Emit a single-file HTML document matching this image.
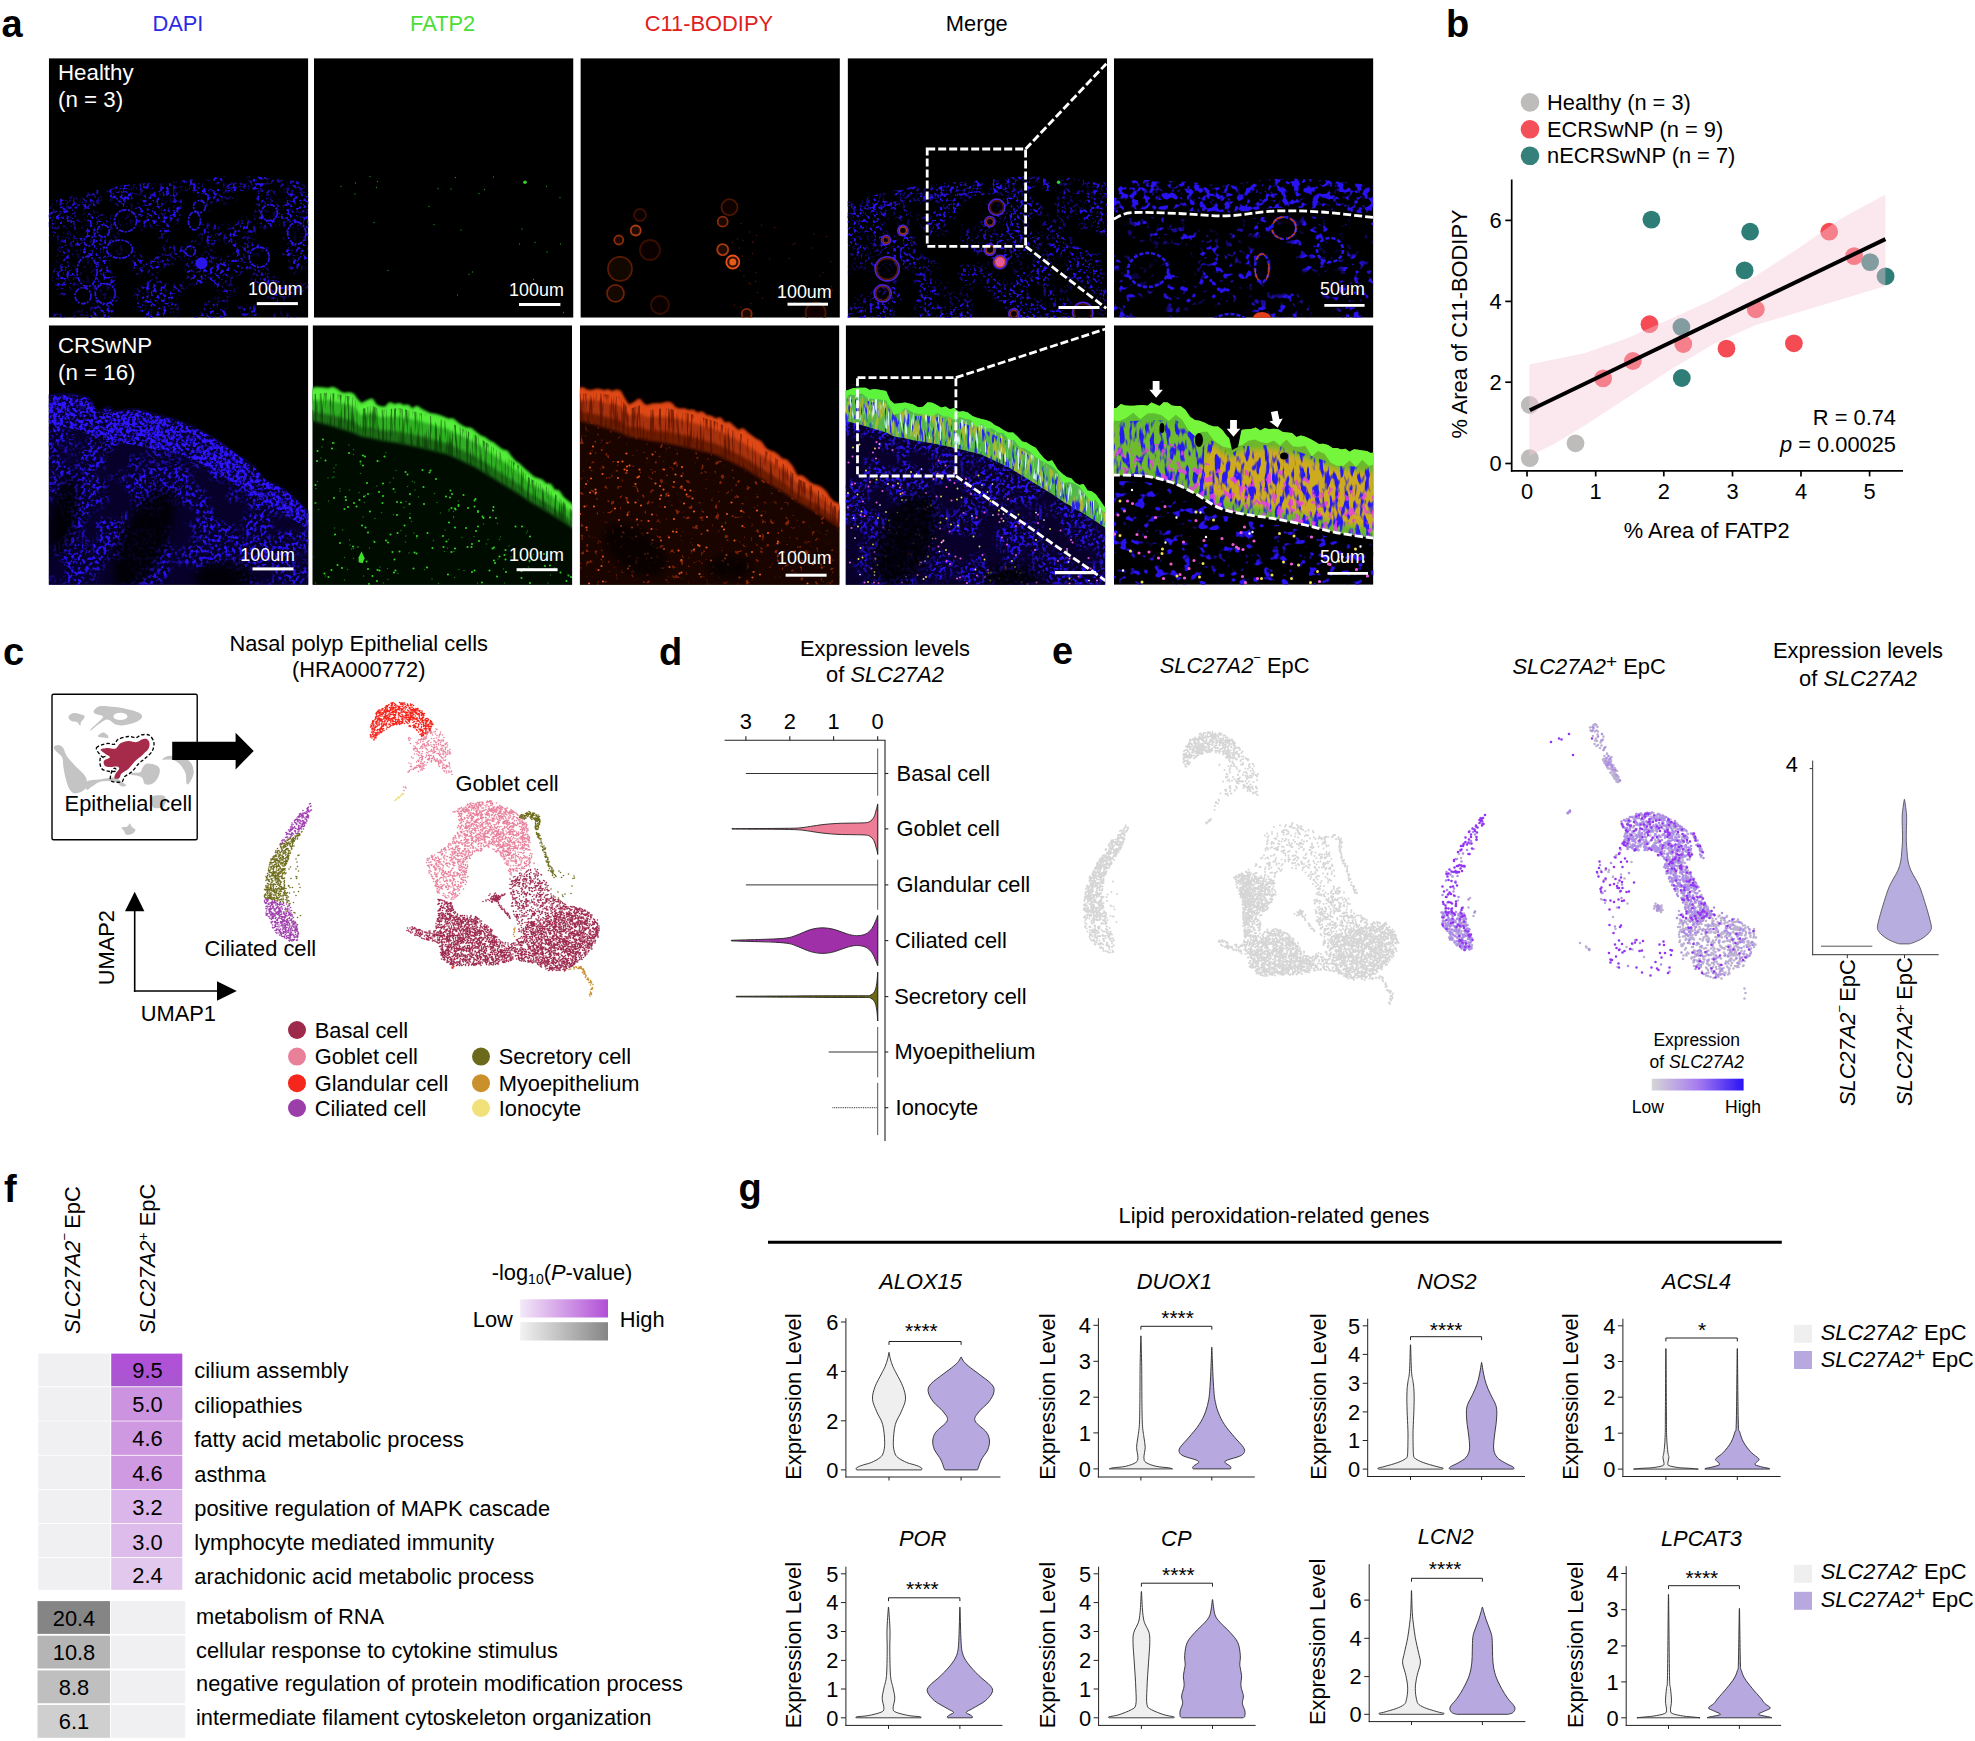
<!DOCTYPE html>
<html><head><meta charset="utf-8"><title>Figure</title>
<style>html,body{margin:0;padding:0;background:#fff}svg{display:block}text{font-family:"Liberation Sans",sans-serif}</style>
</head><body>
<svg width="1975" height="1741" viewBox="0 0 1975 1741">
<rect width="1975" height="1741" fill="#fff"/>
<text x="1446.0" y="36.5" font-size="38" font-weight="bold">b</text>
<circle cx="1530" cy="102.4" r="9.3" fill="#bdbcbb"/>
<text x="1547.0" y="110.0" font-size="21.85">Healthy (n = 3)</text>
<circle cx="1530" cy="129.3" r="9.3" fill="#f4505a"/>
<text x="1547.0" y="136.9" font-size="21.85">ECRSwNP (n = 9)</text>
<circle cx="1530" cy="155.8" r="9.3" fill="#35807a"/>
<text x="1547.0" y="163.4" font-size="21.85">nECRSwNP (n = 7)</text>
<circle cx="1529.8" cy="405.0" r="8.9" fill="#bdbcbb"/>
<circle cx="1529.8" cy="458.2" r="8.9" fill="#bdbcbb"/>
<circle cx="1575.5" cy="443.3" r="8.9" fill="#bdbcbb"/>
<circle cx="1603.1" cy="378.4" r="8.9" fill="#f54b55"/>
<circle cx="1632.9" cy="361.0" r="8.9" fill="#f54b55"/>
<circle cx="1649.5" cy="324.2" r="8.9" fill="#f54b55"/>
<circle cx="1683.3" cy="344.0" r="8.9" fill="#f54b55"/>
<circle cx="1726.5" cy="348.6" r="8.9" fill="#f54b55"/>
<circle cx="1755.8" cy="309.3" r="8.9" fill="#f54b55"/>
<circle cx="1793.9" cy="343.3" r="8.9" fill="#f54b55"/>
<circle cx="1829.2" cy="231.7" r="8.9" fill="#f54b55"/>
<circle cx="1854.1" cy="256.1" r="8.9" fill="#f54b55"/>
<circle cx="1651.4" cy="219.6" r="8.9" fill="#2f7d77"/>
<circle cx="1750.1" cy="231.7" r="8.9" fill="#2f7d77"/>
<circle cx="1744.6" cy="270.4" r="8.9" fill="#2f7d77"/>
<circle cx="1681.4" cy="327.0" r="8.9" fill="#2f7d77"/>
<circle cx="1681.8" cy="378.0" r="8.9" fill="#2f7d77"/>
<circle cx="1870.1" cy="262.1" r="8.9" fill="#2f7d77"/>
<circle cx="1885.6" cy="276.3" r="8.9" fill="#2f7d77"/>
<path d="M1529.3 364.6L1585.1 352.9L1627.6 338.0L1670.1 318.9L1712.7 299.7L1755.2 276.3L1797.7 248.7L1840.3 218.9L1885.4 194.5L1885.4 285.9L1840.3 299.7L1797.7 312.5L1755.2 325.3L1712.7 344.4L1670.1 369.9L1627.6 397.6L1585.1 425.2L1553.2 444.4L1529.3 456.0Z" fill="#f6c9d6" fill-opacity="0.42"/>
<line x1="1529.8" y1="410.3" x2="1885.4" y2="239.1" stroke="#000" stroke-width="4"/>
<line x1="1511.7" y1="179.6" x2="1511.7" y2="471.8" stroke="#000" stroke-width="1.7"/>
<line x1="1510.9" y1="470.9" x2="1903.0" y2="470.9" stroke="#000" stroke-width="1.7"/>
<line x1="1505.3" y1="220.4" x2="1511.7" y2="220.4" stroke="#000" stroke-width="1.7"/>
<text x="1501.7" y="228.1" font-size="21.85" text-anchor="end">6</text>
<line x1="1505.3" y1="301.4" x2="1511.7" y2="301.4" stroke="#000" stroke-width="1.7"/>
<text x="1501.7" y="309.1" font-size="21.85" text-anchor="end">4</text>
<line x1="1505.3" y1="382.2" x2="1511.7" y2="382.2" stroke="#000" stroke-width="1.7"/>
<text x="1501.7" y="389.9" font-size="21.85" text-anchor="end">2</text>
<line x1="1505.3" y1="463.5" x2="1511.7" y2="463.5" stroke="#000" stroke-width="1.7"/>
<text x="1501.7" y="471.2" font-size="21.85" text-anchor="end">0</text>
<line x1="1527.0" y1="470.9" x2="1527.0" y2="476.4" stroke="#000" stroke-width="1.7"/>
<text x="1527.0" y="498.9" font-size="21.85" text-anchor="middle">0</text>
<line x1="1595.7" y1="470.9" x2="1595.7" y2="476.4" stroke="#000" stroke-width="1.7"/>
<text x="1595.7" y="498.9" font-size="21.85" text-anchor="middle">1</text>
<line x1="1663.8" y1="470.9" x2="1663.8" y2="476.4" stroke="#000" stroke-width="1.7"/>
<text x="1663.8" y="498.9" font-size="21.85" text-anchor="middle">2</text>
<line x1="1732.5" y1="470.9" x2="1732.5" y2="476.4" stroke="#000" stroke-width="1.7"/>
<text x="1732.5" y="498.9" font-size="21.85" text-anchor="middle">3</text>
<line x1="1801.0" y1="470.9" x2="1801.0" y2="476.4" stroke="#000" stroke-width="1.7"/>
<text x="1801.0" y="498.9" font-size="21.85" text-anchor="middle">4</text>
<line x1="1869.6" y1="470.9" x2="1869.6" y2="476.4" stroke="#000" stroke-width="1.7"/>
<text x="1869.6" y="498.9" font-size="21.85" text-anchor="middle">5</text>
<text x="1896.0" y="424.6" font-size="21.85" text-anchor="end">R = 0.74</text>
<text x="1896.0" y="451.8" font-size="21.85" text-anchor="end"><tspan font-style="italic">p</tspan> = 0.00025</text>
<text x="1706.8" y="537.7" font-size="21.85" text-anchor="middle">% Area of FATP2</text>
<text x="1466.5" y="324.0" font-size="21.85" text-anchor="middle" transform="rotate(-90 1466.5 324.0)">% Area of C11-BODIPY</text>
<text x="3.0" y="665.0" font-size="38" font-weight="bold">c</text>
<text x="358.7" y="650.8" font-size="21.85" text-anchor="middle">Nasal polyp Epithelial cells</text>
<text x="358.7" y="677.3" font-size="21.85" text-anchor="middle">(HRA000772)</text>
<path d="M94.7 709.5C95.9 708.5 97.1 706.4 100.6 706.0C104.1 705.6 110.6 706.4 115.7 707.1C120.7 707.8 126.8 709.0 130.8 710.0C134.9 711.1 138.3 712.3 140.2 713.5C142.0 714.8 142.7 716.2 141.9 717.6C141.1 719.1 138.5 721.0 135.5 722.3C132.5 723.5 127.1 724.8 123.8 725.2C120.5 725.6 118.0 725.4 115.7 724.6C113.4 723.8 111.6 721.3 109.9 720.5C108.1 719.7 107.2 719.3 105.2 719.9C103.3 720.6 100.6 722.9 98.2 724.6C95.9 726.3 92.4 729.4 91.2 730.2C90.0 730.9 89.6 730.5 91.0 729.0C92.4 727.5 97.4 723.2 99.4 721.1C101.4 719.0 103.5 717.6 102.9 716.4C102.3 715.3 97.5 714.9 95.9 714.1C94.3 713.3 93.8 712.6 93.6 711.8C93.4 711.0 93.6 710.4 94.7 709.5Z" fill="#c4c4c4"/>
<path d="M68.5 716.4C68.9 715.1 71.3 713.2 73.8 712.9C76.2 712.7 81.3 714.3 83.1 715.0C84.9 715.8 84.8 716.4 84.5 717.6C84.1 718.8 81.7 720.9 81.0 722.3C80.3 723.7 80.8 726.0 80.2 726.0C79.6 726.0 78.7 723.1 77.3 722.3C75.8 721.5 72.9 722.1 71.4 721.1C70.0 720.1 68.1 717.8 68.5 716.4Z" fill="#c4c4c4"/>
<path d="M97.9 736.2C97.9 735.4 101.3 732.7 102.9 732.5C104.5 732.3 106.7 734.2 107.5 735.1C108.4 736.0 108.9 737.6 108.1 738.0C107.3 738.4 104.6 737.9 102.9 737.6C101.2 737.3 97.9 737.1 97.9 736.2Z" fill="#c4c4c4"/>
<path d="M54.0 746.7C54.6 745.8 57.1 744.8 58.6 745.0C60.2 745.2 61.9 746.0 63.3 747.9C64.6 749.7 64.8 753.1 66.8 756.0C68.7 758.9 72.2 762.4 74.9 765.4C77.7 768.3 81.1 771.2 83.1 773.5C85.0 775.8 86.1 777.0 86.6 779.3C87.1 781.7 87.0 785.3 86.0 787.5C85.0 789.6 82.8 791.2 80.8 792.1C78.7 793.1 75.7 793.9 73.8 793.3C71.8 792.7 70.5 791.2 69.1 788.6C67.8 786.1 66.6 781.9 65.6 778.2C64.6 774.5 63.9 770.0 63.3 766.5C62.7 763.0 63.5 759.9 62.1 757.2C60.8 754.5 56.5 752.0 55.1 750.2C53.8 748.5 53.4 747.6 54.0 746.7Z" fill="#c4c4c4"/>
<path d="M142.5 767.7C143.6 766.2 144.8 764.0 147.1 763.6C149.5 763.2 154.3 764.3 156.5 765.4C158.6 766.4 159.8 767.9 159.9 770.0C160.1 772.1 159.0 775.8 157.6 778.2C156.3 780.5 153.9 783.0 151.8 784.0C149.7 785.0 146.4 785.0 144.8 784.0C143.3 783.0 143.6 779.5 142.5 778.2C141.3 776.8 139.8 776.4 137.8 775.8C135.9 775.3 131.8 775.2 130.8 774.7C129.9 774.2 130.4 773.3 132.0 772.9C133.6 772.5 138.4 773.2 140.2 772.3C141.9 771.5 141.3 769.1 142.5 767.7Z" fill="#c4c4c4"/>
<path d="M162.3 759.5C162.3 758.9 165.2 756.6 168.1 756.0C171.0 755.5 176.1 755.1 179.7 756.0C183.4 757.0 187.9 759.1 190.2 761.9C192.6 764.6 193.7 769.0 193.7 772.3C193.7 775.6 191.4 779.7 190.2 781.7C189.1 783.6 187.5 785.3 186.7 784.0C186.0 782.6 186.5 776.6 185.6 773.5C184.6 770.4 182.7 767.5 180.9 765.4C179.2 763.2 177.2 761.7 175.1 760.7C173.0 759.7 170.2 759.7 168.1 759.5C166.0 759.3 162.3 760.1 162.3 759.5Z" fill="#c4c4c4"/>
<path d="M121.5 827.7C122.1 827.0 126.0 827.2 127.3 826.5C128.7 825.8 128.9 823.5 129.7 823.6C130.4 823.7 131.0 826.0 132.0 827.1C133.0 828.1 135.5 828.8 135.5 830.0C135.5 831.2 133.6 833.3 132.0 834.1C130.4 834.8 127.5 835.2 126.2 834.6C124.8 834.1 124.6 831.7 123.8 830.6C123.1 829.4 120.9 828.3 121.5 827.7Z" fill="#c4c4c4"/>
<path d="M151.8 796.8C153.5 794.9 161.1 794.9 163.4 795.6C165.8 796.4 166.0 799.5 165.8 801.5C165.6 803.4 164.4 806.3 162.3 807.3C160.1 808.2 154.7 809.0 153.0 807.3C151.2 805.5 150.1 798.7 151.8 796.8Z" fill="#c4c4c4"/>
<path d="M86.6 781.7C88.9 779.9 95.9 780.0 100.6 779.3C105.2 778.6 111.0 777.2 114.5 777.6C118.0 778.0 119.6 780.4 121.5 781.7C123.5 782.9 126.2 784.4 126.2 785.2C126.2 785.9 123.5 786.9 121.5 786.3C119.6 785.7 118.0 782.4 114.5 781.7C111.0 780.9 104.2 780.9 100.6 781.7C96.9 782.4 94.7 785.0 92.4 786.3C90.1 787.7 87.6 790.6 86.6 789.8C85.6 789.0 84.3 783.4 86.6 781.7Z" fill="#c4c4c4"/>
<ellipse cx="120.4" cy="716.4" rx="7" ry="3.6" fill="#fff"/>
<path d="M100.6 749.6C100.9 748.7 105.0 748.1 107.5 747.9C110.1 747.7 113.6 749.2 115.7 748.5C117.8 747.7 118.2 744.5 120.4 743.2C122.5 742.0 125.8 741.1 128.5 740.9C131.2 740.7 134.3 742.4 136.7 742.1C139.0 741.8 140.7 739.6 142.5 739.2C144.2 738.7 146.0 738.5 147.1 739.2C148.3 739.8 149.3 741.6 149.5 743.2C149.7 744.9 149.5 747.1 148.3 749.1C147.1 751.0 144.6 752.9 142.5 754.9C140.3 756.8 137.8 758.4 135.5 760.7C133.2 763.0 130.8 766.7 128.5 768.8C126.2 771.0 123.1 772.0 121.5 773.5C120.0 775.1 120.4 777.4 119.2 778.2C118.0 778.9 115.1 778.9 114.5 778.2C113.9 777.4 114.9 775.1 115.7 773.5C116.5 772.0 119.0 770.0 119.2 768.8C119.4 767.7 118.4 766.8 116.9 766.5C115.3 766.2 111.9 767.3 109.9 767.1C107.8 766.9 105.6 766.4 104.6 765.4C103.7 764.3 103.2 762.1 104.1 760.7C104.9 759.3 109.7 758.4 109.9 757.2C110.1 756.0 106.8 755.0 105.2 753.7C103.7 752.4 100.2 750.6 100.6 749.6Z" fill="#a62a4a"/>
<path d="M96.4 748.0C97.2 745.7 104.2 744.1 107.2 743.5C110.2 742.9 112.4 745.0 114.2 744.3C116.0 743.6 115.8 740.7 118.1 739.4C120.4 738.1 125.2 736.8 128.2 736.5C131.2 736.2 133.9 737.9 136.1 737.7C138.3 737.4 139.1 735.3 141.3 734.9C143.5 734.5 147.3 734.0 149.4 735.3C151.5 736.6 153.4 740.0 153.9 742.7C154.3 745.4 153.5 748.8 152.1 751.3C150.7 753.9 147.7 756.1 145.5 758.1C143.2 760.2 140.9 761.5 138.6 763.8C136.3 766.2 133.8 770.0 131.5 772.1C129.2 774.2 126.3 775.0 124.6 776.6C123.0 778.3 123.9 781.1 121.6 781.8C119.4 782.5 112.6 782.5 111.0 780.8C109.3 779.1 111.1 773.6 111.7 771.5C112.4 769.4 114.1 768.2 114.8 768.1C115.5 768.0 116.9 770.3 116.0 770.9C115.1 771.4 111.9 771.9 109.5 771.5C107.0 771.1 102.9 770.5 101.4 768.3C99.8 766.1 99.6 760.3 100.3 758.3C101.0 756.3 105.2 756.7 105.5 756.5C105.9 756.3 103.9 758.6 102.4 757.1C100.9 755.7 95.7 750.3 96.4 748.0Z" fill="none" stroke="#000" stroke-width="1.3" stroke-dasharray="3.5 2"/>
<rect x="52" y="694.2" width="145.2" height="145.6" rx="1.5" fill="none" stroke="#000" stroke-width="1.4"/>
<text x="64.6" y="810.8" font-size="21.85">Epithelial cell</text>
<path d="M172.2 741.8H235.6V732.7L253.7 751L235.6 769.4V760.1H172.2Z" fill="#000"/>
<line x1="134.7" y1="991.8" x2="134.7" y2="905.0" stroke="#000" stroke-width="1.6"/>
<line x1="133.9" y1="991.0" x2="222.0" y2="991.0" stroke="#000" stroke-width="1.6"/>
<path d="M134.7 891.8L144.4 911.3H125Z" fill="#000"/>
<path d="M236.8 991L217 981.3V1000.7Z" fill="#000"/>
<text x="113.8" y="947.6" font-size="21.85" text-anchor="middle" transform="rotate(-90 113.8 947.6)">UMAP2</text>
<text x="140.7" y="1021.0" font-size="21.85">UMAP1</text>
<text x="455.4" y="790.8" font-size="21.85">Goblet cell</text>
<text x="204.5" y="955.6" font-size="21.85">Ciliated cell</text>
<circle cx="297" cy="1030" r="9" fill="#9e2a4a"/>
<text x="314.7" y="1037.5" font-size="21.85">Basal cell</text>
<circle cx="297" cy="1056.6" r="9" fill="#e8809a"/>
<text x="314.7" y="1064.1" font-size="21.85">Goblet cell</text>
<circle cx="297" cy="1083.2" r="9" fill="#f5261c"/>
<text x="314.7" y="1090.7" font-size="21.85">Glandular cell</text>
<circle cx="297" cy="1108" r="9" fill="#9b3eaa"/>
<text x="314.7" y="1115.5" font-size="21.85">Ciliated cell</text>
<circle cx="481" cy="1056.6" r="9" fill="#6b6a1a"/>
<text x="498.7" y="1064.1" font-size="21.85">Secretory cell</text>
<circle cx="481" cy="1083.2" r="9" fill="#c9902b"/>
<text x="498.7" y="1090.7" font-size="21.85">Myoepithelium</text>
<circle cx="481" cy="1108" r="9" fill="#f2e07a"/>
<text x="498.7" y="1115.5" font-size="21.85">Ionocyte</text>
<text x="659.0" y="664.8" font-size="38" font-weight="bold">d</text>
<text x="885.0" y="655.7" font-size="21.85" text-anchor="middle">Expression levels</text>
<text x="885.0" y="682.1" font-size="21.85" text-anchor="middle">of <tspan font-style="italic">SLC27A2</tspan></text>
<line x1="724.6" y1="740.3" x2="885.5" y2="740.3" stroke="#222" stroke-width="1.1"/>
<line x1="885.0" y1="740.3" x2="885.0" y2="1141.0" stroke="#222" stroke-width="1.1"/>
<line x1="745.9" y1="736.3" x2="745.9" y2="740.3" stroke="#222" stroke-width="1.1"/>
<text x="745.9" y="729.3" font-size="21.85" text-anchor="middle">3</text>
<line x1="789.8" y1="736.3" x2="789.8" y2="740.3" stroke="#222" stroke-width="1.1"/>
<text x="789.8" y="729.3" font-size="21.85" text-anchor="middle">2</text>
<line x1="833.6" y1="736.3" x2="833.6" y2="740.3" stroke="#222" stroke-width="1.1"/>
<text x="833.6" y="729.3" font-size="21.85" text-anchor="middle">1</text>
<line x1="877.7" y1="736.3" x2="877.7" y2="740.3" stroke="#222" stroke-width="1.1"/>
<text x="877.7" y="729.3" font-size="21.85" text-anchor="middle">0</text>
<line x1="877.7" y1="748.5" x2="877.7" y2="795.7" stroke="#555" stroke-width="1"/>
<line x1="877.7" y1="804.8" x2="877.7" y2="855.1" stroke="#555" stroke-width="1"/>
<line x1="877.7" y1="859.6" x2="877.7" y2="909.8" stroke="#555" stroke-width="1"/>
<line x1="877.7" y1="915.3" x2="877.7" y2="965.6" stroke="#555" stroke-width="1"/>
<line x1="877.7" y1="972.3" x2="877.7" y2="1021.0" stroke="#555" stroke-width="1"/>
<line x1="877.7" y1="1027.0" x2="877.7" y2="1077.3" stroke="#555" stroke-width="1"/>
<line x1="877.7" y1="1082.8" x2="877.7" y2="1135.1" stroke="#555" stroke-width="1"/>
<line x1="885.0" y1="773.5" x2="888.3" y2="773.5" stroke="#222" stroke-width="1.1"/>
<text x="896.6" y="780.8" font-size="21.85">Basal cell</text>
<line x1="885.0" y1="828.9" x2="888.3" y2="828.9" stroke="#222" stroke-width="1.1"/>
<text x="896.6" y="836.2" font-size="21.85">Goblet cell</text>
<line x1="885.0" y1="884.9" x2="888.3" y2="884.9" stroke="#222" stroke-width="1.1"/>
<text x="896.6" y="892.2" font-size="21.85">Glandular cell</text>
<line x1="885.0" y1="940.6" x2="888.3" y2="940.6" stroke="#222" stroke-width="1.1"/>
<text x="895.1" y="947.9" font-size="21.85">Ciliated cell</text>
<line x1="885.0" y1="996.6" x2="888.3" y2="996.6" stroke="#222" stroke-width="1.1"/>
<text x="894.2" y="1003.9" font-size="21.85">Secretory cell</text>
<line x1="885.0" y1="1052.0" x2="888.3" y2="1052.0" stroke="#222" stroke-width="1.1"/>
<text x="894.5" y="1059.3" font-size="21.85">Myoepithelium</text>
<line x1="885.0" y1="1107.7" x2="888.3" y2="1107.7" stroke="#222" stroke-width="1.1"/>
<text x="895.6" y="1115.0" font-size="21.85">Ionocyte</text>
<line x1="745.9" y1="773.5" x2="877.7" y2="773.5" stroke="#333" stroke-width="1"/>
<line x1="745.9" y1="884.9" x2="877.7" y2="884.9" stroke="#333" stroke-width="1"/>
<line x1="828.7" y1="1052.0" x2="877.7" y2="1052.0" stroke="#333" stroke-width="1"/>
<line x1="832.4" y1="1107.7" x2="877.7" y2="1107.7" stroke="#333" stroke-width="1" stroke-dasharray="1 0.8"/>
<path d="M877.7 803.9C877.5 804.9 876.9 807.8 876.2 810.0C875.6 812.2 874.9 815.4 873.8 817.3C872.7 819.2 871.4 820.7 869.8 821.6C868.3 822.5 867.4 822.5 864.7 822.8C861.9 823.0 857.6 823.0 853.1 823.1C848.6 823.2 842.9 823.1 837.9 823.4C832.8 823.6 827.2 824.1 822.6 824.6C818.1 825.1 814.5 825.9 810.5 826.4C806.4 827.0 803.9 827.6 798.3 828.0C792.7 828.3 788.0 828.3 777.0 828.4C765.9 828.5 739.4 828.7 731.9 828.7L731.9 829.0C739.4 829.1 765.9 829.2 777.0 829.3C788.0 829.5 792.7 829.5 798.3 829.8C803.9 830.1 806.4 830.8 810.5 831.3C814.5 831.9 818.1 832.6 822.6 833.1C827.2 833.6 832.8 834.1 837.9 834.4C842.9 834.6 848.6 834.6 853.1 834.7C857.6 834.8 861.9 834.7 864.7 835.0C867.4 835.2 868.3 835.3 869.8 836.2C871.4 837.1 872.7 838.5 873.8 840.4C874.9 842.4 875.6 845.5 876.2 847.7C876.9 850.0 877.5 852.8 877.7 853.8Z" fill="#ee7d98" stroke="#222" stroke-width="0.9" stroke-linejoin="round"/>
<path d="M877.7 915.6C877.3 916.6 876.3 919.6 875.3 921.7C874.3 923.9 873.5 926.4 872.0 928.4C870.4 930.4 868.4 932.7 865.9 933.9C863.3 935.1 859.9 935.7 856.7 935.7C853.6 935.7 850.7 934.9 847.0 933.9C843.3 932.9 838.9 930.6 834.8 929.6C830.8 928.6 826.7 927.8 822.6 927.8C818.6 927.8 814.5 928.5 810.5 929.6C806.4 930.8 801.8 933.2 798.3 934.5C794.7 935.8 792.7 936.8 789.2 937.5C785.6 938.3 781.6 938.5 777.0 938.8C772.4 939.1 769.4 939.1 761.8 939.4C754.2 939.6 736.4 940.1 731.3 940.3L731.3 940.9C736.4 941.1 754.2 941.6 761.8 941.8C769.4 942.1 772.4 942.1 777.0 942.4C781.6 942.7 785.6 942.9 789.2 943.6C792.7 944.3 794.7 945.4 798.3 946.7C801.8 948.0 806.4 950.4 810.5 951.6C814.5 952.7 818.6 953.4 822.6 953.4C826.7 953.4 830.8 952.6 834.8 951.6C838.9 950.5 843.3 948.3 847.0 947.3C850.7 946.3 853.6 945.5 856.7 945.5C859.9 945.5 863.3 946.1 865.9 947.3C868.4 948.5 870.4 950.7 872.0 952.8C873.5 954.8 874.3 957.3 875.3 959.5C876.3 961.6 877.3 964.5 877.7 965.6Z" fill="#a030a8" stroke="#222" stroke-width="0.9" stroke-linejoin="round"/>
<path d="M877.7 972.3C877.6 973.8 877.3 978.6 877.0 981.4C876.6 984.2 876.2 987.1 875.6 989.0C875.0 990.9 874.3 991.9 873.5 993.0C872.6 994.0 871.8 994.6 870.4 995.1C869.1 995.5 873.2 995.6 865.3 995.7C857.3 995.8 844.2 995.7 822.6 995.8C801.1 995.9 750.6 996.2 736.2 996.3L736.2 996.9C750.6 997.0 801.1 997.3 822.6 997.4C844.2 997.5 857.3 997.4 865.3 997.5C873.2 997.6 869.1 997.7 870.4 998.1C871.8 998.6 872.6 999.2 873.5 1000.3C874.3 1001.3 875.0 1002.3 875.6 1004.2C876.2 1006.1 876.6 1009.0 877.0 1011.8C877.3 1014.6 877.6 1019.4 877.7 1021.0Z" fill="#6b6a10" stroke="#222" stroke-width="0.9" stroke-linejoin="round"/>
<text x="1052.0" y="663.5" font-size="38" font-weight="bold">e</text>
<text x="1159.8" y="673.0" font-size="21.85"><tspan font-style="italic">SLC27A2</tspan><tspan dy="-11" font-size="13">−</tspan><tspan dy="11"> EpC</tspan></text>
<text x="1512.5" y="674.0" font-size="21.85"><tspan font-style="italic">SLC27A2</tspan><tspan dy="-6.5" font-size="19">+</tspan><tspan dy="6.5"> EpC</tspan></text>
<text x="1858.0" y="658.3" font-size="21.85" text-anchor="middle">Expression levels</text>
<text x="1858.0" y="685.8" font-size="21.85" text-anchor="middle">of <tspan font-style="italic">SLC27A2</tspan></text>
<line x1="1812.7" y1="760.6" x2="1812.7" y2="955.2" stroke="#333" stroke-width="1"/>
<line x1="1812.2" y1="954.7" x2="1938.7" y2="954.7" stroke="#333" stroke-width="1"/>
<line x1="1809.7" y1="768.6" x2="1812.7" y2="768.6" stroke="#333" stroke-width="1"/>
<text x="1798.0" y="771.5" font-size="21.85" text-anchor="end">4</text>
<line x1="1847.3" y1="954.7" x2="1847.3" y2="958.2" stroke="#333" stroke-width="1"/>
<line x1="1904.5" y1="954.7" x2="1904.5" y2="958.2" stroke="#333" stroke-width="1"/>
<line x1="1821.0" y1="946.2" x2="1872.3" y2="946.2" stroke="#555" stroke-width="1"/>
<path d="M1908.9 943.9C1909.6 943.8 1911.0 943.6 1912.9 942.8C1914.9 942.1 1918.2 940.8 1920.5 939.5C1922.9 938.2 1925.1 936.5 1926.8 935.0C1928.5 933.5 1929.9 932.0 1930.6 930.5C1931.4 929.0 1931.6 928.6 1931.3 926.0C1931.0 923.4 1929.7 918.9 1928.6 914.8C1927.5 910.7 1926.0 905.8 1924.6 901.4C1923.2 896.9 1921.6 891.7 1920.1 887.9C1918.6 884.2 1917.2 881.9 1915.6 879.0C1914.0 876.0 1911.9 873.0 1910.7 870.0C1909.4 867.0 1908.6 864.0 1908.0 861.0C1907.4 858.0 1907.4 855.4 1907.1 852.1C1906.8 848.7 1906.4 844.6 1906.3 840.9C1906.2 837.1 1906.4 833.8 1906.4 829.6C1906.5 825.5 1906.8 819.9 1906.6 816.2C1906.5 812.5 1906.1 810.0 1905.7 807.2C1905.4 804.4 1904.7 800.7 1904.5 799.4L1904.3 799.4C1904.1 800.7 1903.4 804.4 1903.1 807.2C1902.7 810.0 1902.3 812.5 1902.2 816.2C1902.0 819.9 1902.3 825.5 1902.4 829.6C1902.4 833.8 1902.6 837.1 1902.5 840.9C1902.4 844.6 1902.0 848.7 1901.7 852.1C1901.4 855.4 1901.4 858.0 1900.8 861.0C1900.2 864.0 1899.4 867.0 1898.1 870.0C1896.9 873.0 1894.8 876.0 1893.2 879.0C1891.6 881.9 1890.2 884.2 1888.7 887.9C1887.2 891.7 1885.6 896.9 1884.2 901.4C1882.8 905.8 1881.3 910.7 1880.2 914.8C1879.1 918.9 1877.8 923.4 1877.5 926.0C1877.2 928.6 1877.4 929.0 1878.2 930.5C1878.9 932.0 1880.3 933.5 1882.0 935.0C1883.7 936.5 1885.9 938.2 1888.3 939.5C1890.6 940.8 1893.9 942.1 1895.9 942.8C1897.8 943.6 1899.2 943.8 1899.9 943.9Z" fill="#b8addf" stroke="#444" stroke-width="0.8" stroke-linejoin="round"/>
<text x="1854.8" y="1106.0" font-size="21.85" transform="rotate(-90 1854.8 1106.0)"><tspan font-style="italic">SLC27A2</tspan><tspan dy="-11" font-size="13">−</tspan><tspan dy="11" dx="-3"> EpC</tspan></text>
<text x="1912.0" y="1106.0" font-size="21.85" transform="rotate(-90 1912.0 1106.0)"><tspan font-style="italic">SLC27A2</tspan><tspan dy="-7.5" font-size="14">+</tspan><tspan dy="7.5" dx="-1.5"> EpC</tspan></text>
<defs><linearGradient id="ge"><stop offset="0" stop-color="#d6d6d6"/><stop offset="0.5" stop-color="#a77cf0"/><stop offset="1" stop-color="#2a12f5"/></linearGradient></defs>
<text x="1696.7" y="1045.6" font-size="17.5" text-anchor="middle">Expression</text>
<text x="1696.7" y="1068.3" font-size="17.5" text-anchor="middle">of <tspan font-style="italic">SLC27A2</tspan></text>
<rect x="1651.7" y="1078.7" width="91.9" height="11.8" fill="url(#ge)"/>
<text x="1631.8" y="1112.8" font-size="17.5">Low</text>
<text x="1725.0" y="1112.8" font-size="17.5">High</text>
<defs><linearGradient id="gp"><stop offset="0" stop-color="#f3e9f8"/><stop offset="1" stop-color="#b14fd6"/></linearGradient><linearGradient id="gg"><stop offset="0" stop-color="#f2f2f2"/><stop offset="1" stop-color="#858585"/></linearGradient><linearGradient id="g95" x1="0" y1="0" x2="0" y2="1"><stop offset="0" stop-color="#b24fd8"/><stop offset="1" stop-color="#a857d0"/></linearGradient></defs>
<text x="4.0" y="1202.0" font-size="38" font-weight="bold">f</text>
<text x="80.3" y="1334.0" font-size="21.85" transform="rotate(-90 80.3 1334.0)"><tspan font-style="italic">SLC27A2</tspan><tspan dy="-11" font-size="13">−</tspan><tspan dy="11" dx="-2"> EpC</tspan></text>
<text x="155.0" y="1334.0" font-size="21.85" transform="rotate(-90 155.0 1334.0)"><tspan font-style="italic">SLC27A2</tspan><tspan dy="-7.5" font-size="14">+</tspan><tspan dy="7.5"> EpC</tspan></text>
<rect x="38.3" y="1353.6" width="71.8" height="32.7" fill="#f0eff2"/>
<rect x="111.2" y="1353.6" width="71.1" height="32.7" fill="url(#g95)"/>
<text x="147.5" y="1377.6" font-size="21.85" text-anchor="middle">9.5</text>
<text x="194.3" y="1378.3" font-size="21.85">cilium assembly</text>
<rect x="38.3" y="1387.2" width="71.8" height="33.5" fill="#f0eff2"/>
<rect x="111.2" y="1387.2" width="71.1" height="33.5" fill="#cc93e0"/>
<text x="147.5" y="1411.8" font-size="21.85" text-anchor="middle">5.0</text>
<text x="194.3" y="1412.5" font-size="21.85">ciliopathies</text>
<rect x="38.3" y="1421.4" width="71.8" height="33.5" fill="#f0eff2"/>
<rect x="111.2" y="1421.4" width="71.1" height="33.5" fill="#cf99e2"/>
<text x="147.5" y="1446.4" font-size="21.85" text-anchor="middle">4.6</text>
<text x="194.3" y="1447.1" font-size="21.85">fatty acid metabolic process</text>
<rect x="38.3" y="1455.7" width="71.8" height="33.5" fill="#f0eff2"/>
<rect x="111.2" y="1455.7" width="71.1" height="33.5" fill="#cf9ae2"/>
<text x="147.5" y="1480.9" font-size="21.85" text-anchor="middle">4.6</text>
<text x="194.3" y="1481.6" font-size="21.85">asthma</text>
<rect x="38.3" y="1490.0" width="71.8" height="33.1" fill="#f0eff2"/>
<rect x="111.2" y="1490.0" width="71.1" height="33.1" fill="#dbb6ea"/>
<text x="147.5" y="1515.3" font-size="21.85" text-anchor="middle">3.2</text>
<text x="194.3" y="1516.0" font-size="21.85">positive regulation of MAPK cascade</text>
<rect x="38.3" y="1523.9" width="71.8" height="33.1" fill="#f0eff2"/>
<rect x="111.2" y="1523.9" width="71.1" height="33.1" fill="#ddbbeb"/>
<text x="147.5" y="1549.5" font-size="21.85" text-anchor="middle">3.0</text>
<text x="194.3" y="1550.2" font-size="21.85">lymphocyte mediated immunity</text>
<rect x="38.3" y="1557.8" width="71.8" height="32.0" fill="#f0eff2"/>
<rect x="111.2" y="1557.8" width="71.1" height="32.0" fill="#e3c8ee"/>
<text x="147.5" y="1583.2" font-size="21.85" text-anchor="middle">2.4</text>
<text x="194.3" y="1583.9" font-size="21.85">arachidonic acid metabolic process</text>
<rect x="37.5" y="1601.1" width="72.5" height="32.8" fill="#858585"/>
<rect x="111.0" y="1601.1" width="74.2" height="32.8" fill="#f0eff2"/>
<text x="74.0" y="1625.5" font-size="21.85" text-anchor="middle">20.4</text>
<text x="196.0" y="1623.5" font-size="21.85">metabolism of RNA</text>
<rect x="37.5" y="1635.7" width="72.5" height="32.8" fill="#b5b5b5"/>
<rect x="111.0" y="1635.7" width="74.2" height="32.8" fill="#f0eff2"/>
<text x="74.0" y="1660.1" font-size="21.85" text-anchor="middle">10.8</text>
<text x="196.0" y="1658.1" font-size="21.85">cellular response to cytokine stimulus</text>
<rect x="37.5" y="1670.4" width="72.5" height="32.8" fill="#bfbfbf"/>
<rect x="111.0" y="1670.4" width="74.2" height="32.8" fill="#f0eff2"/>
<text x="74.0" y="1694.8" font-size="21.85" text-anchor="middle">8.8</text>
<text x="196.0" y="1691.3" font-size="21.85">negative regulation of protein modification process</text>
<rect x="37.5" y="1705.0" width="72.5" height="32.8" fill="#cfcfcf"/>
<rect x="111.0" y="1705.0" width="74.2" height="32.8" fill="#f0eff2"/>
<text x="74.0" y="1729.4" font-size="21.85" text-anchor="middle">6.1</text>
<text x="196.0" y="1724.8" font-size="21.85">intermediate filament cytoskeleton organization</text>
<text x="562.0" y="1279.6" font-size="21.85" text-anchor="middle">-log<tspan dy="4" font-size="14">10</tspan><tspan dy="-4">(</tspan><tspan font-style="italic">P</tspan>-value)</text>
<rect x="520.2" y="1299.3" width="87.8" height="18.2" fill="url(#gp)"/>
<rect x="520.2" y="1322.2" width="87.8" height="18.3" fill="url(#gg)"/>
<text x="472.8" y="1326.5" font-size="21.85">Low</text>
<text x="619.7" y="1326.5" font-size="21.85">High</text>
<text x="738.5" y="1200.5" font-size="38" font-weight="bold">g</text>
<text x="1274.0" y="1223.0" font-size="21.85" text-anchor="middle">Lipid peroxidation-related genes</text>
<line x1="768.0" y1="1242.2" x2="1781.8" y2="1242.2" stroke="#000" stroke-width="3"/>
<text x="920.5" y="1288.5" font-size="21.85" text-anchor="middle" font-style="italic">ALOX15</text>
<line x1="845.9" y1="1318.2" x2="845.9" y2="1477.5" stroke="#222" stroke-width="1"/>
<line x1="845.4" y1="1477.0" x2="1000.4" y2="1477.0" stroke="#222" stroke-width="1"/>
<line x1="840.9" y1="1322.0" x2="845.9" y2="1322.0" stroke="#222" stroke-width="1"/>
<text x="838.4" y="1329.7" font-size="21.85" text-anchor="end">6</text>
<line x1="840.9" y1="1371.4" x2="845.9" y2="1371.4" stroke="#222" stroke-width="1"/>
<text x="838.4" y="1379.1" font-size="21.85" text-anchor="end">4</text>
<line x1="840.9" y1="1420.8" x2="845.9" y2="1420.8" stroke="#222" stroke-width="1"/>
<text x="838.4" y="1428.5" font-size="21.85" text-anchor="end">2</text>
<line x1="840.9" y1="1469.9" x2="845.9" y2="1469.9" stroke="#222" stroke-width="1"/>
<text x="838.4" y="1477.6" font-size="21.85" text-anchor="end">0</text>
<line x1="889.0" y1="1477.0" x2="889.0" y2="1480.5" stroke="#222" stroke-width="1"/>
<line x1="961.1" y1="1477.0" x2="961.1" y2="1480.5" stroke="#222" stroke-width="1"/>
<path d="M921.4 1469.9C921.4 1469.6 922.4 1468.8 921.7 1468.1C920.9 1467.4 919.3 1466.5 916.8 1465.6C914.4 1464.6 909.9 1463.9 906.7 1462.5C903.6 1461.2 899.9 1459.2 897.9 1457.5C895.8 1455.8 895.3 1454.9 894.6 1452.4C893.8 1449.9 893.2 1446.9 893.3 1442.3C893.4 1437.6 894.0 1429.6 895.3 1424.6C896.6 1419.5 899.5 1416.1 901.2 1411.9C902.8 1407.7 905.2 1403.5 905.5 1399.2C905.8 1395.0 904.4 1390.8 902.9 1386.6C901.4 1382.4 898.3 1377.3 896.6 1373.9C894.9 1370.5 893.9 1368.9 892.8 1366.3C891.7 1363.8 890.9 1361.1 890.3 1358.7C889.7 1356.4 889.3 1353.5 889.1 1352.4L888.9 1352.4C888.7 1353.5 888.3 1356.4 887.7 1358.7C887.1 1361.1 886.3 1363.8 885.2 1366.3C884.1 1368.9 883.1 1370.5 881.4 1373.9C879.7 1377.3 876.6 1382.4 875.1 1386.6C873.6 1390.8 872.2 1395.0 872.5 1399.2C872.8 1403.5 875.2 1407.7 876.8 1411.9C878.5 1416.1 881.4 1419.5 882.7 1424.6C884.0 1429.6 884.6 1437.6 884.7 1442.3C884.8 1446.9 884.2 1449.9 883.4 1452.4C882.7 1454.9 882.2 1455.8 880.1 1457.5C878.1 1459.2 874.4 1461.2 871.3 1462.5C868.1 1463.9 863.6 1464.6 861.2 1465.6C858.7 1466.5 857.1 1467.4 856.3 1468.1C855.6 1468.8 856.6 1469.6 856.6 1469.9Z" fill="#eeefee" stroke="#2a2a2a" stroke-width="0.9" stroke-linejoin="round"/>
<path d="M976.8 1469.9C977.0 1469.7 977.3 1470.3 977.8 1469.1C978.4 1467.9 979.3 1464.5 980.1 1462.5C980.9 1460.6 981.4 1459.6 982.6 1457.5C983.9 1455.4 986.5 1452.6 987.7 1449.9C988.8 1447.1 989.7 1444.0 989.5 1441.0C989.2 1438.1 988.8 1435.5 986.4 1432.2C984.0 1428.8 976.3 1424.1 975.0 1420.8C973.8 1417.4 976.5 1415.1 978.8 1411.9C981.1 1408.7 986.4 1405.1 988.9 1401.8C991.5 1398.4 993.6 1394.6 994.0 1391.6C994.4 1388.7 994.0 1387.0 991.5 1384.1C988.9 1381.1 982.6 1376.9 978.8 1373.9C975.0 1371.0 971.2 1368.4 968.7 1366.3C966.2 1364.2 964.9 1362.8 963.6 1361.3C962.4 1359.7 961.6 1357.7 961.2 1357.0L961.0 1357.0C960.6 1357.7 959.8 1359.7 958.6 1361.3C957.3 1362.8 956.0 1364.2 953.5 1366.3C951.0 1368.4 947.2 1371.0 943.4 1373.9C939.6 1376.9 933.3 1381.1 930.7 1384.1C928.2 1387.0 927.8 1388.7 928.2 1391.6C928.6 1394.6 930.7 1398.4 933.3 1401.8C935.8 1405.1 941.1 1408.7 943.4 1411.9C945.7 1415.1 948.4 1417.4 947.2 1420.8C945.9 1424.1 938.2 1428.8 935.8 1432.2C933.4 1435.5 933.0 1438.1 932.7 1441.0C932.5 1444.0 933.4 1447.1 934.5 1449.9C935.7 1452.6 938.3 1455.4 939.6 1457.5C940.8 1459.6 941.3 1460.6 942.1 1462.5C942.9 1464.5 943.8 1467.9 944.4 1469.1C944.9 1470.3 945.2 1469.7 945.4 1469.9Z" fill="#b7a8e0" stroke="#2a2a2a" stroke-width="0.9" stroke-linejoin="round"/>
<path d="M889.0 1344.9V1341.5H961.1V1344.9" fill="none" stroke="#222" stroke-width="1"/>
<text x="921.4" y="1338.0" font-size="21" text-anchor="middle">****</text>
<text x="801.3" y="1396.6" font-size="21.85" text-anchor="middle" transform="rotate(-90 801.3 1396.6)">Expression Level</text>
<text x="1174.4" y="1288.5" font-size="21.85" text-anchor="middle" font-style="italic">DUOX1</text>
<line x1="1098.4" y1="1318.2" x2="1098.4" y2="1477.5" stroke="#222" stroke-width="1"/>
<line x1="1097.9" y1="1477.0" x2="1254.8" y2="1477.0" stroke="#222" stroke-width="1"/>
<line x1="1093.4" y1="1325.3" x2="1098.4" y2="1325.3" stroke="#222" stroke-width="1"/>
<text x="1090.9" y="1333.0" font-size="21.85" text-anchor="end">4</text>
<line x1="1093.4" y1="1361.3" x2="1098.4" y2="1361.3" stroke="#222" stroke-width="1"/>
<text x="1090.9" y="1369.0" font-size="21.85" text-anchor="end">3</text>
<line x1="1093.4" y1="1397.2" x2="1098.4" y2="1397.2" stroke="#222" stroke-width="1"/>
<text x="1090.9" y="1404.9" font-size="21.85" text-anchor="end">2</text>
<line x1="1093.4" y1="1432.9" x2="1098.4" y2="1432.9" stroke="#222" stroke-width="1"/>
<text x="1090.9" y="1440.6" font-size="21.85" text-anchor="end">1</text>
<line x1="1093.4" y1="1468.9" x2="1098.4" y2="1468.9" stroke="#222" stroke-width="1"/>
<text x="1090.9" y="1476.6" font-size="21.85" text-anchor="end">0</text>
<line x1="1140.9" y1="1477.0" x2="1140.9" y2="1480.5" stroke="#222" stroke-width="1"/>
<line x1="1211.8" y1="1477.0" x2="1211.8" y2="1480.5" stroke="#222" stroke-width="1"/>
<path d="M1172.5 1468.9C1171.9 1468.7 1171.5 1468.3 1168.7 1467.8C1166.0 1467.4 1159.9 1467.2 1156.1 1466.3C1152.3 1465.4 1148.0 1464.0 1146.0 1462.5C1143.9 1461.1 1144.1 1460.0 1143.9 1457.5C1143.8 1454.9 1145.2 1450.7 1145.2 1447.3C1145.2 1444.0 1144.4 1441.0 1143.9 1437.2C1143.5 1433.4 1142.8 1430.9 1142.4 1424.6C1142.1 1418.2 1142.0 1408.9 1141.9 1399.2C1141.8 1389.5 1141.8 1376.9 1141.7 1366.3C1141.5 1355.8 1141.1 1341.0 1141.0 1335.9L1140.8 1335.9C1140.7 1341.0 1140.3 1355.8 1140.1 1366.3C1140.0 1376.9 1140.0 1389.5 1139.9 1399.2C1139.8 1408.9 1139.7 1418.2 1139.4 1424.6C1139.0 1430.9 1138.3 1433.4 1137.9 1437.2C1137.4 1441.0 1136.6 1444.0 1136.6 1447.3C1136.6 1450.7 1138.0 1454.9 1137.9 1457.5C1137.7 1460.0 1137.9 1461.1 1135.8 1462.5C1133.8 1464.0 1129.5 1465.4 1125.7 1466.3C1121.9 1467.2 1115.8 1467.4 1113.1 1467.8C1110.3 1468.3 1109.9 1468.7 1109.3 1468.9Z" fill="#eeefee" stroke="#2a2a2a" stroke-width="0.9" stroke-linejoin="round"/>
<path d="M1230.3 1468.9C1230.4 1468.7 1231.2 1468.4 1231.0 1467.8C1230.9 1467.3 1230.5 1466.5 1229.5 1465.6C1228.5 1464.7 1225.3 1463.5 1225.0 1462.5C1224.6 1461.6 1225.0 1461.1 1227.5 1460.0C1229.9 1458.9 1236.9 1457.5 1239.6 1456.2C1242.4 1454.9 1243.6 1453.9 1244.2 1452.4C1244.8 1450.9 1245.0 1449.9 1243.4 1447.3C1241.8 1444.8 1237.7 1441.0 1234.6 1437.2C1231.4 1433.4 1227.2 1428.8 1224.5 1424.6C1221.7 1420.3 1219.7 1416.1 1218.1 1411.9C1216.5 1407.7 1215.6 1403.5 1214.8 1399.2C1214.1 1395.0 1214.0 1392.1 1213.6 1386.6C1213.2 1381.1 1212.8 1372.9 1212.6 1366.3C1212.3 1359.8 1212.0 1350.5 1211.9 1347.3L1211.7 1347.3C1211.6 1350.5 1211.3 1359.8 1211.0 1366.3C1210.8 1372.9 1210.4 1381.1 1210.0 1386.6C1209.6 1392.1 1209.5 1395.0 1208.8 1399.2C1208.0 1403.5 1207.1 1407.7 1205.5 1411.9C1203.9 1416.1 1201.9 1420.3 1199.1 1424.6C1196.4 1428.8 1192.2 1433.4 1189.0 1437.2C1185.9 1441.0 1181.8 1444.8 1180.2 1447.3C1178.6 1449.9 1178.8 1450.9 1179.4 1452.4C1180.0 1453.9 1181.2 1454.9 1184.0 1456.2C1186.7 1457.5 1193.7 1458.9 1196.1 1460.0C1198.6 1461.1 1199.0 1461.6 1198.6 1462.5C1198.3 1463.5 1195.1 1464.7 1194.1 1465.6C1193.1 1466.5 1192.7 1467.3 1192.6 1467.8C1192.4 1468.4 1193.2 1468.7 1193.3 1468.9Z" fill="#b7a8e0" stroke="#2a2a2a" stroke-width="0.9" stroke-linejoin="round"/>
<path d="M1140.9 1329.7V1326.3H1211.8V1329.7" fill="none" stroke="#222" stroke-width="1"/>
<text x="1177.6" y="1324.6" font-size="21" text-anchor="middle">****</text>
<text x="1054.7" y="1396.6" font-size="21.85" text-anchor="middle" transform="rotate(-90 1054.7 1396.6)">Expression Level</text>
<text x="1446.8" y="1288.8" font-size="21.85" text-anchor="middle" font-style="italic">NOS2</text>
<line x1="1367.7" y1="1318.7" x2="1367.7" y2="1477.0" stroke="#222" stroke-width="1"/>
<line x1="1367.2" y1="1476.5" x2="1525.0" y2="1476.5" stroke="#222" stroke-width="1"/>
<line x1="1362.7" y1="1325.8" x2="1367.7" y2="1325.8" stroke="#222" stroke-width="1"/>
<text x="1360.2" y="1333.5" font-size="21.85" text-anchor="end">5</text>
<line x1="1362.7" y1="1354.4" x2="1367.7" y2="1354.4" stroke="#222" stroke-width="1"/>
<text x="1360.2" y="1362.1" font-size="21.85" text-anchor="end">4</text>
<line x1="1362.7" y1="1383.3" x2="1367.7" y2="1383.3" stroke="#222" stroke-width="1"/>
<text x="1360.2" y="1391.0" font-size="21.85" text-anchor="end">3</text>
<line x1="1362.7" y1="1411.9" x2="1367.7" y2="1411.9" stroke="#222" stroke-width="1"/>
<text x="1360.2" y="1419.6" font-size="21.85" text-anchor="end">2</text>
<line x1="1362.7" y1="1440.5" x2="1367.7" y2="1440.5" stroke="#222" stroke-width="1"/>
<text x="1360.2" y="1448.2" font-size="21.85" text-anchor="end">1</text>
<line x1="1362.7" y1="1469.1" x2="1367.7" y2="1469.1" stroke="#222" stroke-width="1"/>
<text x="1360.2" y="1476.8" font-size="21.85" text-anchor="end">0</text>
<line x1="1410.5" y1="1476.5" x2="1410.5" y2="1480.0" stroke="#222" stroke-width="1"/>
<line x1="1481.6" y1="1476.5" x2="1481.6" y2="1480.0" stroke="#222" stroke-width="1"/>
<path d="M1442.4 1469.1C1442.5 1468.9 1444.0 1468.6 1442.9 1468.1C1441.8 1467.6 1439.1 1467.3 1435.8 1466.3C1432.5 1465.4 1426.5 1463.8 1423.2 1462.5C1419.8 1461.3 1417.2 1460.0 1415.6 1458.7C1414.0 1457.5 1414.0 1458.5 1413.5 1454.9C1413.1 1451.4 1413.1 1442.3 1413.0 1437.2C1413.0 1432.2 1413.1 1429.6 1413.3 1424.6C1413.5 1419.5 1413.9 1412.3 1414.0 1406.8C1414.2 1401.4 1414.2 1395.9 1414.0 1391.6C1413.9 1387.4 1413.5 1384.9 1413.0 1381.5C1412.6 1378.1 1411.9 1377.5 1411.5 1371.4C1411.1 1365.3 1410.8 1349.2 1410.6 1344.8L1410.4 1344.8C1410.2 1349.2 1409.9 1365.3 1409.5 1371.4C1409.1 1377.5 1408.4 1378.1 1408.0 1381.5C1407.5 1384.9 1407.1 1387.4 1407.0 1391.6C1406.8 1395.9 1406.8 1401.4 1407.0 1406.8C1407.1 1412.3 1407.5 1419.5 1407.7 1424.6C1407.9 1429.6 1408.0 1432.2 1408.0 1437.2C1407.9 1442.3 1407.9 1451.4 1407.5 1454.9C1407.0 1458.5 1407.0 1457.5 1405.4 1458.7C1403.8 1460.0 1401.2 1461.3 1397.8 1462.5C1394.5 1463.8 1388.5 1465.4 1385.2 1466.3C1381.9 1467.3 1379.2 1467.6 1378.1 1468.1C1377.0 1468.6 1378.5 1468.9 1378.6 1469.1Z" fill="#eeefee" stroke="#2a2a2a" stroke-width="0.9" stroke-linejoin="round"/>
<path d="M1513.5 1469.1C1513.6 1468.9 1514.3 1468.6 1514.0 1468.1C1513.8 1467.6 1513.6 1467.3 1512.0 1466.3C1510.4 1465.4 1506.8 1464.0 1504.4 1462.5C1501.9 1461.1 1499.1 1459.6 1497.3 1457.5C1495.5 1455.4 1494.3 1453.2 1493.8 1449.9C1493.2 1446.5 1493.9 1441.4 1494.3 1437.2C1494.6 1433.0 1495.6 1428.8 1496.0 1424.6C1496.5 1420.3 1496.9 1415.3 1496.8 1411.9C1496.7 1408.5 1496.6 1407.3 1495.5 1404.3C1494.5 1401.4 1492.0 1397.6 1490.5 1394.2C1488.9 1390.8 1487.3 1387.4 1486.2 1384.1C1485.0 1380.7 1484.4 1377.5 1483.6 1373.9C1482.9 1370.3 1482.0 1364.4 1481.7 1362.5L1481.5 1362.5C1481.2 1364.4 1480.3 1370.3 1479.6 1373.9C1478.8 1377.5 1478.2 1380.7 1477.0 1384.1C1475.9 1387.4 1474.3 1390.8 1472.7 1394.2C1471.2 1397.6 1468.7 1401.4 1467.7 1404.3C1466.6 1407.3 1466.5 1408.5 1466.4 1411.9C1466.3 1415.3 1466.7 1420.3 1467.2 1424.6C1467.6 1428.8 1468.6 1433.0 1468.9 1437.2C1469.3 1441.4 1470.0 1446.5 1469.4 1449.9C1468.9 1453.2 1467.7 1455.4 1465.9 1457.5C1464.1 1459.6 1461.3 1461.1 1458.8 1462.5C1456.4 1464.0 1452.8 1465.4 1451.2 1466.3C1449.6 1467.3 1449.4 1467.6 1449.2 1468.1C1448.9 1468.6 1449.6 1468.9 1449.7 1469.1Z" fill="#b7a8e0" stroke="#2a2a2a" stroke-width="0.9" stroke-linejoin="round"/>
<path d="M1410.5 1340.1V1336.7H1481.6V1340.1" fill="none" stroke="#222" stroke-width="1"/>
<text x="1446.2" y="1336.5" font-size="21" text-anchor="middle">****</text>
<text x="1326.0" y="1396.6" font-size="21.85" text-anchor="middle" transform="rotate(-90 1326.0 1396.6)">Expression Level</text>
<text x="1696.5" y="1288.8" font-size="21.85" text-anchor="middle" font-style="italic">ACSL4</text>
<line x1="1622.9" y1="1318.7" x2="1622.9" y2="1477.0" stroke="#222" stroke-width="1"/>
<line x1="1622.4" y1="1476.5" x2="1780.6" y2="1476.5" stroke="#222" stroke-width="1"/>
<line x1="1617.9" y1="1325.8" x2="1622.9" y2="1325.8" stroke="#222" stroke-width="1"/>
<text x="1615.4" y="1333.5" font-size="21.85" text-anchor="end">4</text>
<line x1="1617.9" y1="1361.5" x2="1622.9" y2="1361.5" stroke="#222" stroke-width="1"/>
<text x="1615.4" y="1369.2" font-size="21.85" text-anchor="end">3</text>
<line x1="1617.9" y1="1397.2" x2="1622.9" y2="1397.2" stroke="#222" stroke-width="1"/>
<text x="1615.4" y="1404.9" font-size="21.85" text-anchor="end">2</text>
<line x1="1617.9" y1="1433.2" x2="1622.9" y2="1433.2" stroke="#222" stroke-width="1"/>
<text x="1615.4" y="1440.9" font-size="21.85" text-anchor="end">1</text>
<line x1="1617.9" y1="1469.1" x2="1622.9" y2="1469.1" stroke="#222" stroke-width="1"/>
<text x="1615.4" y="1476.8" font-size="21.85" text-anchor="end">0</text>
<line x1="1665.9" y1="1476.5" x2="1665.9" y2="1480.0" stroke="#222" stroke-width="1"/>
<line x1="1737.3" y1="1476.5" x2="1737.3" y2="1480.0" stroke="#222" stroke-width="1"/>
<path d="M1698.3 1469.1C1697.1 1469.0 1694.5 1468.6 1691.2 1468.4C1687.9 1468.1 1682.3 1468.1 1678.6 1467.6C1674.8 1467.1 1670.7 1466.4 1668.9 1465.6C1667.2 1464.7 1667.9 1463.9 1667.9 1462.5C1667.9 1461.2 1668.9 1459.2 1668.9 1457.5C1668.9 1455.8 1668.3 1455.8 1667.9 1452.4C1667.5 1449.0 1666.9 1444.0 1666.7 1437.2C1666.4 1430.5 1666.5 1426.7 1666.4 1411.9C1666.3 1397.1 1666.1 1359.2 1666.0 1348.6L1665.8 1348.6C1665.7 1359.2 1665.5 1397.1 1665.4 1411.9C1665.3 1426.7 1665.4 1430.5 1665.1 1437.2C1664.9 1444.0 1664.3 1449.0 1663.9 1452.4C1663.5 1455.8 1662.9 1455.8 1662.9 1457.5C1662.9 1459.2 1663.9 1461.2 1663.9 1462.5C1663.9 1463.9 1664.6 1464.7 1662.9 1465.6C1661.1 1466.4 1657.0 1467.1 1653.2 1467.6C1649.5 1468.1 1643.9 1468.1 1640.6 1468.4C1637.3 1468.6 1634.7 1469.0 1633.5 1469.1Z" fill="#eeefee" stroke="#2a2a2a" stroke-width="0.9" stroke-linejoin="round"/>
<path d="M1769.7 1469.1C1769.6 1469.0 1770.1 1468.7 1768.9 1468.4C1767.8 1468.0 1764.9 1467.7 1762.6 1467.1C1760.3 1466.5 1755.9 1465.5 1755.0 1464.6C1754.2 1463.6 1756.9 1462.2 1757.6 1461.3C1758.2 1460.3 1759.9 1460.2 1758.8 1458.7C1757.8 1457.3 1753.8 1455.1 1751.2 1452.4C1748.7 1449.7 1745.5 1445.7 1743.6 1442.3C1741.7 1438.9 1740.7 1435.5 1739.8 1432.2C1738.9 1428.8 1738.7 1435.9 1738.3 1422.0C1737.9 1408.1 1737.6 1360.8 1737.4 1348.6L1737.2 1348.6C1737.0 1360.8 1736.7 1408.1 1736.3 1422.0C1735.9 1435.9 1735.7 1428.8 1734.8 1432.2C1733.9 1435.5 1732.9 1438.9 1731.0 1442.3C1729.1 1445.7 1725.9 1449.7 1723.4 1452.4C1720.8 1455.1 1716.8 1457.3 1715.8 1458.7C1714.7 1460.2 1716.4 1460.3 1717.0 1461.3C1717.7 1462.2 1720.4 1463.6 1719.6 1464.6C1718.7 1465.5 1714.3 1466.5 1712.0 1467.1C1709.7 1467.7 1706.8 1468.0 1705.7 1468.4C1704.5 1468.7 1705.0 1469.0 1704.9 1469.1Z" fill="#b7a8e0" stroke="#2a2a2a" stroke-width="0.9" stroke-linejoin="round"/>
<path d="M1665.9 1341.4V1338.0H1737.3V1341.4" fill="none" stroke="#222" stroke-width="1"/>
<text x="1702.2" y="1336.5" font-size="21" text-anchor="middle">*</text>
<text x="1578.5" y="1396.6" font-size="21.85" text-anchor="middle" transform="rotate(-90 1578.5 1396.6)">Expression Level</text>
<text x="922.7" y="1546.4" font-size="21.85" text-anchor="middle" font-style="italic">POR</text>
<line x1="845.9" y1="1566.7" x2="845.9" y2="1725.9" stroke="#222" stroke-width="1"/>
<line x1="845.4" y1="1725.4" x2="1002.4" y2="1725.4" stroke="#222" stroke-width="1"/>
<line x1="840.9" y1="1573.8" x2="845.9" y2="1573.8" stroke="#222" stroke-width="1"/>
<text x="838.4" y="1581.5" font-size="21.85" text-anchor="end">5</text>
<line x1="840.9" y1="1602.6" x2="845.9" y2="1602.6" stroke="#222" stroke-width="1"/>
<text x="838.4" y="1610.3" font-size="21.85" text-anchor="end">4</text>
<line x1="840.9" y1="1631.5" x2="845.9" y2="1631.5" stroke="#222" stroke-width="1"/>
<text x="838.4" y="1639.2" font-size="21.85" text-anchor="end">3</text>
<line x1="840.9" y1="1660.4" x2="845.9" y2="1660.4" stroke="#222" stroke-width="1"/>
<text x="838.4" y="1668.1" font-size="21.85" text-anchor="end">2</text>
<line x1="840.9" y1="1689.0" x2="845.9" y2="1689.0" stroke="#222" stroke-width="1"/>
<text x="838.4" y="1696.7" font-size="21.85" text-anchor="end">1</text>
<line x1="840.9" y1="1717.8" x2="845.9" y2="1717.8" stroke="#222" stroke-width="1"/>
<text x="838.4" y="1725.5" font-size="21.85" text-anchor="end">0</text>
<line x1="888.5" y1="1725.4" x2="888.5" y2="1728.9" stroke="#222" stroke-width="1"/>
<line x1="959.9" y1="1725.4" x2="959.9" y2="1728.9" stroke="#222" stroke-width="1"/>
<path d="M920.9 1717.8C920.8 1717.7 922.2 1717.2 920.1 1716.8C918.1 1716.4 912.8 1716.3 908.8 1715.6C904.7 1714.8 898.7 1713.4 896.1 1712.3C893.5 1711.1 893.3 1710.8 893.1 1708.5C892.8 1706.1 894.8 1701.7 894.8 1698.3C894.8 1695.0 893.8 1692.0 893.1 1688.2C892.3 1684.4 891.1 1681.9 890.5 1675.6C890.0 1669.2 889.9 1657.8 889.8 1650.2C889.7 1642.6 890.2 1637.2 890.0 1630.0C889.8 1622.8 888.9 1611.0 888.6 1607.2L888.4 1607.2C888.1 1611.0 887.2 1622.8 887.0 1630.0C886.8 1637.2 887.3 1642.6 887.2 1650.2C887.1 1657.8 887.0 1669.2 886.5 1675.6C885.9 1681.9 884.7 1684.4 883.9 1688.2C883.2 1692.0 882.2 1695.0 882.2 1698.3C882.2 1701.7 884.2 1706.1 883.9 1708.5C883.7 1710.8 883.5 1711.1 880.9 1712.3C878.3 1713.4 872.3 1714.8 868.2 1715.6C864.2 1716.3 858.9 1716.4 856.9 1716.8C854.8 1717.2 856.2 1717.7 856.1 1717.8Z" fill="#eeefee" stroke="#2a2a2a" stroke-width="0.9" stroke-linejoin="round"/>
<path d="M972.1 1717.8C972.1 1717.7 972.9 1717.3 972.6 1716.8C972.2 1716.3 971.1 1715.6 970.0 1714.8C969.0 1714.0 965.8 1713.3 966.2 1712.3C966.7 1711.2 969.4 1710.4 972.6 1708.5C975.7 1706.6 981.9 1703.6 985.2 1700.9C988.5 1698.1 991.5 1694.5 992.3 1692.0C993.1 1689.5 992.5 1688.4 990.3 1685.7C988.0 1682.9 982.7 1679.4 978.9 1675.6C975.1 1671.8 970.2 1666.7 967.5 1662.9C964.8 1659.1 963.5 1657.0 962.4 1652.8C961.3 1648.6 961.3 1645.2 960.9 1637.6C960.5 1630.0 960.2 1612.3 960.0 1607.2L959.8 1607.2C959.6 1612.3 959.3 1630.0 958.9 1637.6C958.5 1645.2 958.5 1648.6 957.4 1652.8C956.3 1657.0 955.0 1659.1 952.3 1662.9C949.6 1666.7 944.7 1671.8 940.9 1675.6C937.1 1679.4 931.8 1682.9 929.5 1685.7C927.3 1688.4 926.7 1689.5 927.5 1692.0C928.3 1694.5 931.3 1698.1 934.6 1700.9C937.9 1703.6 944.1 1706.6 947.2 1708.5C950.4 1710.4 953.1 1711.2 953.6 1712.3C954.0 1713.3 950.8 1714.0 949.8 1714.8C948.7 1715.6 947.6 1716.3 947.2 1716.8C946.9 1717.3 947.7 1717.7 947.7 1717.8Z" fill="#b7a8e0" stroke="#2a2a2a" stroke-width="0.9" stroke-linejoin="round"/>
<path d="M888.5 1601.2V1597.8H959.9V1601.2" fill="none" stroke="#222" stroke-width="1"/>
<text x="922.4" y="1595.9" font-size="21" text-anchor="middle">****</text>
<text x="801.3" y="1645.1" font-size="21.85" text-anchor="middle" transform="rotate(-90 801.3 1645.1)">Expression Level</text>
<text x="1176.3" y="1546.4" font-size="21.85" text-anchor="middle" font-style="italic">CP</text>
<line x1="1098.6" y1="1566.7" x2="1098.6" y2="1725.9" stroke="#222" stroke-width="1"/>
<line x1="1098.1" y1="1725.4" x2="1255.6" y2="1725.4" stroke="#222" stroke-width="1"/>
<line x1="1093.6" y1="1573.8" x2="1098.6" y2="1573.8" stroke="#222" stroke-width="1"/>
<text x="1091.1" y="1581.5" font-size="21.85" text-anchor="end">5</text>
<line x1="1093.6" y1="1602.6" x2="1098.6" y2="1602.6" stroke="#222" stroke-width="1"/>
<text x="1091.1" y="1610.3" font-size="21.85" text-anchor="end">4</text>
<line x1="1093.6" y1="1631.5" x2="1098.6" y2="1631.5" stroke="#222" stroke-width="1"/>
<text x="1091.1" y="1639.2" font-size="21.85" text-anchor="end">3</text>
<line x1="1093.6" y1="1660.4" x2="1098.6" y2="1660.4" stroke="#222" stroke-width="1"/>
<text x="1091.1" y="1668.1" font-size="21.85" text-anchor="end">2</text>
<line x1="1093.6" y1="1689.0" x2="1098.6" y2="1689.0" stroke="#222" stroke-width="1"/>
<text x="1091.1" y="1696.7" font-size="21.85" text-anchor="end">1</text>
<line x1="1093.6" y1="1717.8" x2="1098.6" y2="1717.8" stroke="#222" stroke-width="1"/>
<text x="1091.1" y="1725.5" font-size="21.85" text-anchor="end">0</text>
<line x1="1141.4" y1="1725.4" x2="1141.4" y2="1728.9" stroke="#222" stroke-width="1"/>
<line x1="1212.5" y1="1725.4" x2="1212.5" y2="1728.9" stroke="#222" stroke-width="1"/>
<path d="M1173.3 1717.8C1173.4 1717.7 1175.3 1717.3 1173.8 1716.8C1172.3 1716.3 1167.9 1716.0 1164.2 1714.8C1160.5 1713.6 1154.4 1711.4 1151.5 1709.7C1148.7 1708.0 1147.7 1708.3 1147.0 1704.7C1146.2 1701.1 1146.7 1695.2 1147.0 1688.2C1147.2 1681.3 1148.0 1670.5 1148.5 1662.9C1149.0 1655.3 1149.7 1647.7 1149.8 1642.6C1149.8 1637.6 1149.9 1635.9 1149.0 1632.5C1148.1 1629.1 1145.5 1625.8 1144.4 1622.4C1143.4 1619.0 1143.2 1617.4 1142.7 1612.3C1142.2 1607.1 1141.7 1595.0 1141.5 1591.5L1141.3 1591.5C1141.1 1595.0 1140.6 1607.1 1140.1 1612.3C1139.6 1617.4 1139.4 1619.0 1138.4 1622.4C1137.3 1625.8 1134.7 1629.1 1133.8 1632.5C1132.9 1635.9 1133.0 1637.6 1133.0 1642.6C1133.1 1647.7 1133.8 1655.3 1134.3 1662.9C1134.8 1670.5 1135.6 1681.3 1135.8 1688.2C1136.1 1695.2 1136.6 1701.1 1135.8 1704.7C1135.1 1708.3 1134.1 1708.0 1131.3 1709.7C1128.4 1711.4 1122.3 1713.6 1118.6 1714.8C1114.9 1716.0 1110.5 1716.3 1109.0 1716.8C1107.5 1717.3 1109.4 1717.7 1109.5 1717.8Z" fill="#eeefee" stroke="#2a2a2a" stroke-width="0.9" stroke-linejoin="round"/>
<path d="M1242.9 1717.8C1243.2 1717.6 1244.3 1717.7 1244.7 1716.6C1245.0 1715.4 1245.3 1713.2 1244.9 1711.0C1244.5 1708.8 1242.6 1705.9 1242.4 1703.4C1242.1 1700.9 1243.6 1698.8 1243.4 1695.8C1243.1 1692.9 1241.1 1689.1 1240.9 1685.7C1240.6 1682.3 1241.8 1678.9 1241.6 1675.6C1241.4 1672.2 1240.1 1668.8 1239.8 1665.4C1239.6 1662.1 1240.7 1659.1 1240.3 1655.3C1240.0 1651.5 1239.5 1646.4 1237.8 1642.6C1236.1 1638.8 1233.2 1635.9 1230.2 1632.5C1227.3 1629.1 1222.6 1625.3 1220.1 1622.4C1217.6 1619.4 1216.3 1618.6 1215.0 1614.8C1213.8 1611.0 1213.0 1602.1 1212.6 1599.6L1212.4 1599.6C1212.0 1602.1 1211.2 1611.0 1210.0 1614.8C1208.7 1618.6 1207.4 1619.4 1204.9 1622.4C1202.4 1625.3 1197.7 1629.1 1194.8 1632.5C1191.8 1635.9 1188.9 1638.8 1187.2 1642.6C1185.5 1646.4 1185.0 1651.5 1184.7 1655.3C1184.3 1659.1 1185.4 1662.1 1185.2 1665.4C1184.9 1668.8 1183.6 1672.2 1183.4 1675.6C1183.2 1678.9 1184.4 1682.3 1184.1 1685.7C1183.9 1689.1 1181.9 1692.9 1181.6 1695.8C1181.4 1698.8 1182.9 1700.9 1182.6 1703.4C1182.4 1705.9 1180.5 1708.8 1180.1 1711.0C1179.7 1713.2 1180.0 1715.4 1180.3 1716.6C1180.7 1717.7 1181.8 1717.6 1182.1 1717.8Z" fill="#b7a8e0" stroke="#2a2a2a" stroke-width="0.9" stroke-linejoin="round"/>
<path d="M1141.4 1586.6V1583.2H1212.5V1586.6" fill="none" stroke="#222" stroke-width="1"/>
<text x="1178.4" y="1581.5" font-size="21" text-anchor="middle">****</text>
<text x="1054.7" y="1645.1" font-size="21.85" text-anchor="middle" transform="rotate(-90 1054.7 1645.1)">Expression Level</text>
<text x="1445.7" y="1544.4" font-size="21.85" text-anchor="middle" font-style="italic">LCN2</text>
<line x1="1369.2" y1="1564.2" x2="1369.2" y2="1722.1" stroke="#222" stroke-width="1"/>
<line x1="1368.7" y1="1721.6" x2="1525.4" y2="1721.6" stroke="#222" stroke-width="1"/>
<line x1="1364.2" y1="1600.1" x2="1369.2" y2="1600.1" stroke="#222" stroke-width="1"/>
<text x="1361.7" y="1607.8" font-size="21.85" text-anchor="end">6</text>
<line x1="1364.2" y1="1638.3" x2="1369.2" y2="1638.3" stroke="#222" stroke-width="1"/>
<text x="1361.7" y="1646.0" font-size="21.85" text-anchor="end">4</text>
<line x1="1364.2" y1="1676.6" x2="1369.2" y2="1676.6" stroke="#222" stroke-width="1"/>
<text x="1361.7" y="1684.3" font-size="21.85" text-anchor="end">2</text>
<line x1="1364.2" y1="1714.3" x2="1369.2" y2="1714.3" stroke="#222" stroke-width="1"/>
<text x="1361.7" y="1722.0" font-size="21.85" text-anchor="end">0</text>
<line x1="1411.5" y1="1721.6" x2="1411.5" y2="1725.1" stroke="#222" stroke-width="1"/>
<line x1="1482.4" y1="1721.6" x2="1482.4" y2="1725.1" stroke="#222" stroke-width="1"/>
<path d="M1443.4 1714.3C1443.5 1714.1 1444.6 1713.6 1443.9 1713.3C1443.2 1712.9 1442.2 1713.1 1439.3 1712.3C1436.5 1711.5 1430.1 1709.7 1426.7 1708.5C1423.3 1707.2 1420.8 1706.1 1419.1 1704.7C1417.4 1703.2 1417.2 1702.4 1416.6 1699.6C1415.9 1696.9 1415.2 1692.2 1415.3 1688.2C1415.4 1684.2 1416.2 1679.8 1417.1 1675.6C1417.9 1671.3 1420.1 1666.7 1420.4 1662.9C1420.6 1659.1 1419.4 1657.0 1418.6 1652.8C1417.7 1648.6 1416.1 1642.2 1415.3 1637.6C1414.5 1632.9 1414.0 1629.1 1413.5 1624.9C1413.0 1620.7 1412.6 1618.0 1412.3 1612.3C1411.9 1606.6 1411.7 1594.3 1411.6 1590.7L1411.4 1590.7C1411.3 1594.3 1411.1 1606.6 1410.7 1612.3C1410.4 1618.0 1410.0 1620.7 1409.5 1624.9C1409.0 1629.1 1408.5 1632.9 1407.7 1637.6C1406.9 1642.2 1405.3 1648.6 1404.4 1652.8C1403.6 1657.0 1402.4 1659.1 1402.6 1662.9C1402.9 1666.7 1405.1 1671.3 1405.9 1675.6C1406.8 1679.8 1407.6 1684.2 1407.7 1688.2C1407.8 1692.2 1407.1 1696.9 1406.4 1699.6C1405.8 1702.4 1405.6 1703.2 1403.9 1704.7C1402.2 1706.1 1399.7 1707.2 1396.3 1708.5C1392.9 1709.7 1386.5 1711.5 1383.7 1712.3C1380.8 1713.1 1379.8 1712.9 1379.1 1713.3C1378.4 1713.6 1379.5 1714.1 1379.6 1714.3Z" fill="#eeefee" stroke="#2a2a2a" stroke-width="0.9" stroke-linejoin="round"/>
<path d="M1507.7 1714.3C1508.5 1714.1 1511.1 1713.8 1512.3 1713.0C1513.5 1712.3 1514.5 1710.9 1514.8 1709.7C1515.1 1708.6 1515.2 1707.8 1514.0 1705.9C1512.9 1704.0 1509.8 1701.3 1507.7 1698.3C1505.6 1695.4 1503.4 1692.0 1501.4 1688.2C1499.4 1684.4 1497.0 1679.8 1495.6 1675.6C1494.2 1671.3 1493.5 1667.1 1493.0 1662.9C1492.5 1658.7 1492.7 1654.5 1492.5 1650.2C1492.4 1646.0 1492.4 1641.0 1492.0 1637.6C1491.6 1634.2 1491.0 1632.9 1490.0 1630.0C1489.0 1627.0 1487.2 1622.8 1486.2 1619.9C1485.2 1616.9 1484.5 1614.4 1483.9 1612.3C1483.3 1610.2 1482.8 1608.0 1482.5 1607.2L1482.3 1607.2C1482.0 1608.0 1481.5 1610.2 1480.9 1612.3C1480.3 1614.4 1479.6 1616.9 1478.6 1619.9C1477.6 1622.8 1475.8 1627.0 1474.8 1630.0C1473.8 1632.9 1473.2 1634.2 1472.8 1637.6C1472.4 1641.0 1472.4 1646.0 1472.3 1650.2C1472.1 1654.5 1472.3 1658.7 1471.8 1662.9C1471.3 1667.1 1470.6 1671.3 1469.2 1675.6C1467.8 1679.8 1465.4 1684.4 1463.4 1688.2C1461.4 1692.0 1459.2 1695.4 1457.1 1698.3C1455.0 1701.3 1451.9 1704.0 1450.8 1705.9C1449.6 1707.8 1449.7 1708.6 1450.0 1709.7C1450.3 1710.9 1451.3 1712.3 1452.5 1713.0C1453.7 1713.8 1456.3 1714.1 1457.1 1714.3Z" fill="#b7a8e0" stroke="#2a2a2a" stroke-width="0.9" stroke-linejoin="round"/>
<path d="M1411.5 1581.7V1578.3H1482.4V1581.7" fill="none" stroke="#222" stroke-width="1"/>
<text x="1445.2" y="1576.4" font-size="21" text-anchor="middle">****</text>
<text x="1325.3" y="1641.9" font-size="21.85" text-anchor="middle" transform="rotate(-90 1325.3 1641.9)">Expression Level</text>
<text x="1701.4" y="1546.4" font-size="21.85" text-anchor="middle" font-style="italic">LPCAT3</text>
<line x1="1626.2" y1="1566.2" x2="1626.2" y2="1725.9" stroke="#222" stroke-width="1"/>
<line x1="1625.7" y1="1725.4" x2="1781.1" y2="1725.4" stroke="#222" stroke-width="1"/>
<line x1="1621.2" y1="1573.5" x2="1626.2" y2="1573.5" stroke="#222" stroke-width="1"/>
<text x="1618.7" y="1581.2" font-size="21.85" text-anchor="end">4</text>
<line x1="1621.2" y1="1609.7" x2="1626.2" y2="1609.7" stroke="#222" stroke-width="1"/>
<text x="1618.7" y="1617.4" font-size="21.85" text-anchor="end">3</text>
<line x1="1621.2" y1="1645.9" x2="1626.2" y2="1645.9" stroke="#222" stroke-width="1"/>
<text x="1618.7" y="1653.6" font-size="21.85" text-anchor="end">2</text>
<line x1="1621.2" y1="1681.9" x2="1626.2" y2="1681.9" stroke="#222" stroke-width="1"/>
<text x="1618.7" y="1689.6" font-size="21.85" text-anchor="end">1</text>
<line x1="1621.2" y1="1717.8" x2="1626.2" y2="1717.8" stroke="#222" stroke-width="1"/>
<text x="1618.7" y="1725.5" font-size="21.85" text-anchor="end">0</text>
<line x1="1668.5" y1="1725.4" x2="1668.5" y2="1728.9" stroke="#222" stroke-width="1"/>
<line x1="1739.4" y1="1725.4" x2="1739.4" y2="1728.9" stroke="#222" stroke-width="1"/>
<path d="M1700.1 1717.8C1699.1 1717.7 1696.6 1717.4 1693.8 1717.1C1691.1 1716.8 1687.3 1716.7 1683.7 1716.1C1680.1 1715.5 1674.5 1714.6 1672.3 1713.5C1670.1 1712.5 1670.7 1711.8 1670.5 1709.7C1670.4 1707.6 1671.5 1704.5 1671.5 1700.9C1671.5 1697.3 1670.9 1692.4 1670.5 1688.2C1670.2 1684.0 1669.8 1691.2 1669.5 1675.6C1669.2 1659.9 1668.8 1608.0 1668.6 1594.5L1668.4 1594.5C1668.2 1608.0 1667.8 1659.9 1667.5 1675.6C1667.2 1691.2 1666.8 1684.0 1666.5 1688.2C1666.1 1692.4 1665.5 1697.3 1665.5 1700.9C1665.5 1704.5 1666.6 1707.6 1666.5 1709.7C1666.3 1711.8 1666.9 1712.5 1664.7 1713.5C1662.5 1714.6 1656.9 1715.5 1653.3 1716.1C1649.7 1716.7 1645.9 1716.8 1643.2 1717.1C1640.4 1717.4 1637.9 1717.7 1636.9 1717.8Z" fill="#eeefee" stroke="#2a2a2a" stroke-width="0.9" stroke-linejoin="round"/>
<path d="M1771.8 1717.8C1771.5 1717.7 1771.0 1717.4 1769.8 1717.1C1768.6 1716.8 1766.6 1716.5 1764.7 1716.1C1762.8 1715.6 1758.4 1715.1 1758.4 1714.3C1758.4 1713.4 1762.7 1712.1 1764.7 1711.0C1766.7 1709.9 1770.3 1709.2 1770.3 1708.0C1770.3 1706.7 1766.3 1705.0 1764.7 1703.4C1763.2 1701.8 1763.0 1700.9 1760.9 1698.3C1758.8 1695.8 1754.8 1691.6 1752.1 1688.2C1749.3 1684.8 1746.2 1681.0 1744.5 1678.1C1742.7 1675.1 1742.1 1673.0 1741.4 1670.5C1740.8 1668.0 1740.7 1673.2 1740.4 1662.9C1740.1 1652.6 1739.7 1617.5 1739.5 1608.5L1739.3 1608.5C1739.1 1617.5 1738.7 1652.6 1738.4 1662.9C1738.1 1673.2 1738.0 1668.0 1737.4 1670.5C1736.7 1673.0 1736.1 1675.1 1734.3 1678.1C1732.6 1681.0 1729.5 1684.8 1726.7 1688.2C1724.0 1691.6 1720.0 1695.8 1717.9 1698.3C1715.8 1700.9 1715.6 1701.8 1714.1 1703.4C1712.5 1705.0 1708.5 1706.7 1708.5 1708.0C1708.5 1709.2 1712.1 1709.9 1714.1 1711.0C1716.1 1712.1 1720.4 1713.4 1720.4 1714.3C1720.4 1715.1 1716.0 1715.6 1714.1 1716.1C1712.2 1716.5 1710.2 1716.8 1709.0 1717.1C1707.8 1717.4 1707.3 1717.7 1707.0 1717.8Z" fill="#b7a8e0" stroke="#2a2a2a" stroke-width="0.9" stroke-linejoin="round"/>
<path d="M1668.5 1589.1V1585.7H1739.4V1589.1" fill="none" stroke="#222" stroke-width="1"/>
<text x="1701.9" y="1585.0" font-size="21" text-anchor="middle">****</text>
<text x="1583.5" y="1644.8" font-size="21.85" text-anchor="middle" transform="rotate(-90 1583.5 1644.8)">Expression Level</text>
<rect x="1794.0" y="1324.8" width="18.0" height="18.0" fill="#eeefee"/>
<rect x="1794.0" y="1351.0" width="18.0" height="18.0" fill="#b7a8e0"/>
<text x="1820.7" y="1339.7" font-size="21.85"><tspan font-style="italic">SLC27A2</tspan><tspan dy="-7" dx="-2.5" font-size="19">-</tspan><tspan dy="7"> EpC</tspan></text>
<text x="1820.7" y="1367.4" font-size="21.85"><tspan font-style="italic">SLC27A2</tspan><tspan dy="-6.5" font-size="19">+</tspan><tspan dy="6.5"> EpC</tspan></text>
<rect x="1794.0" y="1564.8" width="18.0" height="18.0" fill="#eeefee"/>
<rect x="1794.0" y="1591.8" width="18.0" height="18.0" fill="#b7a8e0"/>
<text x="1820.7" y="1579.0" font-size="21.85"><tspan font-style="italic">SLC27A2</tspan><tspan dy="-7" dx="-2.5" font-size="19">-</tspan><tspan dy="7"> EpC</tspan></text>
<text x="1820.7" y="1606.7" font-size="21.85"><tspan font-style="italic">SLC27A2</tspan><tspan dy="-6.5" font-size="19">+</tspan><tspan dy="6.5"> EpC</tspan></text>
<path d="M1052 1745h0m1-2h0m0 0h0m2-1h0m2-2h0m4-1h0m0 2h0m1 4h0m8-7h0m2 4h0m2 2h0m1-5h0m-55 19h0m7-4h0m0 0h0m3-1h0m2 5h0m3-3h0m1-1h0m0 0h0m3-7h0m1-1h0m0 5h0m1 5h0m1-4h0m0 0h0m1-4h0m3 4h0m2 5h0m1-4h0m0-5h0m1 10h0m1-1h0m2-6h0m1 7h0m0-5h0m0-4h0m5 0h0m0-2h0m0 9h0m0-3h0m1 2h0m1-1h0m1 3h0m6-9h0m0-1h0m2 6h0m0-1h0m1 4h0m1-8h0m0 2h0m3 2h0m1-4h0m0 3h0m1-5h0m5 3h0m1 1h0m-63 19h0m3-6h0m0 6h0m1-8h0m1 1h0m0 4h0m1 2h0m1-6h0m2-1h0m1 4h0m0 4h0m1-6h0m0-1h0m0-2h0m1-1h0m1 3h0m0 5h0m1-8h0m1-1h0m0 7h0m1 0h0m0-5h0m2 6h0m0 3h0m0 0h0m0-8h0m1-2h0m0 9h0m0-8h0m1 5h0m5 3h0m0-8h0m1 10h0m0-3h0m1-4h0m0-5h0m1 9h0m0-5h0m2-3h0m1 9h0m1-4h0m0-5h0m1 2h0m3 5h0m0 0h0m4 3h0m0-8h0m0 6h0m1-4h0m0 3h0m1-6h0m1 4h0m2-3h0m0 0h0m1 1h0m0 2h0m2-6h0m1 9h0m2-3h0m4-5h0m0 7h0m1-8h0m0 9h0m1 3h0m1-5h0m0 1h0m1-5h0m0 6h0m1-4h0m1 4h0m2-1h0m0 1h0m1 0h0m1-2h0m2-4h0m2 1h0m1 7h0m2 1h0m0-4h0m1-1h0m-73 12h0m2 0h0m3-3h0m1 6h0m1-8h0m2-1h0m2 0h0m0 0h0m2 10h0m3-9h0m3 1h0m3 4h0m2 3h0m0-4h0m1 3h0m1-8h0m1 2h0m3 3h0m1 0h0m1-4h0m0 2h0m1-2h0m1 0h0m4 6h0m0-3h0m1 6h0m1-5h0m3-1h0m2 2h0m3-2h0m1 6h0m1-10h0m1 3h0m0 2h0m1 4h0m1-8h0m0-1h0m2 1h0m2 8h0m1-3h0m2-3h0m0 3h0m0 4h0m1-9h0m1 0h0m0 4h0m0 5h0m2-3h0m1 2h0m1-3h0m3 3h0m1 0h0m1-4h0m3-2h0m0 5h0m1 0h0m1-8h0m0 10h0m2 0h0m-120 10h0m2-3h0m4 5h0m3 0h0m0-1h0m1-1h0m1-3h0m1 4h0m0 0h0m1 0h0m0-6h0m1 5h0m0 0h0m0 3h0m1-2h0m0-2h0m1 2h0m0 0h0m3 2h0m0-3h0m2 2h0m1 0h0m2-1h0m2-1h0m0-2h0m2 2h0m2-1h0m1-2h0m1 0h0m12-3h0m0 3h0m1-2h0m2 4h0m1-7h0m1 2h0m1-2h0m0 6h0m1 0h0m6-3h0m1-3h0m2 4h0m1 5h0m4-9h0m0 6h0m2-3h0m2 8h0m1-9h0m0-2h0m1 5h0m0-2h0m1 1h0m0 1h0m2-1h0m0 1h0m0 4h0m1-2h0m0-1h0m2-3h0m0-1h0m4 3h0m0 1h0m2 0h0m2-7h0m2 11h0m0-10h0m0 10h0m3-3h0m5 4h0m0-3h0m0-1h0m1 1h0m1-5h0m2 2h0m2 1h0m1-4h0m0 7h0m0 1h0m1-2h0m0-1h0m1 2h0m0-10h0m1 7h0m2 0h0m2-3h0m2 8h0m2-3h0m2-1h0m0 0h0m1 0h0m0 0h0m2-1h0m0-7h0m6 6h0m1 6h0m4-2h0m-231 7h0m1 0h0m1 1h0m0 2h0m0-2h0m2 1h0m0-2h0m3 1h0m1 6h0m1-5h0m3 1h0m0 0h0m1 0h0m1 2h0m2 1h0m2 0h0m0-1h0m7 1h0m65-2h0m6-3h0m0 2h0m4-3h0m3 2h0m2-3h0m1-2h0m1 8h0m0-8h0m0 7h0m1-4h0m0 4h0m1 1h0m0-4h0m1-3h0m1 1h0m0-4h0m0 0h0m1 3h0m0 3h0m0 0h0m1-1h0m0-2h0m0 2h0m0 1h0m1-3h0m0 5h0m0 0h0m0-4h0m1-3h0m0 3h0m0-4h0m0 4h0m0-2h0m0 1h0m1 1h0m0-3h0m0 0h0m0 5h0m0-6h0m1 9h0m0-8h0m0 7h0m0-3h0m0-4h0m1 2h0m0 6h0m0-4h0m1-3h0m0 3h0m0-5h0m0 5h0m1 3h0m0-1h0m0-6h0m0 4h0m0-4h0m0 4h0m1-4h0m0 10h0m0-7h0m0-1h0m2-2h0m0 4h0m1-4h0m1 1h0m24 9h0m0-11h0m1 2h0m0 3h0m2-3h0m2 3h0m0-2h0m1 9h0m0-4h0m1-6h0m1 10h0m0-3h0m1-8h0m0 11h0m2-1h0m3-7h0m2 4h0m2 2h0m1-3h0m5 2h0m2 1h0m1-3h0m0-2h0m0-1h0m1 0h0m0 7h0m1-4h0m1 2h0m1-1h0m2 0h0m5-2h0m1 5h0m0 0h0m0-2h0m2 1h0m2-5h0m0-1h0m1 7h0m3-11h0m3 6h0m1 1h0m0 2h0m1-3h0m1 5h0m0-11h0m2 6h0m1 0h0m0-1h0m1-3h0m0 5h0m3 4h0m1-6h0m3-5h0m0 1h0m1 10h0m2-4h0m0 3h0m0-6h0m0 2h0m1 4h0m1-5h0m0 1h0m0-3h0m0 6h0m1-5h0m3 3h0m0-1h0m0-2h0m3-1h0m0 6h0m1 0h0m1-8h0m0 1h0m3 6h0m0-2h0m0-4h0m1 2h0m0 2h0m0-3h0m1 2h0m0 6h0m1-4h0m1-7h0m1 5h0m1 4h0m2 0h0m1 0h0m1-4h0m1 5h0m0-2h0m0 2h0m1-4h0m2 4h0m1-2h0m4 3h0m-249 4h0m1-1h0m0-1h0m2 11h0m0-11h0m2 6h0m0 5h0m0-1h0m1-3h0m1-3h0m1-4h0m0 8h0m1 0h0m0 1h0m2-2h0m0 1h0m1-5h0m0 6h0m2-10h0m0 11h0m0 0h0m0-9h0m3-1h0m0 6h0m1-6h0m1 6h0m0-4h0m0 1h0m0 5h0m2-8h0m0 9h0m0-9h0m1 5h0m0-5h0m1 0h0m1 10h0m1-10h0m0 1h0m0 4h0m1-4h0m0 5h0m0-3h0m1-4h0m0 10h0m1-1h0m1 2h0m0-5h0m0 4h0m0-1h0m92-8h0m1 4h0m1-1h0m0 1h0m1 1h0m0 0h0m1 3h0m2-3h0m0 6h0m1-2h0m4 2h0m15-6h0m1-5h0m1 5h0m1 0h0m5-1h0m3-1h0m1-4h0m1 7h0m2 3h0m0-2h0m1-4h0m0-3h0m1 9h0m3-5h0m1 6h0m1-5h0m1-2h0m0 5h0m1-3h0m0-5h0m1 6h0m1 3h0m3-3h0m0-6h0m0 1h0m1 2h0m0 3h0m3-3h0m0 2h0m4-6h0m3 8h0m3 3h0m2-9h0m2 2h0m3-2h0m1 4h0m2 6h0m0-8h0m4 5h0m1-3h0m0-1h0m2 1h0m1-2h0m1-3h0m0 6h0m2-7h0m0 4h0m0 0h0m2 6h0m1-9h0m0 10h0m2 0h0m1-3h0m1-1h0m4-7h0m1 8h0m3-4h0m0 5h0m0-5h0m1 6h0m1-2h0m0-7h0m1 3h0m0 8h0m0-4h0m2-7h0m2 10h0m3-3h0m2-3h0m1 2h0m1-3h0m1 7h0m1 0h0m1-9h0m1 4h0m1 3h0m0-9h0m0 12h0m2-3h0m1 2h0m0-1h0m2 0h0m0-3h0m0-6h0m0 9h0m1-5h0m1 1h0m1-4h0m0 5h0m0 0h0m1 1h0m1-1h0m0-4h0m1 7h0m0-1h0m1-2h0m3 1h0m0 3h0m0-1h0m0 1h0m3 0h0m2-4h0m0 0h0m1 0h0m2 1h0m2 0h0m2-1h0m2 2h0m2 1h0m1 0h0m4 2h0m2-1h0m1-1h0m0 0h0m0 2h0m3 0h0m-287 4h0m1-1h0m0 6h0m1-6h0m0 7h0m0 0h0m1 0h0m1-8h0m0 7h0m0-6h0m2 7h0m1-3h0m2-4h0m0 7h0m1 1h0m0-3h0m1 2h0m1 1h0m3-2h0m1-5h0m1-2h0m1 4h0m0 0h0m0-3h0m1 6h0m0-7h0m0 9h0m1-11h0m0 11h0m0-1h0m1-5h0m0 5h0m0-9h0m0 9h0m2-1h0m0-7h0m0 10h0m1-3h0m0-6h0m1 2h0m1-3h0m0 3h0m0-4h0m0 10h0m1-8h0m2-3h0m1 3h0m1 4h0m0-6h0m2 8h0m1-4h0m1 2h0m4 4h0m0 0h0m0-1h0m90-9h0m0 0h0m4 3h0m0-2h0m0 2h0m1 1h0m0 2h0m1 1h0m0 0h0m1 0h0m0 1h0m2 0h0m0 1h0m1-2h0m1 3h0m1-1h0m10-5h0m0-1h0m0 0h0m1 7h0m4-6h0m1 6h0m2 0h0m1-11h0m3 11h0m1-7h0m3-1h0m1 4h0m0 5h0m4-12h0m0 10h0m1-1h0m3-3h0m1 1h0m2-4h0m1 8h0m3-7h0m1-3h0m0 0h0m2 1h0m2 2h0m0 1h0m1 4h0m0 2h0m1 0h0m1-2h0m1-4h0m0 5h0m1-3h0m0 5h0m0-2h0m2-1h0m0-7h0m3 3h0m3-1h0m2 1h0m0-1h0m0 3h0m2 4h0m2-3h0m0 0h0m1 1h0m0-4h0m0 2h0m1-2h0m1-5h0m4 7h0m1 4h0m1-3h0m1-6h0m1-2h0m1 9h0m1-1h0m0-6h0m5-2h0m1 4h0m0 5h0m1-5h0m1 4h0m1-1h0m1-6h0m3 4h0m1-3h0m0 7h0m0 1h0m0-5h0m1 7h0m1-5h0m0-5h0m0 7h0m2-1h0m1 3h0m2 0h0m0 0h0m1-4h0m1-2h0m0 0h0m1-5h0m0 4h0m0 6h0m1-4h0m0 2h0m1-1h0m0 5h0m1-4h0m0 3h0m0-3h0m1-6h0m0 3h0m0-3h0m2 10h0m0-5h0m2 2h0m0-8h0m1 0h0m0-1h0m1 1h0m3 6h0m0 4h0m0-1h0m1-1h0m0-9h0m2 11h0m0-3h0m2-3h0m0 4h0m1-1h0m0 4h0m0-1h0m1-1h0m0-8h0m0-2h0m0 7h0m0 3h0m2-7h0m0 9h0m0-10h0m1 7h0m1-8h0m3 5h0m1 1h0m1 3h0m0-7h0m0 2h0m1-5h0m0 9h0m1 0h0m0 0h0m0-9h0m1 7h0m0 2h0m1-8h0m1 5h0m0-4h0m0 5h0m0-3h0m1-4h0m1 2h0m0 5h0m1-2h0m2 4h0m0-7h0m3 9h0m0-7h0m1 5h0m0-3h0m1-2h0m0 4h0m1-7h0m1 4h0m0 5h0m1 1h0m0 0h0m1-8h0m1 8h0m0-9h0m1 2h0m0-1h0m0 9h0m0-2h0m1-7h0m0 1h0m1 7h0m1-1h0m1 0h0m0 1h0m1-5h0m1 6h0m0-4h0m2 1h0m0-2h0m-304 17h0m1-5h0m0 2h0m1 0h0m1-1h0m0-7h0m1 11h0m0-1h0m0-6h0m1-4h0m1 3h0m0 2h0m1 4h0m2-3h0m0-6h0m1 9h0m0-5h0m1-1h0m0-3h0m0 2h0m1 4h0m0-5h0m1 4h0m2-3h0m1-1h0m0 1h0m0-2h0m0 6h0m0 2h0m0 0h0m1-8h0m0 10h0m1-3h0m0-4h0m1 1h0m1 4h0m0-3h0m2 2h0m0 0h0m1 2h0m1 1h0m0-4h0m1 1h0m0-4h0m1-2h0m0 4h0m1 2h0m0 0h0m0-4h0m0 3h0m1-3h0m0-3h0m0 11h0m1-11h0m1 1h0m1 8h0m0 1h0m1-10h0m0 4h0m2 5h0m0-2h0m0-1h0m0-3h0m2 5h0m0-4h0m1 6h0m1-9h0m0 2h0m1 5h0m1-3h0m0-3h0m1-3h0m0 9h0m1-1h0m0 2h0m1-1h0m0-3h0m1 1h0m1-2h0m1 7h0m0-3h0m1 2h0m0-10h0m0 1h0m0 6h0m1 4h0m0-1h0m1-9h0m1 9h0m1-10h0m1 8h0m0-1h0m0-3h0m1 0h0m0 3h0m1-1h0m0 1h0m1-7h0m0 8h0m0-4h0m1 7h0m1-1h0m1-3h0m1 0h0m1-6h0m0 8h0m1-3h0m0 2h0m0-3h0m2 5h0m1-1h0m0 0h0m2-5h0m0 3h0m1-4h0m1 7h0m0-8h0m0-2h0m1 7h0m0 1h0m3 0h0m0 1h0m3-2h0m0 4h0m1-6h0m1-3h0m0 7h0m0-4h0m1 5h0m0-7h0m1 2h0m1 3h0m0-4h0m1 2h0m2 1h0m1 0h0m5 4h0m52-11h0m1-1h0m2 4h0m0 0h0m1-1h0m0-1h0m1 4h0m0 1h0m10-5h0m2 2h0m1-1h0m0 1h0m1-3h0m0 9h0m0-4h0m1 4h0m0-8h0m0 8h0m1-7h0m1 3h0m5-2h0m2 6h0m0-10h0m1 2h0m0 7h0m2-7h0m2 0h0m1 0h0m3 0h0m3 6h0m2-1h0m4 0h0m1-5h0m0 2h0m1-2h0m3-2h0m1 1h0m4 7h0m2 2h0m2-9h0m0 9h0m0 1h0m1-5h0m1-2h0m0 0h0m3 6h0m1-2h0m3 2h0m1-5h0m2 2h0m3 3h0m1 0h0m0-7h0m0 4h0m1-4h0m1 5h0m1-2h0m0 0h0m0-5h0m0 5h0m1 5h0m1-11h0m0 7h0m0-6h0m0 5h0m1-3h0m1 9h0m1-8h0m2 0h0m0 5h0m1 1h0m2-10h0m2 3h0m1-1h0m0 0h0m0 6h0m1-4h0m0-2h0m0 5h0m1 4h0m0-3h0m1-1h0m0-4h0m0-2h0m0 9h0m0-9h0m2 6h0m0-4h0m0 1h0m0 0h0m0 4h0m0-1h0m1-6h0m0 8h0m1-5h0m0 0h0m2 4h0m0 3h0m0-7h0m1 8h0m0-1h0m1-8h0m0 2h0m0 0h0m1 3h0m0 0h0m1-7h0m0 4h0m0-1h0m1 6h0m0-5h0m2 3h0m0 3h0m1-3h0m1-3h0m1 6h0m1-7h0m0 3h0m0 5h0m0-1h0m1-10h0m1 6h0m0-1h0m1 4h0m2-6h0m1-2h0m1 1h0m0 6h0m1-1h0m0 3h0m1-9h0m0 6h0m2-4h0m0 4h0m1-8h0m0 11h0m1-2h0m0 3h0m0-4h0m1-3h0m1-4h0m0 10h0m0-1h0m1-6h0m0-1h0m0 4h0m1 4h0m0 0h0m0-10h0m0 7h0m1 0h0m0-7h0m0 3h0m0-1h0m2-1h0m1 6h0m0-6h0m1 6h0m1-7h0m0 6h0m0-3h0m0 3h0m1-7h0m1 6h0m2-5h0m1 5h0m0-2h0m0 5h0m0-2h0m1 1h0m0-1h0m1-1h0m0-2h0m1-2h0m0 9h0m2-5h0m1-2h0m0 3h0m1-3h0m1 3h0m0-1h0m0 0h0m2-2h0m1 2h0m1 2h0m0 0h0m1-8h0m1 12h0m1-11h0m0 9h0m1-9h0m1 5h0m0 5h0m1-4h0m0 3h0m1 1h0m0-4h0m0 2h0m1-2h0m0-4h0m1-1h0m0-1h0m3 8h0m1-9h0m0 3h0m1 2h0m0-5h0m0 6h0m0 0h0m1-2h0m0-4h0m1 0h0m3 8h0m2 1h0m0 3h0m6-2h0m-370 14h0m47-2h0m0-5h0m0 7h0m1 0h0m2-4h0m1-7h0m0 11h0m1 0h0m0-5h0m2-3h0m0 4h0m0-6h0m1-1h0m0 7h0m3-1h0m0-6h0m1 11h0m2-2h0m1 1h0m2-3h0m1 3h0m0-9h0m2 0h0m0 4h0m0-4h0m1 4h0m0-1h0m1 0h0m0 5h0m1-9h0m0 3h0m1 2h0m2 4h0m0 1h0m0-7h0m1-1h0m2 3h0m2 4h0m1-7h0m2 2h0m0 2h0m1-2h0m0 4h0m1 3h0m1-10h0m0 3h0m1 2h0m2 1h0m0-7h0m1 3h0m0 0h0m1 1h0m1 0h0m0-4h0m1 1h0m0 3h0m0 2h0m0 2h0m0-4h0m0-4h0m1 4h0m1 5h0m1-3h0m0-3h0m2-3h0m0 11h0m1-12h0m0 10h0m0 2h0m0-6h0m0-5h0m0 2h0m0 6h0m0-9h0m1 2h0m0 6h0m0 0h0m1-8h0m0 3h0m0-1h0m0 3h0m0 6h0m0-6h0m0-1h0m1-2h0m2-1h0m0 3h0m0-2h0m2 10h0m0-3h0m1 1h0m1-9h0m0 0h0m0 7h0m0-1h0m0-6h0m1 5h0m1 0h0m0 6h0m1-5h0m0-4h0m1 3h0m1-5h0m0 1h0m1 0h0m0 4h0m0 0h0m0-3h0m0 3h0m1 5h0m0-4h0m0 1h0m0 1h0m0-8h0m1 7h0m2-8h0m1 1h0m0 6h0m0 0h0m1-6h0m0 1h0m1 4h0m1 4h0m0 1h0m1-10h0m0 11h0m0-9h0m2-3h0m0 6h0m1 5h0m0-7h0m1 2h0m1 2h0m0-3h0m0-3h0m0-2h0m1 1h0m0 4h0m0-5h0m0 12h0m1-4h0m1-5h0m1-2h0m0 2h0m0-2h0m0 11h0m1-8h0m4-4h0m0 2h0m1 7h0m1 2h0m0-5h0m1 0h0m0-1h0m1 7h0m4-1h0m0-1h0m0 0h0m1 0h0m1-3h0m0 0h0m3 4h0m0 0h0m1 1h0m0-3h0m3 3h0m59-6h0m2-5h0m1 3h0m3 5h0m1-9h0m1 5h0m1 0h0m5-2h0m3 5h0m1-5h0m0 6h0m1 2h0m0 0h0m0-4h0m1 5h0m0-4h0m1-7h0m0 3h0m3-1h0m0 6h0m1-5h0m1 4h0m0-6h0m0 3h0m1-4h0m0 5h0m1 4h0m0-5h0m0-2h0m1 4h0m0 4h0m0-9h0m1 2h0m0 5h0m0 2h0m1-6h0m0 3h0m0-6h0m0 7h0m1-5h0m1 4h0m0 1h0m0-8h0m0 5h0m1 4h0m0-4h0m3 5h0m0-5h0m2 4h0m0 0h0m1 2h0m0-10h0m1 6h0m1 4h0m1-12h0m1 4h0m0-1h0m0 7h0m0-2h0m0-3h0m2 1h0m0 6h0m1-2h0m2-2h0m1 3h0m0 0h0m1-8h0m0 2h0m1-4h0m0 10h0m1-8h0m0 1h0m1 8h0m2-1h0m0-3h0m0-7h0m1 10h0m1-10h0m0 5h0m1 3h0m0 1h0m1-2h0m0-5h0m1-1h0m1 0h0m0 4h0m1-3h0m0 4h0m1 4h0m0-6h0m1-3h0m1 4h0m0 2h0m0-8h0m1 8h0m1 2h0m0 0h0m0-2h0m0 1h0m1-6h0m0 3h0m0 0h0m2 5h0m0-11h0m0 0h0m1 6h0m1-5h0m0 3h0m0-2h0m0 9h0m1-6h0m0 4h0m1-2h0m0-6h0m0 1h0m0 8h0m1-10h0m0 0h0m1 8h0m0-4h0m1-1h0m0 8h0m3-5h0m0-5h0m0 5h0m1 4h0m0-5h0m1 2h0m1-4h0m0 4h0m1-3h0m0 4h0m1 4h0m0-9h0m1 8h0m1-10h0m0 1h0m1 4h0m2 3h0m0 1h0m0-5h0m0-1h0m1-2h0m0 1h0m1-2h0m1 3h0m0 4h0m0 1h0m0 1h0m1 2h0m0-3h0m1-5h0m0 3h0m1-6h0m2 10h0m0-7h0m1 5h0m0-2h0m0 4h0m3-9h0m0 1h0m0 7h0m0 1h0m1-7h0m0-3h0m1 6h0m0 0h0m0-1h0m2-5h0m1 5h0m1-5h0m1 3h0m0 4h0m1-4h0m1 1h0m1 2h0m0-1h0m0 4h0m1 1h0m0-3h0m0-2h0m0 2h0m0 0h0m0-4h0m1 5h0m1 1h0m0-4h0m1-3h0m0-1h0m0 9h0m1-8h0m1 3h0m0 2h0m1-8h0m0 6h0m0-5h0m0 3h0m1-2h0m0-2h0m0 5h0m1 5h0m1 0h0m0-3h0m1 4h0m0-9h0m0 0h0m1-2h0m0 6h0m0-1h0m1 0h0m0-3h0m1-2h0m0 2h0m1 6h0m0-1h0m1-3h0m0 7h0m0-11h0m2 3h0m1 3h0m0 6h0m0-10h0m1 1h0m1 1h0m0 2h0m0 1h0m1-6h0m0 3h0m1 3h0m0-1h0m1 0h0m1-2h0m0 5h0m0-8h0m1 3h0m0 5h0m3-3h0m1-5h0m0 8h0m2-3h0m2 3h0m2-2h0m0-6h0m1 3h0m0 3h0m0-4h0m1 1h0m1 3h0m1-4h0m0 3h0m2-5h0m1 2h0m2 8h0m0-6h0m0-1h0m1 3h0m0 3h0m0-5h0m3 5h0m-384 9h0m1-5h0m2 4h0m1 3h0m2-7h0m1 8h0m2-5h0m0 1h0m1-1h0m0-5h0m1 4h0m0 6h0m1-7h0m2 1h0m1-3h0m1 1h0m2 2h0m0 4h0m1 3h0m0-2h0m1-3h0m1 1h0m0-1h0m2-1h0m0 6h0m1-3h0m1-3h0m0 1h0m2 5h0m0-5h0m3 2h0m1 2h0m0 0h0m4 0h0m2 1h0m1 0h0m0-1h0m4 2h0m2-4h0m2 3h0m0-3h0m8 0h0m0 3h0m0-2h0m1 0h0m2-2h0m2-4h0m1-2h0m0 10h0m1-1h0m2 2h0m0-11h0m1 9h0m2-9h0m0 6h0m0 1h0m1 1h0m0 2h0m0-5h0m1-6h0m0 1h0m1 9h0m0 1h0m0-1h0m0 0h0m0-7h0m1-2h0m1-1h0m2 11h0m1-7h0m0-2h0m1 7h0m0-8h0m1 9h0m1-4h0m1 4h0m0-3h0m1 0h0m0-2h0m1 1h0m0 1h0m1-3h0m2 4h0m0 0h0m1-7h0m1 8h0m0-6h0m0 9h0m1-2h0m0-7h0m0 4h0m0 5h0m1-1h0m0-6h0m0 4h0m2-7h0m0-1h0m2 8h0m0 3h0m0-7h0m0 0h0m1 3h0m0-3h0m1 0h0m1-3h0m1 4h0m0 0h0m1-1h0m0-3h0m1 3h0m0 1h0m1 3h0m1-3h0m0 3h0m1-7h0m0 6h0m1-4h0m2-4h0m0 2h0m1 2h0m1 0h0m0 3h0m2 2h0m0-8h0m0 11h0m1-5h0m1-1h0m1-2h0m1-1h0m0 1h0m1-1h0m0 7h0m1-5h0m0 2h0m0 1h0m0-2h0m1-6h0m1 6h0m1-1h0m0 3h0m1 4h0m0-4h0m1-4h0m0-1h0m1 7h0m0-2h0m0 0h0m1 2h0m0-7h0m0 2h0m0 5h0m1-10h0m0 6h0m0-3h0m0 6h0m1-8h0m0 7h0m1-7h0m1 10h0m0-7h0m1 3h0m0 4h0m0-7h0m0-1h0m0 6h0m0 2h0m0 0h0m2-3h0m0 3h0m0-3h0m1-7h0m0 3h0m2 5h0m1-5h0m0 7h0m1-9h0m1 9h0m0-6h0m2-2h0m0 1h0m0 3h0m0 4h0m0-7h0m2 3h0m0 3h0m0 0h0m1-7h0m0 0h0m0 9h0m1-2h0m1 0h0m0-5h0m1 4h0m0 0h0m0-8h0m1 6h0m0 3h0m1-1h0m1-3h0m1 4h0m0-3h0m1-6h0m0 7h0m0-4h0m0 7h0m0-3h0m1 0h0m1 1h0m1-2h0m0 5h0m1-5h0m0-7h0m0 8h0m1-6h0m1 6h0m1 1h0m1 2h0m0-7h0m1 1h0m0-1h0m0-2h0m0 0h0m1-1h0m0 5h0m1-6h0m0 0h0m0 5h0m1 4h0m0-8h0m2 3h0m0 7h0m0-7h0m0-2h0m1 9h0m0-4h0m1-1h0m1 0h0m1 4h0m1 0h0m2-6h0m0 5h0m0-3h0m2 0h0m0 3h0m1-3h0m0 1h0m54-3h0m0 1h0m0 4h0m2-1h0m3 2h0m0-9h0m1 5h0m2 0h0m1 4h0m0-4h0m0-3h0m1 5h0m1 1h0m2-3h0m0-4h0m0-2h0m0 6h0m2-2h0m0-2h0m0 8h0m0-1h0m1-4h0m1-4h0m1 9h0m1-6h0m0-4h0m1 0h0m1 1h0m1 6h0m1 2h0m1-5h0m0-3h0m1 8h0m0 0h0m0 2h0m2-5h0m0-2h0m0 7h0m1-5h0m0 4h0m1 0h0m0-7h0m0 7h0m2 2h0m1-3h0m1 1h0m0-4h0m2 4h0m0-8h0m1 8h0m0-4h0m1-2h0m1 4h0m0 2h0m1 1h0m0-4h0m0 1h0m1 3h0m0-4h0m1-4h0m1 2h0m1-2h0m0 0h0m0 5h0m1 2h0m0 1h0m1-4h0m1-4h0m0 5h0m1-7h0m0 5h0m0-4h0m1 1h0m1 6h0m0 2h0m1-8h0m1 1h0m0-1h0m0 3h0m0 5h0m0-6h0m2 5h0m0 1h0m1-1h0m0-6h0m3-1h0m0 3h0m1-2h0m0 1h0m1 2h0m0 1h0m1-2h0m0 5h0m1-8h0m0 4h0m0-5h0m1 1h0m0 0h0m1 7h0m1-3h0m2 0h0m0 0h0m2-2h0m0-4h0m1 8h0m0-1h0m1 1h0m0-9h0m0 9h0m0-6h0m1 1h0m0 6h0m0-7h0m1-2h0m0 1h0m0 2h0m1 1h0m0 2h0m1-7h0m1 5h0m0 5h0m0 0h0m1-4h0m1 3h0m0-2h0m1 4h0m0-1h0m1-9h0m1 3h0m0-3h0m1 3h0m0 0h0m0 1h0m0 4h0m1-9h0m1 5h0m0 4h0m1 3h0m0-7h0m0-3h0m1 1h0m0 5h0m0 0h0m0 0h0m1 1h0m2 0h0m0-4h0m0 3h0m1-6h0m0 7h0m0-9h0m0 8h0m0-7h0m1 8h0m0-4h0m0 2h0m1 0h0m2-3h0m0 8h0m0-5h0m0-1h0m1-2h0m0 8h0m0-1h0m1-8h0m1 6h0m2-5h0m1 4h0m1-3h0m1 7h0m0-11h0m0 11h0m1-4h0m1-4h0m0 8h0m0-7h0m1-5h0m0 11h0m1-10h0m0 10h0m0-8h0m1-1h0m1 0h0m0 1h0m0 6h0m1 1h0m1 2h0m2-3h0m0-9h0m0 6h0m2 1h0m0-6h0m2 7h0m1 3h0m1 0h0m1-3h0m3-3h0m0-3h0m0 7h0m0-2h0m1-5h0m0 9h0m0-10h0m2 8h0m0-1h0m1 3h0m0 0h0m1-5h0m1 5h0m0-10h0m0 2h0m1 1h0m0-2h0m1 10h0m0-3h0m1 1h0m0-3h0m0 0h0m1-4h0m0 3h0m0-3h0m2-1h0m0 0h0m0 4h0m0-2h0m2-2h0m0 2h0m3-3h0m0 2h0m1 0h0m1 7h0m0-10h0m0 1h0m1 7h0m1-3h0m0 0h0m1 2h0m1 3h0m3-7h0m0 6h0m0 0h0m0-6h0m1-2h0m1 9h0m0-8h0m0 1h0m1 1h0m0 1h0m1 1h0m0-2h0m2-1h0m0 7h0m1-5h0m0 3h0m0-7h0m0 10h0m1-3h0m0 3h0m0-9h0m0 0h0m0 2h0m1 2h0m0-6h0m0 8h0m0-3h0m1 2h0m0-1h0m0 6h0m1-10h0m0 8h0m2-3h0m0-5h0m0 2h0m-376 8h0m8 5h0m0-3h0m2-2h0m1 4h0m1 0h0m2 1h0m0 0h0m0-4h0m3 6h0m0-5h0m0 1h0m1 3h0m0 1h0m1-7h0m1 4h0m0-2h0m1 8h0m0-7h0m1-1h0m0 0h0m1 0h0m1 9h0m3-5h0m3-2h0m1 0h0m0 6h0m1-5h0m0-5h0m1 5h0m0 7h0m0-5h0m1-1h0m0 1h0m1 1h0m0 2h0m2-10h0m0 5h0m0-1h0m1-3h0m0 8h0m1 0h0m0 2h0m1 0h0m2-10h0m0 7h0m1 4h0m1-8h0m0 1h0m2-3h0m0 3h0m0 3h0m2-2h0m0-3h0m2-1h0m1 3h0m0-3h0m2 8h0m0-7h0m1 3h0m0-1h0m1-1h0m2 6h0m0-5h0m0 4h0m1-8h0m0 1h0m1 3h0m0 2h0m1-2h0m1 1h0m0 1h0m0-6h0m0 4h0m2 4h0m0-3h0m1-1h0m0 7h0m0-10h0m0-2h0m1 3h0m0 2h0m0 7h0m1-8h0m0-1h0m0 3h0m0-3h0m1 4h0m0-2h0m1 6h0m3-4h0m0 2h0m0 2h0m1-9h0m0 8h0m1-6h0m0 3h0m0 4h0m1-2h0m0-2h0m0-6h0m2 4h0m1 6h0m0-9h0m0 6h0m1-6h0m0 4h0m0 1h0m1-2h0m1 2h0m0-1h0m1-1h0m1-5h0m1 4h0m0-1h0m0 6h0m1-2h0m0 3h0m0-9h0m0 5h0m0-1h0m1 6h0m0-5h0m0 0h0m0 1h0m0 4h0m1-9h0m1 2h0m0 1h0m2 7h0m0-3h0m0-4h0m2 0h0m2-1h0m0 1h0m0 3h0m1 3h0m0-6h0m1-5h0m0 9h0m1-5h0m0-1h0m0 6h0m0 0h0m0-7h0m1 8h0m1 0h0m0-3h0m0-2h0m1 7h0m0 0h0m1-3h0m1-6h0m1 1h0m0 6h0m0-9h0m0 10h0m1-8h0m1 5h0m0-3h0m0-1h0m1 7h0m0-3h0m1-7h0m1 10h0m2-2h0m0-5h0m0-4h0m1 7h0m0-5h0m0-1h0m1 1h0m1 6h0m1-4h0m0-3h0m1 2h0m0 5h0m0-4h0m0 1h0m1 5h0m0-7h0m0 3h0m1 4h0m1-3h0m1-6h0m0 2h0m0 7h0m1-6h0m0 7h0m0 0h0m1 0h0m1-5h0m1-2h0m2 2h0m1-1h0m1 1h0m1-3h0m0-1h0m0 5h0m1 4h0m0 1h0m0-12h0m1 3h0m0 2h0m1 0h0m0 4h0m0 1h0m0-1h0m1-7h0m1 10h0m1-8h0m1-3h0m1 10h0m0 0h0m0 0h0m2-6h0m0 6h0m0-10h0m0 8h0m1-7h0m1 8h0m0 0h0m1-2h0m0-7h0m0 2h0m1 6h0m0 1h0m3 0h0m1 0h0m2-7h0m0-2h0m0 2h0m1-2h0m0 4h0m0 5h0m0-1h0m0-8h0m0 1h0m0 6h0m1 1h0m2-3h0m1 5h0m1 1h0m0-5h0m0-3h0m1 5h0m1-6h0m0 0h0m1 7h0m0-9h0m0 4h0m1 0h0m1-1h0m1 0h0m1 6h0m0-9h0m0-1h0m0 4h0m0-1h0m0 6h0m1-3h0m1-2h0m2 7h0m0-4h0m1-2h0m0 4h0m1-3h0m0-1h0m1 6h0m0-4h0m1 2h0m1-2h0m1 1h0m2 0h0m44 3h0m3-1h0m2-3h0m2 3h0m2-3h0m0-6h0m1 6h0m0 0h0m1 5h0m0-4h0m0-5h0m1-2h0m0 1h0m1 4h0m1 4h0m0-1h0m1 0h0m0-5h0m1 3h0m0-4h0m2 8h0m1-8h0m2 4h0m1 4h0m0-2h0m0 0h0m2-2h0m0-7h0m1 0h0m0 12h0m0-9h0m0-2h0m1 2h0m1 4h0m0 2h0m1-5h0m0-4h0m1 2h0m2 5h0m0-2h0m1-4h0m0 4h0m1-3h0m1 9h0m0-6h0m0 4h0m0-6h0m1 7h0m2-8h0m0 0h0m1 7h0m1-3h0m0 3h0m0 2h0m0-3h0m2 3h0m0-8h0m2-1h0m0-1h0m1 6h0m0 3h0m1-6h0m0-3h0m1 7h0m1-7h0m0 2h0m1 7h0m2-6h0m0 3h0m1 3h0m0-6h0m2 3h0m1-7h0m1 6h0m0-4h0m2 5h0m0 2h0m1 3h0m3-10h0m1 6h0m0-8h0m1 2h0m1-1h0m1 9h0m1 0h0m1 1h0m0-1h0m0-1h0m0-2h0m1 1h0m0-3h0m0 6h0m0-4h0m1-2h0m0 3h0m1-8h0m0 0h0m0 7h0m1-3h0m0-3h0m0 3h0m1 7h0m0 0h0m1-7h0m2 6h0m0-5h0m0 2h0m0-5h0m2 6h0m0-1h0m1 2h0m0 1h0m0-2h0m2 2h0m0 1h0m1-11h0m1 1h0m0 6h0m0-2h0m0 6h0m1-9h0m1 9h0m0-5h0m1 0h0m1 2h0m0-5h0m2 9h0m2-1h0m2-4h0m1 0h0m1-7h0m0 8h0m1 3h0m0-2h0m0-1h0m0 3h0m2-3h0m1 3h0m1-3h0m0-4h0m1-3h0m0 3h0m1 1h0m0 1h0m0 1h0m0-6h0m1-1h0m0 10h0m0-9h0m1 9h0m0-2h0m1-4h0m1-2h0m2 8h0m0-10h0m1 2h0m0 8h0m0-5h0m0 5h0m1-1h0m0-3h0m0 3h0m0 1h0m0-2h0m1-2h0m1-5h0m0 2h0m1-1h0m0 1h0m0 4h0m0-2h0m1-2h0m1 1h0m0-2h0m1 0h0m1 2h0m1-3h0m1 1h0m0-1h0m0 5h0m1-6h0m0 3h0m0 0h0m0 0h0m0-3h0m1 5h0m0 7h0m1-3h0m0 0h0m0-5h0m0 0h0m1 8h0m0-9h0m1 3h0m1 4h0m0-9h0m1 0h0m1 5h0m0 0h0m0 4h0m0-8h0m1 2h0m1 4h0m1 2h0m1-4h0m0-4h0m1 7h0m1-7h0m1-1h0m0 6h0m3-4h0m0 3h0m1 5h0m0-2h0m1 2h0m1-5h0m1 4h0m0-10h0m1 10h0m0-8h0m0 5h0m1 2h0m0-6h0m0 6h0m1-8h0m0 2h0m0 8h0m1-7h0m1 5h0m0 0h0m1-5h0m1 7h0m0-4h0m0 0h0m1-1h0m1 5h0m0-1h0m0-1h0m0-6h0m2 4h0m0 2h0m0-2h0m0 3h0m1-7h0m0-1h0m0 0h0m0 2h0m1 3h0m0-4h0m1 3h0m0-1h0m1-4h0m1 3h0m1-1h0m1-3h0m0 7h0m0 2h0m0-3h0m-347 6h0m4 1h0m1 0h0m2-1h0m0 2h0m0-1h0m1 1h0m1 0h0m7 2h0m2-1h0m3 2h0m0-3h0m3 4h0m2-4h0m0 4h0m1 2h0m1-7h0m1 2h0m0 5h0m1-6h0m0-1h0m0 6h0m1-1h0m3-4h0m0 5h0m0-2h0m1 5h0m0-3h0m0 1h0m1-7h0m0 5h0m1 5h0m2-5h0m1 1h0m0-1h0m1-5h0m1 10h0m1 0h0m1-5h0m0-4h0m1 2h0m0 0h0m1-4h0m0 4h0m1-2h0m1 3h0m1-4h0m0 7h0m0-5h0m2 1h0m0 7h0m0-9h0m1 1h0m1 0h0m1 6h0m0 0h0m1-2h0m3-5h0m0 6h0m0 3h0m1-6h0m0 2h0m0 5h0m0-5h0m2 3h0m0 2h0m0-7h0m1 5h0m1-2h0m0-5h0m1 7h0m0 1h0m1-8h0m0 1h0m0-1h0m1 1h0m0 3h0m0 3h0m0 2h0m1-9h0m0-2h0m0 6h0m1-3h0m0 4h0m1-3h0m1-4h0m0 0h0m0-1h0m1 5h0m0 0h0m1-2h0m0 6h0m1-4h0m1-2h0m0 4h0m0 1h0m1-7h0m1 2h0m0 2h0m0-3h0m1-1h0m0 7h0m1-3h0m1 1h0m1-5h0m0 1h0m2 1h0m1 6h0m1-2h0m1-7h0m1 2h0m0 3h0m1 3h0m0-6h0m0 0h0m0 1h0m1 0h0m0 5h0m1 0h0m1-1h0m2-3h0m0 3h0m0-7h0m1 3h0m0 0h0m1-3h0m0 8h0m1 0h0m0 2h0m1-2h0m0 1h0m1-3h0m0-5h0m0 5h0m0-4h0m0 1h0m1-1h0m0 0h0m0 0h0m1-1h0m0 2h0m1 5h0m1 0h0m0 4h0m0-12h0m2 5h0m1 0h0m0 2h0m1-2h0m0 4h0m1 1h0m0-6h0m0 5h0m0-8h0m1 7h0m1-6h0m0 7h0m0 0h0m0 2h0m2-8h0m0 4h0m0-3h0m0-2h0m1 8h0m0-3h0m1 3h0m1-5h0m0 3h0m1-2h0m1-3h0m1 7h0m0-8h0m0 9h0m0-10h0m2 9h0m0-9h0m1 10h0m1-1h0m0-1h0m2-4h0m0 0h0m0 0h0m0 5h0m2-6h0m1-3h0m3 5h0m0-2h0m1 0h0m1-3h0m0 11h0m0-6h0m1 1h0m0-1h0m1 2h0m0 2h0m1 0h0m0-6h0m1 2h0m1-4h0m0 0h0m1 6h0m0-4h0m1 7h0m0-4h0m0-5h0m0 4h0m0 6h0m2-10h0m0 8h0m0-4h0m1 1h0m0 3h0m0-1h0m0-7h0m0 3h0m1-2h0m1 4h0m1-2h0m1 2h0m0 4h0m0-1h0m0-9h0m0 3h0m2 7h0m1-5h0m2-5h0m0 0h0m1 11h0m1-8h0m0 4h0m1-2h0m0 3h0m0-1h0m3 4h0m0-6h0m2 2h0m4 2h0m1-3h0m5 5h0m0-4h0m6 3h0m2-2h0m3 1h0m0-2h0m3 4h0m0-4h0m3-6h0m1 9h0m0 0h0m1-10h0m0 3h0m2 4h0m0-2h0m0-1h0m1 5h0m0 2h0m1-5h0m1 0h0m1 4h0m1-6h0m0 2h0m0-2h0m1 0h0m1 3h0m1-2h0m2-1h0m0-1h0m0 4h0m2-7h0m1 3h0m1 3h0m2-2h0m0-2h0m0-2h0m1 9h0m0 0h0m1 0h0m0 1h0m0-7h0m2 3h0m1 5h0m2-7h0m0-2h0m2-3h0m1 9h0m0-2h0m0 1h0m1-6h0m0-2h0m0 1h0m1 1h0m1 7h0m0-3h0m1-1h0m1 2h0m0 4h0m1 0h0m0-9h0m0 6h0m2 0h0m1 4h0m0-6h0m1-5h0m1 4h0m0-2h0m1 1h0m1 4h0m0-6h0m1 7h0m1 3h0m0-3h0m1-8h0m0 7h0m1 4h0m1-7h0m1-4h0m0 3h0m0 7h0m1-3h0m0-4h0m0 0h0m1-3h0m0 1h0m0 7h0m0-8h0m0 0h0m0 0h0m1 6h0m0 1h0m3 1h0m2-6h0m0-2h0m1 2h0m0 8h0m0-5h0m1 3h0m0-8h0m1 7h0m0-2h0m1-5h0m0 2h0m1 7h0m0 1h0m1-1h0m1-2h0m0-1h0m0-5h0m0 1h0m1-2h0m0-1h0m0 4h0m0-1h0m1 5h0m0-4h0m0 7h0m2-8h0m0 6h0m0-8h0m0 5h0m1-1h0m0 1h0m1 6h0m0-2h0m1-5h0m0 1h0m2-4h0m1 8h0m0-8h0m0 9h0m1-3h0m0-5h0m0-2h0m0 7h0m1 3h0m0 1h0m0-1h0m1 0h0m0-1h0m2-6h0m0-4h0m0 12h0m1-1h0m1-10h0m0 7h0m0 2h0m0 2h0m0 0h0m0-1h0m1-2h0m0 2h0m0-4h0m0 4h0m0-3h0m1-1h0m1 0h0m0 0h0m0 0h0m1-3h0m0-1h0m0 8h0m1-10h0m0 6h0m1-6h0m0 3h0m0-3h0m1 7h0m0-2h0m2 6h0m1-7h0m0-4h0m1 3h0m1 4h0m0-2h0m0-5h0m1 4h0m0 3h0m0 2h0m1-7h0m1 8h0m0-5h0m0-5h0m1-1h0m0 0h0m0 3h0m0-3h0m1 6h0m0-3h0m0 5h0m1-2h0m0-1h0m0 6h0m0-2h0m1-4h0m0 5h0m0-2h0m0-3h0m0 7h0m0-2h0m0-7h0m0 6h0m0-2h0m1 1h0m0-3h0m0 0h0m1-1h0m1-4h0m0 11h0m1 0h0m0-3h0m0-3h0m1 2h0m2-4h0m0 4h0m0 2h0m0-2h0m3 1h0m1 3h0m0-5h0m1 6h0m1-5h0m2-7h0m0 11h0m1-9h0m0 4h0m1-6h0m0 12h0m1 0h0m0-2h0m0-4h0m0-1h0m1-5h0m0 3h0m0 6h0m1-2h0m0-5h0m0-1h0m1 2h0m1 8h0m0-1h0m2-9h0m0 9h0m0-2h0m2 2h0m0 0h0m0-8h0m0 9h0m1-8h0m0 1h0m0 7h0m0-2h0m0 2h0m1-1h0m0-7h0m0 2h0m1 0h0m1-3h0m1 3h0m0 4h0m0-4h0m1 4h0m0-3h0m1-4h0m0 9h0m0-6h0m2 2h0m0-2h0m1 0h0m0-3h0m0 4h0m0-4h0m0 6h0m1-5h0m2 9h0m0-12h0m0 6h0m1 0h0m1 1h0m0 1h0m0-4h0m1-2h0m0 1h0m1 9h0m0-3h0m2-1h0m0 3h0m0-8h0m1 5h0m0-2h0m0 1h0m1 2h0m0-1h0m0 0h0m0 4h0m2-9h0m0-3h0m0 4h0m0 8h0m1-3h0m0-5h0m0-1h0m0 6h0m1 1h0m0 0h0m0 1h0m1-4h0m0 2h0m1-3h0m1-2h0m3 1h0m0 3h0m0-6h0m0 0h0m1 1h0m-312 12h0m1 0h0m2-1h0m0 6h0m0-5h0m1 7h0m0-3h0m1 2h0m0-8h0m1 7h0m0-3h0m0-3h0m1 7h0m0 2h0m4-9h0m1 9h0m1-1h0m0 0h0m1 1h0m0 0h0m0-8h0m1 5h0m0 4h0m0-4h0m1 3h0m0-8h0m0 2h0m0 3h0m1-8h0m0 11h0m1-8h0m0 6h0m0 2h0m1-6h0m0 6h0m0-5h0m0 0h0m0-6h0m1 5h0m0-1h0m2-2h0m0 0h0m1 8h0m0-6h0m0-4h0m1 0h0m0 7h0m0-2h0m0 0h0m1 0h0m0 3h0m1-4h0m2-1h0m1 9h0m0-6h0m1 0h0m0 3h0m0-3h0m0 1h0m1 4h0m0-9h0m1 10h0m1-5h0m1-2h0m0 7h0m0-8h0m0 1h0m1 1h0m0-6h0m0 7h0m0 2h0m1-2h0m1 4h0m1-4h0m0 1h0m1 2h0m0-10h0m1 2h0m0 1h0m0 3h0m0 4h0m1-2h0m0-5h0m1 4h0m1 2h0m1 3h0m1-6h0m0 4h0m1-2h0m1-4h0m0 0h0m1 7h0m0-1h0m0-5h0m1-1h0m0 7h0m0-3h0m0 1h0m1-6h0m0 7h0m1-8h0m1 4h0m1 5h0m1-1h0m0-3h0m1-1h0m1 1h0m0-3h0m0 1h0m0-2h0m0 3h0m0-5h0m1 6h0m2-1h0m0-5h0m0 7h0m0 0h0m1 0h0m0-3h0m0 6h0m0-10h0m0 1h0m1 5h0m1 3h0m0-3h0m0 3h0m2-5h0m1 3h0m0-5h0m1-3h0m0 4h0m0 6h0m0 1h0m0 1h0m0-9h0m2 4h0m1-6h0m0 5h0m2-2h0m1 2h0m0 0h0m1-3h0m1 3h0m0 0h0m2-3h0m0 3h0m2 0h0m0-2h0m1 8h0m0-9h0m0 3h0m0-5h0m0 9h0m1-8h0m1-1h0m0 9h0m1 1h0m2-6h0m0 4h0m0-2h0m0-5h0m0 10h0m1-4h0m0 4h0m2-4h0m1-4h0m0 2h0m1-2h0m1 8h0m0-1h0m0 1h0m0-2h0m0-9h0m2 3h0m0 2h0m0-3h0m1 7h0m0-1h0m1 2h0m0-4h0m1-4h0m0 0h0m1 0h0m0-1h0m3 2h0m3 4h0m0 1h0m0-6h0m1 2h0m0-2h0m0 5h0m2-2h0m0 0h0m0-3h0m2 5h0m0-4h0m0 7h0m0-5h0m1-1h0m0-3h0m1 10h0m1-11h0m1 9h0m0-1h0m0-1h0m1 3h0m1-9h0m3 8h0m0-2h0m0-5h0m1 4h0m1-5h0m1 3h0m1-3h0m0 1h0m1 7h0m2-1h0m0 2h0m1-1h0m1-9h0m0 3h0m1 6h0m2 1h0m0-10h0m1 1h0m1 6h0m0-5h0m1 8h0m1 0h0m1-5h0m1 4h0m1-3h0m2 4h0m1-4h0m0-4h0m0 4h0m0 2h0m2-2h0m0-2h0m1 6h0m1-6h0m1 0h0m1 4h0m1-5h0m0-1h0m0-2h0m0 3h0m0-1h0m0 8h0m0-9h0m0 6h0m2-1h0m1-2h0m0 2h0m0 0h0m1 5h0m1-2h0m1-9h0m0 4h0m1 3h0m0-2h0m0 2h0m3 0h0m0 1h0m0-9h0m1 8h0m2 4h0m3-1h0m0-3h0m0 4h0m0-3h0m1-8h0m0 9h0m1-5h0m0-4h0m1 0h0m0 9h0m1-4h0m0-6h0m0 6h0m0-5h0m1 7h0m1 1h0m1 1h0m0 0h0m1-2h0m3 1h0m1 3h0m4-10h0m0 7h0m1-3h0m0-2h0m2-1h0m0 3h0m1 2h0m1-5h0m0 3h0m1 4h0m2-8h0m1 0h0m0 8h0m1-4h0m1-2h0m0-3h0m1 8h0m1-2h0m0 2h0m1 0h0m1 1h0m0 0h0m1-9h0m1 4h0m0 1h0m0-4h0m1 3h0m0 0h0m0 5h0m1 1h0m0-5h0m0-4h0m0 3h0m0-1h0m1 6h0m1 0h0m0-7h0m1 2h0m0 5h0m2-3h0m1-4h0m0 7h0m0-10h0m1 1h0m0 4h0m0-2h0m0 5h0m1-4h0m0-4h0m1 12h0m0-6h0m0 4h0m0-3h0m1 1h0m0-4h0m1 4h0m1-2h0m1-2h0m2 4h0m0 0h0m0 0h0m1 2h0m0-4h0m1 3h0m0-1h0m2 1h0m1 0h0m2 3h0m0-1h0m0-1h0m0-10h0m1 1h0m0 6h0m1-2h0m1 6h0m0-5h0m1 0h0m1-4h0m0 7h0m0 1h0m0-6h0m0 2h0m0-5h0m1-1h0m0 6h0m0-5h0m2 4h0m0-3h0m2 0h0m0 4h0m1-3h0m0-1h0m0 9h0m1-7h0m0 3h0m1-6h0m0 5h0m0-1h0m0 3h0m1 3h0m0 0h0m2-5h0m2 3h0m0-8h0m0 0h0m1 5h0m0 3h0m1 0h0m0-2h0m1-4h0m2-1h0m0 3h0m1 3h0m0 1h0m1-3h0m1 4h0m0-3h0m1-6h0m0 0h0m1 7h0m0-4h0m1-1h0m1 6h0m0-4h0m0 1h0m1-4h0m1 1h0m1 7h0m1-1h0m0-6h0m0-1h0m1 8h0m0 1h0m0 1h0m1-2h0m0 2h0m0-5h0m1-1h0m1-4h0m1 4h0m0 2h0m1-5h0m1 6h0m1 2h0m0-3h0m0-5h0m1 5h0m0 2h0m1-6h0m0 6h0m2-4h0m0-4h0m1 7h0m1 2h0m0-7h0m0 7h0m0-11h0m1 3h0m0 0h0m1 7h0m1-2h0m0-5h0m0 2h0m1-3h0m1 5h0m1 2h0m0-7h0m0 2h0m1 3h0m0-3h0m1 4h0m1 0h0m1-1h0m0-4h0m0-3h0m1 12h0m0-5h0m2-2h0m1-1h0m0 5h0m0 1h0m0-8h0m1 1h0m1 2h0m0 1h0m0-6h0m0 6h0m1-2h0m1-3h0m0 2h0m2 7h0m0-5h0m1 6h0m1-7h0m1 3h0m1 0h0m0 4h0m0-2h0m1-8h0m2 4h0m0 5h0m0-6h0m0 6h0m2-5h0m1-5h0m0 3h0m1 4h0m1 4h0m0-9h0m0 10h0m1-7h0m0 6h0m1-5h0m0-2h0m1-4h0m0 6h0m1-6h0m1 1h0m1 7h0m0-4h0m0 0h0m1-3h0m0 7h0m-303 7h0m1 5h0m1-3h0m0 1h0m0 2h0m1-6h0m0 6h0m1 2h0m0-8h0m0 1h0m0-2h0m0 5h0m1 2h0m1-5h0m0 4h0m0 0h0m0-5h0m1-1h0m0 4h0m1 4h0m0-6h0m1 1h0m0 8h0m0-4h0m1-6h0m0 4h0m1 5h0m0-5h0m0-2h0m2 4h0m1-4h0m0 5h0m1-5h0m1 1h0m0 3h0m0-6h0m0 1h0m1 2h0m1 2h0m0 5h0m1-11h0m2 2h0m2 8h0m1-7h0m1 7h0m1-2h0m0-1h0m2-7h0m0 7h0m0-2h0m1 2h0m0-1h0m1-3h0m0 6h0m0-8h0m0 4h0m1 5h0m1-10h0m1 5h0m0 3h0m1 3h0m0-3h0m1-3h0m0-1h0m1 1h0m1 6h0m1-4h0m0 1h0m0 1h0m2 0h0m1 1h0m0-7h0m0-1h0m1 3h0m0 2h0m2-2h0m1 4h0m0 1h0m1-11h0m0 8h0m0 0h0m2 1h0m1-1h0m0 3h0m1-1h0m0 0h0m0 0h0m1-1h0m0 3h0m1-11h0m1-1h0m1 10h0m1-3h0m1-7h0m0 0h0m1 7h0m1-6h0m1 1h0m0 7h0m0-7h0m0 9h0m0-7h0m0-3h0m2 5h0m0 5h0m1-7h0m0 7h0m0 0h0m1-7h0m0 3h0m1 2h0m1-1h0m1 0h0m0 0h0m1-2h0m2-4h0m0-2h0m1 9h0m0-8h0m2 10h0m0-4h0m0-3h0m1-1h0m1 6h0m0 3h0m1-9h0m0 7h0m1-9h0m2 8h0m0-6h0m0-1h0m0 3h0m1 2h0m0 3h0m0-3h0m0 3h0m1 1h0m2-5h0m1-1h0m2 1h0m0 2h0m1 2h0m0-9h0m0 7h0m0 2h0m1-7h0m0 6h0m0-7h0m1 2h0m1 0h0m0 0h0m0 7h0m0-7h0m0 6h0m1-5h0m0-2h0m1 6h0m1-9h0m0 11h0m0-2h0m2 3h0m1-6h0m2 2h0m1 0h0m0-1h0m1 2h0m1-2h0m0-4h0m1 0h0m1-3h0m0 11h0m1-8h0m1 4h0m0-3h0m2-3h0m1 0h0m1 6h0m0-3h0m2 8h0m0-4h0m0 3h0m1-8h0m1 4h0m1 3h0m0 0h0m1-5h0m0 3h0m0-8h0m0 8h0m0-2h0m1-1h0m1-2h0m0 7h0m0-9h0m1 1h0m2-1h0m0 7h0m1 0h0m0-7h0m0 2h0m0 4h0m1-1h0m0-3h0m1 7h0m0 1h0m0-1h0m0-1h0m1-6h0m0 1h0m0 0h0m0-3h0m1 8h0m0-6h0m1 6h0m0-7h0m0 8h0m0-8h0m0 0h0m1 6h0m1-2h0m0-2h0m0 5h0m0 3h0m1-9h0m0 7h0m0-3h0m1 3h0m0-8h0m1 5h0m1 1h0m1-5h0m0 3h0m2 3h0m0 0h0m0-9h0m0 0h0m1 3h0m0 9h0m1-2h0m1-3h0m1 3h0m0-7h0m0 6h0m1-7h0m0 6h0m0-5h0m1 2h0m2 3h0m1 4h0m2 0h0m0-6h0m4-4h0m1 8h0m0-1h0m0-6h0m0-3h0m2 1h0m1 8h0m1-5h0m0 1h0m2-4h0m0 4h0m0 5h0m0-1h0m3-3h0m1-1h0m1 1h0m0 3h0m0-4h0m1-3h0m0 3h0m1-1h0m0 5h0m0-1h0m1-5h0m0-2h0m1 6h0m3-2h0m0 3h0m0-1h0m0-6h0m1 6h0m1-3h0m0 7h0m1-10h0m0 2h0m0 8h0m1-10h0m0 6h0m1 5h0m3-9h0m0 4h0m1 3h0m0-8h0m1 1h0m0 6h0m1-5h0m0 1h0m1 4h0m2 0h0m0-9h0m1 8h0m1-3h0m0-5h0m0 11h0m1-6h0m1 0h0m0 5h0m0-10h0m1 7h0m0-3h0m0 5h0m1-8h0m0 5h0m1-5h0m0-1h0m0 8h0m0-6h0m1 3h0m1 0h0m0 7h0m0-7h0m0-2h0m0 5h0m1-3h0m1 0h0m0-2h0m1 9h0m0-10h0m1 3h0m0 1h0m1-5h0m1 9h0m0-4h0m3 0h0m0 6h0m1-9h0m0 1h0m1 3h0m0 0h0m1 0h0m0-5h0m1-2h0m0 5h0m1 0h0m0 2h0m0 2h0m0-4h0m0-3h0m1 3h0m0 5h0m1 0h0m3-5h0m1 5h0m1-7h0m2-1h0m2-1h0m1 0h0m0 6h0m1-3h0m0 7h0m0-10h0m1 4h0m0 3h0m0 4h0m1-1h0m1-5h0m0-3h0m0 0h0m1 6h0m0-8h0m3-1h0m0 3h0m1 2h0m1 2h0m1-3h0m0 5h0m1-7h0m0 2h0m1 1h0m1 1h0m1 2h0m1-3h0m0 0h0m1 1h0m1 1h0m0 1h0m1-3h0m0-1h0m0 5h0m1-3h0m4 0h0m1 3h0m1 0h0m0-6h0m1-1h0m0 8h0m0-8h0m2-2h0m2 2h0m0 2h0m0-3h0m0 10h0m2-2h0m0-7h0m3 1h0m0 0h0m1 2h0m0-5h0m0 7h0m1-1h0m0 2h0m1-7h0m0 8h0m0 2h0m1-6h0m0 3h0m0-2h0m2 1h0m0-2h0m0-4h0m1 1h0m0 6h0m0-7h0m0 2h0m1 5h0m1-5h0m0-1h0m0 0h0m1 8h0m0 1h0m1-7h0m1 0h0m0-4h0m0 11h0m0-9h0m0 3h0m1 5h0m0-9h0m0 3h0m1 6h0m0-9h0m1 5h0m1 4h0m0-4h0m0 4h0m1-7h0m0 1h0m0 7h0m1-7h0m0 4h0m0-3h0m0-4h0m0 0h0m1 2h0m0 4h0m0-4h0m1-1h0m1 2h0m0-3h0m2 9h0m0-8h0m1 4h0m0-1h0m1-1h0m0 3h0m1-1h0m0-1h0m1 5h0m0-7h0m1 6h0m0 1h0m3-2h0m3-4h0m1 1h0m0-1h0m1 3h0m0 3h0m0-5h0m1 3h0m0-6h0m0 5h0m1-6h0m0 2h0m0-1h0m2 4h0m2-4h0m-293 14h0m0 0h0m3-3h0m1 4h0m0-5h0m2 2h0m0 4h0m0-2h0m1 1h0m4 3h0m0 3h0m0-10h0m1 6h0m0-3h0m0 6h0m0-8h0m1 1h0m1-2h0m0 9h0m1-1h0m0 0h0m0-9h0m2 5h0m1-4h0m0 10h0m0-5h0m1 0h0m0-3h0m1 9h0m0-3h0m1-5h0m0 5h0m0-3h0m3 4h0m0-2h0m1-4h0m0 7h0m0-6h0m1 5h0m0-8h0m1 3h0m1 7h0m2-9h0m1 6h0m0 2h0m1-9h0m0 1h0m2 7h0m1 1h0m1-1h0m0-1h0m1 0h0m0-3h0m0 2h0m0 0h0m0 3h0m0-5h0m1-3h0m3 2h0m1 3h0m0-3h0m2-2h0m0 7h0m1-5h0m0 2h0m2-5h0m1 3h0m0 4h0m0-2h0m0 2h0m2 3h0m0-6h0m1 2h0m0-8h0m0 8h0m0-6h0m1 9h0m1-6h0m0 7h0m2-4h0m0-2h0m0 0h0m1 2h0m0-5h0m1 2h0m1-1h0m0 6h0m0-6h0m2-4h0m0 1h0m3 0h0m1 11h0m0-2h0m0 2h0m1-6h0m0 2h0m0 0h0m0-6h0m0 2h0m1 1h0m2 0h0m2 2h0m1 0h0m0-5h0m1 2h0m1 0h0m0 8h0m0-10h0m1 7h0m0-6h0m2-3h0m0 8h0m1 4h0m1-1h0m0-9h0m0 3h0m1-4h0m0 9h0m0-6h0m1-4h0m0 1h0m3 4h0m0 3h0m2-3h0m1 3h0m1-2h0m0-5h0m0 7h0m1-5h0m0 8h0m0-3h0m1 4h0m0-8h0m0 7h0m0-11h0m1 12h0m0-6h0m1 5h0m0-6h0m0 5h0m1-4h0m0 3h0m0-6h0m0 5h0m0-4h0m1 0h0m0-2h0m1 2h0m0-1h0m1 5h0m1-8h0m1 11h0m0 1h0m2-11h0m1 3h0m1-2h0m0 9h0m0-6h0m1 2h0m0 0h0m0-7h0m1 4h0m1 1h0m0-1h0m0 2h0m0 4h0m0 1h0m1 1h0m0-3h0m3-7h0m0 7h0m0-2h0m0 0h0m1-1h0m1-2h0m0 1h0m1 2h0m0-4h0m1 1h0m1 7h0m0-7h0m0 7h0m1-9h0m0 7h0m1-4h0m1 3h0m0-8h0m1 0h0m2 6h0m2-6h0m0 5h0m1 5h0m0-8h0m0 8h0m1-2h0m1 3h0m1-6h0m0 4h0m1-1h0m0-6h0m0-2h0m1 11h0m0-9h0m2 5h0m0-5h0m0 1h0m0-1h0m1 2h0m0 5h0m0-7h0m1 5h0m0-6h0m3 8h0m1-3h0m2-4h0m1 0h0m0 3h0m0-5h0m0 7h0m1-3h0m1 2h0m1-4h0m0 0h0m2 2h0m0-4h0m7 4h0m4-4h0m0 2h0m0 2h0m0-3h0m1 3h0m1-2h0m0 4h0m0-4h0m0 0h0m1 0h0m0 5h0m2-5h0m1 6h0m0-5h0m1 3h0m0-6h0m0 3h0m0 2h0m2-2h0m0 1h0m1 0h0m0 4h0m1-4h0m1-3h0m0 6h0m1-6h0m1 8h0m4-7h0m1 5h0m0 3h0m0-1h0m1 1h0m0-3h0m0-4h0m1 7h0m0-1h0m0-7h0m1-1h0m0 8h0m2 0h0m0-2h0m1-3h0m0 3h0m1 3h0m1 0h0m1 2h0m1-5h0m1 3h0m0-5h0m0-3h0m3 8h0m0-2h0m1-6h0m1 4h0m1 4h0m0-9h0m1 0h0m0 5h0m0-2h0m2 7h0m1-7h0m0 2h0m0 2h0m1-1h0m1-5h0m1 8h0m1 1h0m1-1h0m0-10h0m0 5h0m1 3h0m1-1h0m1 4h0m0-7h0m0-3h0m1 7h0m0-7h0m0 1h0m1 9h0m0-8h0m0 0h0m0 8h0m0-9h0m0 10h0m2-3h0m0-3h0m0 3h0m0-2h0m0-2h0m0-2h0m2 5h0m0-7h0m1 9h0m1-9h0m0 9h0m0 2h0m1-11h0m0 2h0m0 4h0m1-1h0m0-5h0m0 4h0m0 4h0m1-8h0m0 8h0m0-2h0m0 4h0m1-4h0m0 4h0m1-6h0m1 4h0m0-8h0m1 0h0m2 11h0m0-9h0m1 0h0m1 4h0m0 5h0m0-4h0m0 3h0m0 1h0m2-7h0m0 5h0m0-9h0m1 7h0m0 2h0m0-9h0m0 2h0m0 7h0m1 0h0m0-9h0m0 2h0m0 6h0m0 2h0m0-6h0m2-4h0m1 10h0m0-7h0m0 2h0m0 5h0m0-5h0m1 0h0m1 5h0m0-4h0m1 2h0m1-2h0m1 2h0m1-5h0m1-1h0m0 1h0m0-1h0m1-3h0m0 8h0m1-8h0m0 8h0m1-1h0m0-1h0m2 4h0m0 0h0m0-5h0m1 4h0m1-6h0m1 3h0m0 6h0m0 0h0m0-3h0m1-9h0m0 9h0m0-7h0m1 1h0m1 7h0m0 1h0m0-3h0m0 2h0m1 0h0m0-7h0m1 2h0m0-3h0m1 1h0m0 9h0m1-6h0m0 3h0m2 1h0m0-3h0m0-3h0m1 8h0m1-9h0m0 4h0m2 4h0m0 1h0m2-9h0m1 3h0m1 0h0m1 3h0m0 1h0m1-6h0m0 1h0m1 2h0m0-6h0m1 11h0m1-10h0m1 7h0m0 2h0m0-1h0m1-1h0m0-4h0m0 7h0m1-6h0m0 0h0m0 2h0m0-6h0m0-2h0m1 6h0m0 2h0m0-4h0m0 5h0m1-8h0m0 4h0m1 5h0m1 0h0m1-3h0m3-6h0m0 4h0m1-1h0m3-3h0m0 3h0m1 1h0m3-4h0m-267 13h0m1 1h0m0-2h0m1 1h0m1-2h0m1 3h0m0-1h0m1-1h0m0 3h0m2-2h0m0 2h0m1-2h0m0 0h0m4-2h0m1 5h0m2-3h0m0 1h0m0 1h0m0 0h0m1-1h0m3-2h0m0 0h0m0 4h0m1-3h0m2 0h0m0 0h0m1 3h0m1 0h0m3-2h0m4 2h0m0-2h0m6 2h0m1-5h0m0 3h0m0 0h0m5 1h0m1-2h0m1 0h0m0 0h0m1-2h0m0 3h0m2 2h0m0-3h0m1 0h0m2-1h0m0 3h0m1-1h0m1 0h0m0-1h0m0-1h0m1-1h0m4 2h0m0-2h0m0 1h0m1 0h0m0 0h0m2 1h0m1 3h0m3-5h0m8 3h0m5 1h0m1-3h0m2 1h0m1-2h0m1 3h0m3 1h0m1-2h0m1-2h0m3 3h0m1-3h0m2 1h0m2 1h0m1 0h0m78-1h0m1 2h0m2 1h0m1-4h0m2 7h0m0-4h0m1-2h0m0 4h0m1-4h0m0 7h0m1-6h0m3-2h0m2 2h0m1 4h0m0-6h0m1 5h0m0-1h0m0 1h0m0 3h0m1-4h0m0 8h0m1-7h0m1 1h0m0 0h0m1-5h0m0 2h0m0 8h0m1-8h0m2-1h0m1 8h0m0-8h0m0 9h0m0-3h0m2 1h0m0 3h0m0-7h0m1 0h0m1 5h0m0 2h0m1-4h0m1-7h0m0 8h0m0 2h0m0-2h0m1 1h0m1-8h0m0-1h0m1 9h0m0-6h0m2 5h0m1-4h0m0 3h0m0-7h0m1 8h0m0-3h0m0 3h0m1-2h0m1 2h0m0 2h0m1-5h0m0-1h0m1 5h0m0-1h0m2-9h0m0 3h0m0 9h0m0-10h0m1 3h0m0 7h0m1-3h0m0 2h0m0-7h0m1 4h0m1 1h0m0 0h0m0-3h0m0-1h0m0-1h0m1 4h0m1-4h0m0-3h0m2 4h0m0 2h0m1-6h0m1 11h0m0-2h0m0 2h0m0-4h0m1-6h0m0 0h0m1 5h0m1-3h0m0 2h0m1 1h0m0 4h0m0-2h0m1-2h0m0-4h0m0 4h0m0 3h0m1 1h0m0-10h0m1 3h0m3-3h0m0 5h0m0 2h0m1-7h0m0 8h0m1-7h0m0 1h0m0-1h0m1 5h0m0-1h0m1-4h0m0 1h0m1 2h0m0-4h0m0 6h0m2-3h0m1 2h0m0-6h0m1 2h0m1 1h0m1-1h0m-52 13h0m2-1h0m5-1h0m1 2h0m3-2h0m4 1h0m2 1h0m3-1h0m3 1h0m0-1h0m6-1h0m3 3h0m0-3h0m1 2h0m1-1h0m0 0h0" stroke="#9e2a4f" stroke-width="3.2" stroke-linecap="round" fill="none" transform="scale(0.5)"/>
<path d="M872 1458h0m-21 10h0m3-1h0m0 2h0m1-4h0m0 2h0m4-5h0m0 0h0m2 2h0m0 1h0m0 2h0m0-7h0m1 2h0m1 3h0m1 1h0m4-2h0m3-1h0m0 5h0m3-9h0m5 10h0m2-1h0m0-4h0m0 4h0m-64 9h0m1-2h0m0 5h0m1 1h0m2-4h0m16 3h0m1-1h0m3 1h0m1-1h0m1-2h0m0 2h0m0-1h0m3 1h0m1-2h0m1-3h0m0 5h0m2-3h0m0-2h0m1 4h0m1-1h0m1-3h0m0-2h0m5 9h0m5-4h0m2-7h0m3 7h0m1 5h0m1 0h0m3-6h0m1-5h0m3 8h0m1 2h0m0-7h0m1-3h0m1 10h0m4-1h0m1-10h0m2 10h0m0 0h0m0 2h0m1-7h0m-67 12h0m7 5h0m4-7h0m2 3h0m1-4h0m2 3h0m4-3h0m1 9h0m2-1h0m2-4h0m0 1h0m0-6h0m1 5h0m2 3h0m0-3h0m1 3h0m0 3h0m3-2h0m1-7h0m0 5h0m2-7h0m0 4h0m1 2h0m1 2h0m4-1h0m0-5h0m2 8h0m3-4h0m1-7h0m1 12h0m0-4h0m2-5h0m2 0h0m0 4h0m0 4h0m3-11h0m1 5h0m0 3h0m4-5h0m0 4h0m2 3h0m0-10h0m2 9h0m1 0h0m1 0h0m1 1h0m2-4h0m1 1h0m0-1h0m0 0h0m1-1h0m2-2h0m1 5h0m-68 8h0m1 2h0m1-3h0m2-1h0m0 1h0m0-3h0m1 9h0m2-4h0m0-2h0m1 5h0m0-2h0m2 4h0m2 0h0m1-7h0m2-2h0m3 2h0m0 6h0m1-9h0m6 3h0m1 1h0m0 7h0m2-5h0m3 3h0m3-1h0m2-3h0m0 3h0m2 0h0m2-7h0m1 2h0m0 1h0m0 2h0m0 5h0m0-3h0m1 3h0m1-10h0m1 8h0m3-7h0m0 3h0m1-1h0m3 2h0m1 4h0m3-7h0m0 3h0m0-2h0m0-1h0m1 1h0m0 3h0m2-5h0m1 6h0m1 1h0m0-3h0m3 6h0m0-3h0m1 2h0m0-7h0m0 1h0m0-4h0m3-1h0m1 10h0m0 0h0m1-3h0m3 2h0m1-4h0m1 7h0m-78 8h0m3 2h0m3-8h0m5 0h0m3 2h0m1 1h0m1 5h0m0-10h0m3 9h0m0-5h0m1 1h0m1 3h0m0-7h0m0 5h0m1 4h0m0 2h0m1-5h0m5 2h0m2-5h0m0 2h0m3-6h0m1 11h0m0-6h0m1-1h0m1 4h0m0 3h0m1-6h0m3 0h0m0 6h0m2 0h0m1-11h0m0 9h0m1-3h0m1 2h0m1 4h0m5-11h0m1 11h0m2-11h0m1 1h0m1 2h0m0 1h0m1-1h0m1-2h0m0 0h0m1 5h0m1 1h0m1 2h0m2-10h0m0 3h0m0 7h0m1-7h0m3 5h0m1-2h0m0-6h0m2 3h0m2-1h0m3-2h0m2 2h0m-82 18h0m4 2h0m11-4h0m3-3h0m1 2h0m1-3h0m3 7h0m1-1h0m0-3h0m1-4h0m1 1h0m0 8h0m2-2h0m0 1h0m2 2h0m1-5h0m3 6h0m3-11h0m0 6h0m1-6h0m2 1h0m1-2h0m3 5h0m1-2h0m0 3h0m5-4h0m3 0h0m0 3h0m1-2h0m2-3h0m0 4h0m2 0h0m1 3h0m0 2h0m0-5h0m0 1h0m3 4h0m0-3h0m0-4h0m1 4h0m0-2h0m2 0h0m1 3h0m2 3h0m1-8h0m1 10h0m2-9h0m1-1h0m7 5h0m1 3h0m0-1h0m-80 14h0m2-8h0m1 6h0m1-6h0m3 5h0m1 1h0m0-1h0m2-3h0m0 0h0m0 1h0m2 0h0m1-2h0m2 1h0m0-4h0m3 0h0m1 2h0m0-3h0m2 5h0m0-4h0m1 9h0m0-7h0m2 3h0m1-4h0m0 7h0m1 1h0m1-8h0m0 4h0m2-4h0m0 5h0m29-7h0m2 3h0m6 4h0m0-5h0m1 3h0m2 6h0m1-6h0m0 1h0m2 1h0m1-6h0m1 11h0m0-8h0m0-3h0m0 2h0m0-1h0m1-1h0m1 2h0m1 0h0m3-1h0m1 4h0m3 6h0m-87 2h0m1 0h0m2-2h0m18 1h0m52 0h0m4 3h0m4-2h0m1 0h0m0-2h0m4 2h0m2 5h0m-97 25h0m4 0h0m1 2h0m-4 5h0m172 20h0m3 1h0m-52 12h0m3-3h0m1-3h0m1 1h0m3 3h0m1-5h0m0 1h0m1 0h0m1 2h0m0-4h0m1 5h0m1 3h0m1-3h0m1-4h0m1 0h0m1 5h0m1 2h0m1-4h0m1-2h0m0 2h0m1-3h0m1 2h0m0 4h0m1-1h0m1-7h0m1 0h0m1 7h0m0-4h0m0 4h0m0-4h0m1-2h0m0 5h0m1-2h0m0-1h0m0-3h0m1-1h0m0 5h0m0 1h0m0-1h0m1 4h0m0-1h0m2-2h0m1-6h0m0 1h0m1 2h0m1-1h0m0 3h0m0-4h0m4 6h0m2 3h0m1-9h0m1 5h0m0-1h0m0-6h0m1 1h0m0-2h0m2 2h0m0 9h0m2-10h0m1 0h0m0-1h0m1 9h0m0-4h0m1-4h0m0 4h0m0-3h0m1-2h0m1 6h0m0 2h0m1-3h0m0-1h0m0 3h0m4 5h0m4-8h0m2 7h0m4-2h0m0 1h0m3 0h0m3 2h0m-99 10h0m3-1h0m1 1h0m0-1h0m4-1h0m0 0h0m1 1h0m1-5h0m1 4h0m2-5h0m0 1h0m0-1h0m2 6h0m1-7h0m1 6h0m0 0h0m0 1h0m0-8h0m2 3h0m0 2h0m2 1h0m0-2h0m0 4h0m0 0h0m0 0h0m1-7h0m0 3h0m0-2h0m1 6h0m0 0h0m1 2h0m1-6h0m0 3h0m1-7h0m0 8h0m1-2h0m0-4h0m1 3h0m1 2h0m0-4h0m1 5h0m0-4h0m1-4h0m0 0h0m0-1h0m0 6h0m1 0h0m1 2h0m1-8h0m0 12h0m0-11h0m2 10h0m1-7h0m0 2h0m1-5h0m2 1h0m0 10h0m0-9h0m1-2h0m0 2h0m0 9h0m1-6h0m2-4h0m2 1h0m0 3h0m0 3h0m1 2h0m0-4h0m1 2h0m1-8h0m1 4h0m0 1h0m0-3h0m1-2h0m0 3h0m2 4h0m0 3h0m2 0h0m1 0h0m0 0h0m0-3h0m2-6h0m1 6h0m0-6h0m0 7h0m2-7h0m0 5h0m2 0h0m2-2h0m1 0h0m1 6h0m2-3h0m0 0h0m1 2h0m1-1h0m0-5h0m1 4h0m0-3h0m0-5h0m1 3h0m0 0h0m1 3h0m1 1h0m1-2h0m0 4h0m1-6h0m0 4h0m0 2h0m1-3h0m0-1h0m1-1h0m0 3h0m0 1h0m0 0h0m1-8h0m0 11h0m1 0h0m0-8h0m0-2h0m1 9h0m0-4h0m0 1h0m0-3h0m2 1h0m0 2h0m1 2h0m1-5h0m0 1h0m0 6h0m0 0h0m0-1h0m1-4h0m0 3h0m0-6h0m0 7h0m0-8h0m1-1h0m1 5h0m1 0h0m0-4h0m1-1h0m1 1h0m0 9h0m1 1h0m0-3h0m1-5h0m0-2h0m0 6h0m0 2h0m1-5h0m0 4h0m0-2h0m0 3h0m1-2h0m0 1h0m0-5h0m0-4h0m1 1h0m1 4h0m0-4h0m1 0h0m1 1h0m1 8h0m1 0h0m0 0h0m2-5h0m0 7h0m0-9h0m0 2h0m1 4h0m0-5h0m0 3h0m1-3h0m0 6h0m1-3h0m1 2h0m0-7h0m1 0h0m1 9h0m2 0h0m1 0h0m0-1h0m1-1h0m0-1h0m0 2h0m2-5h0m0 4h0m1 3h0m1-1h0m0-4h0m1 1h0m0 2h0m1-1h0m1 1h0m0-1h0m2 2h0m3 1h0m-115 7h0m0-7h0m1 0h0m0 2h0m1 2h0m1-3h0m1 5h0m0 6h0m0-5h0m1-2h0m1 3h0m0-7h0m0 2h0m0 8h0m1-10h0m5 8h0m1 2h0m4-2h0m0-4h0m1 0h0m1 6h0m1-11h0m0 8h0m0 0h0m0-7h0m2 5h0m1-4h0m0 3h0m1-1h0m0-1h0m1 2h0m0-2h0m0 8h0m1-2h0m1-2h0m0-1h0m1 1h0m0-6h0m0 10h0m2-2h0m0-2h0m1-5h0m1 2h0m1 0h0m0-2h0m2 2h0m1-2h0m0 2h0m1 0h0m1 2h0m0-5h0m1 11h0m0-9h0m0 8h0m1-7h0m1-3h0m3 3h0m0 1h0m0 4h0m0 2h0m1-5h0m1 5h0m0-8h0m0-1h0m0 7h0m0-8h0m1 3h0m0 7h0m0-5h0m0 0h0m1-3h0m0 7h0m2-1h0m3-7h0m1 7h0m0 0h0m1 0h0m0-5h0m0 6h0m0-7h0m1-1h0m1 1h0m1-2h0m1 4h0m0 7h0m1-10h0m0 0h0m1-1h0m1 7h0m0-4h0m4 1h0m1-2h0m0 7h0m1-7h0m1 8h0m1-11h0m1 6h0m0 4h0m1-4h0m0-1h0m1 7h0m1-9h0m2 5h0m1 3h0m1-8h0m1 0h0m0-2h0m0 3h0m1 1h0m1 3h0m0-1h0m1 4h0m0-10h0m0 5h0m1 2h0m1 0h0m0 0h0m0-2h0m1 6h0m0-11h0m0 4h0m1 2h0m1-5h0m0 7h0m0 1h0m0 0h0m1-3h0m1-5h0m0 8h0m1-4h0m0 6h0m1-10h0m1 4h0m2-5h0m0 7h0m0-6h0m1 0h0m0 0h0m0 9h0m2-7h0m3 4h0m1-7h0m0 10h0m0-9h0m2 7h0m0-4h0m1 1h0m0-5h0m1 0h0m4 1h0m0 10h0m0-2h0m1-7h0m0 4h0m2 0h0m4 2h0m1-7h0m1 8h0m0-7h0m0 8h0m1-6h0m5 1h0m2 2h0m0 0h0m1 2h0m2 0h0m-128 3h0m1 2h0m1 6h0m1-1h0m1-8h0m0 4h0m1 3h0m1-6h0m0 0h0m0 2h0m0-2h0m2 0h0m0 0h0m1 4h0m2-5h0m2 10h0m1-1h0m0 3h0m2-5h0m0-4h0m0 1h0m1 3h0m2-1h0m1 3h0m2-2h0m0 0h0m2 4h0m0-7h0m1-2h0m1 9h0m0-2h0m0-7h0m1 7h0m0-7h0m2 8h0m1-5h0m1 0h0m0 6h0m0-4h0m1-3h0m0 0h0m1-1h0m0 4h0m1 0h0m0-2h0m1 6h0m0-8h0m0-2h0m0 4h0m0-2h0m1 3h0m1 1h0m0 0h0m1-6h0m0 1h0m1-1h0m1 8h0m0-8h0m3 6h0m2 4h0m1-7h0m0-4h0m0 9h0m1 1h0m0 1h0m1-3h0m1-1h0m3-1h0m1-1h0m0 5h0m1-8h0m1 0h0m0 3h0m0 1h0m1 3h0m0-3h0m1 4h0m0-2h0m0 1h0m0-7h0m0 1h0m0 5h0m2 3h0m0-10h0m0 10h0m1-3h0m1-5h0m1 5h0m1 2h0m0-8h0m3 2h0m1-2h0m0-1h0m1 4h0m1-4h0m1 10h0m0-7h0m1 8h0m3-1h0m1-3h0m2-7h0m0 0h0m1 4h0m0 1h0m0 2h0m0-3h0m1 3h0m0 2h0m0-5h0m0 5h0m1-8h0m1 5h0m1-4h0m6 5h0m0-2h0m0 3h0m1 0h0m0-4h0m1 2h0m0-1h0m1-1h0m0 1h0m0-1h0m0 4h0m1-6h0m0 6h0m1-4h0m1 1h0m0-3h0m1 6h0m0-2h0m0 3h0m1-1h0m0-7h0m0 7h0m1-4h0m1-2h0m0 4h0m1 4h0m0-8h0m1 5h0m1-1h0m0 3h0m3-1h0m2-9h0m0 0h0m1 9h0m0-9h0m0 7h0m1 0h0m0 0h0m0 2h0m1 1h0m1-1h0m0 1h0m1-6h0m0-1h0m1 8h0m1 1h0m2-9h0m1 9h0m1-4h0m1 2h0m1-9h0m1 0h0m0 2h0m1 1h0m0 5h0m1-2h0m1-7h0m1 4h0m0 5h0m2-3h0m1 1h0m0-7h0m0 11h0m0-7h0m1 4h0m1-1h0m0 3h0m1-9h0m1 9h0m0 0h0m1-2h0m2 4h0m0-4h0m1 3h0m-138 6h0m2-3h0m0-1h0m3 3h0m0 0h0m0 4h0m1-2h0m1-3h0m0 2h0m1-4h0m0 0h0m1-1h0m1 9h0m2-7h0m3 3h0m0 2h0m1-4h0m1 3h0m0-1h0m0 6h0m1-5h0m0-2h0m0 3h0m0-5h0m1 5h0m1 5h0m0-7h0m1-1h0m0 1h0m0-2h0m1-2h0m1 9h0m1-3h0m0-6h0m1 2h0m0 3h0m2-6h0m1 2h0m0-2h0m1 11h0m0-4h0m1 1h0m2-6h0m0 6h0m2 3h0m0-5h0m0 4h0m2 0h0m0-1h0m0 1h0m0-3h0m1-1h0m0-5h0m0 10h0m2-8h0m1 3h0m0-4h0m1 0h0m0 5h0m1-5h0m0 9h0m3-7h0m0-4h0m1 10h0m0 0h0m0-6h0m1-2h0m0 7h0m1 0h0m1 3h0m0-12h0m1 11h0m0 1h0m0-10h0m1 2h0m0 3h0m0 0h0m0 1h0m1-1h0m1 0h0m0-1h0m2 1h0m0-2h0m2 6h0m0-8h0m2 4h0m2-5h0m2 10h0m0-3h0m1 1h0m0-6h0m1-1h0m0 9h0m1-7h0m0 3h0m1 1h0m0-6h0m0 3h0m1-5h0m1 9h0m1-5h0m0 7h0m2-4h0m1 1h0m1-6h0m1 3h0m0 6h0m1-7h0m1 6h0m0 1h0m1-5h0m1-2h0m1-1h0m1-1h0m0 9h0m1-3h0m0 1h0m1-1h0m1-5h0m3-1h0m2 6h0m1-1h0m0 2h0m0-1h0m1-1h0m2-1h0m1-1h0m0-3h0m0 2h0m3 7h0m0-7h0m2-2h0m1 4h0m0-7h0m1 0h0m1 9h0m0-2h0m2-2h0m1-2h0m0 7h0m1 0h0m1-8h0m0 2h0m0-2h0m1 7h0m1-7h0m0 6h0m0 1h0m0-1h0m1-4h0m2 1h0m0-2h0m0 7h0m0-9h0m1 1h0m4-1h0m1 0h0m6 2h0m1 0h0m1 6h0m2-4h0m0 4h0m1-7h0m1 9h0m0-11h0m0 8h0m1-2h0m1 2h0m0-1h0m0-1h0m1-2h0m0 3h0m0-7h0m0 7h0m1 2h0m0 2h0m0 0h0m1-3h0m1-4h0m2 2h0m0-4h0m0 10h0m1-12h0m0 7h0m0 1h0m2 0h0m0 3h0m-146 10h0m1 1h0m0 2h0m4-9h0m0 2h0m1 0h0m1 3h0m1 3h0m2-1h0m0-2h0m1-6h0m0-1h0m2 0h0m0 2h0m1 1h0m0 6h0m0-8h0m4 5h0m0-6h0m0 4h0m1 0h0m0 3h0m1-2h0m1 3h0m0 1h0m1-2h0m1 2h0m1-2h0m0-1h0m1 2h0m0-8h0m0 1h0m0 5h0m3 4h0m1-9h0m1 8h0m1-5h0m1-3h0m0 7h0m0-8h0m0 9h0m1-3h0m1 4h0m0-8h0m3 2h0m1-1h0m2 7h0m1-9h0m1 7h0m2-3h0m0 0h0m0 4h0m1-3h0m2 0h0m1-2h0m1 2h0m1 1h0m0-6h0m1 1h0m1 8h0m0-6h0m0 5h0m4-2h0m0-3h0m1 6h0m0-1h0m1-3h0m0 4h0m1-8h0m1-1h0m0 8h0m0 0h0m0-2h0m0-3h0m1-4h0m0 4h0m1 6h0m2-6h0m0 6h0m1-8h0m0 2h0m0-5h0m1 12h0m1-11h0m0 3h0m4 4h0m2-2h0m1-1h0m0-2h0m1 9h0m0-12h0m2 5h0m0 6h0m0-8h0m1-1h0m0 4h0m2 2h0m0 3h0m1-2h0m1-8h0m1 5h0m0 5h0m0-2h0m1-5h0m0-3h0m1 6h0m0 1h0m0-8h0m0 4h0m2 4h0m0-4h0m0-3h0m0 5h0m2 1h0m0-1h0m0 5h0m1-6h0m1-3h0m0 5h0m1 3h0m1-5h0m1-3h0m2 1h0m0 3h0m1 3h0m0 1h0m0-1h0m0 1h0m0-10h0m0 4h0m1 2h0m2 2h0m0 0h0m1 4h0m2-6h0m1-2h0m2-1h0m1-1h0m1-1h0m0 6h0m1-4h0m0 3h0m1-3h0m0-3h0m0 5h0m0 2h0m1-5h0m0-1h0m1 5h0m1 5h0m0-10h0m1 1h0m1 5h0m0-6h0m1 6h0m0-3h0m1 5h0m1-1h0m0-7h0m2-1h0m0 9h0m2-2h0m1-5h0m0 8h0m1-5h0m0 1h0m2 3h0m1-7h0m0 2h0m0 2h0m0-2h0m1 3h0m3-3h0m1 7h0m0-6h0m2 6h0m0-7h0m0-3h0m1 3h0m0 5h0m0-5h0m0 7h0m0 0h0m1-6h0m0 6h0m0-5h0m1 2h0m0-5h0m1 0h0m1 5h0m1 0h0m2-2h0m2-4h0m1 5h0m0 5h0m1-2h0m0-2h0m2 4h0m-153 10h0m1-6h0m1 4h0m0-7h0m1 0h0m0 3h0m1 6h0m3 1h0m0-8h0m1 5h0m2 1h0m2 2h0m1-9h0m1 10h0m1-2h0m0 1h0m2-4h0m1 0h0m0 0h0m0 5h0m3 0h0m2-6h0m0 0h0m1-5h0m1 4h0m1 6h0m0-9h0m0 8h0m0 1h0m1-6h0m1 4h0m0-1h0m1-3h0m0 4h0m1 3h0m0-7h0m1 2h0m1-2h0m1 6h0m4-8h0m1-1h0m0 5h0m1-3h0m0 2h0m1 6h0m0-8h0m0-1h0m1 4h0m0-6h0m0 1h0m0-1h0m1 8h0m3-1h0m1 2h0m0-2h0m1-7h0m0 9h0m0-5h0m1 2h0m1-5h0m1 2h0m1-2h0m1 3h0m0 2h0m0 2h0m1-9h0m1 2h0m1 10h0m0-5h0m1-4h0m2 2h0m1-5h0m1 4h0m1 2h0m0 0h0m2-5h0m0 2h0m1 2h0m0 1h0m0-4h0m0 3h0m0 6h0m1-6h0m0 3h0m0 0h0m0 1h0m1 0h0m0-9h0m1 0h0m4 1h0m2 7h0m1-7h0m1 8h0m3 2h0m0-6h0m1-1h0m1 5h0m0-3h0m1 1h0m0-6h0m0 9h0m1-4h0m0-4h0m2 7h0m0-6h0m1 8h0m2-3h0m1-1h0m0 0h0m0-3h0m1 5h0m1-7h0m1 8h0m1-8h0m0-1h0m1 9h0m0-2h0m0-3h0m0-4h0m0 1h0m1 5h0m2-1h0m1-1h0m0-4h0m0 8h0m0-2h0m0 0h0m0 2h0m3-4h0m0-5h0m0 3h0m1 8h0m2-7h0m1 5h0m2-7h0m0 10h0m0-8h0m1-4h0m2 2h0m1 4h0m0 0h0m1 3h0m0-1h0m1-7h0m1 10h0m1-3h0m0-4h0m0 6h0m0-7h0m2 3h0m0-4h0m0 7h0m2 2h0m0-4h0m2-3h0m1 7h0m1-10h0m1 11h0m0-3h0m2 3h0m0-1h0m0-8h0m2 4h0m2-3h0m1 6h0m1-6h0m1 4h0m1 3h0m0-1h0m2-9h0m0 2h0m0-2h0m1 10h0m1-7h0m2-2h0m0-1h0m1 5h0m0 1h0m0-2h0m0-4h0m0 9h0m1-7h0m0 3h0m0-5h0m1-1h0m0 10h0m0-10h0m2 5h0m0 4h0m0-6h0m1-2h0m1 8h0m0 0h0m1-6h0m0 5h0m0 2h0m2-8h0m0 1h0m1 2h0m0 0h0m1 1h0m1 4h0m1-7h0m0 4h0m0-3h0m1-4h0m0 7h0m0-5h0m1 9h0m-172 12h0m1 1h0m1-3h0m0 3h0m0-1h0m1 1h0m5-5h0m1-3h0m0 5h0m1-5h0m0-3h0m3 1h0m1 2h0m0 7h0m3 0h0m0-1h0m1-9h0m0 11h0m3-12h0m2 9h0m0 1h0m0-9h0m1 8h0m0-3h0m2 0h0m1 2h0m1 3h0m1-11h0m0 6h0m1 5h0m1 1h0m1-1h0m3-11h0m1 3h0m1 0h0m4-3h0m0 11h0m0-5h0m1-3h0m0 0h0m1 2h0m0 1h0m0 5h0m3-5h0m0-5h0m2 5h0m0 1h0m0 5h0m2-12h0m1 6h0m2 4h0m1-7h0m1-3h0m0 3h0m0 2h0m2 1h0m0 4h0m1-10h0m1 8h0m0 2h0m4 0h0m3 2h0m2-9h0m1-2h0m0 6h0m4 4h0m1-4h0m0-3h0m0 7h0m1-10h0m1-1h0m3 4h0m1 3h0m2 0h0m2-7h0m0 5h0m2-1h0m2 2h0m0-1h0m1 3h0m0-8h0m0 8h0m0-2h0m1-4h0m0 6h0m1-8h0m0 2h0m3-1h0m1 0h0m2 2h0m1 9h0m1-12h0m1 4h0m1-4h0m2 4h0m2 3h0m1-3h0m1-1h0m1 8h0m0-5h0m0-1h0m0-2h0m1 1h0m1-3h0m0 2h0m1 7h0m1-4h0m0 2h0m0-4h0m1 3h0m0-4h0m0 5h0m1-1h0m0 2h0m1 0h0m0-2h0m2-2h0m0 3h0m1-5h0m0 3h0m0 4h0m0-2h0m1-3h0m0-4h0m1 3h0m0 8h0m1-6h0m1 0h0m1-4h0m1 4h0m1 0h0m1-4h0m0 4h0m0-5h0m1 2h0m0 2h0m0 6h0m1 0h0m0-1h0m1-7h0m0 8h0m0-7h0m1 6h0m0 1h0m0-9h0m1 6h0m0-4h0m0 5h0m1-4h0m1-1h0m1 3h0m1 4h0m2-9h0m1 9h0m0-4h0m2 4h0m0-1h0m1-3h0m0-4h0m1 7h0m1-5h0m0 4h0m1-3h0m0 5h0m1 0h0m0-1h0m2 0h0m0 2h0m1-4h0m1-4h0m0 1h0m4-1h0m0-4h0m1 10h0m0-10h0m2 11h0m0-2h0m0-1h0m1-2h0m0-3h0m0 9h0m1-2h0m0 0h0m2-2h0m0 2h0m0-5h0m1 0h0m0-4h0m0 1h0m2 9h0m0-8h0m0 8h0m1-7h0m1 0h0m0 8h0m1-1h0m2-8h0m0 3h0m0 0h0m1-1h0m1 3h0m-182 11h0m3 0h0m2 0h0m0-1h0m2-3h0m0 7h0m0-9h0m1 4h0m1 6h0m0-2h0m2-8h0m2-1h0m1 4h0m2-2h0m0 6h0m6-7h0m1 0h0m2 10h0m3-4h0m0-2h0m1 1h0m0-6h0m0 10h0m1 0h0m2 0h0m0-8h0m0 0h0m0 4h0m2 3h0m0-4h0m0 3h0m0-7h0m2 6h0m0-1h0m3 3h0m0-7h0m1 7h0m0-6h0m2 0h0m0 2h0m1 3h0m2 1h0m2 0h0m0-2h0m2-3h0m1 7h0m0-2h0m0-6h0m1 2h0m2-3h0m0 0h0m1 8h0m1-10h0m0 6h0m1 4h0m1-6h0m0 2h0m3-6h0m0 4h0m1 0h0m0 7h0m0-3h0m1-5h0m1 3h0m2 1h0m4-3h0m0 3h0m0 3h0m4-5h0m0-1h0m3-1h0m2-2h0m0 2h0m3 1h0m0-2h0m4 2h0m0-1h0m2-2h0m0 2h0m1-3h0m25 1h0m2 4h0m2-1h0m0 2h0m0-2h0m2-1h0m1-2h0m0 2h0m1 0h0m1 1h0m2 2h0m1 2h0m0 3h0m0-5h0m3 2h0m0-1h0m0 2h0m1-5h0m0-1h0m0 0h0m1-1h0m1 8h0m0-8h0m0 10h0m0-9h0m0-1h0m1 1h0m0 2h0m0 1h0m0 0h0m2-1h0m1 6h0m1-8h0m0 2h0m1-2h0m1 2h0m0 2h0m1-2h0m0 6h0m1-10h0m1-1h0m0 7h0m0-6h0m0 9h0m1-6h0m0 7h0m1-1h0m0-2h0m1 2h0m0-10h0m1 7h0m0 1h0m0-5h0m1 4h0m4-4h0m1 8h0m0-11h0m0 10h0m3-6h0m0 7h0m1-3h0m5-2h0m1 5h0m3-4h0m0-7h0m3 7h0m1-7h0m2 9h0m2-2h0m0-4h0m4-2h0m4 1h0m2-1h0m2 1h0m1 7h0m3 1h0m-210 12h0m1-3h0m1 4h0m2-3h0m1-2h0m4-2h0m0-1h0m0-2h0m1 0h0m1 8h0m0-3h0m1-3h0m0 6h0m3-9h0m0 10h0m1-2h0m1-3h0m0 0h0m2 1h0m1 5h0m0 1h0m2-1h0m0-7h0m1 3h0m1 5h0m1-3h0m3-1h0m1-8h0m4 4h0m1 2h0m1 2h0m0-7h0m1 1h0m3 8h0m1-7h0m1 0h0m4 2h0m1 7h0m1-7h0m1 5h0m0 0h0m0-5h0m1-1h0m0 4h0m1-7h0m1 9h0m1-3h0m2-4h0m0 2h0m2 0h0m1 3h0m1-7h0m1 7h0m0 0h0m2-7h0m0-1h0m0 10h0m1-7h0m1 6h0m1-8h0m2 11h0m0-2h0m2-9h0m0 7h0m1-6h0m1 1h0m1 0h0m1 9h0m0-2h0m1-3h0m2-7h0m1 9h0m0-8h0m0 9h0m0-9h0m0 4h0m2 3h0m0-3h0m1-2h0m1 0h0m0 4h0m0-3h0m2-2h0m3 4h0m0-2h0m1-3h0m0 6h0m2-7h0m1 0h0m59 2h0m1-1h0m2 3h0m2-2h0m0 0h0m1 7h0m0-3h0m1-3h0m1 5h0m1-1h0m0 0h0m1-5h0m1 10h0m1-11h0m3 0h0m1 5h0m0 1h0m1-7h0m0 7h0m2 3h0m2-3h0m0 5h0m0-11h0m0 3h0m0 1h0m1-3h0m1-1h0m1 11h0m0-6h0m1 6h0m0-8h0m3 6h0m1-4h0m0-4h0m1 9h0m1-10h0m0 9h0m2-7h0m2 1h0m2 3h0m1 3h0m1-6h0m1 1h0m2 3h0m1-1h0m2-2h0m1-4h0m2 2h0m0 3h0m1-1h0m3 1h0m0-2h0m0 7h0m3-3h0m1-2h0m1-5h0m0 5h0m0 5h0m1-2h0m0-2h0m0 1h0m3-6h0m0 3h0m-210 10h0m2 6h0m2 1h0m1-2h0m0-5h0m0 8h0m3-9h0m1 0h0m0 5h0m1 2h0m1-2h0m3 5h0m0-1h0m1-1h0m1 0h0m1-10h0m1 6h0m2-1h0m0 3h0m0-4h0m1 8h0m0-12h0m2 8h0m1-5h0m0 0h0m0 8h0m1 0h0m0-8h0m2-2h0m0 5h0m1-4h0m2 4h0m2 2h0m1 1h0m1 1h0m0-9h0m1 1h0m3 4h0m0 0h0m1-1h0m0 1h0m1-2h0m1 5h0m1 1h0m0-5h0m1-1h0m3 1h0m1 2h0m4-5h0m2 5h0m0-4h0m1 6h0m1-7h0m0 3h0m1 4h0m1-5h0m5-2h0m1 2h0m1-3h0m0 6h0m1-7h0m0 11h0m2-9h0m0 7h0m2-3h0m1 4h0m0-4h0m0 5h0m1 0h0m0-9h0m2 2h0m1-2h0m0 5h0m1-6h0m3 6h0m0 2h0m3-7h0m1 6h0m0 3h0m75-7h0m3 0h0m0 3h0m1-2h0m1 3h0m0-8h0m2 4h0m0-4h0m0 8h0m4 2h0m0 0h0m4-10h0m2 9h0m3-8h0m1 3h0m1 5h0m0 0h0m1-8h0m0 3h0m3 6h0m1-3h0m0 2h0m2-1h0m1 0h0m1-1h0m1-3h0m0 0h0m1-4h0m0 1h0m1 11h0m5-7h0m0-2h0m0 8h0m0-9h0m1 3h0m2 5h0m0-1h0m0-4h0m1-4h0m0 9h0m1-2h0m3-1h0m1-5h0m1 8h0m0-5h0m0-1h0m2-2h0m7 2h0m0 1h0m-210 15h0m0 4h0m1-10h0m1 5h0m2 2h0m7-7h0m1-1h0m0 5h0m0 5h0m1-8h0m1 3h0m1-2h0m1-4h0m4 3h0m1 5h0m1-3h0m1-3h0m3 5h0m0-2h0m1 5h0m1-8h0m1 6h0m0-1h0m0 3h0m3 1h0m1-1h0m0 0h0m0-1h0m6 0h0m0 2h0m1-11h0m0 10h0m2 0h0m1 0h0m1-3h0m1 0h0m1-3h0m2-2h0m1 9h0m3-1h0m4 1h0m1 1h0m3-7h0m0-3h0m1 4h0m1 1h0m1-6h0m0 6h0m1-2h0m1 0h0m0 6h0m2-9h0m0 6h0m2 2h0m0-10h0m1 6h0m0 2h0m1-7h0m1 10h0m0-2h0m1 0h0m0-6h0m1 0h0m1 0h0m0 8h0m0-4h0m1-5h0m83 5h0m2 2h0m0-5h0m1-1h0m1 5h0m0-3h0m1 6h0m0-6h0m0 0h0m3-1h0m1 2h0m1-1h0m0 2h0m0 1h0m1-4h0m3 3h0m1 0h0m0-4h0m1-1h0m1 1h0m0 5h0m1-5h0m0 5h0m4-5h0m3 3h0m1-4h0m2 1h0m2-1h0m2 1h0m-190 9h0m3 3h0m1 3h0m1 1h0m1 0h0m0 4h0m1 0h0m2 1h0m1-10h0m2 1h0m1 4h0m0-1h0m1 0h0m0-4h0m1 6h0m0-5h0m0 4h0m2-7h0m3 12h0m2-3h0m1 1h0m1-10h0m0 2h0m0 7h0m1 0h0m1-5h0m2 2h0m0-3h0m0 7h0m2-9h0m0 6h0m3 3h0m0-2h0m0-7h0m1 1h0m1-1h0m2 6h0m0-4h0m2 3h0m1 0h0m1-4h0m1 1h0m1 2h0m3 1h0m0 4h0m1-5h0m0 2h0m1 4h0m1-10h0m0 3h0m1 2h0m2 0h0m3-1h0m0-4h0m1 2h0m1 0h0m1-1h0m1-1h0m1 7h0m0 0h0m0-3h0m1 0h0m1-2h0m2 7h0m2-6h0m0-1h0m1 6h0m0-5h0m2 4h0m1-6h0m0-1h0m1 3h0m1 5h0m0-6h0m4 5h0m1-1h0m84-5h0m2-1h0m1 3h0m-156 13h0m4 0h0m1 5h0m0-2h0m1-1h0m0-4h0m1 6h0m1 2h0m0-6h0m0-4h0m1 2h0m4 3h0m2 5h0m5-9h0m1 9h0m1-6h0m0 0h0m3 0h0m0-2h0m2 6h0m0-7h0m1 2h0m0 6h0m5-9h0m0 2h0m0 2h0m0-3h0m2 1h0m2 5h0m1 3h0m0-1h0m0-4h0m0 3h0m0-1h0m2-5h0m0-2h0m0 2h0m1-3h0m1 1h0m1 10h0m1-5h0m0 6h0m0-1h0m5-6h0m1 7h0m0-1h0m4-4h0m1 2h0m0-9h0m1 9h0m0-8h0m2 0h0m0 5h0m2 1h0m0-4h0m1-1h0m3 1h0m0 8h0m2-5h0m-63 7h0m1 0h0m1 2h0m0-2h0m1 1h0m0 1h0m1 5h0m0 4h0m0-9h0m1 4h0m1-4h0m2-1h0m0 8h0m0 0h0m0-5h0m1 5h0m1-4h0m1 0h0m1 0h0m0-3h0m1 4h0m0-3h0m0 1h0m1-2h0m1-2h0m0 7h0m1-7h0m5 2h0m1-1h0m0 3h0m1-1h0m0 1h0m2 4h0m1 0h0m0-8h0m1 5h0m1-3h0m1-1h0m3 2h0m4-2h0m1 4h0m1 3h0m0 2h0m0-1h0m1-9h0m0 9h0m0-2h0m3 1h0m2-6h0m1 3h0m1 6h0m1-9h0m0 0h0m0 0h0m0 5h0m2 2h0m1-5h0m1-3h0m0 1h0m3-1h0m3 6h0m-52 6h0m1 2h0m1-3h0m2 3h0m7 5h0m1-4h0m3 3h0m0 3h0m6-2h0m1-5h0m2-1h0m1-1h0m2 3h0m1 1h0m1 1h0m0 0h0m1 1h0m1-8h0m0 3h0m1 3h0m0-1h0m3 3h0m0-3h0m0 0h0m0 4h0m0 3h0m1-6h0m0-1h0m0-1h0m2 7h0m1-3h0m2 1h0m3-4h0m-28 8h0m1 0h0m2 1h0m4-2h0m4 4h0m2-3h0m0 4h0m2-5h0m2 4h0m2-3h0" stroke="#e8809c" stroke-width="3.2" stroke-linecap="round" fill="none" transform="scale(0.5)"/>
<path d="M778 1409h0m4-3h0m1 2h0m1-2h0m1 3h0m0-2h0m1-2h0m3 2h0m2 2h0m1 1h0m7-5h0m2 3h0m1-2h0m0 3h0m1-3h0m0 3h0m2-2h0m0 2h0m1-3h0m0 0h0m1 4h0m1-4h0m1 0h0m1 3h0m5-1h0m6 0h0m2 2h0m1-1h0m-68 13h0m1 0h0m1-2h0m2 0h0m4-2h0m0 1h0m1 1h0m0-2h0m1-1h0m2 5h0m1-2h0m1-5h0m0 0h0m1 3h0m0-2h0m0-1h0m1-3h0m0 5h0m1-3h0m0 6h0m1-9h0m0 3h0m0 0h0m1 4h0m0 2h0m0-6h0m1-3h0m0 10h0m3-6h0m0 7h0m1-2h0m1-4h0m0 3h0m1 0h0m0-7h0m0 9h0m1-6h0m0-4h0m0 5h0m1-1h0m0 1h0m0-5h0m0 4h0m1 4h0m1 1h0m0-3h0m0 3h0m0-6h0m1 3h0m1-2h0m1 7h0m0-11h0m1 7h0m0 3h0m1-1h0m0-5h0m1 0h0m0 5h0m0-8h0m1 10h0m1-3h0m1-7h0m0 7h0m1 0h0m0-1h0m0 0h0m1-5h0m0 4h0m0-2h0m0-1h0m1 4h0m1-1h0m0 3h0m0-7h0m0 2h0m1-2h0m0 4h0m1 0h0m2 2h0m0 2h0m0-3h0m1-5h0m0 9h0m0-2h0m1-1h0m0-6h0m1 4h0m1-1h0m1 0h0m0 5h0m2-7h0m1 4h0m0-5h0m2 2h0m1-4h0m0 0h0m1 0h0m0 9h0m1-10h0m1 2h0m0 9h0m1-5h0m2-1h0m0 3h0m1-7h0m0 7h0m0-7h0m1-1h0m0 11h0m0-2h0m1 1h0m1-5h0m0-1h0m1 5h0m0 2h0m1-2h0m1 2h0m0-1h0m0-9h0m0 6h0m2 2h0m1 2h0m0-2h0m1 0h0m0 2h0m1-4h0m1 3h0m0 0h0m0-1h0m1 1h0m1-3h0m1 0h0m0 3h0m4 1h0m-88 6h0m0 6h0m1-1h0m0 2h0m0-9h0m0 4h0m0 3h0m1-5h0m1 6h0m0-10h0m1 1h0m0-1h0m1 3h0m0 6h0m1-1h0m0-5h0m1-2h0m0 6h0m1-5h0m0 2h0m0 0h0m1-2h0m0 0h0m0 7h0m1-3h0m0-7h0m1 6h0m1-2h0m0 2h0m0 4h0m1-3h0m1-4h0m0 0h0m1 2h0m1 6h0m0-9h0m2-1h0m0 10h0m0-10h0m0 1h0m0 6h0m1-8h0m0 1h0m0 6h0m0-3h0m1-1h0m0 2h0m0 4h0m0 0h0m1-9h0m0 11h0m1-10h0m1 8h0m1-8h0m0 0h0m0 7h0m1-7h0m1 5h0m0 6h0m1-12h0m0 5h0m0 5h0m0-9h0m1 5h0m0-2h0m0 6h0m2-3h0m1-4h0m0 0h0m1 4h0m1-6h0m0 2h0m1 1h0m1-3h0m0 6h0m0 1h0m1-6h0m0 6h0m0-7h0m1 6h0m0-5h0m0 10h0m0-2h0m0-3h0m2 0h0m0-4h0m0 6h0m1-8h0m0 3h0m1-2h0m4 1h0m0 9h0m0-6h0m0 2h0m1-4h0m0 1h0m0 3h0m1-3h0m1 4h0m1-5h0m0 7h0m1-11h0m1 12h0m1-9h0m0 8h0m0-11h0m0 7h0m0-7h0m1 8h0m1 4h0m1-11h0m0 1h0m1 10h0m0-2h0m1-8h0m1 1h0m1-1h0m0 7h0m1 0h0m0-4h0m0 6h0m0-9h0m0 4h0m0 0h0m0 0h0m1-3h0m0 4h0m1 2h0m1-6h0m1 6h0m0-7h0m0 4h0m0 2h0m1 0h0m0 4h0m2-10h0m1 4h0m0 4h0m0-8h0m0 2h0m0 6h0m1-1h0m0 0h0m0 1h0m0 1h0m1-8h0m0 3h0m0-1h0m1-3h0m0 9h0m0-9h0m0 3h0m1 5h0m0-1h0m0 0h0m0 2h0m1-8h0m1-1h0m0 3h0m0 0h0m0-2h0m0 5h0m2-1h0m1-6h0m1 1h0m0 1h0m1 7h0m0-8h0m0-1h0m1 4h0m0 0h0m1-1h0m1-2h0m0 0h0m0 4h0m1 1h0m2-2h0m1 2h0m0-7h0m0 10h0m1-4h0m0 2h0m0-7h0m2 2h0m2 6h0m0-5h0m0 4h0m1-2h0m0-4h0m0 0h0m0-2h0m0 4h0m1 3h0m0-2h0m1 5h0m1-2h0m0-3h0m0 0h0m1 4h0m1-4h0m-104 16h0m0 2h0m1-4h0m1 3h0m0-1h0m0 0h0m1-1h0m2-3h0m1-4h0m0 3h0m1 5h0m0-6h0m2 5h0m0 0h0m0 2h0m0 1h0m1-3h0m0-4h0m1 2h0m0-3h0m1 0h0m1 8h0m0-6h0m0 6h0m0-10h0m1 7h0m1-3h0m0-2h0m1 5h0m0-4h0m1 3h0m1 1h0m0-4h0m1 8h0m0-5h0m0-2h0m1 4h0m2-5h0m1-3h0m0 9h0m0-8h0m1 8h0m1-2h0m0-2h0m0 1h0m0-5h0m1-2h0m1 3h0m1 0h0m0 1h0m1-2h0m0 4h0m1 3h0m0-8h0m0 1h0m1-1h0m1 5h0m0-4h0m0 2h0m1 2h0m0 1h0m0-4h0m2 0h0m0 0h0m1 3h0m0 0h0m0 4h0m1-2h0m1-5h0m0 1h0m2 4h0m0-2h0m0-4h0m1 1h0m0 6h0m0-2h0m1 2h0m0-8h0m1 2h0m1 0h0m1-2h0m0 8h0m1-1h0m0-3h0m0-4h0m0 9h0m2 1h0m0 0h0m1-6h0m0 5h0m1-2h0m0 1h0m2 1h0m0-6h0m0 2h0m0 5h0m1-6h0m1 3h0m1 1h0m2 0h0m1 0h0m0 0h0m0-5h0m1 7h0m0 0h0m1-3h0m0 1h0m0 2h0m0-8h0m0 2h0m1 1h0m0 4h0m0-6h0m4-2h0m0 2h0m0 0h0m1 4h0m0-7h0m1 0h0m0 8h0m1-7h0m0 0h0m0 9h0m0-10h0m1 4h0m0 6h0m2-6h0m0-4h0m0 5h0m1 2h0m1 1h0m0-3h0m0-2h0m1-2h0m0 8h0m0-3h0m1-2h0m0-3h0m0-1h0m0 5h0m2-1h0m0-1h0m0-3h0m3 5h0m0-5h0m1 10h0m0-6h0m0-4h0m0 2h0m1-3h0m0 3h0m1 6h0m0-8h0m1 8h0m1-6h0m0 2h0m3 0h0m0-3h0m0 2h0m1 5h0m0-4h0m1 1h0m0-4h0m0 5h0m2 0h0m1 2h0m1-9h0m0 3h0m1 0h0m0 8h0m1-5h0m1 0h0m1-3h0m1 1h0m0 5h0m0 1h0m1-6h0m0 3h0m0-6h0m0 9h0m1 1h0m1 0h0m0-4h0m0-6h0m3 7h0m0-3h0m1-1h0m0 8h0m1-5h0m1 3h0m0-7h0m1 4h0m1 2h0m0-6h0m1 4h0m0-3h0m1 1h0m3 6h0m0-1h0m1-3h0m0 1h0m1 2h0m1-1h0m-122 11h0m1 0h0m0-4h0m0 0h0m1 2h0m0-1h0m1 6h0m0-10h0m1-1h0m0 10h0m0-8h0m1 4h0m1 6h0m0-10h0m0 0h0m1 6h0m0-4h0m1 6h0m2-1h0m0 0h0m0-9h0m0 6h0m1 1h0m1-5h0m0 5h0m0-6h0m0 6h0m1-5h0m0 5h0m1-3h0m3 1h0m0-3h0m0 1h0m1-1h0m1 9h0m1 1h0m0-2h0m2 1h0m0-8h0m0 6h0m0-8h0m0 6h0m2 0h0m0 5h0m0-7h0m2 6h0m0-8h0m0 3h0m0-4h0m1 1h0m1-1h0m1 1h0m1-1h0m1 3h0m0-1h0m1-2h0m0 10h0m0-12h0m0 2h0m1 6h0m0 0h0m2 1h0m2-7h0m0 1h0m1 5h0m1-6h0m0 5h0m0-4h0m2 2h0m2-5h0m1 4h0m1-2h0m1 1h0m0-2h0m0 1h0m0 2h0m0-1h0m2 0h0m1-2h0m0 0h0m1 0h0m1 0h0m1 2h0m1-2h0m0 2h0m4-2h0m1-1h0m0 3h0m0-1h0m1 0h0m2-1h0m1 0h0m2-1h0m4 1h0m7 0h0m2 5h0m2-1h0m0 2h0m1 0h0m5-2h0m1 4h0m1-2h0m0-3h0m1 0h0m1 3h0m0 3h0m1-9h0m0 5h0m1 2h0m0-7h0m0 0h0m1 0h0m2 8h0m1-1h0m0 0h0m0 0h0m1-6h0m0 1h0m0 3h0m1-3h0m3-3h0m2 9h0m0-2h0m0-4h0m0 0h0m4 0h0m0-1h0m0 3h0m0-2h0m0 4h0m1-1h0m0 5h0m1-6h0m1 7h0m1-2h0m0-8h0m0-1h0m0 4h0m0 3h0m2-8h0m0 6h0m0-6h0m0 7h0m1 4h0m0-8h0m1 3h0m1-1h0m1 2h0m0 1h0m0-5h0m0 2h0m1-3h0m0 9h0m1-4h0m0 4h0m1-10h0m0 6h0m1 4h0m1-5h0m0 2h0m0-6h0m0 4h0m1 1h0m1-7h0m0 3h0m1-1h0m1 1h0m-125 20h0m0 0h0m2-5h0m1-5h0m1 5h0m0 0h0m0-4h0m0 8h0m0 1h0m1-5h0m1 4h0m0-4h0m0-1h0m1-5h0m1 3h0m1 4h0m0-6h0m1 10h0m0-3h0m2 2h0m0 0h0m0 1h0m1-8h0m0 5h0m0-1h0m1-6h0m0 9h0m1-9h0m0 5h0m2 4h0m0-2h0m0 2h0m1-7h0m0 0h0m0-2h0m1 0h0m0 5h0m1 0h0m0-2h0m0 3h0m0 0h0m2 0h0m0-1h0m0-6h0m2 0h0m0 4h0m0 0h0m0-3h0m3 2h0m65-2h0m1 2h0m3 3h0m1-6h0m1 1h0m1 0h0m0 0h0m0 0h0m0 10h0m1-11h0m0 3h0m0 1h0m1-1h0m0 7h0m2 1h0m0-8h0m0 6h0m0-8h0m1 6h0m0-1h0m1-3h0m0 3h0m1 1h0m0 4h0m1-2h0m0-1h0m0 0h0m3-7h0m0 5h0m0 0h0m0-5h0m0 7h0m1-5h0m0 6h0m1-9h0m1 6h0m2 0h0m2-5h0m1 2h0m1-1h0m-119 14h0m0-3h0m0 3h0m2-2h0m1 4h0m2-3h0m1 0h0m0 0h0m1 6h0m0-8h0m0 9h0m0-9h0m0 0h0m1 5h0m1-2h0m0-4h0m1 1h0m1 5h0m0-2h0m2-3h0m89 1h0m0-1h0m1 2h0m0-2h0m0 0h0m0 2h0m1-3h0m2 0h0m0 1h0" stroke="#f5241a" stroke-width="3.2" stroke-linecap="round" fill="none" transform="scale(0.5)"/>
<path d="M1054 1625h0m4-2h0m1 1h0m2 1h0m7 1h0m-29 9h0m1-1h0m0-2h0m0 2h0m0-1h0m2-3h0m0 5h0m1 1h0m0-3h0m0-4h0m2 2h0m0-1h0m0 2h0m0 1h0m0-2h0m1 5h0m0-2h0m1-4h0m0 6h0m0-6h0m2 1h0m0 2h0m0 5h0m1-6h0m0 0h0m0 2h0m0 0h0m0 2h0m1-9h0m0 9h0m1 0h0m0-5h0m1 0h0m0-1h0m0-3h0m1 0h0m1 0h0m0 6h0m0-5h0m1 1h0m0 3h0m1-2h0m0-1h0m0-2h0m0 0h0m1 2h0m2 5h0m0-7h0m1 1h0m1 8h0m0-6h0m0 7h0m0-5h0m1-2h0m0 4h0m1-2h0m0-3h0m1-1h0m0-1h0m0 5h0m0-2h0m0 5h0m0-7h0m1-2h0m0 1h0m0 4h0m0-1h0m0-3h0m1 1h0m0 9h0m0-10h0m0 0h0m1 4h0m1-4h0m0 9h0m0 0h0m0 2h0m1-1h0m1-1h0m0 0h0m1-7h0m0 2h0m0 5h0m0-4h0m0 0h0m1 5h0m0-6h0m0 1h0m2 2h0m0 3h0m0-1h0m1 2h0m0-8h0m1 6h0m0-3h0m0 4h0m1-4h0m1 0h0m-15 6h0m5 0h0m2 0h0m0 5h0m0-3h0m0-2h0m0 8h0m1 2h0m0-7h0m1-3h0m1 3h0m0-1h0m0 1h0m0-2h0m0 2h0m1 5h0m0-6h0m0 2h0m1-2h0m1-1h0m1-1h0m0 6h0m0 2h0m1-1h0m0 2h0m0 1h0m0-11h0m0 4h0m1-2h0m0 4h0m0-2h0m-10 12h0m1 0h0m0 3h0m0-1h0m0-6h0m0 2h0m1 0h0m0 7h0m0-3h0m0 2h0m1-1h0m0 0h0m0 1h0m1-6h0m0 0h0m0 7h0m0-6h0m1 5h0m0-7h0m0 0h0m0 2h0m1 5h0m0-8h0m1 0h0m0 5h0m0-3h0m-487 20h0m3 0h0m1-2h0m1 2h0m1 0h0m0-2h0m1-3h0m1 4h0m1-4h0m0 1h0m1 2h0m3-6h0m1-1h0m469 5h0m0-3h0m1 2h0m0 0h0m0 2h0m1 1h0m1 0h0m0-2h0m0-1h0m1 6h0m0 0h0m1-2h0m0-3h0m2 3h0m-509 12h0m0-1h0m1 2h0m1 1h0m1-5h0m1 6h0m0-5h0m2-2h0m1 5h0m1-6h0m2-1h0m0-1h0m1 7h0m1-3h0m1 5h0m0-6h0m1 1h0m0 0h0m0 2h0m0-3h0m0 6h0m0-8h0m0 8h0m1-2h0m0-5h0m1 3h0m0-5h0m0-1h0m1 5h0m0 2h0m0-5h0m0 6h0m0-6h0m1 4h0m2-7h0m0 2h0m0 2h0m4-2h0m0 2h0m480-4h0m1 0h0m2 1h0m0 2h0m2 1h0m2 4h0m0-4h0m0-1h0m1 8h0m-528 12h0m5-8h0m1 5h0m0 0h0m0-2h0m1-5h0m1 2h0m0 5h0m0 3h0m0-3h0m2-7h0m1 7h0m0-7h0m1 9h0m0-4h0m0 0h0m0 0h0m1 2h0m0-7h0m0 0h0m0 1h0m1 3h0m0-4h0m0 4h0m1 3h0m1-1h0m0-3h0m1 3h0m0-5h0m1 9h0m1-9h0m1 3h0m0 6h0m0 0h0m0-9h0m1 9h0m1-11h0m1 2h0m2 0h0m0-1h0m0 4h0m1-4h0m0 6h0m1 0h0m1 0h0m0 3h0m0 2h0m1-5h0m1-4h0m0 2h0m0 1h0m0-6h0m1 0h0m0 0h0m2 6h0m492-6h0m2 6h0m2-4h0m1 7h0m0-2h0m0 2h0m3 1h0m0-4h0m3 4h0m-540 9h0m0-1h0m1-3h0m0 8h0m2-4h0m1 0h0m0-2h0m1-2h0m0 6h0m0-6h0m0 7h0m2-7h0m1 3h0m1 4h0m1-3h0m0 5h0m0-5h0m2-7h0m0 5h0m1-5h0m0 3h0m1 0h0m1 4h0m0 3h0m1-2h0m0-4h0m0 5h0m1 0h0m1-5h0m1-1h0m0 4h0m1-3h0m0-3h0m0 3h0m0 4h0m0 4h0m1-1h0m0-4h0m1-6h0m3 8h0m0-7h0m0 9h0m1-2h0m0-3h0m1-3h0m2 1h0m0 5h0m0-1h0m1 0h0m3-8h0m501 2h0m1 1h0m0-2h0m2 5h0m0-6h0m2 7h0m0 4h0m0-10h0m0-1h0m1 7h0m1 3h0m-550 12h0m0-2h0m1 1h0m0 1h0m2-3h0m0 0h0m0 0h0m1-3h0m0 5h0m2-2h0m0-2h0m0-3h0m0 6h0m1-6h0m0 8h0m1 2h0m0-10h0m0 9h0m1-10h0m0 7h0m0-5h0m1-1h0m0 1h0m0 8h0m1-9h0m0 8h0m0-2h0m1-1h0m1 4h0m0 1h0m0-2h0m2 1h0m0-7h0m0 0h0m0-2h0m0 9h0m1-8h0m1 4h0m0-7h0m0 2h0m1 8h0m1-5h0m1 2h0m1 3h0m1-6h0m0 6h0m0-9h0m1 2h0m0 2h0m0 4h0m0 1h0m1-2h0m0 2h0m1-6h0m0-1h0m0 4h0m3 0h0m1 3h0m1 0h0m0-5h0m1 6h0m1-5h0m0-3h0m1-2h0m0 5h0m1-1h0m0 4h0m1-3h0m0-2h0m0 4h0m0-5h0m1-2h0m14 7h0m4-7h0m2-1h0m492 3h0m1 2h0m0-3h0m1 10h0m1-8h0m0-2h0m2 8h0m0-1h0m0-4h0m1 1h0m0 3h0m0 0h0m-557 11h0m1-5h0m0 4h0m0-1h0m1-4h0m0 2h0m2-1h0m0 8h0m0 0h0m1-5h0m1 4h0m1-7h0m0 7h0m1 0h0m1-1h0m0 3h0m0-10h0m1 5h0m0 5h0m2-5h0m0-5h0m1 5h0m0-3h0m0 7h0m1 0h0m1-2h0m0-5h0m0 7h0m1 0h0m2-2h0m0-9h0m0 4h0m0-4h0m0 7h0m1 4h0m0-2h0m1 2h0m0-9h0m1-2h0m0 12h0m1-6h0m0-2h0m2-1h0m1 2h0m0 3h0m1-4h0m0 1h0m1 5h0m0-7h0m2 3h0m0-5h0m0 9h0m1-4h0m0-5h0m1 7h0m0 1h0m1-1h0m0-4h0m0-3h0m0 7h0m1-6h0m0 4h0m0-1h0m1 0h0m1-4h0m0-1h0m1 0h0m0 1h0m19 1h0m1 9h0m499-10h0m0 2h0m1-1h0m1 6h0m1 2h0m0-3h0m0-2h0m0-2h0m0 3h0m1-4h0m0-1h0m0 10h0m0-1h0m0 1h0m2-1h0m2 2h0m-565 7h0m0-3h0m1-4h0m0 7h0m0 3h0m2 1h0m0-1h0m0-3h0m1-3h0m0-4h0m0 11h0m2 0h0m0-10h0m0 0h0m1 3h0m2 6h0m0-1h0m1-1h0m0-7h0m0 4h0m0 6h0m0-1h0m0-6h0m0-2h0m0 1h0m1 6h0m0-8h0m1 9h0m0 1h0m2-1h0m1-1h0m0 2h0m1-5h0m0-4h0m0-1h0m0 1h0m3 5h0m1 5h0m0-8h0m0 3h0m1 4h0m0 1h0m1-8h0m0 7h0m1-2h0m1 0h0m0 0h0m0-7h0m1 2h0m0 6h0m1-3h0m1 3h0m0-3h0m0-2h0m1-1h0m1 1h0m0-2h0m0 4h0m2-2h0m0-1h0m1 6h0m0 0h0m0 1h0m0-6h0m1-2h0m0 3h0m2 6h0m6-8h0m3-4h0m11 4h0m5 4h0m500-1h0m2-4h0m2 5h0m2 2h0m0-4h0m0 4h0m1-1h0m0-7h0m0 1h0m1 9h0m1-4h0m0 3h0m0-5h0m1 2h0m11 0h0m3 3h0m-589 8h0m1 2h0m2-4h0m0 7h0m0-4h0m0-7h0m3 2h0m1 3h0m1 2h0m2-2h0m2 5h0m0-9h0m0 2h0m0-2h0m1-1h0m0 5h0m1-4h0m1 2h0m1 6h0m0-4h0m0-5h0m2 8h0m0-2h0m0-2h0m1-3h0m0 5h0m0 4h0m1-6h0m0 5h0m1 1h0m0-5h0m1 0h0m0-6h0m1 9h0m0-6h0m0 1h0m1 7h0m0-9h0m1 4h0m1 1h0m0-4h0m0 9h0m0-4h0m0-6h0m2 5h0m1-6h0m2 6h0m0-1h0m0 4h0m1-3h0m0 4h0m1-1h0m0-9h0m0 3h0m1-3h0m0 10h0m1-11h0m0 11h0m1 0h0m1-1h0m1-8h0m0 0h0m12 9h0m10-4h0m1 4h0m1-3h0m511-4h0m0 1h0m1-4h0m0-1h0m2 9h0m1-6h0m2 2h0m1 2h0m11 2h0m4-4h0m10-3h0m9 9h0m2-5h0m1 4h0m-617 5h0m1-3h0m2 9h0m0 0h0m1-8h0m0 1h0m1 0h0m0 8h0m0-6h0m1-2h0m0-1h0m1 4h0m1 6h0m1 0h0m1-11h0m0 8h0m1-7h0m1 1h0m0 5h0m0-5h0m0 2h0m0 7h0m2-7h0m1 6h0m0 1h0m2-1h0m1-8h0m0 9h0m1-9h0m0 0h0m0 9h0m1-5h0m1 1h0m1 1h0m0-6h0m1 9h0m0-6h0m1 0h0m0-4h0m1 7h0m0-4h0m1-2h0m0 8h0m0-9h0m1 11h0m1-9h0m0 2h0m1 1h0m0 2h0m0 3h0m2-5h0m5-1h0m0 5h0m1-3h0m0-4h0m29 7h0m-69 11h0m1 0h0m1 0h0m0 1h0m1-1h0m0-6h0m0 1h0m0-3h0m1 8h0m1-1h0m0-4h0m0 6h0m0-4h0m2 4h0m0 2h0m0-11h0m0 3h0m0-1h0m1 3h0m0 3h0m2 0h0m0 3h0m1-6h0m1-2h0m0 3h0m0-5h0m0 4h0m1 3h0m0-2h0m0 4h0m1-5h0m0 4h0m0-3h0m1-5h0m0 9h0m2-3h0m1-7h0m0 8h0m0 2h0m0-5h0m0-2h0m0-2h0m1 9h0m1 0h0m0-1h0m1 0h0m1-3h0m2-4h0m0 8h0m0-2h0m1 0h0m0 2h0m0 0h0m0-3h0m2-1h0m1-1h0m1 0h0m0 2h0m0-7h0m2 7h0m0 0h0m0-5h0m1 6h0m0-6h0m1 1h0m1 3h0m0-4h0m0 6h0m0-5h0m1 4h0m1-2h0m1 3h0m0-2h0m0-1h0m2-2h0m0 4h0m1-2h0m0-3h0m0 4h0m0-6h0m0-1h0m1 11h0m2-4h0m5-6h0m0 1h0m1 0h0m2 3h0m5 0h0m15 0h0m502 3h0m42-6h0m-615 21h0m0-1h0m0-2h0m0 3h0m1-3h0m0 0h0m1-2h0m0 2h0m0-2h0m0 1h0m3-4h0m0 5h0m0-8h0m1 12h0m0-10h0m0 3h0m0-4h0m0 1h0m2 7h0m1-5h0m1 6h0m0-2h0m0-8h0m1 8h0m0-3h0m0 6h0m1-4h0m0 4h0m0-5h0m1 3h0m0-1h0m0-5h0m1 9h0m1-6h0m1-6h0m2 8h0m0-7h0m0 0h0m0 7h0m1 1h0m1-6h0m1-2h0m0 5h0m0-3h0m0 3h0m0 0h0m2 2h0m0-5h0m0 6h0m1 2h0m0-10h0m0 3h0m0 7h0m0-8h0m1-3h0m2 5h0m1 4h0m1-2h0m0-7h0m0 4h0m1 8h0m1-4h0m0-7h0m1-1h0m0 5h0m1 5h0m1 0h0m0-9h0m3 9h0m0-2h0m1-4h0m1-1h0m0 5h0m1-7h0m0 7h0m0-3h0m2-2h0m0 6h0m1-3h0m0 0h0m1-1h0m1 4h0m1-6h0m4 1h0m9-2h0m4 7h0m5-8h0m506 9h0m13-8h0m9 6h0m1 3h0m4-5h0m12-1h0m-612 8h0m2 1h0m0 0h0m2 1h0m1 0h0m1-2h0m2 0h0m0 2h0m1-1h0m0 1h0m1-1h0m2 1h0m0-2h0m0 3h0m1 0h0m0 0h0m0 0h0m0-1h0m1 2h0m1-1h0m1-3h0m0 0h0m1 3h0m1-2h0m1 2h0m0-3h0m0 4h0m0 2h0m1 0h0m2-4h0m2 0h0m0 4h0m0-6h0m1 0h0m0 2h0m0 1h0m0 4h0m2-6h0m1 4h0m1 0h0m2 3h0m0-4h0m2-1h0m1 2h0m2-4h0m0 7h0m1 2h0m0-6h0m5 0h0m1-4h0m1 5h0m0-4h0m0 6h0m0 3h0m0-11h0m1 10h0m2-3h0m0-7h0m1 8h0m9 3h0m530-9h0m5 7h0m-544 5h0m2-1h0m-8 13h0m2 3h0m8 7h0m6-5h0m2 1h0m-16 13h0m5-2h0m16-2h0m6-4h0m-22 19h0m11-6h0m5 5h0" stroke="#6f6d1c" stroke-width="3.2" stroke-linecap="round" fill="none" transform="scale(0.5)"/>
<path d="M617 1614h0m2-6h0m2 5h0m0-6h0m1 5h0m-16 9h0m4 4h0m3-2h0m1-6h0m0 8h0m1-9h0m0 5h0m0-2h0m1-1h0m0 4h0m0-7h0m1 8h0m0-3h0m0 3h0m1 1h0m2-2h0m2-2h0m1 0h0m-29 16h0m2-3h0m1 0h0m0 0h0m1 0h0m0 2h0m0-2h0m1-2h0m0-2h0m0-1h0m1 5h0m0 0h0m1-6h0m1 3h0m1 2h0m1 0h0m0-2h0m0 6h0m0-8h0m0 4h0m0-4h0m1 6h0m1-3h0m0-1h0m0-4h0m1 6h0m1 3h0m0-8h0m2 11h0m1-11h0m1 7h0m1-7h0m0 6h0m0 0h0m0 2h0m1-2h0m0 0h0m1-2h0m0-2h0m1 7h0m0-1h0m0-5h0m1 3h0m0 1h0m0-3h0m-33 15h0m2 3h0m3-8h0m0 3h0m1 1h0m1-6h0m0 1h0m1 7h0m0-1h0m0 0h0m1 3h0m0-10h0m0 9h0m1 0h0m1-9h0m0 3h0m0 1h0m0-3h0m1 1h0m0 0h0m2-2h0m0 5h0m1 2h0m1-5h0m0 5h0m1-5h0m1 2h0m0 5h0m3-7h0m0 7h0m0 1h0m0-1h0m0 2h0m1-6h0m0-3h0m0 5h0m1 2h0m0-2h0m1-3h0m1 4h0m0-2h0m0 3h0m2-10h0m0 7h0m1 1h0m1-7h0m0 3h0m0-3h0m1 3h0m-37 18h0m0 0h0m3 0h0m1-1h0m0-5h0m0 4h0m1 3h0m0-1h0m1-10h0m0 8h0m0 1h0m1-6h0m0 2h0m1 4h0m0-2h0m1-1h0m1 0h0m2-3h0m0 2h0m1 6h0m0-5h0m1 6h0m1-5h0m3 2h0m1 0h0m1-2h0m0-6h0m0 6h0m0-3h0m1-1h0m0 9h0m0-3h0m0-4h0m0-4h0m2 6h0m2 0h0m0-2h0m0-3h0m1 6h0m0-5h0m2-1h0m0 1h0m2 0h0m0 5h0m2-7h0m0 1h0m-37 13h0m1 0h0m0 4h0m1 4h0m0-6h0m0 6h0m2-5h0m0-1h0m3-4h0m0 5h0m1 1h0m1-7h0m1 7h0m0 4h0m0 0h0m1-7h0m1 2h0m0 3h0m1-5h0m2 2h0m2-6h0m2 2h0m1 3h0m3 0h0m1-3h0m-32 18h0m0-1h0m1 4h0m0-5h0m3 1h0m0-2h0m1 3h0m2-7h0m3 0h0m2 1h0m4-1h0m-19 12h0m-32 114h0m0 2h0m1 2h0m1-7h0m1 7h0m1-6h0m0 7h0m1-5h0m0 2h0m1-4h0m0 3h0m1-1h0m0-2h0m5 7h0m2-1h0m1-2h0m1-1h0m0 3h0m1-1h0m3 1h0m0-3h0m1 2h0m1 2h0m1-2h0m7 2h0m1-1h0m-29 2h0m1 10h0m0-4h0m2-1h0m0 0h0m1 2h0m0 0h0m1-6h0m2 5h0m0 5h0m0-9h0m0-3h0m2 11h0m1-3h0m0-2h0m1-1h0m0 7h0m1-12h0m0 3h0m0-1h0m1-1h0m0 10h0m1-3h0m0-5h0m1 3h0m1 1h0m0 3h0m0-10h0m2 12h0m1-12h0m1 12h0m0-8h0m2 6h0m0-1h0m0 2h0m1-7h0m0-3h0m1 0h0m0 6h0m1 2h0m0-2h0m0-4h0m1 9h0m1-1h0m1-8h0m0 1h0m1 7h0m0-2h0m1-6h0m1-3h0m1 7h0m0 0h0m1-4h0m0 7h0m1-7h0m2-2h0m1 4h0m3 7h0m0-2h0m2-8h0m1 10h0m1-5h0m0 4h0m2-5h0m0 0h0m1 0h0m1-2h0m2 5h0m-49 15h0m0-4h0m1 1h0m0 3h0m0-8h0m1-4h0m0 11h0m2-2h0m2-5h0m0-3h0m1 6h0m0-2h0m0 2h0m1 2h0m0-5h0m0-2h0m2-1h0m0 5h0m1 0h0m0 4h0m1-2h0m0 3h0m1 0h0m1-2h0m0-1h0m0 3h0m1-1h0m1-8h0m2-1h0m0 3h0m0-1h0m0 6h0m2-3h0m1 3h0m0-1h0m2-2h0m0 5h0m1-3h0m0-1h0m0 3h0m0-5h0m1 1h0m0 5h0m0-7h0m1 0h0m0-4h0m0 9h0m1-4h0m0-2h0m1 4h0m0-2h0m0-4h0m0 1h0m1 0h0m1 9h0m0-7h0m1 7h0m0-1h0m0-4h0m2-6h0m2 9h0m0-3h0m1 3h0m0 1h0m2 0h0m0-9h0m0 10h0m0 0h0m0-5h0m1 6h0m2-4h0m0 1h0m2-7h0m1 2h0m0 0h0m1 3h0m1 3h0m0 2h0m0-12h0m1 8h0m0 2h0m1-1h0m0-5h0m2 4h0m1-5h0m1 8h0m0 0h0m-52 1h0m2 1h0m3 2h0m2 1h0m1 3h0m1-7h0m1 1h0m0 0h0m1 8h0m0-1h0m1-4h0m0 1h0m0 0h0m1 1h0m0-2h0m0-1h0m1 0h0m0-2h0m0 1h0m0 5h0m1-4h0m0 3h0m2-6h0m0 2h0m1 0h0m1-2h0m0 7h0m0-1h0m1-1h0m1 5h0m1 1h0m1 0h0m0-2h0m1-2h0m2-2h0m0-5h0m1 3h0m0-2h0m0 5h0m1-6h0m2 3h0m0 4h0m1 1h0m1-3h0m0-2h0m1 9h0m0-3h0m1 1h0m0-5h0m0 0h0m0-2h0m1 7h0m0 0h0m1-1h0m1-6h0m0 3h0m1-4h0m0 9h0m1-6h0m0-3h0m2 10h0m0-11h0m1 9h0m0 0h0m0-8h0m1 6h0m1 4h0m1-12h0m1 7h0m1-2h0m1 6h0m1-11h0m0 1h0m1 8h0m0-7h0m1 7h0m0 2h0m1-4h0m1-5h0m0 0h0m2 3h0m0 0h0m0 7h0m-45 2h0m1 2h0m1-2h0m1 6h0m0-7h0m4 1h0m0-1h0m1 2h0m0 0h0m0 5h0m0 0h0m0 3h0m0-2h0m1 0h0m0-8h0m0 1h0m1 1h0m0 8h0m0-5h0m0-2h0m3 2h0m0 5h0m0-8h0m2 0h0m1 5h0m3-4h0m0 0h0m0-3h0m1 9h0m0-6h0m1 4h0m0-4h0m0-1h0m0 6h0m1-8h0m0 1h0m1 4h0m1 5h0m0-9h0m0 7h0m2-3h0m0-6h0m0 1h0m1-1h0m0 9h0m1 2h0m0-6h0m1 4h0m1 0h0m0-2h0m0-6h0m1 2h0m0-3h0m1 4h0m1 3h0m0-3h0m0-2h0m1 7h0m0-6h0m1 0h0m0-1h0m1 2h0m0 0h0m1 1h0m0 7h0m0-5h0m3 3h0m0 0h0m2-7h0m0-1h0m0 2h0m1-3h0m0 9h0m1-3h0m1-3h0m0 2h0m0-6h0m0 0h0m0 11h0m0-5h0m0 0h0m0-1h0m1 2h0m0-6h0m0 0h0m1 3h0m0 1h0m0 0h0m1 5h0m1-7h0m1 7h0m0-4h0m1 5h0m0-1h0m1 0h0m-49 3h0m1 0h0m0 1h0m3-1h0m1 6h0m2 4h0m1-4h0m0-1h0m0-2h0m0 3h0m0-2h0m0 7h0m3-7h0m0-1h0m2-4h0m0 7h0m1 3h0m0-3h0m1-2h0m1 4h0m0 1h0m0-6h0m1 7h0m2 1h0m1-6h0m1-5h0m0 11h0m0-7h0m0-2h0m1 6h0m0 0h0m1 1h0m0-8h0m1-1h0m1-1h0m0 9h0m0-4h0m1 3h0m0-5h0m0 8h0m0-11h0m0 11h0m0-1h0m1-1h0m0-8h0m0 7h0m0-3h0m0 1h0m1 6h0m1-11h0m1 7h0m1 3h0m1-7h0m0 2h0m0 1h0m0 0h0m1-5h0m0 8h0m1-10h0m1 6h0m1 6h0m0-8h0m1 6h0m0-7h0m0 5h0m1 3h0m0-10h0m1 3h0m1 3h0m1 0h0m2-6h0m1 7h0m1-3h0m0-1h0m1 1h0m0 6h0m0-5h0m0-4h0m1 3h0m0 3h0m0-7h0m2 1h0m0 5h0m0-4h0m0 1h0m1 5h0m0-4h0m1 5h0m-40 2h0m3 4h0m2-3h0m1 3h0m1 2h0m0-3h0m2 4h0m2 0h0m0-6h0m1-1h0m1 8h0m0-1h0m1 3h0m0-6h0m1-1h0m0 0h0m2 4h0m0-1h0m0 5h0m2-2h0m1 0h0m0-4h0m1 4h0m0 1h0m2-8h0m0 9h0m0-6h0m0 5h0m0-4h0m1 4h0m0-4h0m0-2h0m0 8h0m0-9h0m1 3h0m0 3h0m1-5h0m0-2h0m1 2h0m2-1h0m1-1h0m1 3h0m1 3h0m0-3h0m1 3h0m0 1h0m2-6h0m1 5h0m0-1h0m2-2h0m1 3h0m0-6h0m0 7h0m0-3h0m1 0h0m1-4h0m0-2h0m-19 15h0m1 0h0m0 1h0m1-2h0m2 0h0m0 0h0m2 2h0m0-2h0m0 0h0m1-1h0m2 2h0m0-2h0m2 0h0m4 2h0m1-2h0m1 1h0" stroke="#a040ae" stroke-width="3.2" stroke-linecap="round" fill="none" transform="scale(0.5)"/>
<path d="M1028 1859h0m0 6h0m0 0h0m0 0h0m0-7h0m1 4h0m0-2h0m1-4h0m-3 13h0m2 4h0m119 62h0m1 0h0m3-2h0m1 2h0m3 2h0m2 0h0m0-3h0m0 2h0m1-1h0m1 1h0m0-2h0m1 0h0m1-1h0m0 4h0m1-1h0m1 2h0m3 0h0m-29 1h0m3-1h0m7 0h0m17 7h0m1-5h0m0 4h0m0-6h0m1 0h0m0 2h0m1 2h0m0 6h0m0-1h0m0 1h0m1-5h0m0 1h0m0-2h0m0 3h0m0 2h0m0 0h0m1-2h0m1 4h0m0 6h0m0-1h0m1-3h0m0 1h0m2 7h0m1-1h0m1-2h0m0 3h0m1-1h0m0 2h0m4 2h0m0-1h0m-3 4h0m1 0h0m0 0h0m2 5h0m0-5h0m2 1h0m0-2h0m3 5h0m-5 15h0m1-5h0m1 7h0m0-9h0m1 0h0m0 1h0m1-3h0m0 3h0m-6 11h0m1 3h0m1-5h0m2 2h0" stroke="#c9902b" stroke-width="3.2" stroke-linecap="round" fill="none" transform="scale(0.5)"/>
<path d="M804 1588h0m0 0h0m2-1h0m1 1h0m-17 13h0m2-2h0m1-1h0m2-2h0m1 0h0m1-2h0m1 1h0m1 0h0m2-3h0m2-2h0" stroke="#eedc6a" stroke-width="3.2" stroke-linecap="round" fill="none" transform="scale(0.5)"/>
<path d="M904 1934h0m0 2h0m1-1h0m1 1h0m1-3h0m1 0h0" stroke="#f5241a" stroke-width="3.2" stroke-linecap="round" fill="none" transform="scale(0.5)"/>
<path d="M2399 1468h0m2-1h0m1 2h0m5 0h0m0-2h0m0-1h0m0 1h0m0 3h0m4-4h0m4 2h0m1-4h0m1 2h0m3-1h0m1 3h0m4-1h0m0 2h0m0-1h0m0-4h0m5 4h0m1-1h0m6 2h0m2-2h0m0-1h0m2 4h0m0-1h0m1-1h0m1 0h0m-63 11h0m2 1h0m4-2h0m0 1h0m1 2h0m1 0h0m1-1h0m0-2h0m0 4h0m1-1h0m0-6h0m1 2h0m0 0h0m2 2h0m2 0h0m1 3h0m0 0h0m1-6h0m0 6h0m0-3h0m2-4h0m0 3h0m0-5h0m1 0h0m2 5h0m1 1h0m0-1h0m0-2h0m1-5h0m0 7h0m0-2h0m1 5h0m1-7h0m0 5h0m1 3h0m1-7h0m1 1h0m2 6h0m0-8h0m1-2h0m1 9h0m0-3h0m1-6h0m1 2h0m2 0h0m1 0h0m2 6h0m1-8h0m0 0h0m0-1h0m1 8h0m2-4h0m0-5h0m0 6h0m0-3h0m0 7h0m1 1h0m1-9h0m1 3h0m1 0h0m0 3h0m0-8h0m1 2h0m0-1h0m1 5h0m1-3h0m0-3h0m0 4h0m1 3h0m0-6h0m0 10h0m1-2h0m0 2h0m2-9h0m1 1h0m0-3h0m1 6h0m1 5h0m3-3h0m0-1h0m0 4h0m1-2h0m3 1h0m1 0h0m0-2h0m0-2h0m1-5h0m3 0h0m0 10h0m1-6h0m1 0h0m0 5h0m0 1h0m1 0h0m2-2h0m0-4h0m2 7h0m2-3h0m4 1h0m1-1h0m2 3h0m-94 11h0m3-1h0m2-3h0m0 4h0m0-1h0m1 0h0m0-6h0m2 2h0m0-6h0m1 4h0m2 2h0m1 4h0m0-3h0m0 0h0m4-3h0m0 6h0m1 1h0m0 0h0m1-7h0m0-3h0m0 5h0m1-2h0m1 2h0m0 4h0m1-5h0m0 6h0m2-6h0m1 6h0m0-2h0m1-7h0m0 8h0m0-7h0m1 0h0m1 6h0m0-1h0m0-1h0m3-1h0m0 4h0m3-5h0m0 4h0m1-3h0m0 3h0m0 2h0m1-2h0m1-8h0m2 3h0m0 1h0m3-1h0m2 3h0m1-3h0m0 7h0m1-8h0m0 3h0m0 2h0m1-2h0m2-5h0m0 0h0m0 6h0m2-6h0m2 0h0m0 7h0m1-2h0m0 2h0m0-3h0m0 0h0m1-4h0m2 11h0m0-10h0m0 0h0m2 7h0m2-5h0m1 1h0m0 0h0m0 4h0m1-9h0m1 2h0m4 6h0m0 1h0m0-6h0m1 3h0m1-5h0m1 2h0m1-1h0m2 3h0m0 4h0m1 0h0m0-5h0m0-1h0m1 0h0m0 1h0m0 5h0m2-1h0m1 1h0m0-6h0m2-2h0m0 6h0m0-4h0m2-2h0m1 10h0m1-11h0m0 4h0m1-3h0m0 3h0m1 5h0m0-4h0m0-3h0m1 3h0m0 1h0m2-6h0m1 11h0m1-5h0m2-1h0m1-3h0m1 7h0m0-6h0m0 0h0m0 0h0m0 6h0m2-6h0m0 3h0m1 4h0m0-5h0m-102 15h0m3-2h0m1 6h0m2-6h0m1-5h0m1 7h0m0 1h0m1-9h0m1 11h0m2-6h0m0-1h0m0-3h0m0 0h0m1-1h0m3 11h0m0-7h0m1 0h0m0 3h0m1 4h0m0-6h0m1-3h0m0 5h0m1-3h0m1-4h0m1 2h0m0 6h0m0-6h0m0 0h0m1 10h0m1-11h0m0 8h0m1 1h0m1-5h0m0-1h0m1 4h0m0 4h0m0-11h0m1 4h0m1 1h0m0 5h0m0-6h0m1 5h0m0-9h0m0 9h0m1-8h0m0 7h0m1-7h0m0 1h0m0 7h0m0-7h0m0 9h0m0-5h0m2 5h0m0-6h0m1-5h0m1 7h0m0-2h0m0-3h0m0 7h0m0-2h0m1-8h0m0 3h0m0 8h0m1-6h0m1-1h0m2-3h0m0 6h0m1-7h0m0 6h0m1-6h0m0 8h0m1-8h0m1 3h0m0 7h0m1 1h0m0-1h0m0 0h0m1-3h0m3 0h0m0-3h0m0-3h0m0 9h0m1-10h0m1 6h0m0 4h0m3-2h0m0-4h0m1-1h0m1 3h0m6-3h0m0 5h0m0-7h0m1 7h0m0 3h0m0-1h0m3-3h0m0 0h0m0-5h0m1 0h0m2 7h0m1-2h0m1 1h0m1-4h0m3-1h0m1 6h0m1-1h0m0 0h0m1 2h0m0-9h0m1 8h0m1-5h0m1-3h0m0 5h0m2 4h0m0 0h0m0-10h0m2 8h0m1-3h0m0 5h0m1-9h0m0 8h0m0-2h0m0-3h0m0 6h0m1-4h0m1 2h0m3-1h0m2-6h0m3 11h0m1-7h0m0 6h0m1-3h0m0-5h0m1-1h0m0 1h0m0-1h0m1 1h0m1 0h0m0 0h0m0 8h0m1-9h0m2 7h0m1-8h0m1 0h0m3 1h0m0 2h0m1 2h0m3 6h0m0 0h0m2-3h0m-118 5h0m0 3h0m0 5h0m2-8h0m0 4h0m0 4h0m3-7h0m0 4h0m1 2h0m0-4h0m1 0h0m1 4h0m0-2h0m1-1h0m0 1h0m0-1h0m1-2h0m1 1h0m1 4h0m0-5h0m0 4h0m1 0h0m0 0h0m0 2h0m0-8h0m2 2h0m1 3h0m0 1h0m1-3h0m4 0h0m0 6h0m2-2h0m2-3h0m1 1h0m2-2h0m0-3h0m1 1h0m1 0h0m4-2h0m2-1h0m0 2h0m3-1h0m33-1h0m7 3h0m1-1h0m1-1h0m3 0h0m1 1h0m0 7h0m1-1h0m0-7h0m1 8h0m0-3h0m0 4h0m0-2h0m1-6h0m0 5h0m0-6h0m1 8h0m0-2h0m1-3h0m0-2h0m0 1h0m1-3h0m1 7h0m0 1h0m0 0h0m1-2h0m0-2h0m0 4h0m0 3h0m2-11h0m1 9h0m2-5h0m1-3h0m0 10h0m1-4h0m0 1h0m0 2h0m1-5h0m1 4h0m1-7h0m1-1h0m0 10h0m1 1h0m2-11h0m3 4h0m0-3h0m0 5h0m1 1h0m0-3h0m0 2h0m0-4h0m5 4h0m4 0h0m4 3h0m-124 3h0m0 6h0m1-2h0m1-2h0m1 8h0m1-7h0m3 0h0m0 5h0m1 1h0m1-8h0m0 4h0m0 2h0m2 3h0m0-3h0m0 0h0m0 0h0m1-1h0m1 0h0m59 5h0m0-1h0m19-9h0m2 3h0m5 1h0m0 2h0m0-3h0m3 5h0m5-9h0m1 0h0m7 3h0m1-2h0m0 9h0m2 0h0m2-11h0m0 8h0m0 3h0m7-11h0m2 0h0m0 1h0m1 2h0m1-2h0m1 11h0m1-2h0m6 0h0m1 0h0m-135 5h0m2 0h0m76 7h0m8-8h0m2 9h0m1-4h0m0-1h0m2-5h0m1 1h0m5 0h0m1 0h0m4 2h0m0 0h0m1 4h0m6 3h0m0 0h0m11-4h0m5 1h0m2-5h0m2 2h0m1 7h0m4-5h0m1 4h0m2-9h0m-56 22h0m1-6h0m2 6h0m0-5h0m5-4h0m6 9h0m10-5h0m0 1h0m2-7h0m8 7h0m2-5h0m3 6h0m1-7h0m2 3h0m1 5h0m5-1h0m4 1h0m0-5h0m3 2h0m0 0h0m1-4h0m3 5h0m3 1h0m0 2h0m2-5h0m-70 15h0m0 0h0m6-8h0m3 6h0m3-2h0m1 4h0m5-2h0m5-3h0m3 4h0m1 1h0m1 1h0m1-6h0m0 5h0m3-3h0m0-3h0m1 6h0m1-8h0m2 8h0m1 0h0m1-1h0m2 1h0m5-1h0m2-7h0m1 3h0m3-3h0m1 8h0m2-8h0m3 0h0m4 9h0m7-4h0m-55 15h0m1-1h0m0-2h0m1 5h0m11-4h0m2-7h0m0 10h0m3-9h0m10 3h0m0 6h0m1-6h0m0 3h0m2-1h0m3-5h0m0 7h0m1-7h0m1 10h0m1-2h0m0 2h0m1-5h0m2 2h0m2-5h0m0 0h0m2 6h0m2-2h0m7 0h0m0 2h0m2 2h0m-73 10h0m9-7h0m1 8h0m1-6h0m0-3h0m1 9h0m2-1h0m5-5h0m2 5h0m1 0h0m7-6h0m0-1h0m25 2h0m1-3h0m4-1h0m0 4h0m0 0h0m0-2h0m1 2h0m5 5h0m0-2h0m0-7h0m4 8h0m1-2h0m3 5h0m0-6h0m-77 16h0m1 2h0m18-10h0m59-1h0m-85 22h0m2-8h0m0 2h0m4 1h0m-7 13h0m-17 25h0m1 2h0m1-1h0m2-2h0m1-3h0m3 1h0m0-2h0m1-2h0m0 1h0m1 0h0m150 11h0m11 0h0m1-2h0m1-2h0m9 4h0m-354 12h0m3-1h0m3 1h0m0-1h0m2-2h0m1-3h0m2-5h0m0 0h0m1 3h0m2 7h0m0-1h0m2-5h0m0 3h0m292-4h0m0 0h0m12-3h0m5 11h0m3-2h0m2-7h0m2 7h0m2 1h0m5-8h0m2 1h0m2-1h0m3 3h0m3 0h0m4 3h0m3-3h0m0 5h0m1-8h0m4 0h0m0 4h0m2 1h0m0-5h0m3 7h0m11 1h0m0-1h0m9 2h0m-390 12h0m0-4h0m3 0h0m2 2h0m0-2h0m2-3h0m1 1h0m1-2h0m1 0h0m2 4h0m1 1h0m0-3h0m1-4h0m1-1h0m2 0h0m277 8h0m4-4h0m3 5h0m7-8h0m0 4h0m11 4h0m0-5h0m9-3h0m1 0h0m2 5h0m1-4h0m5 4h0m3-2h0m1 0h0m0-4h0m5 8h0m8 2h0m1-6h0m5-3h0m2 4h0m0-3h0m2 3h0m10 4h0m1-9h0m2 7h0m3 1h0m11-6h0m12 8h0m13 1h0m0-1h0m14 0h0m1-3h0m2 0h0m1 0h0m-448 13h0m1 2h0m0 0h0m0-2h0m0-2h0m1 4h0m0-3h0m2 3h0m0-5h0m0 3h0m2 1h0m0 0h0m3 0h0m0-5h0m0 6h0m4 0h0m0-7h0m0 2h0m0 3h0m1-7h0m0 3h0m1-4h0m0 1h0m0 4h0m0 3h0m2-7h0m1 8h0m1-9h0m1 10h0m0 0h0m1-9h0m0 9h0m1-10h0m1 1h0m1 9h0m0-1h0m0-5h0m1-4h0m0 4h0m0 3h0m2-4h0m285 5h0m1-8h0m1 5h0m7 5h0m1-1h0m1 1h0m4-8h0m2 0h0m1 1h0m1-1h0m5 5h0m5 1h0m2-5h0m4 4h0m2-2h0m1-2h0m5 2h0m1 5h0m9-5h0m3 4h0m0 0h0m6-9h0m6 10h0m2-5h0m4 3h0m6-1h0m6-5h0m8-2h0m3 3h0m6-1h0m3-1h0m3 3h0m1-3h0m0 0h0m3 8h0m1-7h0m2 5h0m0-8h0m0 4h0m1 7h0m5-11h0m8 0h0m8 4h0m4 0h0m0 0h0m1-1h0m0-3h0m2 8h0m1 4h0m0-6h0m1 5h0m0-5h0m0 2h0m1-5h0m2 7h0m-472 14h0m5-7h0m2-4h0m0 11h0m0-5h0m0-3h0m1 4h0m0 3h0m1 0h0m0-1h0m2 2h0m0-10h0m1-1h0m0 3h0m0 3h0m1-7h0m1 7h0m0 2h0m0 3h0m2-7h0m3-3h0m1-1h0m1-1h0m0 3h0m2-1h0m0 2h0m0 8h0m3-3h0m0-5h0m1 5h0m1-2h0m0-4h0m0-2h0m0 7h0m1 1h0m0 3h0m0-3h0m1-6h0m1 5h0m0 0h0m1-5h0m1 0h0m286 8h0m3-9h0m0 7h0m1-8h0m0 10h0m6-1h0m2-8h0m1 6h0m4-7h0m0 10h0m3 0h0m2-1h0m2 1h0m0-1h0m1-9h0m1 6h0m2-5h0m5 5h0m3 1h0m7-4h0m5-2h0m0 3h0m3 0h0m1 3h0m1-7h0m1 7h0m0 0h0m9-6h0m4 3h0m0 6h0m0-7h0m1-4h0m3 2h0m0 6h0m2 0h0m2-6h0m15 6h0m2 1h0m1-8h0m0 3h0m1 6h0m0-1h0m2-1h0m8-8h0m2 7h0m8-5h0m1-1h0m1 10h0m3-10h0m3 4h0m0 2h0m4-2h0m21 2h0m1 3h0m0-9h0m1 4h0m1 0h0m2-5h0m0 8h0m-472 6h0m1-1h0m1 9h0m1-2h0m1 0h0m1-2h0m0 0h0m0 0h0m1 4h0m1-7h0m0 0h0m0 5h0m1-2h0m1 4h0m2-6h0m0 4h0m1 0h0m4 0h0m0-1h0m1 0h0m0-4h0m1-1h0m0 2h0m0 2h0m1 5h0m1-3h0m1-4h0m0 6h0m0-10h0m0 2h0m0 1h0m1 4h0m1 3h0m1-6h0m2-1h0m0-3h0m0 2h0m0-2h0m0 6h0m1-6h0m290 12h0m3-9h0m5-2h0m13 10h0m4-9h0m3 0h0m7 3h0m2-1h0m1 0h0m1 1h0m0 3h0m2-6h0m2 7h0m5-3h0m3-2h0m13 1h0m1 2h0m14-5h0m1-2h0m5 9h0m6-7h0m2 0h0m1 6h0m1 3h0m1-5h0m7 1h0m7 5h0m2-2h0m4 1h0m0 0h0m5 0h0m4-1h0m0-4h0m4 4h0m1 1h0m1-4h0m20-4h0m1-1h0m1 4h0m0-5h0m0 6h0m1 1h0m1 2h0m-484 12h0m1-1h0m1-1h0m0 2h0m0-1h0m1-3h0m0 6h0m1-2h0m1-1h0m0-3h0m1-4h0m0 4h0m0 4h0m2 1h0m1-11h0m0 5h0m0 4h0m1 3h0m0-10h0m0 2h0m2-2h0m1 9h0m0-9h0m0 4h0m1 1h0m1 3h0m0-6h0m0 2h0m3 3h0m0 1h0m0-6h0m0-4h0m1 3h0m0 0h0m0 6h0m0-5h0m1 3h0m1-3h0m1 6h0m0-4h0m1 2h0m0-2h0m2 1h0m1 0h0m1-2h0m0 0h0m1-3h0m1-1h0m0 9h0m2-8h0m1 0h0m0-1h0m1 1h0m290 5h0m3-2h0m6 2h0m4-2h0m2 2h0m5-5h0m5-1h0m3 11h0m1-2h0m1-4h0m11 3h0m7 1h0m1-9h0m6 0h0m0 4h0m0 6h0m0-2h0m3 0h0m5-7h0m2 8h0m1-9h0m1 8h0m1-2h0m1-6h0m3 10h0m0-7h0m2 1h0m1 2h0m10-2h0m2 2h0m2-7h0m1 6h0m6 5h0m9 1h0m2-10h0m0 0h0m4 4h0m8 1h0m1-4h0m1 3h0m1-1h0m5 0h0m1 2h0m2-2h0m2-3h0m5 0h0m4 6h0m19-3h0m1-3h0m1 8h0m0-5h0m1 6h0m3 0h0m0-1h0m-495 14h0m0-1h0m1-1h0m0-5h0m0 2h0m2 3h0m0-6h0m0-1h0m1 3h0m0-2h0m1 7h0m1-11h0m1 9h0m0-1h0m1-5h0m1 2h0m0 6h0m1-4h0m1-7h0m0 2h0m1 9h0m1-9h0m0 8h0m1-4h0m1 3h0m0-1h0m1 0h0m1-8h0m0 11h0m1-11h0m1 11h0m0-6h0m0 1h0m0-5h0m1 10h0m2-8h0m0 4h0m1 0h0m2-1h0m0 1h0m0-1h0m1 4h0m1-5h0m0 4h0m1-8h0m0 2h0m2 0h0m0 3h0m0-1h0m288 5h0m1-4h0m1 2h0m21-3h0m3 1h0m1 4h0m0-7h0m0 7h0m2-2h0m0-4h0m7-2h0m0-1h0m6 7h0m0-4h0m5 1h0m5 4h0m2-3h0m5-5h0m7 0h0m7 3h0m2 1h0m4-1h0m2 5h0m4-3h0m2 2h0m4-5h0m1-2h0m1 5h0m0-2h0m4 2h0m4 4h0m4-8h0m0 10h0m2-5h0m2 1h0m9-4h0m4 3h0m3-5h0m5-1h0m5 5h0m1 4h0m1-6h0m0 3h0m2 0h0m2-3h0m3-3h0m1 4h0m3-4h0m5 6h0m0 3h0m1 0h0m21-9h0m0 4h0m3 0h0m1 0h0m0 3h0m0 3h0m4-1h0m-507 10h0m0 3h0m2-2h0m1-5h0m0 6h0m0-8h0m1 2h0m0 6h0m1-9h0m1 11h0m1-8h0m1 4h0m0 2h0m0-8h0m0-1h0m1 0h0m1 10h0m0-8h0m2 8h0m0-5h0m0-4h0m1-1h0m0 8h0m0-4h0m0 1h0m1-3h0m1 0h0m0-2h0m5 10h0m0-1h0m1-8h0m0 9h0m0-5h0m1 6h0m1-10h0m0 2h0m0 0h0m0 6h0m0-7h0m1-3h0m1 11h0m0-10h0m0 8h0m0-6h0m1 0h0m0 6h0m0-7h0m2 0h0m3 0h0m274 8h0m0-1h0m1 1h0m3 2h0m1-7h0m2 5h0m12 2h0m8-12h0m2 0h0m9 5h0m0 5h0m1-9h0m7 3h0m1-1h0m0 0h0m4-2h0m1 10h0m7 1h0m3-3h0m0 0h0m3-7h0m0 0h0m2 2h0m2 4h0m3-3h0m20-3h0m8 1h0m13 3h0m1-4h0m2-2h0m3 11h0m7-9h0m4 8h0m7-10h0m1 1h0m1 9h0m0-9h0m2 4h0m2 2h0m3-6h0m6 0h0m4-1h0m3 3h0m0 2h0m2-3h0m5 1h0m2-2h0m1 3h0m3 6h0m4-3h0m25 2h0m1-3h0m0-2h0m0 2h0m1-6h0m0 9h0m-516 13h0m1-3h0m1 2h0m0 3h0m1-1h0m0-1h0m2-1h0m1 1h0m0-6h0m0-3h0m1 1h0m0 2h0m0-2h0m1-1h0m0 7h0m0-5h0m1 2h0m1 5h0m0-5h0m1-1h0m0 2h0m1-4h0m1 7h0m0 1h0m2-4h0m1-1h0m3 1h0m0 2h0m0 0h0m0-6h0m1 0h0m0 5h0m1 1h0m0-7h0m1 11h0m0-10h0m1 5h0m0-2h0m1-2h0m0 6h0m0-2h0m1-4h0m0-3h0m1 6h0m2 5h0m0-6h0m1 1h0m0-5h0m0 2h0m2 0h0m1-2h0m0-1h0m1 2h0m256 7h0m3-1h0m0 4h0m0-1h0m1-4h0m0 1h0m1-1h0m0-1h0m3 3h0m1-5h0m1 4h0m1-1h0m0-4h0m2 2h0m0 7h0m2-11h0m0 0h0m0 9h0m0 1h0m1 0h0m0-8h0m0 1h0m0 2h0m0 0h0m0 2h0m0-7h0m1 8h0m0-6h0m1 9h0m0-9h0m1 8h0m0-6h0m1 4h0m0 1h0m0-3h0m0 0h0m1-1h0m1 0h0m0 2h0m2 4h0m0-1h0m1-5h0m2 5h0m0-8h0m0-2h0m0 5h0m1 5h0m0-2h0m0-1h0m0-5h0m0 6h0m0-1h0m1 3h0m0-3h0m0-2h0m1-2h0m1 4h0m0 0h0m1-2h0m1-4h0m0 0h0m0-1h0m1 0h0m2 8h0m0 2h0m1 1h0m1-8h0m2-2h0m1 6h0m1-2h0m0 6h0m0-2h0m3-10h0m0 8h0m0 4h0m5-3h0m1 2h0m1-1h0m0 0h0m0 0h0m1 0h0m1-4h0m0 4h0m2 0h0m5-1h0m1-4h0m1-2h0m5 4h0m1 0h0m1 5h0m3-12h0m8 8h0m0-8h0m1 5h0m67 1h0m2-3h0m2 9h0m1-4h0m1-5h0m1 0h0m2-1h0m4-1h0m2 8h0m2-3h0m4 0h0m8-5h0m5 7h0m4 3h0m0-10h0m0 2h0m8-1h0m6 4h0m27-4h0m1 9h0m0-4h0m0-3h0m2-1h0m-520 13h0m0-1h0m1 0h0m1 0h0m0-1h0m0 6h0m1-5h0m1 0h0m1 6h0m0 1h0m0 0h0m1-4h0m0-2h0m0 4h0m1 3h0m0-7h0m1 2h0m0 1h0m1 3h0m0-9h0m1 3h0m0 2h0m1-1h0m1-1h0m1 7h0m0-3h0m2-8h0m0 9h0m1-8h0m0 9h0m1-2h0m1 1h0m2-2h0m0-6h0m1 11h0m1-11h0m0 6h0m1-5h0m1 7h0m0-5h0m0 5h0m0-1h0m1-5h0m0 4h0m0-3h0m1-1h0m2 5h0m0-4h0m0-3h0m19 4h0m245-4h0m1 0h0m0 5h0m1 5h0m2-8h0m1 5h0m0-4h0m0 4h0m1-5h0m2 3h0m0-3h0m1 8h0m1-10h0m0 6h0m0-3h0m2 0h0m0-3h0m1 1h0m0 7h0m1-6h0m0-3h0m1 9h0m0-1h0m0 1h0m0 1h0m0-3h0m1-3h0m0 2h0m0 1h0m0-5h0m1 0h0m0-2h0m0 1h0m1 10h0m1 0h0m0-1h0m0-2h0m2-2h0m0 5h0m0-6h0m1 3h0m0 2h0m0 0h0m1-3h0m0 3h0m1-10h0m0 4h0m0-2h0m1 8h0m0-4h0m0 4h0m0-2h0m1 2h0m0-4h0m0 6h0m0-2h0m0-2h0m1-3h0m0 2h0m0 2h0m0-6h0m0-3h0m1 1h0m0 2h0m0 0h0m0-2h0m0 7h0m1 2h0m1-6h0m0 3h0m0 1h0m0-5h0m0 5h0m1 2h0m0 1h0m0-6h0m1 1h0m0-3h0m0 9h0m1-10h0m1 9h0m1-8h0m2-1h0m0 3h0m1 6h0m1-11h0m0 7h0m2 0h0m1 1h0m0-5h0m1 1h0m0 5h0m0-4h0m2-5h0m0 1h0m0 4h0m0-1h0m1 4h0m0-5h0m2 5h0m2 2h0m0-6h0m1 6h0m1-1h0m2-3h0m0 5h0m1-8h0m1-2h0m0 9h0m0-1h0m1-5h0m0-4h0m3 12h0m0-7h0m2-4h0m0 11h0m0-2h0m1 2h0m0-3h0m0-1h0m1-1h0m1 3h0m3-4h0m0 2h0m1-3h0m0-4h0m1 7h0m1-7h0m1 2h0m0 7h0m0 1h0m2-7h0m0 4h0m1-3h0m1 5h0m0 0h0m0-1h0m0 0h0m0-6h0m2 5h0m77 2h0m1-8h0m1-1h0m2 4h0m3 3h0m2-7h0m1 11h0m5-4h0m2-4h0m13 3h0m1-4h0m2-2h0m3 2h0m36 0h0m0-3h0m3 0h0m1 12h0m1-5h0m-531 13h0m2-3h0m0-4h0m2 3h0m0 6h0m1-2h0m0-3h0m0 6h0m1-7h0m0 8h0m1-10h0m2 7h0m0 1h0m0-10h0m1 9h0m1-8h0m0 4h0m0-1h0m1-2h0m1 1h0m0 2h0m0 0h0m0 3h0m0-4h0m1 8h0m0-11h0m0 10h0m0 0h0m2-9h0m0 0h0m0 1h0m3 0h0m1-1h0m0-2h0m2 1h0m0 6h0m0 4h0m1-7h0m2 1h0m1-1h0m1 7h0m0-3h0m0-3h0m1-5h0m2 3h0m1 7h0m1 1h0m1-8h0m0 5h0m269-4h0m1 2h0m3 5h0m2-5h0m0 1h0m0 4h0m1-6h0m1 7h0m1-6h0m0 4h0m1 2h0m1-10h0m1 7h0m0-1h0m0-1h0m0-3h0m0-2h0m2 2h0m0 4h0m0 2h0m1 0h0m1-9h0m0 9h0m0-7h0m1-2h0m0 11h0m1-9h0m0-2h0m0 2h0m0 7h0m0-7h0m1 0h0m0 2h0m0 3h0m0-7h0m0 3h0m1 6h0m0-9h0m1 0h0m0 10h0m0-3h0m0 3h0m0 1h0m1-1h0m0 0h0m0-1h0m1-9h0m0 11h0m0-6h0m1 1h0m0-6h0m1 4h0m0-3h0m1 2h0m1 0h0m0 4h0m0-4h0m1 2h0m1 3h0m1-9h0m1 9h0m1-7h0m0 10h0m1-6h0m1 2h0m1-2h0m0 1h0m2 2h0m0-4h0m1 3h0m0-2h0m2 1h0m1 1h0m0 0h0m0 0h0m1 1h0m0-5h0m0 2h0m1 2h0m1 0h0m0-6h0m0 0h0m2 9h0m0-7h0m1-2h0m0 7h0m0 1h0m1-6h0m1 6h0m0-4h0m0 0h0m1 1h0m0 4h0m0-9h0m0 4h0m0-4h0m0 10h0m2-11h0m0 5h0m2 0h0m1-1h0m0-1h0m0 2h0m1 4h0m0 2h0m0-4h0m1-6h0m2 4h0m0 2h0m1 1h0m3-5h0m0 5h0m0-4h0m1-2h0m0 6h0m2 2h0m0-7h0m4 4h0m1-1h0m0 1h0m2-5h0m2 7h0m83-7h0m3 5h0m3 0h0m1-2h0m1 2h0m1-6h0m5 9h0m2-9h0m0 0h0m16 9h0m3-8h0m1 5h0m0-4h0m6 4h0m2 4h0m1-6h0m1 6h0m1-7h0m27-3h0m1 4h0m0 3h0m1-7h0m0 2h0m1 6h0m2 1h0m1-1h0m-541 5h0m0 2h0m0 2h0m1 4h0m0-9h0m0 9h0m2-2h0m1 1h0m0-9h0m1 11h0m1-7h0m0 3h0m0 3h0m0-9h0m0-1h0m1 1h0m0 1h0m0 4h0m1 3h0m0-6h0m1 1h0m0 6h0m1 0h0m0-11h0m0 10h0m0-8h0m1 10h0m1-5h0m0-6h0m1 2h0m2 5h0m1 0h0m1 1h0m0 1h0m1-2h0m1 0h0m2-6h0m0 6h0m1-4h0m0 5h0m1-4h0m1 2h0m0-3h0m0 5h0m1 1h0m0-1h0m1 0h0m1 1h0m0-5h0m0 3h0m0 1h0m3-4h0m0 1h0m1-2h0m2 8h0m0-1h0m3 1h0m6 0h0m2-5h0m8-5h0m11 4h0m245 0h0m1 0h0m1-3h0m1 2h0m0 7h0m0-3h0m0-1h0m1-8h0m0 11h0m1-8h0m0 3h0m0-6h0m1 6h0m0 4h0m1-5h0m0 1h0m0 0h0m0 6h0m1-4h0m1 0h0m0-3h0m1 7h0m0-2h0m0-9h0m0 4h0m1-5h0m0 1h0m0-1h0m0 6h0m0 2h0m1-1h0m1-4h0m0 6h0m0-6h0m0-1h0m0 4h0m1 4h0m0-4h0m0 2h0m0 3h0m0-9h0m1 7h0m1-2h0m0-2h0m0-3h0m2 7h0m0 0h0m1-5h0m0 4h0m0 2h0m1-4h0m0 2h0m0-4h0m1 7h0m0-11h0m0 8h0m1-5h0m0 8h0m1-3h0m0-3h0m0 0h0m0 6h0m1-1h0m0-5h0m2 4h0m0-7h0m2 0h0m0 5h0m1-6h0m1 5h0m0-5h0m1 8h0m0-3h0m1-5h0m2 5h0m2 3h0m1-7h0m0 9h0m0-4h0m1 1h0m0-1h0m0-5h0m0 4h0m2 3h0m1-4h0m0 0h0m1-3h0m0 1h0m1 5h0m1 0h0m0-1h0m2-2h0m0 0h0m1 6h0m1-11h0m1 8h0m1-2h0m1-5h0m0 3h0m1 3h0m1-1h0m0 2h0m0-1h0m1 0h0m1 1h0m0-2h0m2-5h0m1 5h0m2-3h0m0 5h0m2-1h0m2 1h0m0 3h0m1-2h0m0-8h0m0 8h0m1 1h0m0-3h0m1 1h0m0-2h0m1 1h0m1 1h0m2-1h0m1-5h0m0 5h0m82-1h0m2-2h0m2 4h0m1-6h0m1 5h0m1 0h0m3 2h0m0-2h0m5 3h0m0-3h0m2 4h0m1-8h0m5 3h0m6-4h0m0 2h0m1 6h0m3 1h0m0-5h0m1 0h0m4-2h0m0-3h0m1 2h0m0-3h0m3 6h0m2-2h0m1 0h0m2-3h0m8 2h0m21-2h0m1 3h0m3 0h0m1 0h0m-545 13h0m0 0h0m0 3h0m1-4h0m0-4h0m1 0h0m2 1h0m1 0h0m1 3h0m0 7h0m1-8h0m0 1h0m0 4h0m0 0h0m1-7h0m0 2h0m0 5h0m1-2h0m1-4h0m2 3h0m0 0h0m0 1h0m0 3h0m0-6h0m1 4h0m0-1h0m2-3h0m1 7h0m0 0h0m1-9h0m0 9h0m1-10h0m0 6h0m1-6h0m0 1h0m1 10h0m1-3h0m0-3h0m1 2h0m0 3h0m2-9h0m0 10h0m0-11h0m3 12h0m0-1h0m2-1h0m2-3h0m2-2h0m0 6h0m0-11h0m0 10h0m0 1h0m1-4h0m1-5h0m3 10h0m7-4h0m267-8h0m1 1h0m3 5h0m0 3h0m1 1h0m0-7h0m1 8h0m1-1h0m1 0h0m0-4h0m0-1h0m1-2h0m0 4h0m1 0h0m0 4h0m0-2h0m1-7h0m0 6h0m0-7h0m1 1h0m1 5h0m0 0h0m0-4h0m1 7h0m0-1h0m0 2h0m0-10h0m0 3h0m1 6h0m0 1h0m0-8h0m1 3h0m0 4h0m0-1h0m1-3h0m1-1h0m0 6h0m0-2h0m1 0h0m0-7h0m0 0h0m1 1h0m0 6h0m1 2h0m1-4h0m0 0h0m0-2h0m1 3h0m0-5h0m1-1h0m0 1h0m0 5h0m1 3h0m1-11h0m0 4h0m1 8h0m0-3h0m0-5h0m1 4h0m1-3h0m1 4h0m0-2h0m0-1h0m0-1h0m0 0h0m2-1h0m0-1h0m0-1h0m1-2h0m0 0h0m0 1h0m1 10h0m0-9h0m1 4h0m1 4h0m0-6h0m2-1h0m0 7h0m2-9h0m0 3h0m0 2h0m1-6h0m1 3h0m0 8h0m0-8h0m1 6h0m0-2h0m1 0h0m1-2h0m3-3h0m0-2h0m1 7h0m1-4h0m1 3h0m1 2h0m1 4h0m0-5h0m3 3h0m0 1h0m2 1h0m1-7h0m1-2h0m1 7h0m1 0h0m0-6h0m1 2h0m1-2h0m84 2h0m0 1h0m2 2h0m2-4h0m2 2h0m0 2h0m0 0h0m4-1h0m2 1h0m11-4h0m1 0h0m2 1h0m1 2h0m1-6h0m0 3h0m1 5h0m2 1h0m1-2h0m1-9h0m2 4h0m0 6h0m1-4h0m1-5h0m0 10h0m2-4h0m2-3h0m2 2h0m1 0h0m2 1h0m1-4h0m2 8h0m2-9h0m0 0h0m4-1h0m2 4h0m2 6h0m2-8h0m2 3h0m0 2h0m1-1h0m4-4h0m-529 13h0m1-1h0m0 0h0m0 7h0m1-5h0m1 1h0m0-4h0m1 9h0m2 0h0m0-6h0m2 4h0m3-7h0m3 0h0m0 3h0m0 5h0m1-8h0m0 4h0m0 6h0m1-12h0m0 2h0m0-2h0m1 7h0m0 2h0m1 1h0m1-6h0m0 3h0m1-2h0m0 5h0m1-1h0m2 1h0m0 0h0m2-1h0m2 1h0m1 1h0m1-9h0m1 3h0m0-4h0m1 6h0m0 1h0m1-4h0m0 8h0m1 0h0m1-11h0m1 4h0m0 2h0m0-6h0m1 3h0m0 0h0m0 7h0m1-4h0m1-2h0m0 3h0m1 1h0m14-4h0m1 1h0m5 1h0m258-4h0m1 1h0m0 6h0m0-8h0m1 8h0m1 0h0m1-6h0m1 2h0m0-6h0m0 2h0m0 1h0m1 7h0m1-5h0m0 1h0m0-6h0m0 4h0m1-1h0m0 2h0m0 1h0m0 3h0m0-2h0m0-3h0m1 3h0m0 0h0m1-6h0m0 7h0m1-6h0m1-1h0m0 2h0m1 0h0m0-2h0m0 4h0m0 1h0m0 5h0m1-4h0m0 5h0m1-8h0m0 0h0m0 3h0m0 4h0m0-8h0m1 3h0m0-5h0m0 10h0m1 0h0m0-9h0m1 2h0m0-2h0m1 9h0m0-6h0m1-1h0m0 7h0m2-4h0m1-5h0m1 5h0m0 2h0m0-4h0m2 0h0m0 3h0m2-1h0m1 2h0m0 3h0m0-11h0m1 0h0m0 6h0m0-2h0m0 3h0m1 1h0m1-4h0m0-3h0m0 8h0m1-6h0m0 5h0m1-9h0m0 12h0m2-5h0m1 3h0m1-8h0m0 8h0m0-3h0m0-7h0m2 4h0m0 3h0m0 4h0m1-5h0m0-4h0m0 6h0m1-2h0m0 4h0m0-5h0m0 3h0m1 4h0m0-10h0m0 5h0m1-3h0m1 0h0m1-4h0m1 5h0m0 3h0m1 1h0m0-4h0m1 0h0m1 7h0m1-3h0m1-8h0m0 1h0m92-1h0m1 0h0m5 8h0m4-1h0m0-7h0m5 10h0m3-9h0m3 7h0m2 2h0m1-10h0m5 6h0m3 5h0m1-11h0m1 2h0m2 2h0m3 4h0m1-4h0m1-1h0m1 7h0m3 0h0m5-2h0m0-4h0m0 2h0m1-5h0m1 6h0m0-5h0m1-2h0m5 4h0m1 2h0m0-3h0m0 1h0m6 2h0m1-7h0m1 2h0m0-1h0m4 1h0m-533 11h0m2-1h0m0 2h0m1 1h0m2 2h0m2-5h0m0 11h0m0-8h0m1 2h0m0 1h0m1-5h0m1 0h0m0 10h0m0-5h0m1-4h0m2 3h0m1 0h0m1 6h0m1-10h0m0 6h0m0-4h0m0 3h0m0-4h0m1-1h0m1 5h0m2 2h0m0-2h0m0 2h0m0-4h0m0-2h0m2 5h0m0-1h0m2-2h0m1 0h0m0-4h0m0 0h0m1 5h0m0 3h0m0 2h0m0-8h0m1 6h0m1 0h0m0 3h0m1-4h0m0 4h0m1-7h0m1 1h0m1-3h0m1 9h0m0-3h0m1-7h0m2 9h0m3-1h0m2-5h0m0 3h0m1 0h0m0 1h0m2-1h0m1 1h0m0 4h0m17-11h0m257 7h0m0-2h0m1-5h0m1 8h0m0-3h0m1-3h0m1-1h0m2-1h0m0 11h0m0-4h0m1 3h0m1-3h0m0 3h0m0-3h0m1 1h0m1 2h0m0 0h0m0-5h0m0-4h0m1 10h0m0-4h0m1-3h0m0-4h0m1-1h0m0 1h0m1 0h0m1 2h0m0-3h0m0 5h0m0 0h0m0-2h0m0 1h0m0 2h0m1-4h0m0 4h0m1-5h0m1 8h0m0-5h0m1 2h0m0 2h0m1-1h0m1-2h0m2 1h0m0 3h0m0-5h0m1-1h0m0 7h0m3-2h0m1 1h0m0-6h0m0 4h0m0 4h0m2-2h0m0-8h0m1 6h0m1 0h0m2-6h0m0 2h0m3 9h0m1-9h0m1 2h0m0-1h0m1-1h0m2 1h0m3-2h0m1 0h0m57 8h0m6-4h0m2 2h0m0 1h0m0 3h0m1-2h0m1-5h0m0 6h0m0-6h0m1-3h0m0 2h0m0 1h0m0 3h0m2-4h0m0 1h0m1 3h0m0-1h0m0 3h0m0 1h0m0-4h0m0-3h0m1 6h0m0-3h0m1-1h0m1-1h0m5 7h0m20-10h0m1 7h0m0-4h0m2 1h0m4 3h0m0-7h0m2 5h0m0-7h0m1 9h0m0-2h0m2 3h0m0-4h0m1-4h0m0 5h0m1 3h0m0-9h0m3 4h0m1 4h0m2-4h0m1-4h0m3 9h0m6-2h0m1-3h0m5-3h0m1 7h0m0-3h0m2-1h0m3-3h0m1 1h0m1 1h0m3 0h0m0-4h0m2 3h0m0 1h0m5 5h0m0 0h0m3 0h0m0-2h0m3 0h0m2-6h0m1 6h0m0 5h0m8-6h0m1-4h0m5 7h0m-540 8h0m2-3h0m0 1h0m1 7h0m1-4h0m1 1h0m2-2h0m0-4h0m4 6h0m1-5h0m0-2h0m1 2h0m1 0h0m1 10h0m0-1h0m3-4h0m0 1h0m1-1h0m0-7h0m0 11h0m0-11h0m1 4h0m0 2h0m0 5h0m1-2h0m1-8h0m2 2h0m0 6h0m1-3h0m0 4h0m1-8h0m1 8h0m0-7h0m1-2h0m1 9h0m1 0h0m0-1h0m1-5h0m1 5h0m0-9h0m1 6h0m0-4h0m0 6h0m1-7h0m0 0h0m1-1h0m0 1h0m3 9h0m0-7h0m2-1h0m1 2h0m1-2h0m0-1h0m0 7h0m3-3h0m2 5h0m0 0h0m6-8h0m5 1h0m1 0h0m259-1h0m0 6h0m1-3h0m0-5h0m0 10h0m0-7h0m1-3h0m0 11h0m2-6h0m0 1h0m1 2h0m1 2h0m0-9h0m0 11h0m0-7h0m1 5h0m1-2h0m1-4h0m1 4h0m0 2h0m1-3h0m0 3h0m1-1h0m0-8h0m0 9h0m0-6h0m0-1h0m1-3h0m0 3h0m1 1h0m0 2h0m0-2h0m1 3h0m0-5h0m1 3h0m1 1h0m0-5h0m1 3h0m0 4h0m1-3h0m2 7h0m0-11h0m1 10h0m2-3h0m1-2h0m1 2h0m0-5h0m1 5h0m2 1h0m3 2h0m2-10h0m74 0h0m4-1h0m7 2h0m0 1h0m3 1h0m2 3h0m0 3h0m1 0h0m22 1h0m2-7h0m1 6h0m2-2h0m2-2h0m1 2h0m0-8h0m0 6h0m0 5h0m4 0h0m1-2h0m0-8h0m0 2h0m1 5h0m3-2h0m0-1h0m0-2h0m2 6h0m1-4h0m2-1h0m1 4h0m1-6h0m3-2h0m0 9h0m1-7h0m1 1h0m3 1h0m9 2h0m1 3h0m5-7h0m3 1h0m0 8h0m4-8h0m0 3h0m1-4h0m0 7h0m0-5h0m2-2h0m0 10h0m3-10h0m2-1h0m1 5h0m1-3h0m0 8h0m2-7h0m0 1h0m3-4h0m1 4h0m2 6h0m0-9h0m0 2h0m2 3h0m3-3h0m1 6h0m2-9h0m0 0h0m4 0h0m4 0h0m1 1h0m0 10h0m1-5h0m0-3h0m2 4h0m0 2h0m0-3h0m1-1h0m1 1h0m3 1h0m4 2h0m-564 14h0m0-9h0m1 7h0m0 1h0m2-5h0m6 5h0m4-7h0m2 1h0m3-3h0m0 1h0m1 6h0m1 3h0m0-3h0m6 3h0m3-1h0m4-7h0m0 2h0m4-1h0m1-5h0m3 0h0m0 2h0m0 4h0m2 5h0m0-7h0m1 7h0m19-9h0m253 8h0m1-6h0m1 5h0m1-7h0m0 1h0m0-2h0m1 7h0m0-2h0m0 0h0m0-1h0m0 1h0m0 3h0m1-4h0m0-5h0m1 8h0m0-7h0m2 2h0m0-1h0m1 1h0m0 4h0m0-4h0m0 2h0m1 1h0m0-3h0m1 4h0m0 0h0m1 1h0m0-5h0m2-3h0m0 11h0m3-10h0m1 11h0m1-5h0m0 4h0m0-7h0m4-3h0m0 4h0m4 3h0m1-7h0m0 7h0m3-2h0m0 0h0m1 1h0m1 2h0m0 0h0m0-4h0m1 6h0m1-8h0m0 4h0m96-2h0m1 4h0m1-3h0m2 4h0m14-9h0m3 4h0m0-3h0m1 6h0m1-6h0m0 6h0m4-1h0m9 3h0m3-4h0m3 3h0m1-4h0m1 2h0m2-6h0m2 7h0m1 0h0m0-6h0m3 3h0m1 3h0m1 3h0m0-7h0m0 7h0m1 1h0m0-7h0m3 4h0m5-1h0m1-5h0m0 6h0m3-3h0m0 1h0m0-6h0m1 2h0m0 8h0m2-1h0m5 1h0m2-8h0m0 6h0m1-5h0m4-1h0m1 7h0m1-5h0m2-1h0m3-3h0m0 4h0m1 0h0m1 6h0m3-4h0m1-1h0m0-4h0m1 4h0m0 3h0m2 0h0m4-1h0m3-6h0m7 1h0m1 8h0m1-8h0m2-1h0m0 7h0m1-3h0m1 0h0m4 6h0m3-5h0m0 0h0m1 0h0m1 5h0m0-5h0m1 2h0m0-3h0m0-1h0m1 6h0m2-8h0m0-1h0m0 9h0m2 1h0m0-7h0m4-3h0m1 6h0m0 1h0m0-5h0m2 7h0m0-8h0m3 2h0m0-1h0m1 7h0m3-1h0m1 0h0m0-2h0m2 3h0m1-1h0m0-3h0m1-2h0m0 5h0m1-3h0m0-3h0m2 2h0m0-2h0m0 0h0m1 3h0m-600 8h0m2 6h0m4-9h0m1 11h0m0-5h0m1-6h0m3 10h0m0-3h0m1 4h0m1-2h0m0-4h0m1 6h0m1-3h0m2-4h0m0 2h0m0-2h0m1 7h0m1-4h0m0 2h0m0-2h0m3 1h0m1-7h0m0 11h0m1-8h0m1 7h0m0-10h0m1 1h0m4 4h0m3 3h0m3 0h0m3-5h0m1 5h0m2-3h0m1 5h0m3-9h0m2 7h0m0 3h0m267-5h0m1 1h0m0 3h0m1-5h0m0-4h0m1 10h0m1-2h0m0 0h0m1-3h0m0 2h0m1 1h0m1 0h0m1-5h0m0-4h0m2 8h0m1-3h0m1 3h0m0 1h0m0-5h0m1 4h0m1 0h0m1-9h0m2 9h0m2-5h0m1 1h0m0-3h0m2 10h0m0-6h0m6-5h0m1 6h0m1 0h0m1-5h0m1 3h0m9 5h0m1 0h0m4-1h0m1 3h0m0-7h0m0 6h0m1-1h0m0 2h0m2-1h0m4 0h0m2-4h0m0 1h0m2-1h0m0 1h0m1-3h0m2 4h0m2-5h0m3 5h0m0-4h0m2 2h0m1 4h0m2-4h0m1 0h0m0 1h0m1-2h0m0 4h0m1 1h0m0-2h0m5 1h0m0 1h0m2 1h0m1 0h0m52-9h0m0 0h0m3 0h0m2 2h0m1 3h0m0-2h0m1 2h0m12-4h0m1-2h0m1 0h0m2-2h0m3 12h0m1-8h0m0 3h0m0 1h0m2-2h0m1-2h0m3 0h0m1-1h0m0 9h0m1-9h0m1 8h0m3-5h0m2 3h0m0-7h0m1 0h0m2-1h0m1 8h0m3-6h0m3 6h0m6-4h0m3 2h0m4-3h0m4 3h0m0 4h0m1-6h0m0 3h0m2-4h0m1-2h0m3 9h0m1-3h0m0-4h0m0 7h0m1 1h0m2-1h0m1-4h0m0 2h0m0 0h0m0 0h0m0 1h0m0-5h0m1-3h0m0 8h0m0-8h0m2 5h0m1 2h0m0-1h0m1-5h0m2 3h0m1 5h0m2-3h0m1-8h0m1 10h0m1 1h0m0-6h0m0 1h0m2 4h0m0-10h0m0 8h0m0 4h0m0-5h0m1 1h0m0-4h0m1 0h0m1 6h0m0 2h0m0-6h0m0-1h0m2-4h0m0 6h0m0 5h0m1-11h0m0 1h0m0 10h0m1-9h0m0 4h0m1-4h0m0 7h0m1-4h0m1-4h0m1 0h0m0 6h0m1 2h0m1-2h0m2-5h0m0-2h0m1 10h0m0-6h0m2 4h0m1-6h0m0-1h0m0 1h0m3 4h0m1-3h0m0-2h0m0 7h0m1-3h0m0 0h0m1 3h0m1-7h0m0 1h0m1 3h0m2 0h0m1-4h0m0 5h0m1 1h0m0-6h0m1 4h0m1 6h0m1-2h0m1-3h0m1 0h0m0-4h0m1 7h0m0-3h0m1-3h0m3 0h0m0 3h0m0-2h0m1 3h0m0 0h0m0-6h0m1 4h0m1 3h0m0 3h0m1-10h0m2 10h0m0-7h0m0-1h0m1-2h0m0 0h0m0 8h0m1-7h0m0 9h0m0-11h0m0 9h0m1 1h0m2-3h0m1 3h0m1 1h0m1-7h0m1 0h0m0-3h0m0-1h0m1 11h0m1-9h0m0 2h0m1-2h0m0 5h0m0-6h0m0 2h0m3 2h0m0-6h0m1 10h0m1-3h0m0 2h0m0 0h0m2 2h0m1-2h0m1-4h0m1 5h0m3-1h0m-610 11h0m1-5h0m0 2h0m1 7h0m1-9h0m1 1h0m2 3h0m4-3h0m1 0h0m0 4h0m1-5h0m1 6h0m0-8h0m2 9h0m0 1h0m1-5h0m1-6h0m2 7h0m1-1h0m2 0h0m4-2h0m1 2h0m0 6h0m1-7h0m3 1h0m1 4h0m3-10h0m0 5h0m3-4h0m0 6h0m0 2h0m1-7h0m0 3h0m1 1h0m1 5h0m0-8h0m0 8h0m2-9h0m2 9h0m0 0h0m0-8h0m2 8h0m263-5h0m0 0h0m0-4h0m1 7h0m1 0h0m0-2h0m0 1h0m1-3h0m0 2h0m1-2h0m0 1h0m0-3h0m0 2h0m1-1h0m0-1h0m1 0h0m1-1h0m1-1h0m0 5h0m3-1h0m1 4h0m0-5h0m0 6h0m0-4h0m1-2h0m3 3h0m2 2h0m0-4h0m1 2h0m3-2h0m0 4h0m1-2h0m0 0h0m0-7h0m1 9h0m3-4h0m1 2h0m3-6h0m1 8h0m1 2h0m1 1h0m2 0h0m0-7h0m1-2h0m0 4h0m1-5h0m1 8h0m0 1h0m3 0h0m1-2h0m2 1h0m1-4h0m2 3h0m1-3h0m0-5h0m1 3h0m0 1h0m0 6h0m1-10h0m0 1h0m1 0h0m1 2h0m1 1h0m0-4h0m2 10h0m1-5h0m0 6h0m0-10h0m0 0h0m2 0h0m1-1h0m0 4h0m0-4h0m0 11h0m1-11h0m0 4h0m1-1h0m1 5h0m1 2h0m0-9h0m0 8h0m2-5h0m1-2h0m0 1h0m3 4h0m0-4h0m0-4h0m0 4h0m0 3h0m1 4h0m0-2h0m3-3h0m1-1h0m0-2h0m1 7h0m0 0h0m1-9h0m0 4h0m3 6h0m3-2h0m0 0h0m1-8h0m0 10h0m1-10h0m1 2h0m1 6h0m0 0h0m0 1h0m1-1h0m0-6h0m1 7h0m1-4h0m2 3h0m5 2h0m55-9h0m2 3h0m6 3h0m1-5h0m2-1h0m1 0h0m3 2h0m2 1h0m2-1h0m1 8h0m1 0h0m1-1h0m0-10h0m0 7h0m3-1h0m0 0h0m1-1h0m2 0h0m0 4h0m1 1h0m1-9h0m1 8h0m0-2h0m1-3h0m0 5h0m2-7h0m1 4h0m0-4h0m0 6h0m0-1h0m1-4h0m1 7h0m1-3h0m1-2h0m0-4h0m2 0h0m0 4h0m1 1h0m1-5h0m0-2h0m0 7h0m2 4h0m0 0h0m0-2h0m0 1h0m1-3h0m1 5h0m1 0h0m0-4h0m1-1h0m0 4h0m1-1h0m1 1h0m0-6h0m0 6h0m0-4h0m0-5h0m3 2h0m0 3h0m0 1h0m0-4h0m2 7h0m1-2h0m1-4h0m1 6h0m1 0h0m0-8h0m0 2h0m1 6h0m0-11h0m0 11h0m1-4h0m0 2h0m1-1h0m1 0h0m1-4h0m0 6h0m1-6h0m1 3h0m0-5h0m0 5h0m1 3h0m0-4h0m1-5h0m1 0h0m2 5h0m0-3h0m0 1h0m1-4h0m2 3h0m0 9h0m3-7h0m1-1h0m0 1h0m0 5h0m0-9h0m1 3h0m0 3h0m0-1h0m0 2h0m1 1h0m1 1h0m1-8h0m1-1h0m3 3h0m0 1h0m0 5h0m1-8h0m1 10h0m0-5h0m1-3h0m0 0h0m0 1h0m0 3h0m1 1h0m0-2h0m0 2h0m1 2h0m0-6h0m0 5h0m0-9h0m1 3h0m1 7h0m0-1h0m0-2h0m0 3h0m1-5h0m1-2h0m0-2h0m1 4h0m2 0h0m0-4h0m0-1h0m0 10h0m1-5h0m1-3h0m0 4h0m1 1h0m1-7h0m1 9h0m0 2h0m0-1h0m0-4h0m2-3h0m2 4h0m1 0h0m0 0h0m0 0h0m0 0h0m1 2h0m0-4h0m0 2h0m1 3h0m0-5h0m3 2h0m1 3h0m1-7h0m1 2h0m0-1h0m1 1h0m1 1h0m0 0h0m0-2h0m1-2h0m0 8h0m0-5h0m1-1h0m1 4h0m0-1h0m0 1h0m2-9h0m0 11h0m1-1h0m0 0h0m0-8h0m0 8h0m0-2h0m2-2h0m1-5h0m0 0h0m0 4h0m1-3h0m0 6h0m1 4h0m0-5h0m0-5h0m1 9h0m0-11h0m1 10h0m0-1h0m1-2h0m0 4h0m1-3h0m1-3h0m0-3h0m0 7h0m0 3h0m1-11h0m1 0h0m0 3h0m1-1h0m1 0h0m0-3h0m1 9h0m1-4h0m1 3h0m0-3h0m1-2h0m0 3h0m1-4h0m0 9h0m0-5h0m1 0h0m2-3h0m1 6h0m0-5h0m0 8h0m1-9h0m0 5h0m1 0h0m0 1h0m0 1h0m1 0h0m0-5h0m-609 10h0m1 0h0m3 0h0m1-2h0m1 4h0m0 5h0m1-5h0m1 6h0m2-4h0m1-4h0m3 7h0m2 0h0m0 1h0m0-8h0m0 6h0m0-6h0m1 8h0m2-3h0m2 1h0m2 2h0m1-11h0m0 1h0m1 2h0m0 1h0m5 7h0m1-4h0m1 3h0m5-9h0m3 3h0m1 1h0m0 0h0m0 4h0m4-6h0m209 2h0m2-2h0m1 3h0m0 0h0m2 5h0m1-7h0m2-2h0m1 4h0m3-2h0m3 3h0m1-1h0m2 1h0m0 2h0m18 2h0m12 0h0m3-8h0m0 4h0m2-1h0m0 5h0m2 1h0m1-6h0m0 1h0m1 4h0m1-3h0m1-6h0m0 3h0m3 5h0m1-3h0m0-1h0m0 4h0m0-3h0m1 1h0m1 2h0m0-9h0m0 1h0m1 9h0m2-4h0m1-3h0m1 3h0m0 2h0m0-8h0m0 1h0m1 4h0m0 2h0m1-5h0m0 6h0m1 1h0m0-7h0m1 1h0m0-3h0m1 3h0m2-3h0m0 8h0m1-4h0m1 6h0m1-3h0m0 3h0m1-4h0m0 1h0m2-4h0m1 1h0m1 3h0m0-2h0m0-2h0m1 2h0m1-3h0m1 8h0m0-9h0m0 6h0m1 0h0m1-3h0m0 7h0m0-7h0m1 1h0m0 3h0m1-4h0m0 2h0m1-2h0m0 5h0m0-5h0m1-1h0m1-3h0m0 11h0m0-1h0m0-4h0m0-4h0m0 9h0m0-4h0m0-5h0m1 2h0m0 5h0m0-7h0m0 7h0m2-8h0m0 10h0m1-6h0m1-3h0m0 0h0m0 6h0m0 0h0m1-6h0m0-1h0m0 1h0m1 7h0m0-2h0m2 0h0m0-7h0m0 9h0m2-1h0m0-3h0m2 4h0m1-7h0m0 1h0m1 4h0m1-7h0m0 2h0m0 0h0m0-1h0m1 3h0m1 7h0m1-5h0m0 4h0m1 1h0m0-6h0m1 3h0m0-3h0m1-3h0m0 1h0m0 0h0m0 2h0m0-5h0m0 3h0m1-2h0m0-1h0m2 6h0m0-3h0m1 0h0m1 2h0m1-4h0m1 6h0m2 1h0m0 2h0m0-10h0m0 9h0m1-9h0m0 7h0m1-1h0m1-4h0m0 8h0m2-11h0m0 1h0m2 2h0m1 2h0m1 5h0m0-5h0m1 4h0m0-1h0m1-1h0m0 3h0m0-9h0m1 0h0m1 11h0m1-8h0m0 2h0m0 0h0m1 3h0m0-2h0m0-7h0m1 11h0m0-8h0m0-2h0m0 5h0m0 2h0m1-7h0m1 7h0m0 4h0m1-2h0m0-1h0m0-3h0m2-3h0m1 6h0m0-2h0m0-7h0m1 11h0m1-4h0m0-2h0m0-5h0m1 9h0m2 2h0m0-2h0m6-1h0m51 4h0m0-2h0m0-4h0m2-4h0m1 6h0m1-3h0m5 4h0m0-8h0m1 7h0m2-4h0m2-4h0m1 5h0m0 3h0m0-3h0m2-1h0m0 7h0m1-6h0m0-3h0m0 9h0m2-4h0m0 3h0m1-4h0m1-3h0m0 8h0m3-11h0m0 9h0m0 2h0m0-3h0m1-2h0m1-1h0m1 4h0m0 2h0m0-6h0m1-3h0m1 2h0m0-3h0m1 2h0m0 1h0m0 1h0m1 1h0m1 0h0m1 5h0m2-8h0m0 8h0m0 1h0m1-10h0m0-1h0m0 10h0m1-8h0m1 8h0m0-8h0m1 2h0m1 5h0m0-5h0m1-2h0m0 1h0m0 4h0m1-2h0m0 3h0m2 2h0m1-9h0m0 7h0m1 0h0m0-3h0m1 3h0m0-7h0m1 5h0m0-1h0m0 5h0m1-3h0m2 2h0m0-4h0m1-1h0m1-1h0m1-1h0m0 7h0m0 0h0m1-8h0m0 0h0m1 8h0m0-4h0m2 0h0m1 2h0m0 3h0m0-10h0m0 4h0m1-2h0m1-2h0m0 6h0m1-2h0m2 4h0m0-9h0m1 6h0m0 5h0m0-10h0m1 10h0m0-4h0m0-3h0m1 5h0m0-8h0m1 4h0m0-2h0m0 2h0m1 1h0m0-5h0m0 9h0m1-5h0m0-4h0m0 5h0m0 1h0m1-2h0m0 2h0m0-3h0m0 0h0m1 4h0m1-5h0m0-2h0m0 1h0m2 7h0m0-8h0m1 9h0m0-6h0m0 7h0m0-8h0m0 5h0m0-2h0m2 1h0m1-2h0m0 5h0m0 0h0m1-7h0m0-2h0m1 11h0m0-9h0m1-1h0m1 9h0m1-10h0m0 9h0m1-2h0m0 3h0m2-3h0m1 2h0m1-3h0m1 5h0m1-9h0m0-2h0m1 6h0m0-5h0m0 9h0m1-3h0m0-6h0m0 2h0m1 0h0m0 4h0m2 2h0m1-4h0m0 3h0m0-3h0m1-5h0m0 3h0m2-4h0m0 6h0m1-1h0m0-2h0m0-2h0m2 7h0m3-3h0m1 2h0m0-6h0m0 2h0m2 9h0m0-11h0m0 10h0m0-4h0m0 4h0m1 0h0m0-2h0m0-3h0m1-5h0m0 10h0m1-7h0m1 4h0m0-1h0m1-7h0m1 11h0m0 0h0m1-6h0m0 4h0m0-5h0m1 3h0m0 5h0m2-10h0m0-2h0m1 9h0m1-6h0m0 0h0m1 9h0m1-11h0m1 9h0m1-2h0m1 2h0m0 1h0m2-1h0m1-1h0m0-2h0m1 0h0m0 0h0m1 3h0m1-4h0m0 2h0m1 1h0m1-9h0m0 9h0m2-6h0m0 0h0m0 4h0m0-4h0m1 4h0m0 1h0m0 3h0m1-7h0m1-4h0m3 7h0m1 1h0m1 1h0m1-8h0m1 0h0m0 1h0m0 4h0m0-3h0m2 3h0m1 2h0m-597 9h0m2 0h0m0-1h0m0 2h0m4 2h0m0-2h0m1 6h0m4 0h0m2-11h0m2-1h0m2 2h0m1 3h0m0-3h0m1 7h0m0-5h0m5 0h0m1 7h0m2-10h0m1 0h0m214-1h0m3 2h0m5 2h0m3-3h0m0 3h0m1 0h0m1 2h0m0-3h0m1 0h0m0-2h0m1 3h0m0 0h0m0 3h0m1-4h0m3 1h0m2 1h0m1-2h0m1 4h0m2 3h0m3-10h0m1 9h0m2-8h0m0 10h0m0-7h0m4 6h0m0-1h0m0-4h0m2-1h0m1-1h0m1-1h0m1-1h0m0 10h0m2-10h0m0 1h0m4-1h0m1 8h0m2-1h0m0 3h0m0 0h0m0-2h0m0-5h0m1-1h0m1 9h0m1-1h0m3-3h0m1-7h0m2 8h0m0 1h0m1-5h0m0 4h0m0 3h0m1-8h0m1 7h0m0-3h0m1 3h0m1-9h0m1 0h0m1-2h0m1 11h0m2-6h0m1-1h0m1-1h0m1 7h0m0-8h0m0 0h0m1 7h0m2-4h0m0 7h0m0-11h0m2 8h0m1 2h0m1-7h0m2 4h0m1 2h0m0 1h0m0-7h0m0 7h0m1-8h0m0 7h0m0-6h0m0 5h0m1-8h0m0 8h0m0-7h0m3-1h0m1 0h0m1 5h0m0 6h0m1-6h0m0-1h0m0-3h0m1 10h0m0-12h0m0 1h0m1 0h0m0 2h0m1 1h0m0 7h0m0-8h0m0 9h0m1-3h0m0-1h0m0-4h0m0 2h0m1 0h0m4 4h0m5 0h0m0 1h0m1-8h0m1 5h0m1 2h0m0-4h0m0-6h0m0 8h0m1-2h0m0 2h0m3-3h0m0 1h0m0-4h0m0 5h0m0 3h0m0-3h0m1-4h0m0-2h0m0 1h0m1 1h0m0-2h0m1 8h0m0-8h0m3 6h0m1-1h0m0-3h0m1 4h0m0-1h0m0 1h0m0-4h0m1 7h0m0 2h0m0-6h0m0-2h0m1 6h0m0-2h0m1-6h0m0 10h0m0-3h0m1 3h0m1-6h0m0 4h0m0-9h0m1 5h0m0 2h0m4-1h0m0-5h0m1 0h0m1-1h0m1 6h0m1 4h0m0-6h0m1 0h0m2 2h0m1 2h0m0-2h0m1-5h0m1-2h0m0 8h0m1-5h0m3 6h0m0-2h0m1-2h0m0 2h0m1 2h0m0-8h0m1 6h0m1 1h0m0 0h0m3-2h0m0-4h0m2 8h0m1-7h0m0-2h0m0 4h0m1 4h0m2-6h0m1 6h0m2-2h0m1 5h0m46-12h0m8 3h0m1-1h0m0 3h0m2-4h0m1 10h0m1-3h0m1 1h0m1-4h0m1 3h0m2-2h0m2-1h0m0-3h0m0 3h0m2-2h0m2 1h0m0 8h0m0-2h0m1 0h0m1-10h0m0 1h0m2 11h0m0-9h0m1 7h0m0-7h0m2 3h0m0-3h0m0 8h0m1-9h0m1-1h0m0 4h0m0 5h0m1-5h0m1 5h0m0-1h0m1-3h0m0 2h0m2-6h0m1 0h0m2 1h0m0 6h0m1-8h0m1 5h0m0-5h0m2 9h0m2-1h0m2-1h0m0-7h0m0-1h0m1 7h0m1 2h0m0-8h0m2 11h0m1-10h0m1 5h0m0-6h0m1 7h0m0-4h0m0-4h0m0 1h0m0 6h0m1-6h0m0 4h0m0-4h0m1 8h0m1-6h0m0 6h0m1-6h0m1-2h0m1 1h0m0 9h0m2-3h0m1-6h0m1-1h0m0 11h0m1-9h0m0 1h0m0-1h0m2 4h0m0 3h0m0-5h0m1-1h0m0 5h0m1-8h0m3 4h0m1-1h0m0 7h0m0-6h0m1 5h0m0-9h0m0 1h0m1 2h0m0-3h0m1 7h0m0 0h0m1 3h0m0 0h0m1-3h0m1 2h0m1-7h0m0 3h0m2-3h0m1 4h0m1-3h0m0-3h0m3 1h0m1 3h0m0-2h0m1 4h0m0 1h0m2 1h0m0-5h0m1 3h0m0-3h0m1 4h0m0-2h0m0 2h0m1-3h0m0 6h0m1-5h0m0 2h0m1-1h0m1-5h0m2 9h0m0-3h0m1 2h0m0 0h0m0-4h0m0 3h0m1 0h0m1 1h0m0-7h0m0 3h0m1-5h0m0-1h0m2 9h0m0-3h0m2-3h0m0-3h0m0 3h0m2 3h0m0 5h0m1-2h0m0-6h0m1 2h0m0 6h0m0-2h0m0 0h0m1-8h0m0 8h0m1-7h0m2 5h0m0 4h0m0-8h0m0 5h0m1 3h0m0 0h0m3-8h0m2 6h0m1-3h0m0-4h0m0 9h0m1-7h0m0 3h0m1 3h0m0-5h0m1 5h0m2 0h0m1 1h0m2 0h0m0 1h0m0-6h0m0 2h0m0-8h0m1 10h0m1-1h0m1-6h0m2 6h0m1 3h0m1-1h0m1-10h0m0 1h0m2 5h0m2-1h0m1 2h0m0 0h0m-577 5h0m2 2h0m4 0h0m5-2h0m0 1h0m253-1h0m1 0h0m2 0h0m1 4h0m8 1h0m4-2h0m1 1h0m1-3h0m3 0h0m0 3h0m0-3h0m0 5h0m0-2h0m1 3h0m0-4h0m0 4h0m0-8h0m1 2h0m0 8h0m0 1h0m0-1h0m1-3h0m0-7h0m0 0h0m1 2h0m2 3h0m0 4h0m2 0h0m0-3h0m1-5h0m0 6h0m1-4h0m0 6h0m0-8h0m2 8h0m0-4h0m1 3h0m0 3h0m1-9h0m1-2h0m0 2h0m0 3h0m1 2h0m0-3h0m0-1h0m0 8h0m3-4h0m0 1h0m0-1h0m1 5h0m0-11h0m0 8h0m2 0h0m0-4h0m0 2h0m3-5h0m0 0h0m0 4h0m0-5h0m2 10h0m1-7h0m1-2h0m1 4h0m2 1h0m3-4h0m0 0h0m0 5h0m1-2h0m1-6h0m0 10h0m0 0h0m0-8h0m0 5h0m1-1h0m0 0h0m1 3h0m0-1h0m1 1h0m0-5h0m0 6h0m0-3h0m1 3h0m2-8h0m1 3h0m1-1h0m0 0h0m0 4h0m1-3h0m1-4h0m2 0h0m0 9h0m1 2h0m1-4h0m0 1h0m1 2h0m1-11h0m0 2h0m0 3h0m1 4h0m2-8h0m0 10h0m0 1h0m1-7h0m1-1h0m1-4h0m0 9h0m1-1h0m0-3h0m1-4h0m1 6h0m1-4h0m0 1h0m0 7h0m1-3h0m1 2h0m0-9h0m1 7h0m0 1h0m1 0h0m1 2h0m0-6h0m2 0h0m1 5h0m1-4h0m0 3h0m0-3h0m1 1h0m1-3h0m1-3h0m2 9h0m1-1h0m0 0h0m2-4h0m0 0h0m0 5h0m1-10h0m0 6h0m1-3h0m0-2h0m0 2h0m1 6h0m0 3h0m0-4h0m0 0h0m1-3h0m2 3h0m0 2h0m2-5h0m1 5h0m0-2h0m0 0h0m1-6h0m0 4h0m1-4h0m0 6h0m0 3h0m1-9h0m0 10h0m0-12h0m1 4h0m1-1h0m0 3h0m0 1h0m0 5h0m1-6h0m0 4h0m1-9h0m4 0h0m0 5h0m1 1h0m0-5h0m1 0h0m0 5h0m1-1h0m5-3h0m0-2h0m0 8h0m3 1h0m1 2h0m2-2h0m3 1h0m9 0h0m5 1h0m0-2h0m1-4h0m2 6h0m1-3h0m2-5h0m0 7h0m5-5h0m0 6h0m4 0h0m5-10h0m1 1h0m1 0h0m0 0h0m0-1h0m1 5h0m4 3h0m1-3h0m1-1h0m1 5h0m1-8h0m0 0h0m0 4h0m4 1h0m1 1h0m2 0h0m0-3h0m0 2h0m4-5h0m0 1h0m0-4h0m1 0h0m0 9h0m3 0h0m0-1h0m1-7h0m0 4h0m0 5h0m1-4h0m1-4h0m1 8h0m0 0h0m0-1h0m1 3h0m0-11h0m0 10h0m1-1h0m0-2h0m0-3h0m1 1h0m1-1h0m1 3h0m0 1h0m1-3h0m0 6h0m0-10h0m1 7h0m0-3h0m1 5h0m2-10h0m1 9h0m1-7h0m0 0h0m0 9h0m0-8h0m1 0h0m0 2h0m2 4h0m2-3h0m1-6h0m0 0h0m0 9h0m0-2h0m1-6h0m1 9h0m0-6h0m0-1h0m0 6h0m1-1h0m0-5h0m1 7h0m0-7h0m1 0h0m0 5h0m0-6h0m0 5h0m2 3h0m0-10h0m0 7h0m1-6h0m1-1h0m0-1h0m2 0h0m1 2h0m2 8h0m0-1h0m1-1h0m0 1h0m1-1h0m0-8h0m0 7h0m0 0h0m1 1h0m0-7h0m1 2h0m0 6h0m0-9h0m0 6h0m1-3h0m0-2h0m0 1h0m1-1h0m0 2h0m4 7h0m0-5h0m1 0h0m0 2h0m0-6h0m1 5h0m0-2h0m1 0h0m0-3h0m0 4h0m0 2h0m1 0h0m0 0h0m1-6h0m0 6h0m1 4h0m0-1h0m4-2h0m0 1h0m1-5h0m2 2h0m1 3h0m1 0h0m1 2h0m1-6h0m0 2h0m0-5h0m1-1h0m1 10h0m0-9h0m0 8h0m0-8h0m1 7h0m1-3h0m0 1h0m1-7h0m1 1h0m1 9h0m0 2h0m1-8h0m0-2h0m0 0h0m1 8h0m0-1h0m0 0h0m0 2h0m1-3h0m1-4h0m1 7h0m0-10h0m1 4h0m0-1h0m1-2h0m1 5h0m0-3h0m1 3h0m2 2h0m0-4h0m1-3h0m0 3h0m1 4h0m0 3h0m3-9h0m0 3h0m2 1h0m0-7h0m0 8h0m1 1h0m0-8h0m1 8h0m0 0h0m1-1h0m0-6h0m3 6h0m1-5h0m0-3h0m1 8h0m1-7h0m1 5h0m1 2h0m1-3h0m1-3h0m0 10h0m3-3h0m0 2h0m1-9h0m1 1h0m0 2h0m0 0h0m0-3h0m1 0h0m0 1h0m1 2h0m1-4h0m0 6h0m0 0h0m1 3h0m1-7h0m0 0h0m5-3h0m-297 13h0m1 0h0m1 11h0m2-4h0m1 0h0m0-7h0m1 0h0m1 1h0m1 0h0m1 3h0m0 0h0m1-1h0m1 4h0m0 1h0m0-3h0m1 4h0m1 0h0m0-8h0m0 3h0m0 6h0m1-5h0m0 3h0m2 3h0m0 0h0m0-2h0m1 1h0m1-3h0m1 4h0m0-9h0m1 6h0m1-3h0m0-2h0m0 3h0m0-2h0m0-2h0m1 0h0m1 4h0m1 0h0m2-5h0m1 0h0m0-2h0m0 8h0m1-6h0m0 3h0m1 7h0m1-6h0m0 0h0m1-2h0m2-2h0m0 5h0m1-4h0m0 6h0m1 3h0m0-11h0m0 10h0m0-7h0m0 6h0m0-8h0m1 5h0m0-3h0m2-4h0m1 8h0m0-7h0m1 7h0m1-5h0m0 5h0m1 3h0m0-6h0m1 0h0m2-4h0m0 11h0m1-2h0m0-7h0m4 2h0m0 7h0m1 0h0m0-2h0m3 1h0m0 1h0m0-4h0m0-6h0m0 2h0m0-3h0m1 1h0m0-2h0m3 7h0m3 0h0m0-7h0m1 11h0m0-6h0m1 2h0m0-5h0m0-1h0m0 6h0m1-3h0m0 6h0m0-4h0m0-2h0m2-3h0m0 7h0m3-6h0m0 1h0m1 8h0m0-8h0m0 5h0m0-7h0m1 0h0m0 4h0m1 5h0m3-4h0m0 4h0m0-4h0m0-5h0m1 1h0m1 6h0m0 2h0m0-2h0m1-1h0m0 5h0m0-5h0m0 4h0m1 0h0m1-2h0m1-8h0m0 8h0m1-9h0m2 10h0m0-3h0m0-3h0m2 0h0m0 0h0m0 6h0m1-5h0m0-1h0m1 7h0m1-4h0m2-5h0m0 5h0m1 3h0m0-10h0m3 11h0m0-4h0m0-3h0m0 3h0m2-4h0m1 1h0m0 4h0m1-6h0m0 5h0m1-5h0m1 7h0m2-8h0m0 10h0m0-4h0m1-1h0m0 4h0m0-6h0m0 1h0m1-3h0m0-2h0m0 6h0m1 1h0m0-5h0m1 6h0m1 3h0m1-5h0m0 0h0m0 5h0m1-8h0m0-3h0m0 8h0m1 0h0m0-2h0m1 3h0m2-3h0m0 5h0m1-7h0m0 2h0m2 4h0m0 0h0m0-7h0m1 5h0m0-3h0m1 4h0m0-1h0m1-1h0m0-1h0m1-2h0m1 6h0m2-9h0m0 6h0m2 3h0m1-8h0m2 6h0m0-2h0m0-5h0m2 11h0m2-5h0m0-2h0m0-2h0m1 0h0m1-3h0m2 3h0m5 5h0m0-2h0m5-5h0m1 4h0m0 3h0m0-7h0m1 5h0m1 1h0m0 2h0m3-5h0m2 2h0m1 4h0m1-5h0m1 5h0m2-4h0m2-2h0m2-1h0m4 4h0m1 4h0m1-7h0m0 3h0m1-6h0m2 7h0m1-7h0m2 6h0m0-6h0m1 2h0m1 0h0m1 3h0m1-5h0m2 4h0m0-3h0m1 2h0m1 7h0m1-6h0m0-4h0m0 2h0m1 0h0m1-1h0m1-1h0m0 6h0m0 1h0m1 0h0m1 2h0m0 1h0m0-4h0m1-1h0m0-4h0m1-2h0m1 10h0m1-7h0m0 4h0m1 5h0m0-10h0m2-2h0m1 9h0m1-2h0m2-6h0m0 3h0m1-3h0m0 0h0m1 7h0m2-8h0m1 9h0m1-9h0m1 7h0m0 5h0m1-9h0m0 8h0m0-3h0m1-2h0m1 2h0m0-4h0m0 2h0m0 5h0m0-1h0m0-3h0m1-2h0m1-5h0m0 12h0m1-5h0m1-2h0m1-5h0m0 11h0m0 0h0m1-8h0m0 9h0m0-10h0m1 7h0m0 1h0m0 2h0m0-5h0m1 3h0m0 0h0m0-6h0m0-3h0m2 1h0m0 8h0m2-1h0m1-1h0m0-7h0m0 10h0m1 0h0m0-4h0m1 3h0m0-7h0m0 4h0m1-2h0m1 3h0m0-8h0m0 5h0m0 3h0m0-2h0m2 2h0m0-2h0m1 5h0m0-5h0m1-1h0m1-1h0m0 6h0m0-7h0m2-3h0m0 11h0m1-6h0m1-1h0m0 6h0m1-8h0m0 7h0m1-2h0m0 0h0m2-6h0m2 8h0m1 1h0m1-8h0m0 2h0m0-1h0m3 2h0m0 6h0m2-11h0m0 12h0m0 0h0m1-4h0m1 1h0m1-3h0m0-4h0m1 4h0m0-4h0m1 0h0m2 6h0m1 3h0m0-7h0m0 7h0m0-2h0m0 2h0m1-5h0m0-3h0m1 8h0m1 0h0m0-8h0m1 7h0m0-10h0m0 12h0m0-9h0m1 5h0m1-6h0m0 5h0m0-3h0m1 3h0m1-7h0m0 2h0m0 1h0m2 7h0m0-9h0m1 11h0m0-3h0m0 1h0m1-9h0m1 6h0m0 3h0m2-9h0m0 7h0m1-1h0m1 2h0m0-3h0m0-1h0m0-5h0m1 2h0m0-1h0m1 8h0m0-7h0m1 6h0m1-3h0m0-3h0m0 6h0m2 2h0m1-7h0m2 3h0m4-5h0m-285 18h0m2-6h0m0 7h0m0-2h0m2 3h0m1 0h0m0-6h0m0 7h0m1-5h0m0 0h0m0 4h0m1-9h0m0 6h0m0-3h0m3 6h0m0-1h0m1 1h0m0 0h0m1-2h0m1-4h0m2-2h0m0 5h0m1 5h0m1-6h0m0 0h0m0 2h0m0 5h0m1-11h0m2 9h0m1 1h0m1-1h0m2-2h0m0-2h0m0-2h0m0-1h0m1 6h0m0 0h0m0 0h0m1-5h0m1 5h0m0-1h0m1-5h0m0-3h0m1 9h0m0-5h0m0 3h0m0 3h0m2-7h0m0 7h0m1-10h0m1 12h0m2-8h0m1-1h0m0 0h0m1 9h0m1-6h0m0-2h0m1 4h0m0-6h0m0-1h0m1 2h0m0 8h0m0-3h0m1-5h0m0-2h0m1 8h0m0-5h0m2 5h0m0 1h0m1 1h0m0-1h0m1-8h0m2 10h0m0-4h0m1-6h0m0 9h0m0-2h0m1-8h0m0 2h0m1 2h0m1 2h0m1 5h0m0-6h0m0-3h0m2 4h0m0 0h0m1-4h0m2 6h0m0-7h0m1 3h0m0-1h0m1-4h0m0 7h0m0 3h0m0-3h0m1-2h0m1-1h0m0 2h0m1 1h0m1 4h0m0-10h0m0 6h0m1-1h0m1-5h0m0 4h0m0 4h0m1 3h0m0-8h0m1 3h0m0 2h0m0-1h0m0-5h0m0 7h0m1-1h0m0 1h0m0 0h0m0-1h0m2-5h0m1 7h0m1-4h0m0 0h0m2 3h0m0-7h0m1 8h0m1 0h0m0-2h0m0-1h0m0 0h0m1-4h0m1 3h0m1 1h0m1-3h0m0-4h0m0 10h0m0-8h0m1 5h0m0-3h0m0 2h0m1 1h0m1 4h0m0-10h0m0 6h0m0-6h0m2 8h0m0-3h0m3-3h0m0 6h0m0-10h0m1 9h0m0-3h0m0-1h0m1 1h0m1-2h0m2 5h0m0-2h0m2 3h0m0-1h0m1 1h0m0-7h0m1 3h0m0 4h0m1-4h0m2-1h0m0-4h0m0 0h0m0 2h0m1 1h0m0 8h0m0-4h0m1-6h0m0 9h0m1-10h0m1 6h0m0-4h0m0 5h0m0 2h0m1-1h0m1 0h0m2-3h0m0-5h0m1-1h0m0 8h0m3-6h0m1 9h0m1-8h0m0 0h0m0 4h0m1-5h0m0 7h0m2 3h0m1-5h0m0-4h0m0 0h0m0-2h0m1 6h0m0 0h0m1-3h0m0 0h0m0-3h0m0 2h0m1 0h0m0-2h0m1 9h0m1-2h0m0-3h0m2-1h0m0-2h0m2 9h0m1-7h0m1 7h0m2-4h0m0-3h0m1 4h0m0-1h0m1 1h0m1-2h0m1 4h0m1-9h0m0 10h0m4-10h0m3 2h0m3 5h0m1 1h0m1-7h0m0 9h0m0-10h0m0 7h0m0-2h0m4-6h0m1 7h0m1 0h0m0-6h0m2 7h0m1-6h0m1 10h0m3-11h0m1 0h0m3 1h0m0 8h0m1-1h0m2-8h0m1 1h0m1 3h0m2 5h0m0-9h0m0 10h0m1-4h0m0-3h0m0 4h0m2 0h0m1 3h0m0-8h0m1 1h0m4 2h0m0 2h0m0-5h0m1 2h0m0 2h0m0-7h0m1 0h0m1 6h0m2-3h0m1-2h0m1 10h0m0-8h0m2 3h0m1-5h0m0 5h0m0 6h0m1-5h0m1 3h0m0 0h0m1-6h0m1 5h0m0 0h0m2 1h0m1 0h0m2-7h0m0 8h0m0-9h0m2 9h0m0-4h0m0-5h0m2 0h0m1 7h0m0-3h0m0 1h0m1 5h0m0-4h0m2-7h0m0-1h0m2 1h0m1 11h0m0-2h0m1 0h0m1-4h0m0-3h0m0 3h0m0 5h0m1-8h0m1-2h0m0 2h0m1 7h0m0-4h0m4-6h0m0 2h0m0 8h0m1-8h0m0 5h0m1 1h0m1 0h0m0-1h0m1 0h0m0-3h0m1 3h0m0-4h0m0 7h0m0-8h0m2 7h0m0-2h0m1 1h0m0-1h0m0-2h0m0 7h0m1 0h0m1-9h0m0 1h0m2 6h0m0-4h0m1 6h0m1-4h0m0 4h0m1-6h0m2 0h0m0-5h0m3 3h0m0-3h0m0-1h0m1 3h0m0 2h0m1-2h0m2 2h0m0 2h0m0-6h0m2 10h0m0-11h0m1 6h0m0 4h0m1-7h0m1 5h0m0-1h0m1-5h0m0 2h0m0 2h0m0-2h0m3-3h0m0 0h0m0 1h0m1 3h0m0 7h0m1-3h0m0 1h0m1-5h0m0 0h0m1 2h0m1 4h0m0-6h0m3 5h0m0-5h0m0 0h0m0 4h0m1-5h0m0-2h0m1 0h0m0 3h0m0 3h0m1 1h0m1-7h0m0 5h0m1-5h0m1-2h0m2 0h0m2 1h0m0 3h0m3-1h0m-263 13h0m1-1h0m1-1h0m0 1h0m0-2h0m0 3h0m0 5h0m2-3h0m0-5h0m1 8h0m2-7h0m1 6h0m0-1h0m1 2h0m1 3h0m1-5h0m0 2h0m1-2h0m0 0h0m1-5h0m0 9h0m0 0h0m2-7h0m0 2h0m1-6h0m0 4h0m1-2h0m1 5h0m1-5h0m0 9h0m1-5h0m0-2h0m1 2h0m1 4h0m0-8h0m0 1h0m1 0h0m1 2h0m0-1h0m1 2h0m2-1h0m0 2h0m1 4h0m1-3h0m0-6h0m0 1h0m1 6h0m1 2h0m1-2h0m0 0h0m1-4h0m0-5h0m1 8h0m0 4h0m2-3h0m0 0h0m1-5h0m1-3h0m0 6h0m0-1h0m1-6h0m1 0h0m1 5h0m0 2h0m1-6h0m1 4h0m1-1h0m1 5h0m0-1h0m2-2h0m1 0h0m1 4h0m0-2h0m1-3h0m2 6h0m0-1h0m0-3h0m0-3h0m1-2h0m0 8h0m0-2h0m1-6h0m1 6h0m0-3h0m0 3h0m0 4h0m1-5h0m0 3h0m0-7h0m0 0h0m0 4h0m2-5h0m1 8h0m0-7h0m1 5h0m1-1h0m1-6h0m1 3h0m0 1h0m0-1h0m1 4h0m1-5h0m0 6h0m0-7h0m1 4h0m0 4h0m1-6h0m0-2h0m4 8h0m2-9h0m2 5h0m0 1h0m0 3h0m0 1h0m0-2h0m0-4h0m1 3h0m1 0h0m1-3h0m1-5h0m0 5h0m0-3h0m0 4h0m3 5h0m1-1h0m0-7h0m1 5h0m0-6h0m1 3h0m0 2h0m1 1h0m2-8h0m0 6h0m2-1h0m2-3h0m0 7h0m1 1h0m1-7h0m1-1h0m0 0h0m3 2h0m0-2h0m1 1h0m1 0h0m0 3h0m1-2h0m1 2h0m2-2h0m0 1h0m1-2h0m2 4h0m1-6h0m1 2h0m8 0h0m2 0h0m5-1h0m5 0h0m1-1h0m1-1h0m8 1h0m3 1h0m6 1h0m2 0h0m4 0h0m3 2h0m1-1h0m1-1h0m4-1h0m0 2h0m2-4h0m0 2h0m1 7h0m0-3h0m1 0h0m0-3h0m0-1h0m0 6h0m1-3h0m0-3h0m1 6h0m0 0h0m2 0h0m0-3h0m1 5h0m3-8h0m0 7h0m1-8h0m0 0h0m1 8h0m1-9h0m2 10h0m0-6h0m2 4h0m0-4h0m1-3h0m0 3h0m1-2h0m0 3h0m0 7h0m0-1h0m1-5h0m1-2h0m0 7h0m1-5h0m0 2h0m0-5h0m0 7h0m0-7h0m0 5h0m1-1h0m0 0h0m1-4h0m0 7h0m2-7h0m2 4h0m1-1h0m1-1h0m2-3h0m1 3h0m0-1h0m1 5h0m0-7h0m1 0h0m0 7h0m2-8h0m0 9h0m1 1h0m1-2h0m0-5h0m0 2h0m1-5h0m1 6h0m1 1h0m0-3h0m1 1h0m1 2h0m3-4h0m0 7h0m0-4h0m1 2h0m0-6h0m1 3h0m1 6h0m1-5h0m1-7h0m1 10h0m0-4h0m0 4h0m1-2h0m0 2h0m1-6h0m0-3h0m0 6h0m2-1h0m0-4h0m1 0h0m0 6h0m0-6h0m2-2h0m1 11h0m1-7h0m0 0h0m1 6h0m1-7h0m0-1h0m0-1h0m1 4h0m0-5h0m0 1h0m0 9h0m2-7h0m0-3h0m1 3h0m0 0h0m0-1h0m1 1h0m0 7h0m0-3h0m0-3h0m1-3h0m1 9h0m0-1h0m0-1h0m2-5h0m0-2h0m2 9h0m1-9h0m0 2h0m1 0h0m1 3h0m1 0h0m9-5h0m-238 12h0m3 1h0m5-1h0m0 1h0m16-1h0m30-1h0m108 2h0m3-1h0m1 3h0m0-1h0m1-1h0m0-2h0m2 2h0m0 3h0m0-4h0m2 6h0m3-4h0m1-1h0m1 4h0m0-5h0m1 3h0m2 3h0m1-1h0m0 0h0m0 1h0m1-3h0m1 1h0m0 5h0m1-8h0m0 3h0m2-5h0m0 1h0m1-1h0m1 0h0m1 6h0m2-3h0m1-2h0m2 3h0m1-2h0m1 0h0m2 4h0m0-2h0m0-1h0m1-3h0m0 8h0m1-5h0m3 0h0m1 7h0m0-9h0m2 5h0m0 0h0m1 0h0m0-3h0m2 0h0m4-3h0m1 7h0m1-4h0m2-2h0m1 6h0m2 1h0m0-2h0m1 1h0m6-1h0m0-1h0m5 0h0m2 2h0m1-5h0m3 2h0m0 0h0m2 4h0m0-3h0m0 1h0m0 4h0m0-2h0m1-2h0m0 7h0m0-1h0m5 4h0m0 4h0m0-2h0m0 6h0m1-5h0m2 4h0m0 7h0m1 0h0m2 3h0m1 0h0m0-2h0m2 4h0m1 1h0m1-4h0m-2 15h0m1 1h0m0-6h0m0 0h0m3 1h0m0-2h0m1 5h0m1-9h0m-8 19h0m0-1h0m1 0h0m0 0h0m1 3h0m1-9h0m1 2h0m1-2h0" stroke="#d6d6d6" stroke-width="4.0" stroke-linecap="round" fill="none" transform="scale(0.5)"/>
<path d="M3180 1455h0m7-5h0m2 1h0m1-3h0m3 2h0m2 4h0m-14 7h0m5-1h0m4 3h0m3-2h0m2 8h0m1-6h0m-10 9h0m4 9h0m2-4h0m11 4h0m3-2h0m1-6h0m-18 15h0m4 4h0m1-10h0m2 8h0m5-5h0m2 6h0m8 3h0m-11 2h0m8 22h0m1-6h0m4 5h0m1-10h0m0 1h0m7 8h0m2-2h0m-17 5h0m1 2h0m0-2h0m1 0h0m1 5h0m0 2h0m0-7h0m1 0h0m2 10h0m0 1h0m1-12h0m0 4h0m2 5h0m1 1h0m0 1h0m0-6h0m1 6h0m1-8h0m0 3h0m0 1h0m1-5h0m1 8h0m1-9h0m0 7h0m1-5h0m0 9h0m0-7h0m1 6h0m1 1h0m-10 4h0m1 0h0m1 3h0m3 0h0m3-5h0m0 6h0m0-6h0m1 6h0m1 0h0m0-8h0m2 6h0m1-5h0m1 11h0m1-6h0m0 2h0m0 0h0m1-1h0m0 5h0m0-3h0m1 1h0m3 2h0m-13 4h0m0 0h0m0-1h0m1 0h0m3 6h0m0-1h0m1-5h0m1 0h0m0 4h0m2-4h0m0-1h0m0 8h0m1-3h0m0-2h0m1 1h0m1 4h0m0-1h0m2 2h0m1-2h0m2 3h0m-9 1h0m0 1h0m1-1h0m1 3h0m0-4h0m1 2h0m2 4h0m0 3h0m1-6h0m0 0h0m0-1h0m0 6h0m1 2h0m0-6h0m0-3h0m1 2h0m0 5h0m1 2h0m0-6h0m1 2h0m2 1h0m-103 64h0m1-2h0m1 1h0m156 1h0m12 1h0m-171 1h0m131 10h0m2-2h0m4-7h0m0 3h0m1 6h0m2-1h0m6-6h0m2-1h0m1 5h0m11-6h0m5-1h0m0 6h0m12-2h0m0 5h0m1-3h0m1-1h0m6 3h0m3-3h0m4 1h0m-85 14h0m1 2h0m2 1h0m7-12h0m2 10h0m1-3h0m2-1h0m0-1h0m12 3h0m10 0h0m5 0h0m6 4h0m2-7h0m1 3h0m2 3h0m5-3h0m4-4h0m1 0h0m1-3h0m6 3h0m1-4h0m13 8h0m8 3h0m2-9h0m4-1h0m6 7h0m3 3h0m1-1h0m2-2h0m1 1h0m-110 4h0m9 5h0m1 5h0m4-10h0m1 9h0m0 0h0m1 0h0m6-5h0m5 3h0m1 3h0m2-11h0m5 2h0m7 7h0m2-7h0m1 0h0m1 2h0m5-4h0m5 12h0m6-9h0m0 8h0m0-2h0m5 2h0m2-9h0m2 1h0m0-2h0m3 5h0m5-5h0m2 1h0m2 6h0m4 2h0m0 2h0m1-9h0m2 3h0m4-2h0m5-4h0m1 11h0m3-5h0m2 0h0m5 1h0m1-7h0m7 5h0m2-1h0m7 6h0m-121 12h0m0-4h0m1 5h0m3-7h0m5 7h0m10-6h0m3 5h0m3 1h0m2-7h0m3 3h0m3 0h0m13-7h0m3 9h0m1-8h0m1 8h0m0-6h0m5-1h0m5 7h0m4 2h0m4-1h0m7-2h0m3-1h0m2 3h0m1-9h0m0 0h0m6 7h0m6 4h0m7 0h0m2-5h0m2-1h0m1-4h0m3 7h0m5 3h0m2-4h0m1-1h0m6 4h0m2-6h0m1 1h0m0 0h0m10 2h0m1 1h0m-139 13h0m3-3h0m0-4h0m3 7h0m5-6h0m0 7h0m7-5h0m2 2h0m6-6h0m8 0h0m5 4h0m0 5h0m5-2h0m0-4h0m1-5h0m8 8h0m8 4h0m1-7h0m1 3h0m5 0h0m14-6h0m8 1h0m2-2h0m10 7h0m7 0h0m0-8h0m7 6h0m0 4h0m1 2h0m25-6h0m-136 14h0m1-3h0m0-3h0m1 5h0m5-4h0m4 6h0m4-4h0m7 4h0m1-8h0m4 6h0m2-6h0m1 1h0m4-1h0m2 7h0m2 0h0m7 1h0m8-6h0m1 3h0m2 0h0m0-1h0m2 4h0m5 3h0m8-7h0m5 5h0m3-7h0m9 7h0m13 1h0m1-8h0m0 5h0m5-3h0m2 4h0m6-3h0m2 0h0m25-4h0m2 4h0m2 6h0m-482 10h0m359-7h0m1-1h0m11 0h0m6-2h0m11 1h0m6 2h0m5 3h0m5 4h0m0-2h0m2-1h0m5-3h0m4 6h0m1-1h0m4-7h0m6 1h0m3-1h0m5-1h0m1 4h0m1 0h0m8 6h0m8-8h0m2-1h0m7 7h0m2 2h0m1-4h0m0 3h0m18-8h0m1 3h0m2-5h0m-481 18h0m310-5h0m1-1h0m91 1h0m5 5h0m3 0h0m2 4h0m3-2h0m1 0h0m1-4h0m0 6h0m1-1h0m4 0h0m2-3h0m0-3h0m3 7h0m1-3h0m2-4h0m1 8h0m1-7h0m0 7h0m1-9h0m1 1h0m0 4h0m1 2h0m1-3h0m0 5h0m1-6h0m0 3h0m1 1h0m5 0h0m0-4h0m0 2h0m14 2h0m1-4h0m22-1h0m-139 10h0m65 10h0m3-6h0m0 1h0m1-2h0m3 1h0m9 2h0m4-4h0m3 6h0m2-7h0m4 6h0m4-5h0m1 4h0m1 0h0m2-3h0m1-4h0m4 3h0m2 8h0m-170 7h0m9-1h0m6 4h0m1-4h0m117 2h0m8-5h0m9 6h0m0-3h0m2-1h0m3-5h0m4 7h0m1 4h0m4-6h0m5 1h0m5 1h0m-181 6h0m31 7h0m0-1h0m16-4h0m7 8h0m89-3h0m3 1h0m4 1h0m2 1h0m1-10h0m2 0h0m1 3h0m0-1h0m2 4h0m1-1h0m10 5h0m8-10h0m4 6h0m1-6h0m1-1h0m2 1h0m8 10h0m-180 3h0m4-1h0m24 7h0m109-1h0m0-7h0m7 0h0m1 4h0m7 3h0m5-5h0m3 4h0m3-5h0m4 3h0m1 4h0m0-1h0m0-6h0m1 10h0m0-10h0m0 4h0m2 3h0m0-6h0m1 2h0m2 3h0m6-2h0m2 2h0m2 1h0m-498 14h0m458-3h0m3-5h0m2-1h0m3 3h0m6 6h0m1-5h0m1 1h0m3-4h0m3 5h0m2 3h0m0-5h0m10 0h0m1 2h0m2-4h0m1-1h0m0 3h0m-187 11h0m37-2h0m114 4h0m2-5h0m11 8h0m1-4h0m0-3h0m8 6h0m0-3h0m1 2h0m4 4h0m3-11h0m3 1h0m1 1h0m7 2h0m5 6h0m3-2h0m-487 11h0m24-5h0m262 2h0m2 1h0m8 2h0m152-5h0m2 3h0m1 2h0m1-5h0m1 7h0m2 2h0m2-2h0m0 0h0m0-6h0m0 0h0m2 5h0m0 2h0m0-4h0m1 1h0m1-6h0m11 0h0m1 11h0m2-2h0m1 1h0m6-2h0m1 0h0m5-4h0m0-5h0m-493 17h0m26 4h0m273-9h0m24 9h0m21-8h0m53 10h0m1-5h0m2-5h0m1 5h0m1 3h0m1 3h0m1-2h0m1-4h0m0-2h0m2 7h0m0-3h0m0 0h0m1 1h0m0-2h0m2 0h0m0 4h0m1-2h0m0 1h0m0-4h0m0 0h0m1-1h0m0 4h0m48 0h0m2-6h0m0 5h0m1 1h0m1-6h0m1 3h0m5 0h0m15 1h0m2-1h0m0-2h0m1 2h0m2 3h0m0-3h0m1 0h0m4 5h0m1-7h0m1 3h0m0-4h0m1-1h0m1 9h0m1-5h0m0-2h0m1 6h0m0-4h0m4 3h0m-531 12h0m0-2h0m2 4h0m4-9h0m1 4h0m2 2h0m8 0h0m2-1h0m24 2h0m387-8h0m0 2h0m2-1h0m1 1h0m4 3h0m0-4h0m3 0h0m33 2h0m4 7h0m2-1h0m10-6h0m2 2h0m1 1h0m0 0h0m0 2h0m1-7h0m4 1h0m1 4h0m1 4h0m5-1h0m3 1h0m2-5h0m0 1h0m0-3h0m1 5h0m2 2h0m1-4h0m2-3h0m1 7h0m2-1h0m1 0h0m0 0h0m3-2h0m0-2h0m0-3h0m2 3h0m1-2h0m2 2h0m2-4h0m1 1h0m1 8h0m0-6h0m0 5h0m0-9h0m5 7h0m0-1h0m0 4h0m2-1h0m0-6h0m-534 11h0m8 4h0m5 4h0m9 1h0m8-2h0m6-1h0m2-3h0m1-5h0m1 8h0m3 0h0m15-7h0m279 2h0m132-4h0m2 9h0m6-5h0m6 4h0m4 1h0m1 2h0m3-7h0m1-2h0m0 9h0m1-10h0m0 2h0m0 0h0m6 0h0m2 1h0m1 3h0m0-3h0m1 4h0m1-4h0m2 7h0m2-7h0m0 3h0m2-2h0m2 5h0m1 0h0m1-2h0m0 2h0m2-2h0m1 2h0m0-3h0m1-5h0m1 2h0m0 3h0m4 5h0m1-9h0m1 1h0m2-2h0m0 0h0m2-1h0m7 6h0m2 5h0m2-11h0m3 7h0m5-5h0m2-2h0m3 11h0m0-5h0m2-2h0m1 1h0m2 1h0m1 3h0m2 1h0m3-7h0m1-2h0m14 6h0m8 1h0m-590 3h0m1 4h0m5 4h0m0-1h0m3 3h0m2-5h0m2 3h0m3-4h0m1 1h0m1-1h0m2 1h0m2 5h0m10-5h0m1 5h0m1-8h0m5 7h0m4 1h0m0-1h0m0-4h0m0-1h0m2 5h0m1-1h0m0-5h0m424 9h0m3-7h0m2-4h0m1 1h0m3 1h0m0 4h0m1 2h0m1-6h0m2-1h0m0-2h0m3 3h0m0-1h0m3 5h0m5-6h0m6 6h0m0-5h0m2 2h0m0 4h0m1 3h0m1-8h0m2 0h0m1 2h0m3 0h0m0-4h0m2 5h0m1-2h0m4 2h0m1-6h0m7 8h0m0 1h0m2 0h0m3 3h0m0-5h0m2 2h0m3-1h0m2 2h0m2-10h0m0 2h0m1 7h0m1-3h0m1 4h0m2-3h0m1 1h0m1 4h0m1-4h0m0 0h0m2-6h0m2 7h0m0-5h0m5 0h0m0 2h0m1-1h0m6 0h0m1-2h0m2 7h0m3-7h0m3 5h0m4-1h0m2-6h0m0 8h0m3-7h0m2 7h0m2-7h0m2-1h0m1 11h0m1 0h0m9-7h0m2 4h0m4 0h0m-597 8h0m8 7h0m0-5h0m3 4h0m3-5h0m4-2h0m3 4h0m1-2h0m4-3h0m0 5h0m4 0h0m6-6h0m1 7h0m4 0h0m297-5h0m128 6h0m1-10h0m1 6h0m4-1h0m1-2h0m2 6h0m2-5h0m2-2h0m2 3h0m1-3h0m2 1h0m0 3h0m5 2h0m0-5h0m1-1h0m2 6h0m5-2h0m0-2h0m3 6h0m1 0h0m0 2h0m3-2h0m0-4h0m2-6h0m1 4h0m5 1h0m2-1h0m8 0h0m1 6h0m1 1h0m1-5h0m3 5h0m2-2h0m5 2h0m3 1h0m1-5h0m3 1h0m1-1h0m8 4h0m6-2h0m1-2h0m3 5h0m1-10h0m7 2h0m4 6h0m0-6h0m2 1h0m1-4h0m1 3h0m1 1h0m2 0h0m0-5h0m1 12h0m1-12h0m1 2h0m0 4h0m4-5h0m2 3h0m0 8h0m1-9h0m0 9h0m5-8h0m1 3h0m2-5h0m1 8h0m4-10h0m2 4h0m9 7h0m1-3h0m0-4h0m-610 17h0m2-2h0m5-2h0m1 6h0m7-10h0m3 1h0m1 5h0m2 4h0m3-11h0m5 5h0m5-1h0m1-3h0m4 5h0m1 2h0m1 1h0m4 2h0m415-8h0m1 5h0m7-1h0m4-1h0m2-2h0m0 7h0m1 1h0m3-6h0m3-1h0m0 6h0m2-6h0m1 5h0m1 1h0m2-7h0m0 5h0m2 2h0m4-7h0m1 0h0m0-2h0m11 0h0m4 7h0m4-2h0m0-5h0m1 1h0m1 3h0m2 1h0m0 0h0m1 5h0m2-1h0m13-3h0m3 1h0m3-5h0m1 3h0m0-2h0m2 2h0m1-5h0m1 1h0m0 2h0m2 4h0m1-8h0m2 0h0m3 6h0m1 0h0m2-2h0m0-4h0m1 1h0m4 4h0m0 0h0m1-5h0m1 3h0m3 5h0m5 3h0m2-11h0m2 0h0m1 3h0m2-2h0m3 1h0m2 1h0m3 0h0m1-4h0m2 12h0m4-7h0m0 0h0m1-1h0m1-4h0m1 10h0m6-9h0m2 4h0m0-5h0m0 8h0m6 1h0m1-3h0m0 2h0m0-6h0m4 7h0m-607 4h0m4 3h0m2 1h0m1 6h0m1-1h0m0-1h0m3 2h0m2-1h0m1-7h0m1 6h0m3 0h0m0 0h0m1 3h0m0-3h0m2-6h0m3 4h0m1-2h0m2 3h0m1 1h0m227-1h0m105 2h0m5-8h0m89 4h0m1-3h0m3 8h0m0 0h0m4-1h0m1-1h0m3-7h0m1-2h0m6 4h0m0 3h0m2 2h0m3-9h0m5 1h0m0 7h0m7 2h0m0-2h0m3 2h0m2-10h0m5 3h0m1-2h0m7 0h0m1 2h0m4 0h0m5 7h0m0-3h0m1 2h0m0 1h0m1-3h0m1-4h0m0 5h0m0 1h0m3-2h0m3-5h0m6 6h0m1-6h0m0 3h0m7 1h0m3-1h0m5-2h0m1 1h0m2-1h0m3 2h0m1-3h0m3-2h0m2 4h0m1 5h0m0-6h0m0 2h0m9 2h0m0 1h0m1-1h0m3 0h0m0-5h0m1 1h0m7 2h0m0 2h0m5 5h0m2-6h0m0-1h0m1 6h0m0-4h0m1-3h0m0 3h0m0-3h0m0 4h0m5 0h0m5 0h0m1 4h0m3-1h0m-597 2h0m11 5h0m1-4h0m3 1h0m8 2h0m2 0h0m2 1h0m3-6h0m228 3h0m1 2h0m5 5h0m1-1h0m0 1h0m74-6h0m12 5h0m98-7h0m1 0h0m1 0h0m5 7h0m2-3h0m12-2h0m2 0h0m2 7h0m1 0h0m4-11h0m7 4h0m0 8h0m3-7h0m5 2h0m4-1h0m3-6h0m2 11h0m5-4h0m4-3h0m0-4h0m1 10h0m0 1h0m2-4h0m6 1h0m2 3h0m3-10h0m1 2h0m1 0h0m1 1h0m1 2h0m4 0h0m1 2h0m4-5h0m3 7h0m1-9h0m1 8h0m3-8h0m0 7h0m0-5h0m4 6h0m2-3h0m2-3h0m1 6h0m0 2h0m3-11h0m1 3h0m0 1h0m2 6h0m1-6h0m0 2h0m2 0h0m9-3h0m9 1h0m2-2h0m1-1h0m0 9h0m2-3h0m6-3h0m-227 8h0m7 12h0m79-3h0m5-2h0m1 2h0m2-6h0m2 2h0m13-4h0m0 5h0m2 0h0m0 4h0m0-1h0m4-5h0m2-1h0m0 1h0m2-3h0m3 3h0m1 4h0m6 3h0m0-8h0m1 7h0m3-4h0m3 2h0m2 0h0m3 0h0m1-4h0m4 1h0m0 2h0m4-5h0m17 1h0m1 6h0m1-3h0m5 3h0m3-4h0m0 4h0m3-6h0m0 6h0m3-8h0m0 5h0m2 3h0m2-4h0m2 4h0m0-7h0m1 2h0m1-2h0m0 1h0m2 5h0m0-1h0m4-1h0m1 4h0m2-7h0m0 0h0m2-3h0m3 6h0m3-6h0m0 11h0m4-4h0m1 1h0m0 4h0m4-2h0m4-8h0m-136 14h0m17-3h0m0 2h0m0-2h0m3 0h0m1 10h0m0-3h0m1 2h0m1-10h0m5 7h0m1 2h0m2 0h0m2-5h0m8 0h0m0 6h0m2-5h0m6 6h0m2-4h0m1-2h0m7-1h0m3-3h0m1 9h0m4-1h0m0 0h0m8-7h0m1 1h0m10 6h0m3 1h0m3-3h0m3-4h0m0 5h0m2-5h0m0 2h0m5 2h0m4-3h0m6 5h0m0 3h0m2-6h0m1-4h0m2 7h0m6-1h0m4-7h0m-258 19h0m153-2h0m4 1h0m0-1h0m6-5h0m0 4h0m1 4h0m3-1h0m4-7h0m6 8h0m2-8h0m0 10h0m1-9h0m3 2h0m0 1h0m2-1h0m3 7h0m1-11h0m1 0h0m1 8h0m2-5h0m4 5h0m1 4h0m2-11h0m2 1h0m1 4h0m1-2h0m1 6h0m7 0h0m7-3h0m3 3h0m0-9h0m2 10h0m3-6h0m2-5h0m3 11h0m3-5h0m4 0h0m0 2h0m2-8h0m0 5h0m1 3h0m2-6h0m7 4h0m1-1h0m-83 12h0m7 5h0m2-2h0m2 0h0m1-6h0m1 5h0m6-3h0m8 5h0m1 3h0m5-1h0m2-4h0m0-7h0m0 7h0m1 3h0m1-10h0m0 10h0m4 0h0m0-6h0m3 6h0m1-2h0m2-1h0m5 4h0m2-8h0m0 5h0m1 1h0m-47 4h0m4 1h0m5 2h0m6 2h0m6-4h0m2-2h0m2 4h0m6 3h0m46 20h0m0 20h0m2-11h0" stroke="#bdb1d2" stroke-width="5.2" stroke-linecap="round" fill="none" transform="scale(0.5)"/>
<path d="M3185 1454h0m2 2h0m-3 6h0m20 6h0m-8 5h0m7 8h0m4 19h0m2-4h0m4 20h0m4-4h0m3 5h0m-9 6h0m2 5h0m4-4h0m0 4h0m0 1h0m2-11h0m0 8h0m-5 5h0m1 0h0m8-1h0m1 4h0m1 6h0m5 0h0m3 11h0m7 10h0m-101 63h0m1-3h0m0 2h0m160 3h0m4-1h0m-343 11h0m174-10h0m122 12h0m3-4h0m4 0h0m1 0h0m6-2h0m0 4h0m2-8h0m5 8h0m0-6h0m0-1h0m1-1h0m3-1h0m3 8h0m2-2h0m0-2h0m3 4h0m1-1h0m2-5h0m0-1h0m1 3h0m2-3h0m0 3h0m1-4h0m4 0h0m3 9h0m1-1h0m4 1h0m2-5h0m2 6h0m3-9h0m3 7h0m0-6h0m1 9h0m1-7h0m3 5h0m2-5h0m2 4h0m1 2h0m3-3h0m4 3h0m-371 7h0m278-1h0m5-3h0m3 2h0m3 6h0m1-7h0m2-3h0m0 7h0m4-3h0m8-2h0m3 3h0m1 6h0m1-3h0m0 3h0m2 0h0m6-10h0m2 10h0m1 0h0m0-5h0m2-5h0m1 6h0m5-2h0m4 4h0m1-2h0m1-4h0m2 4h0m1-7h0m9 0h0m1 11h0m4-10h0m2 7h0m0-6h0m4-1h0m3 4h0m2-4h0m2 1h0m5 3h0m0 6h0m2-3h0m0-4h0m0 6h0m0-4h0m1-4h0m1 7h0m3-1h0m3 0h0m0 0h0m4 1h0m2-5h0m1 7h0m-412 13h0m308-8h0m0 1h0m3 1h0m2 5h0m0-3h0m2-2h0m3-6h0m2 8h0m0 2h0m1-4h0m1-3h0m0 2h0m7-3h0m5 6h0m7-1h0m10-3h0m0 5h0m1-8h0m1 5h0m1 3h0m2 0h0m0 2h0m2-2h0m3 3h0m0-8h0m2 0h0m1 4h0m1 4h0m1-1h0m2-10h0m4 3h0m0 2h0m2-5h0m0 7h0m2 0h0m3 0h0m2-7h0m8 0h0m4 0h0m0 1h0m2 10h0m0-5h0m0 5h0m0-1h0m1-10h0m1 7h0m1-7h0m2 0h0m3 4h0m0 1h0m3 4h0m2-8h0m3-1h0m2 10h0m4-11h0m0 2h0m1 7h0m3-7h0m0 4h0m2-2h0m0 6h0m0-3h0m1 4h0m2-2h0m2 2h0m1-3h0m-422 6h0m4 5h0m299 4h0m3-7h0m2 7h0m1-9h0m0 7h0m0 0h0m5-3h0m1 2h0m4-5h0m0-2h0m2 10h0m6-3h0m1 3h0m1 0h0m2-2h0m0 1h0m2-6h0m0-4h0m1 8h0m0-1h0m2-1h0m1 4h0m1-6h0m5 3h0m0 0h0m0-7h0m2 4h0m4-4h0m1 3h0m11 9h0m3-5h0m1-1h0m3-5h0m4 8h0m3 3h0m4-4h0m1-1h0m2-1h0m0 0h0m2-4h0m2 8h0m2-1h0m2-8h0m1 7h0m3 1h0m0-6h0m1 5h0m3 3h0m0-7h0m2-2h0m1 5h0m2-5h0m2 10h0m0-12h0m3 6h0m1 1h0m1-4h0m12 9h0m3-3h0m2-9h0m1 12h0m8-7h0m3 0h0m-443 15h0m11-2h0m295 3h0m1-3h0m2 4h0m0-4h0m3-4h0m4 3h0m1-2h0m1-1h0m0-2h0m2 4h0m3-4h0m0 8h0m1-4h0m3 4h0m1-2h0m1-2h0m0 7h0m6-3h0m2 2h0m1-1h0m0-8h0m0 8h0m1-4h0m4 0h0m5-5h0m0 10h0m2-2h0m3 2h0m2 2h0m15 0h0m3-10h0m2 9h0m0-6h0m2 2h0m5-1h0m6-6h0m2 11h0m3 1h0m1-4h0m1 0h0m3-6h0m1 6h0m3-5h0m0-2h0m1 5h0m3-1h0m3 1h0m2-4h0m2 6h0m3 3h0m0-11h0m1 7h0m2 3h0m3-5h0m4 5h0m1-7h0m0-3h0m4 3h0m1 7h0m1-8h0m13-1h0m5 6h0m2 0h0m-466 5h0m11 1h0m308 1h0m5 4h0m1-2h0m1 8h0m1-3h0m0-8h0m4 7h0m2 0h0m2-2h0m1 5h0m1-8h0m1 2h0m0 1h0m2-2h0m0 1h0m3 2h0m1 4h0m1-4h0m3-1h0m4-2h0m7 3h0m2 3h0m0-6h0m1-4h0m2 9h0m1-7h0m2 0h0m0-1h0m1 10h0m6-1h0m1-1h0m1-3h0m1 5h0m2-4h0m1-2h0m1 6h0m1 0h0m0-5h0m2 1h0m2 4h0m2-1h0m3-5h0m1 2h0m0-2h0m1-2h0m3 3h0m4-6h0m0 4h0m2-4h0m0 7h0m4 4h0m2-11h0m0 5h0m2 4h0m1-2h0m1-4h0m0 0h0m0 2h0m1-2h0m1 2h0m0 7h0m3-7h0m3 0h0m1 2h0m0 3h0m5-6h0m0 6h0m1-6h0m1-1h0m0 9h0m2-6h0m1-1h0m0-2h0m3 6h0m5 2h0m3-5h0m1-2h0m1 5h0m3-9h0m1 9h0m3 2h0m2-5h0m0 6h0m11-8h0m4 3h0m2-3h0m1 7h0m1-3h0m-475 13h0m8-7h0m13-2h0m294 1h0m29 0h0m4 0h0m16 1h0m5 0h0m15 2h0m3 1h0m0-1h0m4-2h0m3 10h0m1-11h0m2 3h0m0-2h0m0 4h0m0-4h0m1 4h0m0-5h0m0-1h0m4 9h0m8 1h0m3-4h0m1 0h0m1 2h0m1-3h0m1 1h0m0 4h0m2-1h0m2-7h0m4 5h0m1 3h0m0 0h0m1-8h0m6 3h0m1-4h0m5 5h0m1 2h0m1-8h0m5 5h0m3 0h0m1 6h0m0-7h0m0 4h0m5-6h0m0 1h0m19-1h0m0 9h0m0-8h0m3 0h0m3 4h0m-495 13h0m3 0h0m315-4h0m88-3h0m9 2h0m3 3h0m0 2h0m2 0h0m3-4h0m0 5h0m0 3h0m1-9h0m1-3h0m1 7h0m2 4h0m8 1h0m1-4h0m3-5h0m1 6h0m0-3h0m1-5h0m4 10h0m1 1h0m4-10h0m1-2h0m1 0h0m1 4h0m2-4h0m3 3h0m3-2h0m2 8h0m2-9h0m4 2h0m0 0h0m22-1h0m4 5h0m-484 7h0m1 10h0m276-3h0m22-4h0m108 4h0m1-1h0m0 4h0m1-1h0m0 0h0m2-9h0m0 8h0m2 2h0m4-2h0m0-7h0m3 6h0m1-3h0m2 5h0m0 0h0m0-9h0m0 10h0m1-9h0m0 4h0m1 6h0m0-1h0m1-4h0m1-6h0m4 9h0m2-7h0m2 1h0m1-4h0m3 2h0m5 9h0m6 0h0m-480 11h0m36-10h0m329 12h0m73-10h0m2 7h0m3-6h0m0 9h0m0-9h0m3 2h0m2 5h0m1-4h0m1-5h0m0 11h0m2-5h0m4 2h0m1-1h0m0-1h0m1 4h0m1-3h0m8 3h0m1-7h0m1 7h0m0-6h0m2 3h0m2 2h0m5-4h0m0 4h0m1-8h0m1 10h0m3 0h0m-475 3h0m4 4h0m10-1h0m418-5h0m5 10h0m2-3h0m1-7h0m2 10h0m4-7h0m2 0h0m0 5h0m1 2h0m2-2h0m0-9h0m1 7h0m1 4h0m0 0h0m5-4h0m5-5h0m2 6h0m0 4h0m1-7h0m4 5h0m1-4h0m1 4h0m3 1h0m2-10h0m3 2h0m0 7h0m1-3h0m1 1h0m-491 7h0m19 2h0m333 6h0m96-6h0m3-1h0m1 8h0m0-10h0m1 4h0m1 6h0m1-8h0m1-1h0m6 4h0m2 3h0m0-9h0m2 7h0m2 2h0m0-8h0m7 2h0m2-1h0m2 8h0m3-9h0m2-1h0m9-1h0m1 1h0m1 10h0m1-6h0m1 6h0m1-5h0m2 2h0m-498 14h0m14-3h0m334 5h0m109 0h0m0-10h0m0 5h0m2-3h0m2 4h0m1-7h0m4 1h0m2 8h0m1-7h0m2 0h0m2 9h0m1-11h0m4 3h0m1 3h0m0 3h0m2-9h0m0 1h0m0 8h0m2-3h0m1 2h0m1-7h0m3 3h0m6 2h0m2-4h0m0 7h0m0-1h0m2-1h0m2-7h0m1 4h0m2-1h0m2 8h0m-514 8h0m15-3h0m7-4h0m3 9h0m7 2h0m288-8h0m5-4h0m144 7h0m2 3h0m7-6h0m1-4h0m2 5h0m1 0h0m2-3h0m0 7h0m4 1h0m4-4h0m0-2h0m1 5h0m1-3h0m1 5h0m6-2h0m5-5h0m2 1h0m0 6h0m6-11h0m1 11h0m-505 12h0m42-6h0m306-3h0m120 0h0m1 3h0m2 6h0m0-9h0m7 2h0m1-2h0m7 7h0m1-4h0m1 4h0m2-8h0m1 0h0m3 4h0m1 4h0m4-3h0m3-4h0m0 0h0m1 10h0m0-2h0m4-1h0m5 3h0m2-1h0m-518 12h0m33 0h0m2-2h0m389-3h0m1 4h0m0-4h0m2 2h0m52 1h0m1-6h0m6 7h0m1-4h0m2-4h0m3 9h0m2-8h0m2 6h0m1-1h0m0-1h0m1 3h0m2 0h0m9-9h0m0 3h0m1 6h0m4-8h0m3 8h0m3-3h0m2-1h0m15 3h0m-545 10h0m4 1h0m3-2h0m2-1h0m0 3h0m0-1h0m4 1h0m0 2h0m2-2h0m0-2h0m1 2h0m3 2h0m0-3h0m1-3h0m6 8h0m3-6h0m5 4h0m4 2h0m3-2h0m25-3h0m1-2h0m364-2h0m4-3h0m53 0h0m6 6h0m1 0h0m2-2h0m2 1h0m0-4h0m2 5h0m3 4h0m2-8h0m0 2h0m0 4h0m0-8h0m2 6h0m1 6h0m4-6h0m4-5h0m2 2h0m0 9h0m0-6h0m1-2h0m1 2h0m0 5h0m1-7h0m0-1h0m1 3h0m1 3h0m2-1h0m3 1h0m0-2h0m3-5h0m0 2h0m1-3h0m0 1h0m2 3h0m1 6h0m0-1h0m1-1h0m4 2h0m20-3h0m-559 7h0m1 8h0m0-10h0m1 2h0m2-2h0m1 11h0m6-10h0m0-1h0m1 5h0m1 5h0m1 0h0m2-2h0m1 1h0m3-8h0m1 7h0m0-9h0m0 9h0m1-8h0m1 9h0m6-2h0m1-1h0m2-6h0m2 6h0m0 5h0m1-12h0m0 5h0m2-1h0m1-3h0m2 1h0m3 0h0m0 6h0m2-5h0m1 5h0m1-1h0m422-1h0m9 5h0m3-10h0m14 4h0m1-4h0m1 1h0m0 9h0m3-7h0m0 7h0m1-8h0m2-2h0m2 1h0m1 2h0m0-1h0m0 6h0m1-1h0m0-5h0m1 9h0m1-12h0m4 6h0m2-4h0m1 8h0m2 1h0m0-10h0m2 0h0m1 10h0m1-5h0m13-1h0m1-1h0m0-3h0m28 5h0m10 6h0m-574 4h0m2 7h0m4-6h0m1 5h0m1-1h0m1 2h0m2-8h0m1 3h0m1 1h0m2 0h0m0 4h0m1-5h0m2 3h0m2-5h0m0-2h0m2-1h0m0 0h0m2 9h0m1-8h0m1 0h0m2 9h0m2-5h0m2 0h0m2-2h0m1 2h0m2-1h0m1 3h0m2-5h0m5-1h0m2 8h0m0-2h0m3 0h0m295 3h0m136-6h0m14-4h0m6 7h0m2-2h0m6-3h0m1 4h0m5-5h0m2-1h0m15 9h0m8-5h0m35 7h0m6-5h0m11-5h0m2 0h0m2 1h0m-591 11h0m5 6h0m0-5h0m4 1h0m0 0h0m1 6h0m2 2h0m0-1h0m2-6h0m5 3h0m1-8h0m2 8h0m1-4h0m0 5h0m3 0h0m1 1h0m1-4h0m4-6h0m7 8h0m2 1h0m1-3h0m2-2h0m1-1h0m3 5h0m0-4h0m1 1h0m425 5h0m4-2h0m10 2h0m3-1h0m0-6h0m2 1h0m7 8h0m2-12h0m3 10h0m10-3h0m6 3h0m0-4h0m10-2h0m12-1h0m3 7h0m13-2h0m3-6h0m1 5h0m3 4h0m4-10h0m19 11h0m1-6h0m1-2h0m5 3h0m13 4h0m0-6h0m-600 7h0m1 10h0m1-7h0m2 6h0m2-8h0m2 3h0m3 2h0m2 1h0m3 3h0m3-4h0m0-3h0m1 1h0m4 6h0m2 0h0m0-7h0m1 3h0m3 1h0m0-4h0m2 3h0m3-6h0m1 6h0m1 6h0m1-2h0m1-6h0m0-2h0m1 7h0m0 1h0m1 0h0m0 2h0m1-4h0m3 3h0m425-11h0m4 2h0m3 3h0m5-4h0m55 3h0m18 6h0m6-8h0m1-1h0m11 0h0m3 6h0m1-3h0m14 8h0m-590 1h0m4 0h0m5 6h0m5-3h0m1 7h0m2 0h0m1-4h0m2 3h0m1-5h0m1-3h0m1 9h0m0 1h0m0-11h0m1-1h0m1 6h0m1-3h0m0 8h0m2-5h0m1 0h0m2-2h0m1 7h0m0-6h0m5 2h0m2 4h0m1-10h0m1 6h0m1-2h0m338 3h0m96 0h0m3-6h0m16 6h0m21-2h0m22-1h0m37 5h0m2-10h0m3 6h0m4 0h0m0-3h0m3-2h0m17 5h0m-583 6h0m1 1h0m0 2h0m1 4h0m0-4h0m2 1h0m3 1h0m1 5h0m1-8h0m2 5h0m2-5h0m1 2h0m3 4h0m1-5h0m0 6h0m1-6h0m1 2h0m2-1h0m0 3h0m235 1h0m0 0h0m217 4h0m4-2h0m4-8h0m36 8h0m21 1h0m23-5h0m11-2h0m11-4h0m-142 15h0m24 0h0m8 5h0m2 1h0m5-9h0m4 11h0m8-10h0m3 7h0m15 1h0m5 3h0m13-3h0m6 2h0m5-9h0m27 3h0m6 6h0m5-2h0m2-4h0m-278 13h0m166 0h0m9 2h0m5 2h0m12-3h0m11-3h0m5 0h0m2-2h0m40 0h0m7 1h0m4-2h0m-228 17h0m66-3h0m73 1h0m7 0h0m20 6h0m19-6h0m3 8h0m7-11h0m24-1h0m-136 17h0m52-5h0m16 10h0m19-2h0m3-3h0m3 4h0m9-5h0m0 7h0m8 1h0m-13 1h0" stroke="#ad8ee6" stroke-width="5.2" stroke-linecap="round" fill="none" transform="scale(0.5)"/>
<path d="M3138 1468h0m-20 9h0m5 2h0m61-2h0m-82 7h0m44 26h0m-184 127h0m4-1h0m4-6h0m303 3h0m5-2h0m6 6h0m6-8h0m0 4h0m1-6h0m4 0h0m2 1h0m11 3h0m-349 9h0m0 6h0m3-4h0m2-1h0m1 7h0m2 0h0m277 0h0m11 1h0m3-8h0m10 3h0m13 5h0m7 0h0m9-5h0m0 0h0m2-1h0m0-5h0m0 5h0m1 6h0m6-5h0m6-3h0m7-1h0m6 7h0m12-8h0m0 1h0m1 10h0m3-6h0m2 0h0m6 3h0m-404 10h0m4 2h0m3-6h0m0-2h0m3 4h0m9-4h0m282 2h0m6 8h0m1 0h0m7-10h0m2 0h0m10 8h0m9-2h0m3 1h0m10-5h0m9 2h0m11-2h0m4 3h0m5-1h0m12 5h0m16-7h0m13 6h0m-426 5h0m4 5h0m0 5h0m8-12h0m3 12h0m1-9h0m301-2h0m8 7h0m5-8h0m27 3h0m1 5h0m2-7h0m22-1h0m10 1h0m5 11h0m0-9h0m1 0h0m1 5h0m2-1h0m0-2h0m17-3h0m9 4h0m4 4h0m18-4h0m1-1h0m2 6h0m-459 11h0m0-9h0m6 10h0m1-6h0m15 0h0m295 5h0m1 1h0m8-7h0m0 3h0m22 0h0m6-7h0m18 6h0m2-4h0m0 0h0m9-2h0m6 9h0m35-2h0m12 1h0m7-2h0m6 3h0m11-7h0m0 5h0m-469 11h0m4 0h0m1-3h0m0-1h0m7 1h0m9-2h0m1 10h0m296-1h0m5-9h0m3 3h0m3 1h0m4-4h0m39 1h0m5 9h0m26-1h0m1-5h0m11-2h0m2-2h0m0 0h0m4 5h0m1 1h0m7-4h0m7 5h0m5-2h0m33 0h0m4 0h0m-484 12h0m5-4h0m0 1h0m2-2h0m14 9h0m2 0h0m299 0h0m1-2h0m30-5h0m1-2h0m1 1h0m32 0h0m13 10h0m5-5h0m2 3h0m22-4h0m9 4h0m1-7h0m3 9h0m5-1h0m3-10h0m11 1h0m0 8h0m1-2h0m6 3h0m21-5h0m-497 16h0m0 2h0m323-7h0m19 2h0m83 3h0m13-1h0m4-1h0m1-3h0m6 6h0m2-5h0m20-5h0m1 2h0m-466 19h0m2 0h0m3-2h0m4 1h0m4 1h0m2 0h0m270-9h0m43 1h0m3 10h0m9-11h0m84 5h0m3-3h0m2-2h0m2 3h0m15 6h0m2-1h0m-463 8h0m4 4h0m4 1h0m2-9h0m2 7h0m1 3h0m3 0h0m0-1h0m3 0h0m3-7h0m3 5h0m270 2h0m4-8h0m5 8h0m9-7h0m16-3h0m107 8h0m9-5h0m5 1h0m3 4h0m8-6h0m3-2h0m0 4h0m11 7h0m0-10h0m7 10h0m-488 3h0m2 5h0m2-6h0m300 6h0m14 4h0m20 1h0m11-3h0m-345 5h0m6 2h0m8 3h0m296-2h0m13 7h0m8-2h0m11-7h0m5 3h0m24 1h0m84-4h0m21 2h0m5 0h0m3-3h0m5 6h0m1-7h0m-502 14h0m16 1h0m5-1h0m8-2h0m287 7h0m2-3h0m31-3h0m1 4h0m3 0h0m7 0h0m103-5h0m1 7h0m13 3h0m1-10h0m6 9h0m0-5h0m13-5h0m4 1h0m3 0h0m4 3h0m-505 9h0m5 11h0m3-5h0m3-4h0m3 3h0m6 3h0m294-8h0m39-1h0m12 2h0m5-1h0m116 9h0m0 0h0m6-8h0m-494 20h0m6-10h0m5 10h0m4 1h0m11-2h0m297-3h0m12 1h0m7 3h0m9-5h0m7 3h0m4-1h0m117-2h0m3 1h0m7-4h0m2 4h0m9-4h0m2 1h0m7-3h0m6 0h0m5 3h0m-519 11h0m4 3h0m1 5h0m5 1h0m7 0h0m0-10h0m8 1h0m0 4h0m12 4h0m314-1h0m147-6h0m0 7h0m18-9h0m5 2h0m2-2h0m-518 17h0m1 1h0m4 0h0m6-7h0m0 4h0m1 3h0m3 1h0m3 3h0m11-4h0m2-5h0m0 7h0m296-8h0m143 11h0m11-7h0m0 4h0m23-2h0m2 2h0m2 0h0m4-3h0m2-4h0m3 3h0m5 4h0m9-5h0m5 7h0m1 1h0m-544 5h0m2 0h0m6 5h0m1-10h0m11 7h0m15 2h0m3-5h0m3-2h0m3-1h0m437 3h0m6 2h0m10 0h0m3 3h0m5-7h0m2 5h0m9-7h0m3 6h0m3-1h0m2-2h0m4-2h0m6 5h0m46 3h0m-580 10h0m1 2h0m16-5h0m4-1h0m7 9h0m3-4h0m4 2h0m7 0h0m1-9h0m291 7h0m21 4h0m2-3h0m153-9h0m44 5h0m16 5h0m-562 6h0m35-2h0m3 5h0m5 2h0m441-8h0m1 1h0m4-1h0m31 10h0m14-7h0m80 4h0m-588 10h0m18-2h0m2 3h0m2-3h0m1-1h0m285-3h0m210 5h0m36-3h0m7 9h0m-561 3h0m0 2h0m4-1h0m2 5h0m7 1h0m13-7h0m285 9h0m8-8h0m6 7h0m20-1h0m6-2h0m3-5h0m13 2h0m33 7h0m8-6h0m1 7h0m59-2h0m78-9h0m6 7h0m-551 7h0m9 7h0m2-6h0m7-1h0m295 3h0m5 4h0m1-1h0m21-1h0m1 0h0m23 3h0m57-1h0m3 1h0m79-11h0m34 4h0m10 5h0m31 0h0m-280 7h0m14 7h0m13-8h0m4-3h0m30 0h0m41 4h0m10 0h0m12 4h0m43-5h0m16 6h0m10-7h0m29 7h0m39-4h0m-258 18h0m0-6h0m3 1h0m87 4h0m12-9h0m77 7h0m28-3h0m58 1h0m5-5h0m-254 12h0m1 8h0m35 0h0m30 0h0m11 2h0m25-2h0m54-1h0m5 3h0m25 0h0m19-7h0m1 0h0m-159 15h0m33-5h0m19 6h0m68 0h0m24-3h0m-127 8h0m130 4h0" stroke="#9335f3" stroke-width="5.2" stroke-linecap="round" fill="none" transform="scale(0.5)"/>
<text x="1.5" y="36.5" font-size="38" font-weight="bold">a</text>
<text x="177.9" y="30.8" font-size="21.85" text-anchor="middle" fill="#2b2be6">DAPI</text>
<text x="442.7" y="31.0" font-size="21.85" text-anchor="middle" fill="#4ade35">FATP2</text>
<text x="708.9" y="30.6" font-size="21.85" text-anchor="middle" fill="#e0201c">C11-BODIPY</text>
<text x="976.8" y="30.6" font-size="21.85" text-anchor="middle">Merge</text>
<defs><filter id="fB1" x="0" y="0" width="1" height="1" filterUnits="objectBoundingBox" color-interpolation-filters="sRGB"><feTurbulence type="fractalNoise" baseFrequency="0.035" numOctaves="2" seed="41" result="m0"/><feColorMatrix in="m0" type="matrix" values="0 0 0 0 1 0 0 0 0 1 0 0 0 0 1 7 0 0 0 -3.0" result="m1"/><feTurbulence type="fractalNoise" baseFrequency="0.3 0.3" numOctaves="2" seed="3"/><feColorMatrix type="matrix" values="0 0 0 0 0.16 0 0 0 0 0.07 0 0 0 0 0.95 6 0 0 0 -3.1"/><feGaussianBlur stdDeviation="0.4"/><feComposite operator="in" in2="m1"/><feComposite operator="in" in2="SourceGraphic"/></filter><filter id="fB1b" x="0" y="0" width="1" height="1" filterUnits="objectBoundingBox" color-interpolation-filters="sRGB"><feTurbulence type="fractalNoise" baseFrequency="0.06" numOctaves="2" seed="43" result="m0"/><feColorMatrix in="m0" type="matrix" values="0 0 0 0 1 0 0 0 0 1 0 0 0 0 1 6 0 0 0 -2.4" result="m1"/><feTurbulence type="fractalNoise" baseFrequency="0.3 0.3" numOctaves="2" seed="13"/><feColorMatrix type="matrix" values="0 0 0 0 0.16 0 0 0 0 0.07 0 0 0 0 0.95 6 0 0 0 -2.9"/><feGaussianBlur stdDeviation="0.4"/><feComposite operator="in" in2="m1"/><feComposite operator="in" in2="SourceGraphic"/></filter><filter id="fB2" x="0" y="0" width="1" height="1" filterUnits="objectBoundingBox" color-interpolation-filters="sRGB"><feTurbulence type="fractalNoise" baseFrequency="0.03" numOctaves="2" seed="47" result="m0"/><feColorMatrix in="m0" type="matrix" values="0 0 0 0 1 0 0 0 0 1 0 0 0 0 1 6 0 0 0 -2.2" result="m1"/><feTurbulence type="fractalNoise" baseFrequency="0.28 0.28" numOctaves="2" seed="9"/><feColorMatrix type="matrix" values="0 0 0 0 0.16 0 0 0 0 0.07 0 0 0 0 0.95 6 0 0 0 -2.95"/><feGaussianBlur stdDeviation="0.4"/><feComposite operator="in" in2="m1"/><feComposite operator="in" in2="SourceGraphic"/></filter><filter id="fB3" x="0" y="0" width="1" height="1" filterUnits="objectBoundingBox" color-interpolation-filters="sRGB"><feTurbulence type="fractalNoise" baseFrequency="0.3 0.3" numOctaves="2" seed="21"/><feColorMatrix type="matrix" values="0 0 0 0 0.18 0 0 0 0 0.08 0 0 0 0 1 6 0 0 0 -2.6"/><feGaussianBlur stdDeviation="0.4"/><feComposite operator="in" in2="SourceGraphic"/></filter><filter id="fBm" x="0" y="0" width="1" height="1" filterUnits="objectBoundingBox" color-interpolation-filters="sRGB"><feTurbulence type="fractalNoise" baseFrequency="0.03" numOctaves="2" seed="51" result="m0"/><feColorMatrix in="m0" type="matrix" values="0 0 0 0 1 0 0 0 0 1 0 0 0 0 1 7 0 0 0 -2.9" result="m1"/><feTurbulence type="fractalNoise" baseFrequency="0.3 0.3" numOctaves="2" seed="29"/><feColorMatrix type="matrix" values="0 0 0 0 0.16 0 0 0 0 0.07 0 0 0 0 0.95 6 0 0 0 -3.15"/><feGaussianBlur stdDeviation="0.4"/><feComposite operator="in" in2="m1"/><feComposite operator="in" in2="SourceGraphic"/></filter><filter id="fBz" x="0" y="0" width="1" height="1" filterUnits="objectBoundingBox" color-interpolation-filters="sRGB"><feTurbulence type="fractalNoise" baseFrequency="0.03" numOctaves="2" seed="53" result="m0"/><feColorMatrix in="m0" type="matrix" values="0 0 0 0 1 0 0 0 0 1 0 0 0 0 1 7 0 0 0 -2.8" result="m1"/><feTurbulence type="fractalNoise" baseFrequency="0.15 0.15" numOctaves="2" seed="5"/><feColorMatrix type="matrix" values="0 0 0 0 0.16 0 0 0 0 0.07 0 0 0 0 0.95 8 0 0 0 -4.55"/><feGaussianBlur stdDeviation="0.5"/><feComposite operator="in" in2="m1"/><feComposite operator="in" in2="SourceGraphic"/></filter><filter id="fBz2" x="0" y="0" width="1" height="1" filterUnits="objectBoundingBox" color-interpolation-filters="sRGB"><feTurbulence type="fractalNoise" baseFrequency="0.16 0.16" numOctaves="2" seed="8"/><feColorMatrix type="matrix" values="0 0 0 0 0.16 0 0 0 0 0.07 0 0 0 0 0.95 8 0 0 0 -4.0"/><feGaussianBlur stdDeviation="0.5"/><feComposite operator="in" in2="SourceGraphic"/></filter><filter id="fBz3" x="0" y="0" width="1" height="1" filterUnits="objectBoundingBox" color-interpolation-filters="sRGB"><feTurbulence type="fractalNoise" baseFrequency="0.11 0.13" numOctaves="2" seed="15"/><feColorMatrix type="matrix" values="0 0 0 0 0.16 0 0 0 0 0.07 0 0 0 0 0.95 9 0 0 0 -5.2"/><feGaussianBlur stdDeviation="0.5"/><feComposite operator="in" in2="SourceGraphic"/></filter><filter id="fDk" x="0" y="0" width="1" height="1" filterUnits="objectBoundingBox" color-interpolation-filters="sRGB"><feTurbulence type="fractalNoise" baseFrequency="0.4 0.03" numOctaves="2" seed="4"/><feColorMatrix type="matrix" values="0 0 0 0 0.03 0 0 0 0 0.2 0 0 0 0 0.02 5 0 0 0 -2.35"/><feGaussianBlur stdDeviation="0.6"/><feComposite operator="in" in2="SourceGraphic"/></filter><filter id="fDkR" x="0" y="0" width="1" height="1" filterUnits="objectBoundingBox" color-interpolation-filters="sRGB"><feTurbulence type="fractalNoise" baseFrequency="0.4 0.03" numOctaves="2" seed="6"/><feColorMatrix type="matrix" values="0 0 0 0 0.28 0 0 0 0 0.05 0 0 0 0 0 5 0 0 0 -2.35"/><feGaussianBlur stdDeviation="0.6"/><feComposite operator="in" in2="SourceGraphic"/></filter><filter id="fRd" x="0" y="0" width="1" height="1" filterUnits="objectBoundingBox" color-interpolation-filters="sRGB"><feTurbulence type="fractalNoise" baseFrequency="0.2 0.2" numOctaves="2" seed="14"/><feColorMatrix type="matrix" values="0 0 0 0 0.6 0 0 0 0 0.17 0 0 0 0 0.03 9 0 0 0 -5.9"/><feGaussianBlur stdDeviation="0.5"/><feComposite operator="in" in2="SourceGraphic"/></filter><filter id="fM" x="0" y="0" width="1" height="1" filterUnits="objectBoundingBox" color-interpolation-filters="sRGB"><feTurbulence type="fractalNoise" baseFrequency="0.4 0.07" numOctaves="2" seed="12"/><feColorMatrix type="matrix" values="0 0 0 0 0.15 0 0 0 0 0.15 0 0 0 0 0.92 6 0 0 0 -3.15"/><feGaussianBlur stdDeviation="0.4"/><feComposite operator="in" in2="SourceGraphic"/></filter><filter id="fW" x="0" y="0" width="1" height="1" filterUnits="objectBoundingBox" color-interpolation-filters="sRGB"><feTurbulence type="fractalNoise" baseFrequency="0.4 0.06" numOctaves="2" seed="19"/><feColorMatrix type="matrix" values="0 0 0 0 0.8 0 0 0 0 0.95 0 0 0 0 0.95 6 0 0 0 -3.3"/><feGaussianBlur stdDeviation="0.4"/><feComposite operator="in" in2="SourceGraphic"/></filter><filter id="fMz" x="0" y="0" width="1" height="1" filterUnits="objectBoundingBox" color-interpolation-filters="sRGB"><feTurbulence type="fractalNoise" baseFrequency="0.2 0.07" numOctaves="2" seed="17"/><feColorMatrix type="matrix" values="0 0 0 0 0.15 0 0 0 0 0.1 0 0 0 0 0.95 7 0 0 0 -3.45"/><feGaussianBlur stdDeviation="0.5"/><feComposite operator="in" in2="SourceGraphic"/></filter><filter id="fY" x="0" y="0" width="1" height="1" filterUnits="objectBoundingBox" color-interpolation-filters="sRGB"><feTurbulence type="fractalNoise" baseFrequency="0.25 0.05" numOctaves="2" seed="23"/><feColorMatrix type="matrix" values="0 0 0 0 1 0 0 0 0 0.72 0 0 0 0 0.1 6 0 0 0 -2.9"/><feGaussianBlur stdDeviation="0.5"/><feComposite operator="in" in2="SourceGraphic"/></filter><filter id="fPk" x="0" y="0" width="1" height="1" filterUnits="objectBoundingBox" color-interpolation-filters="sRGB"><feTurbulence type="fractalNoise" baseFrequency="0.18 0.12" numOctaves="2" seed="31"/><feColorMatrix type="matrix" values="0 0 0 0 0.9 0 0 0 0 0.25 0 0 0 0 0.9 10 0 0 0 -5.7"/><feGaussianBlur stdDeviation="0.5"/><feComposite operator="in" in2="SourceGraphic"/></filter><filter id="bl1"><feGaussianBlur stdDeviation="0.7"/></filter><filter id="bl2"><feGaussianBlur stdDeviation="1.6"/></filter><filter id="bl3"><feGaussianBlur stdDeviation="2.6"/></filter><filter id="bl4"><feGaussianBlur stdDeviation="5"/></filter><clipPath id="cp00"><rect x="48.8" y="58.2" width="259.5" height="259.5"/></clipPath><clipPath id="cp01"><rect x="314" y="58.2" width="259.5" height="259.5"/></clipPath><clipPath id="cp02"><rect x="580.4" y="58.2" width="259.5" height="259.5"/></clipPath><clipPath id="cp03"><rect x="847.6" y="58.2" width="259.5" height="259.5"/></clipPath><clipPath id="cp04"><rect x="1113.9" y="58.2" width="259.5" height="259.5"/></clipPath><clipPath id="cp10"><rect x="48.8" y="325.3" width="259.5" height="259.5"/></clipPath><clipPath id="cp11"><rect x="312.6" y="325.3" width="259.5" height="259.5"/></clipPath><clipPath id="cp12"><rect x="579.9" y="325.3" width="259.5" height="259.5"/></clipPath><clipPath id="cp13"><rect x="845.7" y="325.3" width="259.5" height="259.5"/></clipPath><clipPath id="cp14"><rect x="1113.9" y="325.3" width="259.5" height="259.5"/></clipPath></defs>
<g clip-path="url(#cp00)"><rect x="48.8" y="58.2" width="259.5" height="259.5" fill="#000"/><path d="M46.8 213.2C53.0 211.7 71.0 207.0 83.8 204.2C96.6 201.4 109.3 198.2 123.8 196.2C138.3 194.2 155.8 193.5 170.8 192.2C185.8 190.9 200.1 189.0 213.8 188.2C227.5 187.4 240.3 186.7 252.8 187.2C265.3 187.7 279.1 190.0 288.8 191.2C298.5 192.4 307.1 193.7 310.8 194.2L310.8 320.2L46.8 320.2Z" fill="#fff" filter="url(#fB1)"/><path d="M46.8 202.2C53.0 200.7 71.0 196.0 83.8 193.2C96.6 190.4 109.3 187.2 123.8 185.2C138.3 183.2 155.8 182.5 170.8 181.2C185.8 179.9 200.1 178.0 213.8 177.2C227.5 176.4 240.3 175.7 252.8 176.2C265.3 176.7 279.1 179.0 288.8 180.2C298.5 181.4 307.1 182.7 310.8 183.2L310.8 198.2C307.1 197.7 298.5 196.4 288.8 195.2C279.1 194.0 265.3 191.7 252.8 191.2C240.3 190.7 227.5 191.4 213.8 192.2C200.1 193.0 185.8 194.9 170.8 196.2C155.8 197.5 138.3 198.2 123.8 200.2C109.3 202.2 96.6 205.4 83.8 208.2C71.0 211.0 53.0 215.7 46.8 217.2Z" fill="#fff" filter="url(#fB1b)"/><ellipse cx="125.6" cy="220.8" rx="11" ry="11" fill="#000" fill-opacity="0.7" stroke="#2a16e0" stroke-width="1.7" stroke-dasharray="5 1.5 2 1" filter="url(#bl1)"/><ellipse cx="103.3" cy="230.89999999999998" rx="6" ry="6" fill="#000" fill-opacity="0.7" stroke="#2a16e0" stroke-width="1.7" stroke-dasharray="5 1.5 2 1" filter="url(#bl1)"/><ellipse cx="89.1" cy="241.0" rx="5" ry="5" fill="#000" fill-opacity="0.7" stroke="#2a16e0" stroke-width="1.7" stroke-dasharray="5 1.5 2 1" filter="url(#bl1)"/><ellipse cx="119.5" cy="249.10000000000002" rx="13" ry="9" fill="#000" fill-opacity="0.7" stroke="#2a16e0" stroke-width="1.7" stroke-dasharray="5 1.5 2 1" filter="url(#bl1)"/><ellipse cx="87.1" cy="271.4" rx="10" ry="15" fill="#000" fill-opacity="0.7" stroke="#2a16e0" stroke-width="1.7" stroke-dasharray="5 1.5 2 1" filter="url(#bl1)"/><ellipse cx="83.0" cy="295.7" rx="8" ry="8" fill="#000" fill-opacity="0.7" stroke="#2a16e0" stroke-width="1.7" stroke-dasharray="5 1.5 2 1" filter="url(#bl1)"/><ellipse cx="105.3" cy="293.7" rx="10" ry="10" fill="#000" fill-opacity="0.7" stroke="#2a16e0" stroke-width="1.7" stroke-dasharray="5 1.5 2 1" filter="url(#bl1)"/><ellipse cx="199.5" cy="206.60000000000002" rx="6" ry="6" fill="#000" fill-opacity="0.7" stroke="#2a16e0" stroke-width="1.7" stroke-dasharray="5 1.5 2 1" filter="url(#bl1)"/><ellipse cx="194.39999999999998" cy="220.8" rx="6" ry="9" fill="#000" fill-opacity="0.7" stroke="#2a16e0" stroke-width="1.7" stroke-dasharray="5 1.5 2 1" filter="url(#bl1)"/><ellipse cx="190.39999999999998" cy="251.10000000000002" rx="5" ry="5" fill="#000" fill-opacity="0.7" stroke="#2a16e0" stroke-width="1.7" stroke-dasharray="5 1.5 2 1" filter="url(#bl1)"/><ellipse cx="259.2" cy="257.2" rx="10" ry="10" fill="#000" fill-opacity="0.7" stroke="#2a16e0" stroke-width="1.7" stroke-dasharray="5 1.5 2 1" filter="url(#bl1)"/><ellipse cx="269.4" cy="212.7" rx="8" ry="8" fill="#000" fill-opacity="0.7" stroke="#2a16e0" stroke-width="1.7" stroke-dasharray="5 1.5 2 1" filter="url(#bl1)"/><ellipse cx="296.8" cy="233.2" rx="9" ry="11" fill="#000" fill-opacity="0.7" stroke="#2a16e0" stroke-width="1.7" stroke-dasharray="5 1.5 2 1" filter="url(#bl1)"/><circle cx="201.5" cy="263.3" r="6" fill="#2a18ea" filter="url(#bl1)"/><text x="58.0" y="80.0" font-size="22.3" fill="#fff">Healthy</text><text x="58.0" y="107.1" font-size="22.3" fill="#fff">(n = 3)</text><rect x="256.8" y="302.1" width="41.1" height="3.0" fill="#fff"/><text x="302.7" y="294.7" font-size="17.9" text-anchor="end" fill="#fff">100um</text></g>
<g clip-path="url(#cp01)"><rect x="314.0" y="58.2" width="259.5" height="259.5" fill="#000"/><path d="M740 353h0m-29 13h0m44-3h0m156-8h0m76-1h0m-305 19h0m71 2h0m123 2h0m217-4h0m-383 15h0m192-10h0m56 9h0m11-8h0m151 16h0m-262 18h0m-110 32h0m120 4h0m54 11h0m122-2h0m26 27h0m-31 3h0m82 0h0m-27 16h0m-318 37h0m169 3h0m-7 5h0m129 10h0m-152 31h0m197 1h0m15 34h0" stroke="#1f8a1a" stroke-width="2.6" stroke-linecap="round" fill="none" transform="scale(0.5)"/><circle cx="525" cy="182.2" r="1.8" fill="#35d02a"/><rect x="519.0" y="303.0" width="41.4" height="3.0" fill="#fff"/><text x="563.8" y="296.0" font-size="17.9" text-anchor="end" fill="#fff">100um</text></g>
<g clip-path="url(#cp02)"><rect x="580.4" y="58.2" width="259.5" height="259.5" fill="#000"/><circle cx="732.8" cy="262" r="6.5" fill="#e8501a" fill-opacity="0.2" stroke="#e8501a" stroke-width="1.8" filter="url(#bl1)"/><circle cx="635.7" cy="230.5" r="5" fill="#a83a10" fill-opacity="0.2" stroke="#a83a10" stroke-width="1.8" filter="url(#bl1)"/><circle cx="618.8" cy="240" r="4.5" fill="#8a2c0c" fill-opacity="0.2" stroke="#8a2c0c" stroke-width="1.8" filter="url(#bl1)"/><circle cx="620" cy="268.8" r="12" fill="#5a1c06" fill-opacity="0.2" stroke="#5a1c06" stroke-width="1.8" filter="url(#bl1)"/><circle cx="615.5" cy="293.4" r="8.5" fill="#6a2008" fill-opacity="0.2" stroke="#6a2008" stroke-width="1.8" filter="url(#bl1)"/><circle cx="722.7" cy="221.7" r="5" fill="#8a2c0c" fill-opacity="0.2" stroke="#8a2c0c" stroke-width="1.8" filter="url(#bl1)"/><circle cx="729.5" cy="207.2" r="8" fill="#4a1604" fill-opacity="0.2" stroke="#4a1604" stroke-width="1.8" filter="url(#bl1)"/><circle cx="722.7" cy="249.6" r="5.5" fill="#a83a10" fill-opacity="0.2" stroke="#a83a10" stroke-width="1.8" filter="url(#bl1)"/><circle cx="746.7" cy="313.9" r="5" fill="#8a2c0c" fill-opacity="0.2" stroke="#8a2c0c" stroke-width="1.8" filter="url(#bl1)"/><circle cx="815.6" cy="312.5" r="10" fill="#4a1604" fill-opacity="0.2" stroke="#4a1604" stroke-width="1.8" filter="url(#bl1)"/><circle cx="650" cy="250" r="10" fill="#3a1003" fill-opacity="0.2" stroke="#3a1003" stroke-width="1.8" filter="url(#bl1)"/><circle cx="660" cy="305" r="9" fill="#3a1003" fill-opacity="0.2" stroke="#3a1003" stroke-width="1.8" filter="url(#bl1)"/><circle cx="640" cy="215" r="6" fill="#3a1003" fill-opacity="0.2" stroke="#3a1003" stroke-width="1.8" filter="url(#bl1)"/><circle cx="732.8" cy="262" r="3.5" fill="#e85a1f" filter="url(#bl1)"/><path d="M1482 447h0m41 3h0m26 5h0m-50 9h0m14 7h0m115-3h0m25 5h0m-189 12h0m11-7h0m11 3h0m20 4h0m0-2h0m-27 13h0m107-7h0m4-2h0m33 9h0m-118 11h0m-20 5h0m54 6h0m39-1h0m84 6h0m-182 18h0m32 4h0m134 0h0m-158 7h0m152 0h0m-142 14h0m3 2h0m10-5h0m152 10h0m2 8h0m-150 4h0m63 5h0m3 2h0m71-8h0m-127 12h0m91 10h0m-147 4h0m13 4h0m20-7h0" stroke="#4a1604" stroke-width="2.8" stroke-linecap="round" fill="none" transform="scale(0.5)"/><rect x="787.5" y="302.7" width="40.5" height="3.0" fill="#fff"/><text x="831.7" y="297.5" font-size="17.9" text-anchor="end" fill="#fff">100um</text></g>
<g clip-path="url(#cp03)"><rect x="847.6" y="58.2" width="259.5" height="259.5" fill="#000"/><path d="M845.6 213.2C851.8 211.7 869.8 207.0 882.6 204.2C895.4 201.4 908.1 198.2 922.6 196.2C937.1 194.2 954.6 193.5 969.6 192.2C984.6 190.9 998.9 189.0 1012.6 188.2C1026.3 187.4 1039.1 186.7 1051.6 187.2C1064.1 187.7 1077.9 190.0 1087.6 191.2C1097.3 192.4 1105.9 193.7 1109.6 194.2L1109.6 320.2L845.6 320.2Z" fill="#fff" filter="url(#fBm)"/><path d="M845.6 202.2C851.8 200.7 869.8 196.0 882.6 193.2C895.4 190.4 908.1 187.2 922.6 185.2C937.1 183.2 954.6 182.5 969.6 181.2C984.6 179.9 998.9 178.0 1012.6 177.2C1026.3 176.4 1039.1 175.7 1051.6 176.2C1064.1 176.7 1077.9 179.0 1087.6 180.2C1097.3 181.4 1105.9 182.7 1109.6 183.2L1109.6 198.2C1105.9 197.7 1097.3 196.4 1087.6 195.2C1077.9 194.0 1064.1 191.7 1051.6 191.2C1039.1 190.7 1026.3 191.4 1012.6 192.2C998.9 193.0 984.6 194.9 969.6 196.2C954.6 197.5 937.1 198.2 922.6 200.2C908.1 202.2 895.4 205.4 882.6 208.2C869.8 211.0 851.8 215.7 845.6 217.2Z" fill="#fff" filter="url(#fB1b)"/><circle cx="1000.0" cy="262" r="6.5" fill="#000" fill-opacity="0.5" stroke="#4a22d8" stroke-width="1.8" filter="url(#bl1)"/><circle cx="1000.0" cy="262" r="5.0" fill="none" stroke="#e8501a" stroke-width="1.4" filter="url(#bl1)"/><circle cx="902.9" cy="230.5" r="5" fill="#000" fill-opacity="0.5" stroke="#4a22d8" stroke-width="1.8" filter="url(#bl1)"/><circle cx="902.9" cy="230.5" r="3.5" fill="none" stroke="#a83a10" stroke-width="1.4" filter="url(#bl1)"/><circle cx="886.0" cy="240" r="4.5" fill="#000" fill-opacity="0.5" stroke="#4a22d8" stroke-width="1.8" filter="url(#bl1)"/><circle cx="886.0" cy="240" r="3.0" fill="none" stroke="#8a2c0c" stroke-width="1.4" filter="url(#bl1)"/><circle cx="887.2" cy="268.8" r="12" fill="#000" fill-opacity="0.5" stroke="#4a22d8" stroke-width="1.8" filter="url(#bl1)"/><circle cx="887.2" cy="268.8" r="10.5" fill="none" stroke="#5a1c06" stroke-width="1.4" filter="url(#bl1)"/><circle cx="882.7" cy="293.4" r="8.5" fill="#000" fill-opacity="0.5" stroke="#4a22d8" stroke-width="1.8" filter="url(#bl1)"/><circle cx="882.7" cy="293.4" r="7.0" fill="none" stroke="#6a2008" stroke-width="1.4" filter="url(#bl1)"/><circle cx="989.9" cy="221.7" r="5" fill="#000" fill-opacity="0.5" stroke="#4a22d8" stroke-width="1.8" filter="url(#bl1)"/><circle cx="989.9" cy="221.7" r="3.5" fill="none" stroke="#8a2c0c" stroke-width="1.4" filter="url(#bl1)"/><circle cx="996.7" cy="207.2" r="8" fill="#000" fill-opacity="0.5" stroke="#4a22d8" stroke-width="1.8" filter="url(#bl1)"/><circle cx="996.7" cy="207.2" r="6.5" fill="none" stroke="#4a1604" stroke-width="1.4" filter="url(#bl1)"/><circle cx="989.9" cy="249.6" r="5.5" fill="#000" fill-opacity="0.5" stroke="#4a22d8" stroke-width="1.8" filter="url(#bl1)"/><circle cx="989.9" cy="249.6" r="4.0" fill="none" stroke="#a83a10" stroke-width="1.4" filter="url(#bl1)"/><circle cx="1013.9" cy="313.9" r="5" fill="#000" fill-opacity="0.5" stroke="#4a22d8" stroke-width="1.8" filter="url(#bl1)"/><circle cx="1013.9" cy="313.9" r="3.5" fill="none" stroke="#8a2c0c" stroke-width="1.4" filter="url(#bl1)"/><circle cx="1082.8" cy="312.5" r="10" fill="#000" fill-opacity="0.5" stroke="#4a22d8" stroke-width="1.8" filter="url(#bl1)"/><circle cx="1082.8" cy="312.5" r="8.5" fill="none" stroke="#4a1604" stroke-width="1.4" filter="url(#bl1)"/><circle cx="1000.0" cy="262" r="4.5" fill="#e85aa0" filter="url(#bl1)"/><circle cx="1058.6" cy="182.2" r="1.8" fill="#35d02a"/><rect x="927.2" y="149" width="98.4" height="97.3" fill="none" stroke="#fff" stroke-width="2.8" stroke-dasharray="8 3"/><line x1="1025.6" y1="149.0" x2="1106.3" y2="63.7" stroke="#fff" stroke-width="2.8" stroke-dasharray="8 3"/><line x1="1025.6" y1="246.3" x2="1106.3" y2="308.4" stroke="#fff" stroke-width="2.8" stroke-dasharray="8 3"/><rect x="1058.5" y="306.0" width="41.0" height="3.0" fill="#fff"/></g>
<g clip-path="url(#cp04)"><rect x="1113.9" y="58.2" width="259.5" height="259.5" fill="#000"/><path d="M1113.9 193.0C1116.9 190.9 1120.8 182.6 1131.6 180.7C1142.4 178.8 1163.2 181.0 1179.0 181.5C1194.8 182.0 1210.6 184.3 1226.4 183.9C1242.2 183.5 1258.0 179.8 1273.8 179.1C1289.6 178.4 1304.6 178.9 1321.2 180.0C1337.8 181.1 1364.6 184.6 1373.3 185.5L1373.3 214.5C1364.6 213.6 1337.8 210.1 1321.2 209.0C1304.6 207.9 1289.6 207.4 1273.8 208.1C1258.0 208.8 1242.2 212.5 1226.4 212.9C1210.6 213.3 1194.8 211.0 1179.0 210.5C1163.2 210.0 1142.4 208.8 1131.6 209.7C1120.8 210.6 1116.9 214.9 1113.9 216.0Z" fill="#fff" filter="url(#fBz2)"/><path d="M1113.9 224.0C1116.9 222.9 1120.8 218.6 1131.6 217.7C1142.4 216.8 1163.2 218.0 1179.0 218.5C1194.8 219.0 1210.6 221.3 1226.4 220.9C1242.2 220.5 1258.0 216.8 1273.8 216.1C1289.6 215.4 1304.6 215.9 1321.2 217.0C1337.8 218.1 1364.6 221.6 1373.3 222.5L1373.4 317.7L1113.9 317.7Z" fill="#fff" filter="url(#fBz)"/><ellipse cx="1148" cy="270" rx="20" ry="17" fill="#000" fill-opacity="0.7" stroke="#2a18ea" stroke-width="2.6" stroke-dasharray="4 2" filter="url(#bl1)"/><ellipse cx="1284" cy="228" rx="12" ry="11" fill="#000" fill-opacity="0.7" stroke="#2a18ea" stroke-width="2.6" stroke-dasharray="4 2" filter="url(#bl1)"/><ellipse cx="1262" cy="268" rx="7" ry="14" fill="#000" fill-opacity="0.7" stroke="#2a18ea" stroke-width="2.6" stroke-dasharray="4 2" filter="url(#bl1)"/><ellipse cx="1230" cy="330" rx="22" ry="16" fill="#000" fill-opacity="0.7" stroke="#2a18ea" stroke-width="2.6" stroke-dasharray="4 2" filter="url(#bl1)"/><ellipse cx="1330" cy="250" rx="13" ry="12" fill="#000" fill-opacity="0.7" stroke="#2a18ea" stroke-width="2.6" stroke-dasharray="4 2" filter="url(#bl1)"/><ellipse cx="1284" cy="228" rx="12" ry="11" fill="none" stroke="#c0401a" stroke-width="1.4" stroke-dasharray="14 6" filter="url(#bl1)"/><ellipse cx="1262" cy="268" rx="7" ry="14" fill="none" stroke="#c0401a" stroke-width="1.4" stroke-dasharray="12 9" filter="url(#bl1)"/><ellipse cx="1262" cy="318" rx="9" ry="6" fill="#e0401a" filter="url(#bl1)"/><path d="M1113.9 219.0C1116.9 217.9 1120.8 213.6 1131.6 212.7C1142.4 211.8 1163.2 213.0 1179.0 213.5C1194.8 214.0 1210.6 216.3 1226.4 215.9C1242.2 215.5 1258.0 211.8 1273.8 211.1C1289.6 210.4 1304.6 210.9 1321.2 212.0C1337.8 213.1 1364.6 216.6 1373.3 217.5" fill="none" stroke="#fff" stroke-width="2.8" stroke-dasharray="8 3"/><rect x="1324.3" y="304.0" width="40.3" height="2.8" fill="#fff"/><text x="1364.8" y="294.9" font-size="17.9" text-anchor="end" fill="#fff">50um</text></g>
<g clip-path="url(#cp10)"><rect x="48.8" y="325.3" width="259.5" height="259.5" fill="#000"/><path d="M46.8 394.3C49.8 394.0 57.6 392.2 64.7 392.6C71.8 393.1 83.7 394.2 89.2 397.0C94.6 399.8 94.2 408.2 97.4 409.6C100.6 411.0 105.1 405.1 108.3 405.2C111.5 405.3 111.9 409.6 116.4 410.0C120.9 410.4 128.7 407.3 135.5 407.9C142.3 408.4 149.1 411.0 157.3 413.3C165.5 415.6 175.4 417.9 184.5 421.5C193.6 425.1 202.6 429.7 211.7 435.1C220.8 440.5 231.6 448.9 238.9 454.1C246.1 459.3 250.7 462.0 255.2 466.1C259.7 470.2 261.6 475.2 266.1 478.6C270.7 482.1 277.1 483.2 282.5 486.8C287.9 490.4 294.0 495.9 298.8 500.4C303.6 504.8 309.1 511.3 311.2 513.5L310.8 587.3L46.8 587.3Z" fill="#06002a"/><path d="M46.8 400.3C49.8 400.0 57.6 398.2 64.7 398.6C71.8 399.1 83.7 400.2 89.2 403.0C94.6 405.8 94.2 414.2 97.4 415.6C100.6 417.0 105.1 411.1 108.3 411.2C111.5 411.3 111.9 415.6 116.4 416.0C120.9 416.4 128.7 413.3 135.5 413.9C142.3 414.4 149.1 417.0 157.3 419.3C165.5 421.6 175.4 423.9 184.5 427.5C193.6 431.1 202.6 435.7 211.7 441.1C220.8 446.5 231.6 454.9 238.9 460.1C246.1 465.3 250.7 468.0 255.2 472.1C259.7 476.2 261.6 481.2 266.1 484.6C270.7 488.1 277.1 489.2 282.5 492.8C287.9 496.4 294.0 501.9 298.8 506.4C303.6 510.8 309.1 517.3 311.2 519.5L310.8 587.3L46.8 587.3Z" fill="#fff" filter="url(#fB2)"/><path d="M46.8 396.3C49.8 396.0 57.6 394.2 64.7 394.6C71.8 395.1 83.7 396.2 89.2 399.0C94.6 401.8 94.2 410.2 97.4 411.6C100.6 413.0 105.1 407.1 108.3 407.2C111.5 407.3 111.9 411.6 116.4 412.0C120.9 412.4 128.7 409.3 135.5 409.9C142.3 410.4 149.1 413.0 157.3 415.3C165.5 417.6 175.4 419.9 184.5 423.5C193.6 427.1 202.6 431.7 211.7 437.1C220.8 442.5 231.6 450.9 238.9 456.1C246.1 461.3 250.7 464.0 255.2 468.1C259.7 472.2 261.6 477.2 266.1 480.6C270.7 484.1 277.1 485.2 282.5 488.8C287.9 492.4 294.0 497.9 298.8 502.4C303.6 506.8 309.1 513.3 311.2 515.5L311.2 531.7C309.1 530.3 303.6 526.5 298.8 523.3C294.0 520.2 287.9 516.3 282.5 513.0C277.1 509.7 270.7 506.3 266.1 503.4C261.6 500.6 259.7 499.0 255.2 496.1C250.7 493.2 246.1 490.5 238.9 486.0C231.6 481.5 220.8 474.1 211.7 469.2C202.6 464.3 193.6 459.8 184.5 456.6C175.4 453.3 165.5 451.7 157.3 449.8C149.1 447.9 142.3 446.5 135.5 445.3C128.7 444.0 120.9 443.2 116.4 442.3C111.9 441.5 111.5 440.9 108.3 440.3C105.1 439.6 100.6 439.5 97.4 438.5C94.2 437.6 94.6 436.5 89.2 434.6C83.7 432.7 71.8 429.2 64.7 427.1C57.6 425.1 49.8 423.1 46.8 422.3Z" fill="#fff" filter="url(#fB3)"/><ellipse cx="143.8" cy="540.3" rx="22" ry="55" fill="#000" fill-opacity="0.85" transform="rotate(25 143.8 540.3)" filter="url(#bl4)"/><ellipse cx="63.8" cy="515.3" rx="12" ry="40" fill="#000" fill-opacity="0.85" transform="rotate(10 63.8 515.3)" filter="url(#bl4)"/><ellipse cx="223.8" cy="577.3" rx="30" ry="14" fill="#000" fill-opacity="0.85" transform="rotate(0 223.8 577.3)" filter="url(#bl4)"/><text x="58.0" y="352.6" font-size="22.3" fill="#fff">CRSwNP</text><text x="58.0" y="380.0" font-size="22.3" fill="#fff">(n = 16)</text><rect x="252.5" y="567.4" width="41.0" height="3.0" fill="#fff"/><text x="295.0" y="560.8" font-size="17.9" text-anchor="end" fill="#fff">100um</text></g>
<g clip-path="url(#cp11)"><rect x="312.6" y="325.3" width="259.5" height="259.5" fill="#000"/><path d="M310.6 410.3C313.6 410.0 321.4 408.2 328.5 408.6C335.6 409.1 347.6 410.2 353.0 413.0C358.4 415.8 358.0 424.2 361.2 425.6C364.4 427.0 368.9 421.1 372.1 421.2C375.3 421.3 375.7 425.6 380.2 426.0C384.7 426.4 392.5 423.3 399.3 423.9C406.1 424.4 412.9 427.0 421.1 429.3C429.3 431.6 439.2 433.9 448.3 437.5C457.4 441.1 466.4 445.7 475.5 451.1C484.6 456.5 495.5 464.9 502.7 470.1C510.0 475.3 514.5 478.0 519.0 482.1C523.5 486.2 525.4 491.2 529.9 494.6C534.5 498.1 540.8 499.2 546.3 502.8C551.8 506.4 557.8 511.9 562.6 516.4C567.4 520.9 572.9 527.3 575.0 529.5L574.6 587.3L310.6 587.3Z" fill="#010c01"/><path d="M310.6 390.0L315.1 387.8L319.6 387.9L324.0 388.4L328.5 388.9L332.6 387.6L336.7 389.4L340.8 392.7L344.8 393.8L348.9 393.0L353.0 393.9L357.1 399.7L361.2 403.9L366.7 401.2L372.1 398.9L376.2 405.6L380.2 407.0L385.0 407.7L389.8 402.7L394.5 405.1L399.3 403.8L403.7 406.1L408.0 405.2L412.4 409.5L416.7 406.2L421.1 409.5L425.6 411.8L430.2 414.0L434.7 414.5L439.2 415.7L443.8 417.5L448.3 419.5L452.8 419.1L457.4 422.9L461.9 426.2L466.4 428.3L471.0 428.4L475.5 432.5L480.0 436.0L484.6 437.8L489.1 441.2L493.6 443.2L498.2 447.3L502.7 450.6L506.8 451.1L510.9 456.8L514.9 461.5L519.0 463.9L524.5 469.4L529.9 474.1L534.0 477.8L538.1 479.1L542.2 480.5L546.3 484.4L550.4 484.2L554.5 490.8L558.5 490.7L562.6 496.9L566.7 500.7L570.9 503.8L575.0 509.5L575.0 529.7L562.6 521.3L546.3 511.0L529.9 501.4L519.0 494.1L502.7 484.0L475.5 467.2L448.3 454.6L421.1 447.8L399.3 443.3L380.2 440.3L372.1 438.3L361.2 436.5L353.0 432.6L328.5 425.1L310.6 420.3Z" fill="#1a6e14" filter="url(#bl2)"/><path d="M310.6 390.0L315.1 387.8L319.6 387.9L324.0 388.4L328.5 388.9L332.6 387.6L336.7 389.4L340.8 392.7L344.8 393.8L348.9 393.0L353.0 393.9L357.1 399.7L361.2 403.9L366.7 401.2L372.1 398.9L376.2 405.6L380.2 407.0L385.0 407.7L389.8 402.7L394.5 405.1L399.3 403.8L403.7 406.1L408.0 405.2L412.4 409.5L416.7 406.2L421.1 409.5L425.6 411.8L430.2 414.0L434.7 414.5L439.2 415.7L443.8 417.5L448.3 419.5L452.8 419.1L457.4 422.9L461.9 426.2L466.4 428.3L471.0 428.4L475.5 432.5L480.0 436.0L484.6 437.8L489.1 441.2L493.6 443.2L498.2 447.3L502.7 450.6L506.8 451.1L510.9 456.8L514.9 461.5L519.0 463.9L524.5 469.4L529.9 474.1L534.0 477.8L538.1 479.1L542.2 480.5L546.3 484.4L550.4 484.2L554.5 490.8L558.5 490.7L562.6 496.9L566.7 500.7L570.9 503.8L575.0 509.5L575.0 523.6L562.6 513.9L546.3 502.5L529.9 493.4L519.0 484.5L502.7 473.8L475.5 456.4L448.3 443.4L421.1 436.3L399.3 431.5L380.2 430.0L372.1 427.1L361.2 427.3L353.0 420.8L328.5 414.2L310.6 411.3Z" fill="#2fb024" filter="url(#bl2)"/><path d="M310.6 390.0L315.1 387.8L319.6 387.9L324.0 388.4L328.5 388.9L332.6 387.6L336.7 389.4L340.8 392.7L344.8 393.8L348.9 393.0L353.0 393.9L357.1 399.7L361.2 403.9L366.7 401.2L372.1 398.9L376.2 405.6L380.2 407.0L385.0 407.7L389.8 402.7L394.5 405.1L399.3 403.8L403.7 406.1L408.0 405.2L412.4 409.5L416.7 406.2L421.1 409.5L425.6 411.8L430.2 414.0L434.7 414.5L439.2 415.7L443.8 417.5L448.3 419.5L452.8 419.1L457.4 422.9L461.9 426.2L466.4 428.3L471.0 428.4L475.5 432.5L480.0 436.0L484.6 437.8L489.1 441.2L493.6 443.2L498.2 447.3L502.7 450.6L506.8 451.1L510.9 456.8L514.9 461.5L519.0 463.9L524.5 469.4L529.9 474.1L534.0 477.8L538.1 479.1L542.2 480.5L546.3 484.4L550.4 484.2L554.5 490.8L558.5 490.7L562.6 496.9L566.7 500.7L570.9 503.8L575.0 509.5L575.0 516.0L562.6 504.4L546.3 491.8L529.9 483.2L519.0 472.3L502.7 460.9L475.5 442.7L448.3 429.4L421.1 421.6L399.3 416.5L380.2 417.0L372.1 413.1L361.2 415.5L353.0 405.7L328.5 400.3L310.6 399.9Z" fill="#54ee3a" filter="url(#bl2)"/><path d="M310.6 394.3L328.5 392.6L353.0 397.0L361.2 409.6L372.1 405.2L380.2 410.0L399.3 407.9L421.1 413.3L448.3 421.5L475.5 435.1L502.7 454.1L519.0 466.1L529.9 478.6L546.3 486.8L562.6 500.4L575.0 513.5L575.0 530.7L562.6 522.3L546.3 512.0L529.9 502.4L519.0 495.1L502.7 485.0L475.5 468.2L448.3 455.6L421.1 448.8L399.3 444.3L380.2 441.3L372.1 439.3L361.2 437.5L353.0 433.6L328.5 426.1L310.6 421.3Z" fill="#fff" filter="url(#fDk)" opacity="0.6"/><path d="M646 879h0m20 7h0m-31 16h0m29-5h0m34 9h0m28 5h0m4 2h0m39 0h0m-135 9h0m17-1h0m70 2h0m34-1h0m-29 9h0m119 9h0m16 1h0m-50 3h0m4 5h0m44-4h0m13 13h0m-241 12h0m103-4h0m32 1h0m81 7h0m-111 14h0m22-4h0m29-6h0m33 10h0m81-7h0m3 7h0m23 2h0m-259 6h0m23-2h0m1 6h0m27 0h0m9-7h0m38-1h0m126 1h0m8 2h0m49 6h0m2-3h0m-320 8h0m65 8h0m12-8h0m5 7h0m52-7h0m29-2h0m8 1h0m17 3h0m29 0h0m69 4h0m0-2h0m32 3h0m38 1h0m-298 4h0m51 5h0m163-7h0m7 1h0m1 2h0m25-3h0m20 8h0m0-2h0m30-1h0m-192 9h0m26 6h0m145-3h0m2 3h0m13-1h0m12 1h0m-94 9h0m-174 6h0m7 4h0m78-4h0m101 4h0m22 1h0m24-3h0m75 0h0m13 0h0m-374 16h0m66-4h0m45 4h0m14-3h0m39 6h0m21-6h0m31 6h0m66-10h0m108 11h0m-380 13h0m69-2h0m23-3h0m4 4h0m117-2h0m65-1h0m-252 11h0m159 3h0m22-2h0m23 3h0m25-3h0m8 0h0m1-6h0m41 9h0m3-2h0m-203 9h0m14-1h0m30 2h0m4 2h0m70-3h0m108-4h0m70 6h0m7 2h0m-299 11h0m199 2h0m11-8h0m10-3h0m2 9h0m-336 11h0m58-7h0m257 3h0m69-4h0m31 10h0m10-1h0m-437 9h0m21-4h0m52 2h0m19 2h0m4 1h0m29 4h0m3-4h0m36-4h0m27-2h0m90 9h0m5-3h0m30 0h0m33 3h0m31-2h0m5-4h0m15 0h0m58 7h0m-472 2h0m8 7h0m88-2h0m151-3h0m98 4h0m49 3h0m94-5h0m5 3h0m-404 14h0m16-6h0m210 3h0m96 1h0m73-4h0" stroke="#2fd024" stroke-width="4.2" stroke-linecap="round" fill="none" transform="scale(0.5)"/><path d="M669 886h0m29 4h0m-54 4h0m63 5h0m65 6h0m-130 11h0m65-7h0m14 19h0m37-6h0m-90 14h0m4-6h0m120 11h0m-124 3h0m53 3h0m-86 16h0m21-7h0m9-1h0m3-1h0m112 11h0m7-9h0m38 7h0m4 2h0m-197 12h0m48 0h0m74-5h0m61 1h0m-135 9h0m19-2h0m19 5h0m72-1h0m40-4h0m39 7h0m-212 15h0m74-11h0m106 3h0m80 8h0m-286 4h0m98-1h0m83-2h0m62 2h0m-237 14h0m126 6h0m45-10h0m90 7h0m0-3h0m9 4h0m-181 11h0m24 3h0m37-8h0m33-2h0m61-1h0m26 7h0m0 2h0m86 1h0m-170 7h0m144 5h0m28-1h0m-326 9h0m16 4h0m117 1h0m88-1h0m-78 12h0m16-6h0m120 7h0m105-7h0m2-4h0m-356 18h0m48 2h0m64 2h0m22-8h0m34 5h0m30-2h0m27-4h0m52 4h0m23 0h0m2-5h0m-301 16h0m3 8h0m4-1h0m8-3h0m2 0h0m22 2h0m156 0h0m78-8h0m45 4h0m-200 14h0m71-3h0m19 0h0m159 6h0m-441 5h0m63 1h0m18 2h0m289 1h0m26-4h0m42 0h0m-304 20h0m299-10h0m-364 15h0m80-2h0m74 2h0m69 0h0m10 2h0m79-3h0m50-4h0m52 2h0m-458 16h0m76 0h0m69-5h0m113 8h0m192-5h0m35 0h0m-505 16h0m58-6h0m78 6h0m9-7h0m88-1h0m13 9h0m78-1h0m54 0h0m87 0h0" stroke="#187014" stroke-width="3.0" stroke-linecap="round" fill="none" transform="scale(0.5)"/><path d="M358.6 557.3l3 -6 3 7 -2 5 -4 -1z" fill="#3be02c"/><rect x="516.6" y="568.2" width="41.0" height="3.0" fill="#fff"/><text x="563.8" y="560.8" font-size="17.9" text-anchor="end" fill="#fff">100um</text></g>
<g clip-path="url(#cp12)"><rect x="579.9" y="325.3" width="259.5" height="259.5" fill="#000"/><path d="M577.9 410.3C580.9 410.0 588.7 408.2 595.8 408.6C602.9 409.1 614.8 410.2 620.3 413.0C625.8 415.8 625.3 424.2 628.5 425.6C631.7 427.0 636.2 421.1 639.4 421.2C642.6 421.3 643.0 425.6 647.5 426.0C652.0 426.4 659.8 423.3 666.6 423.9C673.4 424.4 680.2 427.0 688.4 429.3C696.6 431.6 706.5 433.9 715.6 437.5C724.7 441.1 733.7 445.7 742.8 451.1C751.9 456.5 762.8 464.9 770.0 470.1C777.2 475.3 781.8 478.0 786.3 482.1C790.8 486.2 792.7 491.2 797.2 494.6C801.8 498.1 808.1 499.2 813.6 502.8C819.0 506.4 825.1 511.9 829.9 516.4C834.7 520.9 840.2 527.3 842.3 529.5L841.9 587.3L577.9 587.3Z" fill="#1a0400"/><path d="M577.9 416.3C580.9 416.0 588.7 414.2 595.8 414.6C602.9 415.1 614.8 416.2 620.3 419.0C625.8 421.8 625.3 430.2 628.5 431.6C631.7 433.0 636.2 427.1 639.4 427.2C642.6 427.3 643.0 431.6 647.5 432.0C652.0 432.4 659.8 429.3 666.6 429.9C673.4 430.4 680.2 433.0 688.4 435.3C696.6 437.6 706.5 439.9 715.6 443.5C724.7 447.1 733.7 451.7 742.8 457.1C751.9 462.5 762.8 470.9 770.0 476.1C777.2 481.3 781.8 484.0 786.3 488.1C790.8 492.2 792.7 497.2 797.2 500.6C801.8 504.1 808.1 505.2 813.6 508.8C819.0 512.4 825.1 517.9 829.9 522.4C834.7 526.9 840.2 533.3 842.3 535.5L841.9 587.3L577.9 587.3Z" fill="#fff" filter="url(#fRd)" opacity="0.8"/><path d="M577.9 389.4L582.4 387.7L586.8 390.5L591.3 390.9L595.8 389.7L599.9 389.8L604.0 391.3L608.0 389.9L612.1 392.0L616.2 390.2L620.3 391.2L624.4 399.0L628.5 405.6L634.0 402.9L639.4 399.0L643.5 404.5L647.5 406.1L652.3 404.2L657.0 404.0L661.8 403.9L666.6 402.6L671.0 402.9L675.3 408.0L679.7 409.4L684.0 409.0L688.4 411.1L692.9 410.3L697.5 413.5L702.0 412.1L706.5 416.0L711.1 416.5L715.6 419.4L720.1 417.8L724.7 423.4L729.2 422.5L733.7 426.7L738.3 431.0L742.8 428.7L747.3 433.0L751.9 436.5L756.4 439.8L760.9 441.7L765.5 448.8L770.0 451.6L774.1 452.6L778.1 455.4L782.2 459.5L786.3 459.9L791.8 466.1L797.2 476.5L801.3 475.7L805.4 478.7L809.5 482.8L813.6 485.1L817.7 486.1L821.8 488.2L825.8 492.0L829.9 498.4L834.0 502.7L838.2 503.7L842.3 509.5L842.3 529.7L829.9 521.3L813.6 511.0L797.2 501.4L786.3 494.1L770.0 484.0L742.8 467.2L715.6 454.6L688.4 447.8L666.6 443.3L647.5 440.3L639.4 438.3L628.5 436.5L620.3 432.6L595.8 425.1L577.9 420.3Z" fill="#6e1c05" filter="url(#bl2)"/><path d="M577.9 389.4L582.4 387.7L586.8 390.5L591.3 390.9L595.8 389.7L599.9 389.8L604.0 391.3L608.0 389.9L612.1 392.0L616.2 390.2L620.3 391.2L624.4 399.0L628.5 405.6L634.0 402.9L639.4 399.0L643.5 404.5L647.5 406.1L652.3 404.2L657.0 404.0L661.8 403.9L666.6 402.6L671.0 402.9L675.3 408.0L679.7 409.4L684.0 409.0L688.4 411.1L692.9 410.3L697.5 413.5L702.0 412.1L706.5 416.0L711.1 416.5L715.6 419.4L720.1 417.8L724.7 423.4L729.2 422.5L733.7 426.7L738.3 431.0L742.8 428.7L747.3 433.0L751.9 436.5L756.4 439.8L760.9 441.7L765.5 448.8L770.0 451.6L774.1 452.6L778.1 455.4L782.2 459.5L786.3 459.9L791.8 466.1L797.2 476.5L801.3 475.7L805.4 478.7L809.5 482.8L813.6 485.1L817.7 486.1L821.8 488.2L825.8 492.0L829.9 498.4L834.0 502.7L838.2 503.7L842.3 509.5L842.3 523.6L829.9 513.9L813.6 502.5L797.2 493.4L786.3 484.5L770.0 473.8L742.8 456.4L715.6 443.4L688.4 436.3L666.6 431.5L647.5 430.0L639.4 427.1L628.5 427.3L620.3 420.8L595.8 414.2L577.9 411.3Z" fill="#a8300a" filter="url(#bl2)"/><path d="M577.9 389.4L582.4 387.7L586.8 390.5L591.3 390.9L595.8 389.7L599.9 389.8L604.0 391.3L608.0 389.9L612.1 392.0L616.2 390.2L620.3 391.2L624.4 399.0L628.5 405.6L634.0 402.9L639.4 399.0L643.5 404.5L647.5 406.1L652.3 404.2L657.0 404.0L661.8 403.9L666.6 402.6L671.0 402.9L675.3 408.0L679.7 409.4L684.0 409.0L688.4 411.1L692.9 410.3L697.5 413.5L702.0 412.1L706.5 416.0L711.1 416.5L715.6 419.4L720.1 417.8L724.7 423.4L729.2 422.5L733.7 426.7L738.3 431.0L742.8 428.7L747.3 433.0L751.9 436.5L756.4 439.8L760.9 441.7L765.5 448.8L770.0 451.6L774.1 452.6L778.1 455.4L782.2 459.5L786.3 459.9L791.8 466.1L797.2 476.5L801.3 475.7L805.4 478.7L809.5 482.8L813.6 485.1L817.7 486.1L821.8 488.2L825.8 492.0L829.9 498.4L834.0 502.7L838.2 503.7L842.3 509.5L842.3 516.0L829.9 504.4L813.6 491.8L797.2 483.2L786.3 472.3L770.0 460.9L742.8 442.7L715.6 429.4L688.4 421.6L666.6 416.5L647.5 417.0L639.4 413.1L628.5 415.5L620.3 405.7L595.8 400.3L577.9 399.9Z" fill="#e04812" filter="url(#bl2)"/><path d="M577.9 394.3L595.8 392.6L620.3 397.0L628.5 409.6L639.4 405.2L647.5 410.0L666.6 407.9L688.4 413.3L715.6 421.5L742.8 435.1L770.0 454.1L786.3 466.1L797.2 478.6L813.6 486.8L829.9 500.4L842.3 513.5L842.3 530.7L829.9 522.3L813.6 512.0L797.2 502.4L786.3 495.1L770.0 485.0L742.8 468.2L715.6 455.6L688.4 448.8L666.6 444.3L647.5 441.3L639.4 439.3L628.5 437.5L620.3 433.6L595.8 426.1L577.9 421.3Z" fill="#fff" filter="url(#fDkR)" opacity="0.6"/><path d="M1186 893h0m-5 14h0m72 0h0m52 2h0m-69 15h0m9-1h0m104 4h0m-169 8h0m69 4h0m5-6h0m0 8h0m5-10h0m20 8h0m49 0h0m36-5h0m0 0h0m-159 14h0m73 5h0m73-4h0m12 3h0m-181 5h0m54-1h0m39-1h0m73 9h0m-176 4h0m99 0h0m40-1h0m9 5h0m43 1h0m-183 12h0m11-6h0m0 8h0m1-2h0m135-6h0m43 1h0m3 9h0m8-8h0m-61 17h0m2-7h0m15 0h0m48 6h0m-216 16h0m19 0h0m68-8h0m15 0h0m11 6h0m48 3h0m38-7h0m95-2h0m-233 12h0m158 6h0m94-1h0m32-1h0m-354 7h0m95 2h0m49-1h0m110 5h0m40-6h0m69 3h0m-285 9h0m36-1h0m23 3h0m51-4h0m-175 17h0m69-3h0m22 3h0m39 3h0m112 3h0m29-8h0m4 6h0m37-7h0m-242 21h0m3-8h0m26 8h0m23-7h0m51-3h0m7 1h0m167 8h0m16-6h0m-231 14h0m17 1h0m16-6h0m131 6h0m87 2h0m-228 15h0m68-8h0m3 2h0m14 3h0m142-8h0m-265 21h0m6-1h0m61-6h0m31-2h0m65 11h0m51-6h0m63 0h0m23-1h0m-384 10h0m97 3h0m60 4h0m59 1h0m28-4h0m209-2h0m-456 17h0m56 0h0m80 2h0m117-5h0m170-1h0m-429 12h0m59-3h0m107 8h0m144-1h0m-148 3h0m40 1h0m80 7h0m26 0h0m15-6h0m-342 18h0m28-4h0m409 4h0" stroke="#e8541a" stroke-width="4.4" stroke-linecap="round" fill="none" transform="scale(0.5)"/><ellipse cx="634.9" cy="550.3" rx="36" ry="20" fill="#000" fill-opacity="0.7" transform="rotate(35 634.9 550.3)" filter="url(#bl4)"/><ellipse cx="729.9" cy="567.3" rx="22" ry="12" fill="#000" fill-opacity="0.7" transform="rotate(0 729.9 567.3)" filter="url(#bl4)"/><rect x="785.6" y="573.7" width="41.0" height="3.0" fill="#fff"/><text x="831.7" y="564.1" font-size="17.9" text-anchor="end" fill="#fff">100um</text></g>
<g clip-path="url(#cp13)"><rect x="845.7" y="325.3" width="259.5" height="259.5" fill="#000"/><path d="M843.7 412.3C846.7 412.0 854.5 410.2 861.6 410.6C868.7 411.1 880.6 412.2 886.1 415.0C891.6 417.8 891.1 426.2 894.3 427.6C897.5 429.0 902.0 423.1 905.2 423.2C908.4 423.3 908.8 427.6 913.3 428.0C917.8 428.4 925.6 425.3 932.4 425.9C939.2 426.4 946.0 429.0 954.2 431.3C962.4 433.6 972.3 435.9 981.4 439.5C990.5 443.1 999.5 447.7 1008.6 453.1C1017.7 458.5 1028.5 466.9 1035.8 472.1C1043.0 477.3 1047.6 480.0 1052.1 484.1C1056.6 488.2 1058.5 493.2 1063.0 496.6C1067.5 500.1 1074.0 501.2 1079.4 504.8C1084.9 508.4 1090.9 513.9 1095.7 518.4C1100.5 522.9 1106.0 529.3 1108.1 531.5L1107.7 587.3L843.7 587.3Z" fill="#08002a"/><path d="M843.7 416.3C846.7 416.0 854.5 414.2 861.6 414.6C868.7 415.1 880.6 416.2 886.1 419.0C891.6 421.8 891.1 430.2 894.3 431.6C897.5 433.0 902.0 427.1 905.2 427.2C908.4 427.3 908.8 431.6 913.3 432.0C917.8 432.4 925.6 429.3 932.4 429.9C939.2 430.4 946.0 433.0 954.2 435.3C962.4 437.6 972.3 439.9 981.4 443.5C990.5 447.1 999.5 451.7 1008.6 457.1C1017.7 462.5 1028.5 470.9 1035.8 476.1C1043.0 481.3 1047.6 484.0 1052.1 488.1C1056.6 492.2 1058.5 497.2 1063.0 500.6C1067.5 504.1 1074.0 505.2 1079.4 508.8C1084.9 512.4 1090.9 517.9 1095.7 522.4C1100.5 526.9 1106.0 533.3 1108.1 535.5L1107.7 587.3L843.7 587.3Z" fill="#fff" filter="url(#fB2)"/><path d="M843.7 391.5L848.2 390.0L852.7 388.2L857.1 387.8L861.6 387.8L865.7 387.8L869.8 390.1L873.9 389.0L877.9 389.4L882.0 390.2L886.1 391.1L890.2 400.3L894.3 403.7L899.8 403.2L905.2 402.5L909.2 403.5L913.3 404.4L918.1 407.2L922.9 406.7L927.6 402.3L932.4 402.7L936.8 405.0L941.1 407.5L945.5 406.6L949.8 409.3L954.2 408.1L958.7 411.7L963.3 411.2L967.8 412.6L972.3 416.0L976.9 417.8L981.4 419.1L985.9 420.1L990.5 421.7L995.0 425.3L999.5 427.2L1004.1 430.4L1008.6 432.5L1013.1 432.5L1017.7 436.8L1022.2 441.4L1026.7 442.5L1031.3 445.4L1035.8 447.8L1039.9 453.5L1044.0 458.2L1048.0 461.4L1052.1 460.3L1057.6 469.3L1063.0 474.2L1067.1 477.3L1071.2 478.2L1075.3 482.8L1079.4 485.1L1083.5 484.0L1087.6 490.6L1091.6 491.2L1095.7 494.2L1099.8 499.7L1104.0 506.2L1108.1 509.5L1108.1 529.7L1095.7 521.3L1079.4 511.0L1063.0 501.4L1052.1 494.1L1035.8 484.0L1008.6 467.2L981.4 454.6L954.2 447.8L932.4 443.3L913.3 440.3L905.2 438.3L894.3 436.5L886.1 432.6L861.6 425.1L843.7 420.3Z" fill="#52b848"/><path d="M843.7 397.8L861.6 397.7L886.1 402.9L894.3 413.3L905.2 410.5L913.3 414.6L932.4 413.7L954.2 418.9L981.4 426.8L1008.6 440.1L1035.8 458.6L1052.1 470.1L1063.0 481.3L1079.4 489.9L1095.7 502.6L1108.1 514.6L1108.1 529.7L1095.7 521.3L1079.4 511.0L1063.0 501.4L1052.1 494.1L1035.8 484.0L1008.6 467.2L981.4 454.6L954.2 447.8L932.4 443.3L913.3 440.3L905.2 438.3L894.3 436.5L886.1 432.6L861.6 425.1L843.7 420.3Z" fill="#fff" filter="url(#fY)" opacity="0.5"/><path d="M843.7 399.3L861.6 399.6L886.1 404.9L894.3 414.9L905.2 412.3L913.3 416.3L932.4 415.7L954.2 420.9L981.4 428.6L1008.6 441.9L1035.8 460.3L1052.1 471.7L1063.0 482.6L1079.4 491.3L1095.7 503.9L1108.1 515.6L1108.1 529.7L1095.7 521.3L1079.4 511.0L1063.0 501.4L1052.1 494.1L1035.8 484.0L1008.6 467.2L981.4 454.6L954.2 447.8L932.4 443.3L913.3 440.3L905.2 438.3L894.3 436.5L886.1 432.6L861.6 425.1L843.7 420.3Z" fill="#fff" filter="url(#fM)"/><path d="M843.7 396.3L861.6 395.9L886.1 400.9L894.3 411.8L905.2 408.6L913.3 412.9L932.4 411.8L954.2 417.0L981.4 424.9L1008.6 438.3L1035.8 456.9L1052.1 468.5L1063.0 480.0L1079.4 488.4L1095.7 501.4L1108.1 513.5L1108.1 525.7L1095.7 517.3L1079.4 507.0L1063.0 497.4L1052.1 490.1L1035.8 480.0L1008.6 463.2L981.4 450.6L954.2 443.8L932.4 439.3L913.3 436.3L905.2 434.3L894.3 432.5L886.1 428.6L861.6 421.1L843.7 416.3Z" fill="#fff" filter="url(#fW)"/><path d="M843.7 391.5L848.2 390.0L852.7 388.2L857.1 387.8L861.6 387.8L865.7 387.8L869.8 390.1L873.9 389.0L877.9 389.4L882.0 390.2L886.1 391.1L890.2 400.3L894.3 403.7L899.8 403.2L905.2 402.5L909.2 403.5L913.3 404.4L918.1 407.2L922.9 406.7L927.6 402.3L932.4 402.7L936.8 405.0L941.1 407.5L945.5 406.6L949.8 409.3L954.2 408.1L958.7 411.7L963.3 411.2L967.8 412.6L972.3 416.0L976.9 417.8L981.4 419.1L985.9 420.1L990.5 421.7L995.0 425.3L999.5 427.2L1004.1 430.4L1008.6 432.5L1013.1 432.5L1017.7 436.8L1022.2 441.4L1026.7 442.5L1031.3 445.4L1035.8 447.8L1039.9 453.5L1044.0 458.2L1048.0 461.4L1052.1 460.3L1057.6 469.3L1063.0 474.2L1067.1 477.3L1071.2 478.2L1075.3 482.8L1079.4 485.1L1083.5 484.0L1087.6 490.6L1091.6 491.2L1095.7 494.2L1099.8 499.7L1104.0 506.2L1108.1 509.5L1108.1 513.9L1101.9 510.5L1095.7 499.8L1090.3 501.1L1084.8 493.2L1079.4 486.8L1073.9 483.2L1068.5 482.0L1063.0 483.3L1057.6 471.8L1052.1 466.0L1046.7 463.6L1041.2 460.5L1035.8 457.4L1030.4 451.9L1024.9 448.6L1019.5 447.3L1014.0 440.3L1008.6 439.5L1003.2 433.0L997.7 432.5L992.3 428.4L986.8 428.3L981.4 423.9L976.0 427.1L970.5 419.8L965.1 418.7L959.6 416.9L954.2 419.9L948.8 416.8L943.3 416.5L937.9 413.1L932.4 415.9L926.0 414.8L919.7 414.0L913.3 412.8L905.2 407.8L899.8 413.3L894.3 414.5L886.1 400.4L880.0 399.6L873.9 399.1L867.7 398.2L861.6 393.3L855.6 395.5L849.7 394.2L843.7 400.4Z" fill="#5cf53a" filter="url(#bl1)"/><path d="M1753 884h0m-7 21h0m12-9h0m27 4h0m-80 13h0m47 4h0m-55 8h0m180-4h0m14 10h0m-16 16h0m33 0h0m-168 17h0m127-6h0m33 2h0m9 6h0m23-8h0m-228 11h0m6-2h0m27 6h0m49-2h0m14 4h0m93-1h0m41-2h0m-169 10h0m40 4h0m47 0h0m90 2h0m-69 5h0m30 8h0m113-3h0m-290 5h0m27 2h0m-57 10h0m152 2h0m4 2h0m75 7h0m42-1h0m-248 5h0m8 2h0m224 3h0m44-6h0m6 8h0m73-8h0m-263 10h0m186 5h0m40 3h0m37-1h0m-373 10h0m64-1h0m11 5h0m20-6h0m38 5h0m44-2h0m152-5h0m89 9h0m-328 5h0m40 3h0m66-6h0m-56 12h0m28 2h0m14 6h0m119-8h0m138 5h0m3 5h0m-287 8h0m19 0h0m137-4h0m88-2h0m18 10h0m-371 7h0m68 3h0m4 2h0m77-1h0m172-8h0m64-2h0m-383 21h0m72-9h0m88 3h0m10 4h0m44-7h0m67 0h0m107 7h0m38-1h0m-477 9h0m97 7h0m42-3h0m1-5h0m53-2h0m7 6h0m111 6h0m105-12h0m-373 15h0m233 3h0m35-2h0m170-1h0m-346 13h0m79 7h0m6-2h0m34-4h0m16 3h0m187-1h0m-428 12h0m19 0h0m9 1h0m47-1h0m130 1h0m121 2h0m18-3h0m66 2h0m55-6h0" stroke="#e855d8" stroke-width="4.2" stroke-linecap="round" fill="none" transform="scale(0.5)"/><path d="M1719 889h0m40-1h0m-53 7h0m44 2h0m-18 44h0m90 3h0m60 9h0m14 0h0m61-2h0m-204 8h0m131-2h0m-108 11h0m20-1h0m119 10h0m23-6h0m-242 15h0m19 3h0m86-1h0m174-4h0m-171 16h0m78-7h0m32 6h0m9-4h0m-68 19h0m7-3h0m119-9h0m13 7h0m-271 14h0m49 1h0m226-3h0m-242 15h0m137 1h0m144-8h0m-259 12h0m103 4h0m21 4h0m105-7h0m-291 11h0m200-2h0m184 7h0m-261 12h0m108 3h0m-120 13h0m60-5h0m185-1h0m-351 16h0m25-7h0m213 4h0m-67 7h0m-175 18h0m8-3h0m26 2h0m20-4h0m85 0h0m113 6h0m55 3h0m-269 8h0m275 4h0m-281 10h0m202-5h0m31 6h0m-130 9h0m125-8h0m22 11h0m42-11h0m98 11h0m-403 7h0m111-6h0m134 3h0m62 3h0" stroke="#f0e050" stroke-width="3.8" stroke-linecap="round" fill="none" transform="scale(0.5)"/><path d="M1843 938h0m-82 15h0m72-5h0m131 22h0m21-2h0m-173 32h0m-52 10h0m35 15h0m40-8h0m237 8h0m-365 11h0m237-4h0m42-2h0m21-2h0m81 12h0m-378 36h0m155 1h0m18 8h0m-4 18h0m255-1h0m-284 20h0m-8 3h0m295-1h0m-104 20h0m124 1h0m26 1h0m-463 3h0m29 1h0m63 3h0m366 8h0" stroke="#fff" stroke-width="3.4" stroke-linecap="round" fill="none" transform="scale(0.5)"/><ellipse cx="905.7" cy="540.3" rx="26" ry="50" fill="#000" fill-opacity="0.85" transform="rotate(25 905.7 540.3)" filter="url(#bl4)"/><ellipse cx="1010.7" cy="577.3" rx="28" ry="12" fill="#000" fill-opacity="0.85" transform="rotate(0 1010.7 577.3)" filter="url(#bl4)"/><rect x="857.5" y="377.6" width="98.4" height="98.4" fill="none" stroke="#fff" stroke-width="2.8" stroke-dasharray="8 3"/><line x1="955.9" y1="377.6" x2="1105.5" y2="329.0" stroke="#fff" stroke-width="2.8" stroke-dasharray="8 3"/><line x1="955.9" y1="476.0" x2="1105.5" y2="580.5" stroke="#fff" stroke-width="2.8" stroke-dasharray="8 3"/><rect x="1054.9" y="571.0" width="41.0" height="3.2" fill="#fff"/></g>
<g clip-path="url(#cp14)"><rect x="1113.9" y="325.3" width="259.5" height="259.5" fill="#000"/><path d="M1112.0 481.2C1117.4 481.3 1134.4 480.8 1144.2 482.0C1154.0 483.2 1162.7 485.4 1171.1 488.3C1179.5 491.2 1186.9 495.2 1194.8 499.4C1202.7 503.6 1210.6 510.2 1218.5 513.6C1226.4 517.0 1233.0 518.1 1242.2 519.9C1251.4 521.7 1263.3 522.8 1273.8 524.6C1284.3 526.5 1294.9 528.6 1305.4 531.0C1315.9 533.4 1325.4 536.6 1337.0 538.8C1348.6 541.0 1368.7 543.5 1375.0 544.4L1375.9 587.3L1111.9 587.3Z" fill="#fff" filter="url(#fBz3)"/><path d="M1112.0 407.9L1116.4 407.9L1120.8 404.0L1125.3 405.6L1129.7 405.7L1134.1 405.7L1138.6 405.2L1143.0 404.9L1147.4 405.8L1151.5 402.4L1155.5 404.2L1159.6 405.9L1163.6 402.2L1167.7 402.5L1171.7 405.6L1175.8 405.9L1180.5 405.9L1185.3 409.7L1190.0 416.7L1194.8 419.9L1199.5 420.8L1204.2 422.6L1209.0 424.9L1213.7 426.6L1218.0 426.6L1222.4 430.0L1226.8 436.1L1231.1 440.0L1236.7 435.5L1242.2 429.8L1246.7 429.3L1251.2 429.1L1255.7 427.6L1260.3 430.4L1264.8 428.1L1269.3 429.2L1273.8 428.7L1278.3 429.3L1282.8 432.0L1287.3 432.5L1291.9 433.0L1296.4 436.9L1300.9 435.4L1305.4 436.7L1309.9 438.7L1314.4 441.2L1318.9 443.9L1323.5 443.7L1328.0 444.9L1332.5 448.1L1337.0 448.1L1341.2 449.5L1345.4 448.8L1349.7 451.7L1353.9 449.3L1358.1 449.8L1362.3 450.4L1366.6 450.9L1370.8 452.9L1375.0 452.3L1375.0 538.4L1337.0 532.8L1305.4 525.0L1273.8 518.6L1242.2 513.9L1218.5 507.6L1194.8 493.4L1171.1 482.3L1144.2 476.0L1112.0 475.2Z" fill="#6cb82c"/><path d="M1112.0 426.5L1147.4 424.1L1175.8 424.1L1194.8 439.1L1213.7 445.4L1231.1 458.1L1242.2 450.2L1273.8 448.6L1305.4 458.1L1337.0 469.1L1375.0 472.3L1375.0 528.4L1337.0 522.8L1305.4 515.0L1273.8 508.6L1242.2 503.9L1218.5 497.6L1194.8 483.4L1171.1 472.3L1144.2 466.0L1112.0 465.2Z" fill="#e8a81c" opacity="0.8" filter="url(#bl3)"/><path d="M1112.0 412.5L1147.4 410.1L1175.8 410.1L1194.8 425.1L1213.7 431.4L1194.8 485.4L1171.1 474.3L1144.2 468.0L1112.0 467.2Z" fill="#58c030" opacity="0.8" filter="url(#bl3)"/><path d="M1112.0 422.5L1147.4 420.1L1175.8 420.1L1194.8 435.1L1213.7 441.4L1231.1 454.1L1242.2 446.2L1273.8 444.6L1305.4 454.1L1337.0 465.1L1375.0 468.3L1375.0 538.4L1337.0 532.8L1305.4 525.0L1273.8 518.6L1242.2 513.9L1218.5 507.6L1194.8 493.4L1171.1 482.3L1144.2 476.0L1112.0 475.2Z" fill="#fff" filter="url(#fMz)"/><path d="M1112.0 446.5L1147.4 444.1L1175.8 444.1L1194.8 459.1L1213.7 465.4L1231.1 478.1L1242.2 470.2L1273.8 468.6L1305.4 478.1L1337.0 489.1L1375.0 492.3L1375.0 538.4L1337.0 532.8L1305.4 525.0L1273.8 518.6L1242.2 513.9L1218.5 507.6L1194.8 493.4L1171.1 482.3L1144.2 476.0L1112.0 475.2Z" fill="#fff" filter="url(#fPk)" opacity="0.85"/><path d="M1112.0 407.9L1116.4 407.9L1120.8 404.0L1125.3 405.6L1129.7 405.7L1134.1 405.7L1138.6 405.2L1143.0 404.9L1147.4 405.8L1151.5 402.4L1155.5 404.2L1159.6 405.9L1163.6 402.2L1167.7 402.5L1171.7 405.6L1175.8 405.9L1180.5 405.9L1185.3 409.7L1190.0 416.7L1194.8 419.9L1199.5 420.8L1204.2 422.6L1209.0 424.9L1213.7 426.6L1218.0 426.6L1222.4 430.0L1226.8 436.1L1231.1 440.0L1236.7 435.5L1242.2 429.8L1246.7 429.3L1251.2 429.1L1255.7 427.6L1260.3 430.4L1264.8 428.1L1269.3 429.2L1273.8 428.7L1278.3 429.3L1282.8 432.0L1287.3 432.5L1291.9 433.0L1296.4 436.9L1300.9 435.4L1305.4 436.7L1309.9 438.7L1314.4 441.2L1318.9 443.9L1323.5 443.7L1328.0 444.9L1332.5 448.1L1337.0 448.1L1341.2 449.5L1345.4 448.8L1349.7 451.7L1353.9 449.3L1358.1 449.8L1362.3 450.4L1366.6 450.9L1370.8 452.9L1375.0 452.3L1375.0 464.3L1368.7 465.9L1362.3 459.7L1356.0 467.0L1349.7 460.6L1343.3 465.9L1337.0 465.7L1330.7 462.7L1324.4 453.8L1318.0 450.9L1311.7 456.4L1305.4 445.8L1299.1 447.0L1292.8 446.3L1286.4 439.5L1280.1 445.7L1273.8 440.4L1267.5 443.3L1261.2 442.2L1254.8 439.4L1248.5 440.7L1242.2 445.1L1231.1 448.5L1222.4 446.6L1213.7 440.3L1207.4 431.7L1201.1 432.1L1194.8 436.0L1188.5 430.2L1182.1 419.7L1175.8 414.8L1168.7 421.0L1161.6 415.2L1154.5 413.3L1147.4 413.5L1140.3 419.2L1133.2 412.8L1126.2 417.9L1119.1 420.9L1112.0 420.2Z" fill="#74f53a" filter="url(#bl1)"/><path d="M1227 428l5 22 6 -3 4 -20z" fill="#000"/><ellipse cx="1199" cy="440" rx="4" ry="7" fill="#000"/><ellipse cx="1162" cy="428" rx="2.5" ry="5" fill="#000"/><ellipse cx="1284" cy="456" rx="4" ry="3.5" fill="#000"/><path d="M2255 1002h0m10 5h0m65 6h0m-81 9h0m-13 8h0m75 5h0m81 6h0m97 13h0m-260 14h0m45 1h0m208-4h0m-191 9h0m76 10h0m41-3h0m36-4h0m64 5h0m115-8h0m-157 15h0m7 5h0m4 3h0m-199 9h0m20-2h0m188-5h0m-169 17h0m71 5h0m297-7h0m-343 14h0m241 0h0m74 0h0m3 1h0m-282 8h0m335 2h0m-386 18h0m33-8h0m9 7h0m116-3h0m30 4h0m220-5h0m-244 13h0m148-2h0" stroke="#f05ad8" stroke-width="6.4" stroke-linecap="round" fill="none" transform="scale(0.5)"/><path d="M2240 1002h0m152 22h0m35 16h0m-187 31h0m319-4h0m29 5h0m123 26h0m-450 4h0m63 5h0m1-9h0m81 29h0m161-3h0m30 6h0m80-8h0m-42 21h0m-281 9h0m45 2h0m124 3h0m21-7h0m39 7h0m-299 7h0m337 1h0" stroke="#f5e050" stroke-width="6.0" stroke-linecap="round" fill="none" transform="scale(0.5)"/><path d="M2264 980h0m137 45h0m-48 10h0m146 32h0m6-3h0m-174 21h0m81-11h0m309 19h0m6 30h0m-481 18h0" stroke="#fff" stroke-width="4.8" stroke-linecap="round" fill="none" transform="scale(0.5)"/><path d="M1112.0 475.2C1117.4 475.3 1134.4 474.8 1144.2 476.0C1154.0 477.2 1162.7 479.4 1171.1 482.3C1179.5 485.2 1186.9 489.2 1194.8 493.4C1202.7 497.6 1210.6 504.2 1218.5 507.6C1226.4 511.0 1233.0 512.1 1242.2 513.9C1251.4 515.7 1263.3 516.8 1273.8 518.6C1284.3 520.5 1294.9 522.6 1305.4 525.0C1315.9 527.4 1325.4 530.6 1337.0 532.8C1348.6 535.0 1368.7 537.5 1375.0 538.4" fill="none" stroke="#fff" stroke-width="2.8" stroke-dasharray="8 3"/><path d="M1152.7 380.9H1159.5V389.8H1162.9L1156.1 397.8L1149.3 389.8H1152.7Z" fill="#fff"/><path d="M1230.1 419.9H1236.9V428.8H1240.3L1233.5 436.8L1226.7 428.8H1230.1Z" fill="#fff"/><path d="M1272.6 411.2H1279.4V420.0H1282.8L1276.0 428.0L1269.2 420.0H1272.6Z" fill="#fff" transform="rotate(-12 1276.0 419.6)"/><rect x="1327.5" y="572.0" width="40.5" height="2.8" fill="#fff"/><text x="1364.8" y="562.9" font-size="17.9" text-anchor="end" fill="#fff">50um</text></g>
</svg>
</body></html>
